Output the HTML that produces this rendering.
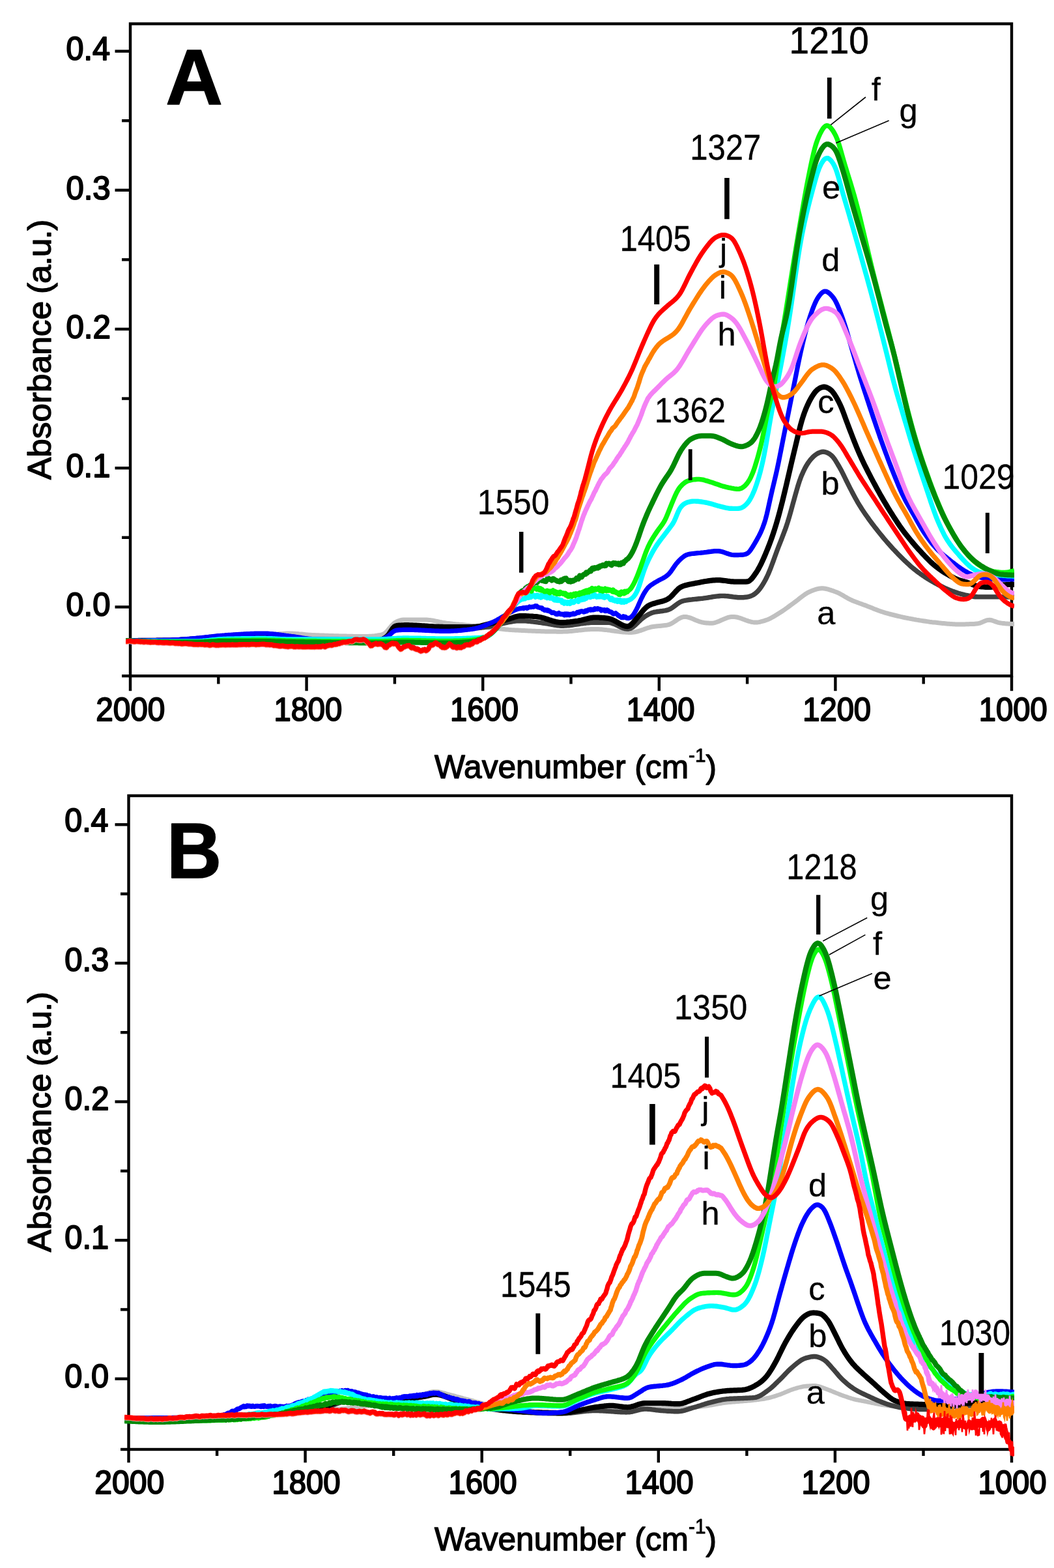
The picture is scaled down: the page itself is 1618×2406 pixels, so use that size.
<!DOCTYPE html>
<html lang="en">
<head>
<meta charset="utf-8">
<title>Absorbance spectra</title>
<style>
html,body{margin:0;padding:0;background:#fff;}
body{width:1618px;height:2406px;overflow:hidden;}
svg{display:block;}
text{font-family:"Liberation Sans",sans-serif;fill:#000;}
</style>
</head>
<body>
<svg width="1618" height="2406" viewBox="0 0 1618 2406">
<rect x="0" y="0" width="1618" height="2406" fill="#fff"/>
<g id="plotA">
<clipPath id="clipA"><rect x="193" y="36.5" width="1364" height="1012.7"/></clipPath>
<rect x="200" y="36.5" width="1353" height="1000.7" fill="none" stroke="#000" stroke-width="4.4"/>
<line x1="176.5" y1="931.4" x2="200" y2="931.4" stroke="#000" stroke-width="4.4"/>
<line x1="176.5" y1="718.2" x2="200" y2="718.2" stroke="#000" stroke-width="4.4"/>
<line x1="176.5" y1="505.0" x2="200" y2="505.0" stroke="#000" stroke-width="4.4"/>
<line x1="176.5" y1="291.8" x2="200" y2="291.8" stroke="#000" stroke-width="4.4"/>
<line x1="176.5" y1="78.6" x2="200" y2="78.6" stroke="#000" stroke-width="4.4"/>
<line x1="187" y1="824.8" x2="200" y2="824.8" stroke="#000" stroke-width="4.4"/>
<line x1="187" y1="611.6" x2="200" y2="611.6" stroke="#000" stroke-width="4.4"/>
<line x1="187" y1="398.4" x2="200" y2="398.4" stroke="#000" stroke-width="4.4"/>
<line x1="187" y1="185.2" x2="200" y2="185.2" stroke="#000" stroke-width="4.4"/>
<line x1="187" y1="1037.2" x2="200" y2="1037.2" stroke="#000" stroke-width="4.4"/>
<line x1="200.0" y1="1037.2" x2="200.0" y2="1060.2" stroke="#000" stroke-width="4.4"/>
<line x1="335.3" y1="1037.2" x2="335.3" y2="1049.5" stroke="#000" stroke-width="4.4"/>
<line x1="470.6" y1="1037.2" x2="470.6" y2="1060.2" stroke="#000" stroke-width="4.4"/>
<line x1="605.9" y1="1037.2" x2="605.9" y2="1049.5" stroke="#000" stroke-width="4.4"/>
<line x1="741.2" y1="1037.2" x2="741.2" y2="1060.2" stroke="#000" stroke-width="4.4"/>
<line x1="876.5" y1="1037.2" x2="876.5" y2="1049.5" stroke="#000" stroke-width="4.4"/>
<line x1="1011.8" y1="1037.2" x2="1011.8" y2="1060.2" stroke="#000" stroke-width="4.4"/>
<line x1="1147.1" y1="1037.2" x2="1147.1" y2="1049.5" stroke="#000" stroke-width="4.4"/>
<line x1="1282.4" y1="1037.2" x2="1282.4" y2="1060.2" stroke="#000" stroke-width="4.4"/>
<line x1="1417.7" y1="1037.2" x2="1417.7" y2="1049.5" stroke="#000" stroke-width="4.4"/>
<line x1="1553.0" y1="1037.2" x2="1553.0" y2="1060.2" stroke="#000" stroke-width="4.4"/>
<g clip-path="url(#clipA)" fill="none" stroke-linejoin="round" stroke-linecap="butt">
<path d="M193.0 983.1L195.0 983.1L197.0 983.2L199.0 983.2L201.0 983.3L203.0 983.3L205.0 983.4L207.0 983.4L209.0 983.4L211.0 983.5L213.0 983.5L215.0 983.5L217.0 983.6L219.0 983.6L221.0 983.6L223.0 983.7L225.0 983.7L227.0 983.7L229.0 983.7L231.0 983.8L233.0 983.8L235.0 983.8L237.0 983.8L239.0 983.8L241.0 983.8L243.0 983.9L245.0 983.9L247.0 983.9L249.0 983.9L251.0 983.9L253.0 983.9L255.0 983.9L257.0 983.9L259.0 983.9L261.0 984.0L263.0 984.0L265.0 984.0L267.0 984.0L269.0 984.0L271.0 984.0L273.0 984.0L275.0 984.0L277.0 984.0L279.0 984.0L281.0 984.0L283.0 984.0L285.0 984.0L287.0 984.0L289.0 984.0L291.0 984.0L293.0 984.0L295.0 984.0L297.0 984.0L299.0 984.0L301.0 984.0L303.0 984.0L305.0 983.9L307.0 983.9L309.0 983.8L311.0 983.8L313.0 983.7L315.0 983.6L317.0 983.5L319.0 983.4L321.0 983.2L323.0 983.1L325.0 982.9L327.0 982.8L329.0 982.6L331.0 982.4L333.0 982.2L335.0 982.1L337.0 981.9L339.0 981.7L341.0 981.4L343.0 981.2L345.0 981.0L347.0 980.8L349.0 980.6L351.0 980.3L353.0 980.1L355.0 979.8L357.0 979.6L359.0 979.4L361.0 979.1L363.0 978.9L365.0 978.6L367.0 978.4L369.0 978.2L371.0 977.9L373.0 977.7L375.0 977.5L377.0 977.2L379.0 977.0L381.0 976.8L383.0 976.6L385.0 976.4L387.0 976.2L389.0 976.0L391.0 975.8L393.0 975.6L395.0 975.4L397.0 975.2L399.0 975.1L401.0 974.9L403.0 974.8L405.0 974.6L407.0 974.4L409.0 974.3L411.0 974.1L413.0 973.9L415.0 973.7L417.0 973.5L419.0 973.4L421.0 973.2L423.0 973.0L425.0 972.9L427.0 972.7L429.0 972.6L431.0 972.5L433.0 972.4L435.0 972.3L437.0 972.2L439.0 972.1L441.0 972.1L443.0 972.0L445.0 972.0L447.0 972.0L449.0 972.1L451.0 972.2L453.0 972.3L455.0 972.4L457.0 972.6L459.0 972.8L461.0 972.9L463.0 973.1L465.0 973.3L467.0 973.5L469.0 973.7L471.0 973.9L473.0 974.1L475.0 974.2L477.0 974.3L479.0 974.4L481.0 974.5L483.0 974.6L485.0 974.7L487.0 974.8L489.0 974.8L491.0 974.9L493.0 975.0L495.0 975.1L497.0 975.1L499.0 975.2L501.0 975.3L503.0 975.3L505.0 975.4L507.0 975.5L509.0 975.5L511.0 975.6L513.0 975.7L515.0 975.7L517.0 975.8L519.0 975.8L521.0 975.9L523.0 976.0L525.0 976.0L527.0 976.1L529.0 976.1L531.0 976.1L533.0 976.2L535.0 976.2L537.0 976.3L539.0 976.3L541.0 976.3L543.0 976.4L545.0 976.4L547.0 976.4L549.0 976.4L551.0 976.5L553.0 976.5L555.0 976.5L557.0 976.5L559.0 976.5L561.0 976.5L563.0 976.5L565.0 976.4L567.0 976.3L569.0 976.2L571.0 976.1L573.0 975.9L575.0 975.7L577.0 975.4L579.0 975.1L581.0 974.8L583.0 974.5L585.0 974.1L587.0 973.5L589.0 972.7L591.0 971.5L593.0 969.7L595.0 967.5L597.0 965.1L599.0 962.6L601.0 960.2L603.0 958.1L605.0 956.3L607.0 955.0L609.0 953.9L611.0 953.0L613.0 952.3L615.0 951.7L617.0 951.3L619.0 951.1L621.0 951.0L623.0 951.0L625.0 951.0L627.0 951.0L629.0 951.0L631.0 951.0L633.0 951.0L635.0 951.0L637.0 951.0L639.0 951.0L641.0 951.0L643.0 951.0L645.0 951.0L647.0 951.0L649.0 951.0L651.0 951.0L653.0 951.0L655.0 951.1L657.0 951.2L659.0 951.4L661.0 951.6L663.0 951.9L665.0 952.3L667.0 952.7L669.0 953.1L671.0 953.5L673.0 953.9L675.0 954.4L677.0 954.8L679.0 955.2L681.0 955.5L683.0 955.8L685.0 956.1L687.0 956.4L689.0 956.6L691.0 956.8L693.0 957.0L695.0 957.3L697.0 957.5L699.0 957.7L701.0 957.9L703.0 958.1L705.0 958.3L707.0 958.4L709.0 958.6L711.0 958.8L713.0 959.0L715.0 959.2L717.0 959.4L719.0 959.6L721.0 959.8L723.0 960.0L725.0 960.2L727.0 960.4L729.0 960.6L731.0 960.8L733.0 961.1L735.0 961.3L737.0 961.5L739.0 961.7L741.0 961.9L743.0 962.2L745.0 962.4L747.0 962.6L749.0 962.8L751.0 963.0L753.0 963.3L755.0 963.5L757.0 963.7L759.0 963.9L761.0 964.1L763.0 964.3L765.0 964.6L767.0 964.8L769.0 965.0L771.0 965.3L773.0 965.5L775.0 965.7L777.0 965.9L779.0 966.1L781.0 966.3L783.0 966.4L785.0 966.6L787.0 966.7L789.0 966.8L791.0 966.9L793.0 967.0L795.0 967.1L797.0 967.2L799.0 967.3L801.0 967.4L803.0 967.5L805.0 967.6L807.0 967.7L809.0 967.8L811.0 967.9L813.0 968.0L815.0 968.1L817.0 968.2L819.0 968.2L821.0 968.3L823.0 968.4L825.0 968.5L827.0 968.5L829.0 968.6L831.0 968.7L833.0 968.7L835.0 968.8L837.0 968.9L839.0 968.9L841.0 968.9L843.0 969.0L845.0 969.0L847.0 969.1L849.0 969.1L851.0 969.1L853.0 969.1L855.0 969.2L857.0 969.2L859.0 969.2L861.0 969.2L863.0 969.2L865.0 969.1L867.0 969.1L869.0 969.0L871.0 968.9L873.0 968.7L875.0 968.6L877.0 968.4L879.0 968.2L881.0 968.0L883.0 967.8L885.0 967.6L887.0 967.4L889.0 967.1L891.0 966.9L893.0 966.7L895.0 966.5L897.0 966.3L899.0 966.1L901.0 965.9L903.0 965.8L905.0 965.7L907.0 965.6L909.0 965.5L911.0 965.4L913.0 965.4L915.0 965.4L917.0 965.5L919.0 965.6L921.0 965.7L923.0 965.8L925.0 966.0L927.0 966.2L929.0 966.4L931.0 966.6L933.0 966.9L935.0 967.1L937.0 967.4L939.0 967.7L941.0 967.9L943.0 968.2L945.0 968.5L947.0 968.7L949.0 969.0L951.0 969.2L953.0 969.5L955.0 969.7L957.0 969.9L959.0 970.0L961.0 970.2L963.0 970.3L965.0 970.4L967.0 970.4L969.0 970.4L971.0 970.3L973.0 970.1L975.0 969.8L977.0 969.4L979.0 968.8L981.0 968.2L983.0 967.6L985.0 966.9L987.0 966.2L989.0 965.4L991.0 964.7L993.0 964.0L995.0 963.3L997.0 962.8L999.0 962.2L1001.0 961.8L1003.0 961.5L1005.0 961.2L1007.0 960.9L1009.0 960.7L1011.0 960.6L1013.0 960.4L1015.0 960.2L1017.0 960.0L1019.0 959.8L1021.0 959.6L1023.0 959.3L1025.0 958.9L1027.0 958.4L1029.0 957.6L1031.0 956.6L1033.0 955.4L1035.0 954.1L1037.0 952.8L1039.0 951.4L1041.0 950.1L1043.0 948.9L1045.0 947.9L1047.0 947.1L1049.0 946.6L1051.0 946.4L1053.0 946.5L1055.0 946.8L1057.0 947.3L1059.0 947.9L1061.0 948.6L1063.0 949.4L1065.0 950.3L1067.0 951.2L1069.0 952.0L1071.0 952.8L1073.0 953.6L1075.0 954.2L1077.0 954.7L1079.0 955.1L1081.0 955.5L1083.0 955.7L1085.0 956.0L1087.0 956.1L1089.0 956.3L1091.0 956.3L1093.0 956.2L1095.0 956.0L1097.0 955.6L1099.0 955.0L1101.0 954.3L1103.0 953.6L1105.0 952.7L1107.0 951.8L1109.0 950.9L1111.0 950.1L1113.0 949.2L1115.0 948.4L1117.0 947.7L1119.0 947.1L1121.0 946.7L1123.0 946.4L1125.0 946.4L1127.0 946.4L1129.0 946.7L1131.0 947.0L1133.0 947.5L1135.0 948.1L1137.0 948.7L1139.0 949.4L1141.0 950.2L1143.0 950.9L1145.0 951.7L1147.0 952.4L1149.0 953.1L1151.0 953.7L1153.0 954.2L1155.0 954.6L1157.0 954.9L1159.0 955.0L1161.0 955.0L1163.0 954.9L1165.0 954.6L1167.0 954.2L1169.0 953.7L1171.0 953.2L1173.0 952.6L1175.0 951.9L1177.0 951.2L1179.0 950.5L1181.0 949.6L1183.0 948.6L1185.0 947.5L1187.0 946.4L1189.0 945.2L1191.0 944.0L1193.0 942.8L1195.0 941.5L1197.0 940.3L1199.0 939.0L1201.0 937.7L1203.0 936.4L1205.0 935.0L1207.0 933.5L1209.0 932.1L1211.0 930.6L1213.0 929.1L1215.0 927.7L1217.0 926.2L1219.0 924.7L1221.0 923.3L1223.0 921.7L1225.0 920.2L1227.0 918.6L1229.0 917.0L1231.0 915.5L1233.0 914.0L1235.0 912.6L1237.0 911.2L1239.0 910.0L1241.0 908.9L1243.0 908.0L1245.0 907.1L1247.0 906.3L1249.0 905.5L1251.0 904.8L1253.0 904.2L1255.0 903.6L1257.0 903.2L1259.0 902.9L1261.0 902.7L1263.0 902.8L1265.0 903.0L1267.0 903.3L1269.0 903.7L1271.0 904.2L1273.0 904.8L1275.0 905.4L1277.0 906.1L1279.0 906.7L1281.0 907.5L1283.0 908.2L1285.0 909.0L1287.0 909.9L1289.0 910.9L1291.0 912.0L1293.0 913.1L1295.0 914.3L1297.0 915.5L1299.0 916.6L1301.0 917.8L1303.0 918.8L1305.0 919.9L1307.0 920.8L1309.0 921.7L1311.0 922.5L1313.0 923.3L1315.0 924.0L1317.0 924.8L1319.0 925.5L1321.0 926.2L1323.0 926.9L1325.0 927.7L1327.0 928.4L1329.0 929.1L1331.0 929.9L1333.0 930.7L1335.0 931.5L1337.0 932.3L1339.0 933.1L1341.0 933.9L1343.0 934.7L1345.0 935.4L1347.0 936.2L1349.0 937.0L1351.0 937.7L1353.0 938.4L1355.0 939.0L1357.0 939.7L1359.0 940.3L1361.0 940.8L1363.0 941.4L1365.0 942.0L1367.0 942.5L1369.0 943.0L1371.0 943.5L1373.0 944.0L1375.0 944.5L1377.0 945.0L1379.0 945.5L1381.0 945.9L1383.0 946.4L1385.0 946.8L1387.0 947.3L1389.0 947.7L1391.0 948.1L1393.0 948.5L1395.0 948.9L1397.0 949.2L1399.0 949.6L1401.0 950.0L1403.0 950.4L1405.0 950.7L1407.0 951.1L1409.0 951.4L1411.0 951.8L1413.0 952.1L1415.0 952.4L1417.0 952.7L1419.0 953.0L1421.0 953.3L1423.0 953.6L1425.0 953.9L1427.0 954.2L1429.0 954.4L1431.0 954.7L1433.0 954.9L1435.0 955.1L1437.0 955.3L1439.0 955.5L1441.0 955.8L1443.0 956.0L1445.0 956.2L1447.0 956.4L1449.0 956.6L1451.0 956.8L1453.0 957.0L1455.0 957.2L1457.0 957.3L1459.0 957.5L1461.0 957.6L1463.0 957.7L1465.0 957.8L1467.0 957.9L1469.0 957.9L1471.0 958.0L1473.0 958.0L1475.0 958.0L1477.0 958.0L1479.0 957.9L1481.0 957.9L1483.0 957.8L1485.0 957.8L1487.0 957.7L1489.0 957.6L1491.0 957.6L1493.0 957.5L1495.0 957.4L1497.0 957.2L1499.0 957.1L1501.0 956.8L1503.0 956.4L1505.0 955.8L1507.0 955.0L1509.0 954.1L1511.0 953.2L1513.0 952.4L1515.0 951.7L1517.0 951.4L1519.0 951.3L1521.0 951.5L1523.0 952.0L1525.0 952.7L1527.0 953.4L1529.0 954.1L1531.0 954.8L1533.0 955.4L1535.0 955.8L1537.0 956.1L1539.0 956.4L1541.0 956.6L1543.0 956.8L1545.0 956.9L1547.0 957.1L1549.0 957.2L1551.0 957.3L1553.0 957.3L1555.0 957.4L1557.0 957.4" stroke="#c0c0c0" stroke-width="7.0"/>
<path d="M193.0 983.0L195.0 983.0L197.0 983.0L199.0 983.0L201.0 983.0L203.0 983.0L205.0 983.0L207.0 983.0L209.0 983.0L211.0 983.0L213.0 983.0L215.0 983.0L217.0 983.0L219.0 983.0L221.0 983.0L223.0 983.0L225.0 983.0L227.0 983.0L229.0 983.0L231.0 983.0L233.0 983.0L235.0 983.0L237.0 983.0L239.0 983.0L241.0 983.0L243.0 983.0L245.0 983.0L247.0 983.0L249.0 983.0L251.0 983.0L253.0 983.0L255.0 983.0L257.0 983.0L259.0 983.0L261.0 983.0L263.0 983.0L265.0 982.9L267.0 982.9L269.0 982.8L271.0 982.8L273.0 982.7L275.0 982.6L277.0 982.4L279.0 982.3L281.0 982.2L283.0 982.0L285.0 981.9L287.0 981.7L289.0 981.6L291.0 981.4L293.0 981.2L295.0 981.1L297.0 980.9L299.0 980.8L301.0 980.6L303.0 980.4L305.0 980.3L307.0 980.1L309.0 979.9L311.0 979.7L313.0 979.5L315.0 979.3L317.0 979.1L319.0 978.9L321.0 978.6L323.0 978.4L325.0 978.2L327.0 978.0L329.0 977.8L331.0 977.6L333.0 977.4L335.0 977.2L337.0 977.0L339.0 976.8L341.0 976.7L343.0 976.5L345.0 976.4L347.0 976.2L349.0 976.1L351.0 976.0L353.0 975.8L355.0 975.7L357.0 975.5L359.0 975.4L361.0 975.3L363.0 975.1L365.0 975.0L367.0 974.9L369.0 974.8L371.0 974.6L373.0 974.5L375.0 974.4L377.0 974.3L379.0 974.2L381.0 974.1L383.0 974.0L385.0 973.9L387.0 973.9L389.0 973.8L391.0 973.7L393.0 973.7L395.0 973.6L397.0 973.6L399.0 973.5L401.0 973.5L403.0 973.5L405.0 973.5L407.0 973.6L409.0 973.6L411.0 973.7L413.0 973.8L415.0 974.0L417.0 974.1L419.0 974.3L421.0 974.5L423.0 974.7L425.0 975.0L427.0 975.2L429.0 975.5L431.0 975.7L433.0 976.0L435.0 976.3L437.0 976.5L439.0 976.8L441.0 977.0L443.0 977.3L445.0 977.5L447.0 977.8L449.0 978.0L451.0 978.3L453.0 978.6L455.0 978.9L457.0 979.3L459.0 979.6L461.0 979.9L463.0 980.2L465.0 980.5L467.0 980.8L469.0 981.1L471.0 981.3L473.0 981.5L475.0 981.7L477.0 981.8L479.0 981.9L481.0 982.0L483.0 982.1L485.0 982.1L487.0 982.1L489.0 982.2L491.0 982.2L493.0 982.3L495.0 982.3L497.0 982.3L499.0 982.4L501.0 982.4L503.0 982.4L505.0 982.5L507.0 982.5L509.0 982.5L511.0 982.5L513.0 982.6L515.0 982.6L517.0 982.6L519.0 982.6L521.0 982.7L523.0 982.7L525.0 982.7L527.0 982.7L529.0 982.8L531.0 982.8L533.0 982.8L535.0 982.8L537.0 982.8L539.0 982.8L541.0 982.9L543.0 982.9L545.0 982.9L547.0 982.9L549.0 982.9L551.0 982.9L553.0 982.9L555.0 982.9L557.0 982.9L559.0 983.0L561.0 983.0L563.0 983.0L565.0 983.0L567.0 983.0L569.0 983.0L571.0 983.0L573.0 983.0L575.0 983.0L577.0 983.0L579.0 983.0L581.0 982.9L583.0 982.8L585.0 982.4L587.0 981.9L589.0 981.1L591.0 980.1L593.0 979.0L595.0 977.4L597.0 975.3L599.0 972.6L601.0 969.6L603.0 966.8L605.0 964.7L607.0 963.5L609.0 962.9L611.0 962.6L613.0 962.4L615.0 962.3L617.0 962.2L619.0 962.1L621.0 962.0L623.0 962.0L625.0 962.0L627.0 962.0L629.0 962.1L631.0 962.1L633.0 962.2L635.0 962.2L637.0 962.3L639.0 962.3L641.0 962.4L643.0 962.5L645.0 962.6L647.0 962.7L649.0 962.8L651.0 962.9L653.0 963.0L655.0 963.1L657.0 963.2L659.0 963.3L661.0 963.4L663.0 963.4L665.0 963.5L667.0 963.6L669.0 963.7L671.0 963.8L673.0 963.8L675.0 963.9L677.0 963.9L679.0 964.0L681.0 964.0L683.0 964.0L685.0 964.0L687.0 964.0L689.0 964.0L691.0 964.0L693.0 964.0L695.0 964.0L697.0 964.0L699.0 964.0L701.0 964.0L703.0 964.0L705.0 964.0L707.0 964.0L709.0 964.0L711.0 964.0L713.0 964.0L715.0 964.0L717.0 964.0L719.0 964.0L721.0 964.0L723.0 964.0L725.0 964.0L727.0 964.0L729.0 963.9L731.0 963.8L733.0 963.7L735.0 963.5L737.0 963.4L739.0 963.2L741.0 962.9L743.0 962.7L745.0 962.4L747.0 962.1L749.0 961.8L751.0 961.5L753.0 961.2L755.0 960.9L757.0 960.5L759.0 960.1L761.0 959.7L763.0 959.2L765.0 958.7L767.0 958.1L769.0 957.5L771.0 956.9L773.0 956.4L775.0 956.0L777.0 955.5L779.0 955.1L781.0 954.7L783.0 954.3L785.0 954.0L787.0 953.6L789.0 953.4L791.0 953.1L793.0 952.9L795.0 952.8L797.0 952.7L799.0 952.6L801.0 952.7L803.0 952.7L805.0 952.8L807.0 952.9L809.0 953.1L811.0 953.3L813.0 953.4L815.0 953.7L817.0 953.9L819.0 954.1L821.0 954.4L823.0 954.6L825.0 954.9L827.0 955.2L829.0 955.4L831.0 955.7L833.0 956.0L835.0 956.2L837.0 956.5L839.0 956.8L841.0 957.1L843.0 957.5L845.0 957.9L847.0 958.3L849.0 958.7L851.0 959.1L853.0 959.4L855.0 959.7L857.0 959.9L859.0 960.1L861.0 960.2L863.0 960.2L865.0 960.2L867.0 960.1L869.0 960.0L871.0 959.9L873.0 959.7L875.0 959.5L877.0 959.2L879.0 959.0L881.0 958.7L883.0 958.4L885.0 958.1L887.0 957.8L889.0 957.5L891.0 957.2L893.0 956.9L895.0 956.7L897.0 956.4L899.0 956.2L901.0 955.9L903.0 955.7L905.0 955.6L907.0 955.4L909.0 955.3L911.0 955.3L913.0 955.2L915.0 955.2L917.0 955.2L919.0 955.2L921.0 955.2L923.0 955.2L925.0 955.2L927.0 955.2L929.0 955.2L931.0 955.2L933.0 955.3L935.0 955.4L937.0 955.7L939.0 956.2L941.0 956.9L943.0 957.6L945.0 958.5L947.0 959.5L949.0 960.4L951.0 961.4L953.0 962.3L955.0 963.2L957.0 963.9L959.0 964.5L961.0 964.9L963.0 965.1L965.0 965.0L967.0 964.5L969.0 963.7L971.0 962.5L973.0 961.0L975.0 959.3L977.0 957.4L979.0 955.5L981.0 953.5L983.0 951.6L985.0 949.8L987.0 948.2L989.0 946.7L991.0 945.4L993.0 944.2L995.0 943.1L997.0 942.0L999.0 941.1L1001.0 940.3L1003.0 939.7L1005.0 939.2L1007.0 938.9L1009.0 938.5L1011.0 938.3L1013.0 938.0L1015.0 937.7L1017.0 937.5L1019.0 937.2L1021.0 936.9L1023.0 936.5L1025.0 935.9L1027.0 935.2L1029.0 934.3L1031.0 933.1L1033.0 931.7L1035.0 930.2L1037.0 928.7L1039.0 927.2L1041.0 925.8L1043.0 924.5L1045.0 923.4L1047.0 922.6L1049.0 922.0L1051.0 921.5L1053.0 921.2L1055.0 920.8L1057.0 920.5L1059.0 920.3L1061.0 920.1L1063.0 919.8L1065.0 919.6L1067.0 919.4L1069.0 919.2L1071.0 919.0L1073.0 918.8L1075.0 918.6L1077.0 918.4L1079.0 918.2L1081.0 917.9L1083.0 917.6L1085.0 917.3L1087.0 917.0L1089.0 916.6L1091.0 916.3L1093.0 916.0L1095.0 915.7L1097.0 915.4L1099.0 915.1L1101.0 914.9L1103.0 914.7L1105.0 914.5L1107.0 914.4L1109.0 914.4L1111.0 914.4L1113.0 914.5L1115.0 914.6L1117.0 914.8L1119.0 915.0L1121.0 915.3L1123.0 915.5L1125.0 915.8L1127.0 916.1L1129.0 916.3L1131.0 916.5L1133.0 916.7L1135.0 916.8L1137.0 916.8L1139.0 916.8L1141.0 916.7L1143.0 916.5L1145.0 916.3L1147.0 916.0L1149.0 915.6L1151.0 915.1L1153.0 914.4L1155.0 913.5L1157.0 912.4L1159.0 911.0L1161.0 909.4L1163.0 907.5L1165.0 905.3L1167.0 902.7L1169.0 899.8L1171.0 896.7L1173.0 893.3L1175.0 889.7L1177.0 885.8L1179.0 881.5L1181.0 876.8L1183.0 871.8L1185.0 866.5L1187.0 861.1L1189.0 855.6L1191.0 850.1L1193.0 844.6L1195.0 839.3L1197.0 834.2L1199.0 829.1L1201.0 823.9L1203.0 818.7L1205.0 813.4L1207.0 807.7L1209.0 801.7L1211.0 795.2L1213.0 788.3L1215.0 781.0L1217.0 773.6L1219.0 766.4L1221.0 759.2L1223.0 752.2L1225.0 745.4L1227.0 739.1L1229.0 733.4L1231.0 728.4L1233.0 723.9L1235.0 719.8L1237.0 716.0L1239.0 712.6L1241.0 709.6L1243.0 706.8L1245.0 704.4L1247.0 702.2L1249.0 700.3L1251.0 698.6L1253.0 697.1L1255.0 695.9L1257.0 694.9L1259.0 694.1L1261.0 693.5L1263.0 693.2L1265.0 693.3L1267.0 693.7L1269.0 694.3L1271.0 695.2L1273.0 696.3L1275.0 697.7L1277.0 699.4L1279.0 701.6L1281.0 704.3L1283.0 707.3L1285.0 710.6L1287.0 714.0L1289.0 717.4L1291.0 721.1L1293.0 724.9L1295.0 728.9L1297.0 733.0L1299.0 737.2L1301.0 741.2L1303.0 745.2L1305.0 749.1L1307.0 752.9L1309.0 756.8L1311.0 760.5L1313.0 764.2L1315.0 767.8L1317.0 771.3L1319.0 774.6L1321.0 777.8L1323.0 781.0L1325.0 784.0L1327.0 787.0L1329.0 789.9L1331.0 792.7L1333.0 795.5L1335.0 798.3L1337.0 801.0L1339.0 803.7L1341.0 806.3L1343.0 808.9L1345.0 811.4L1347.0 814.0L1349.0 816.5L1351.0 819.0L1353.0 821.4L1355.0 823.9L1357.0 826.3L1359.0 828.6L1361.0 831.0L1363.0 833.3L1365.0 835.5L1367.0 837.8L1369.0 840.0L1371.0 842.2L1373.0 844.3L1375.0 846.4L1377.0 848.5L1379.0 850.6L1381.0 852.6L1383.0 854.6L1385.0 856.6L1387.0 858.6L1389.0 860.5L1391.0 862.4L1393.0 864.3L1395.0 866.1L1397.0 867.9L1399.0 869.7L1401.0 871.4L1403.0 873.0L1405.0 874.6L1407.0 876.2L1409.0 877.7L1411.0 879.1L1413.0 880.6L1415.0 882.0L1417.0 883.4L1419.0 884.7L1421.0 886.1L1423.0 887.3L1425.0 888.6L1427.0 889.8L1429.0 891.0L1431.0 892.2L1433.0 893.3L1435.0 894.4L1437.0 895.5L1439.0 896.6L1441.0 897.6L1443.0 898.6L1445.0 899.6L1447.0 900.6L1449.0 901.6L1451.0 902.5L1453.0 903.4L1455.0 904.3L1457.0 905.1L1459.0 905.9L1461.0 906.7L1463.0 907.4L1465.0 908.1L1467.0 908.9L1469.0 909.5L1471.0 910.2L1473.0 910.8L1475.0 911.4L1477.0 911.9L1479.0 912.4L1481.0 912.9L1483.0 913.3L1485.0 913.7L1487.0 914.1L1489.0 914.5L1491.0 914.9L1493.0 915.2L1495.0 915.5L1497.0 915.7L1499.0 915.8L1501.0 915.9L1503.0 915.9L1505.0 915.9L1507.0 915.9L1509.0 915.9L1511.0 915.9L1513.0 915.9L1515.0 915.9L1517.0 915.9L1519.0 915.9L1521.0 915.9L1523.0 915.9L1525.0 915.9L1527.0 915.9L1529.0 915.9L1531.0 915.9L1533.0 915.9L1535.0 915.9L1537.0 915.9L1539.0 915.9L1541.0 915.9L1543.0 915.9L1545.0 915.9L1547.0 916.0L1549.0 916.0L1551.0 916.0L1553.0 916.0L1555.0 916.0L1557.0 916.0" stroke="#404040" stroke-width="7.4"/>
<path d="M193.0 983.0L195.0 983.0L197.0 983.0L199.0 983.0L201.0 983.0L203.0 983.0L205.0 983.0L207.0 983.0L209.0 983.0L211.0 983.0L213.0 982.9L215.0 982.9L217.0 982.9L219.0 982.9L221.0 982.9L223.0 982.9L225.0 982.9L227.0 982.9L229.0 982.8L231.0 982.8L233.0 982.8L235.0 982.8L237.0 982.8L239.0 982.8L241.0 982.7L243.0 982.7L245.0 982.7L247.0 982.7L249.0 982.6L251.0 982.6L253.0 982.6L255.0 982.6L257.0 982.6L259.0 982.5L261.0 982.5L263.0 982.5L265.0 982.4L267.0 982.3L269.0 982.3L271.0 982.2L273.0 982.1L275.0 982.0L277.0 981.9L279.0 981.7L281.0 981.6L283.0 981.5L285.0 981.3L287.0 981.2L289.0 981.0L291.0 980.9L293.0 980.7L295.0 980.6L297.0 980.4L299.0 980.3L301.0 980.1L303.0 979.9L305.0 979.8L307.0 979.6L309.0 979.4L311.0 979.2L313.0 979.0L315.0 978.8L317.0 978.6L319.0 978.4L321.0 978.1L323.0 977.9L325.0 977.7L327.0 977.5L329.0 977.3L331.0 977.1L333.0 976.9L335.0 976.7L337.0 976.5L339.0 976.3L341.0 976.2L343.0 976.0L345.0 975.9L347.0 975.7L349.0 975.6L351.0 975.5L353.0 975.3L355.0 975.2L357.0 975.0L359.0 974.9L361.0 974.8L363.0 974.6L365.0 974.5L367.0 974.4L369.0 974.3L371.0 974.1L373.0 974.0L375.0 973.9L377.0 973.8L379.0 973.7L381.0 973.6L383.0 973.5L385.0 973.4L387.0 973.4L389.0 973.3L391.0 973.2L393.0 973.2L395.0 973.1L397.0 973.1L399.0 973.0L401.0 973.0L403.0 973.0L405.0 973.0L407.0 973.1L409.0 973.1L411.0 973.2L413.0 973.3L415.0 973.5L417.0 973.6L419.0 973.8L421.0 974.0L423.0 974.2L425.0 974.5L427.0 974.7L429.0 975.0L431.0 975.2L433.0 975.5L435.0 975.8L437.0 976.0L439.0 976.3L441.0 976.5L443.0 976.8L445.0 977.0L447.0 977.3L449.0 977.5L451.0 977.8L453.0 978.1L455.0 978.4L457.0 978.8L459.0 979.1L461.0 979.4L463.0 979.7L465.0 980.0L467.0 980.3L469.0 980.6L471.0 980.8L473.0 981.0L475.0 981.2L477.0 981.3L479.0 981.4L481.0 981.5L483.0 981.6L485.0 981.6L487.0 981.6L489.0 981.7L491.0 981.7L493.0 981.8L495.0 981.8L497.0 981.8L499.0 981.9L501.0 981.9L503.0 981.9L505.0 982.0L507.0 982.0L509.0 982.0L511.0 982.0L513.0 982.1L515.0 982.1L517.0 982.1L519.0 982.1L521.0 982.2L523.0 982.2L525.0 982.2L527.0 982.2L529.0 982.3L531.0 982.3L533.0 982.3L535.0 982.3L537.0 982.3L539.0 982.3L541.0 982.4L543.0 982.4L545.0 982.4L547.0 982.4L549.0 982.4L551.0 982.4L553.0 982.4L555.0 982.4L557.0 982.4L559.0 982.5L561.0 982.5L563.0 982.5L565.0 982.5L567.0 982.5L569.0 982.5L571.0 982.5L573.0 982.5L575.0 982.5L577.0 982.5L579.0 982.5L581.0 982.4L583.0 982.2L585.0 981.7L587.0 981.0L589.0 980.0L591.0 978.7L593.0 977.3L595.0 975.4L597.0 973.1L599.0 970.2L601.0 967.0L603.0 964.1L605.0 962.0L607.0 960.7L609.0 960.1L611.0 959.8L613.0 959.6L615.0 959.5L617.0 959.4L619.0 959.3L621.0 959.2L623.0 959.2L625.0 959.2L627.0 959.2L629.0 959.3L631.0 959.3L633.0 959.4L635.0 959.5L637.0 959.6L639.0 959.7L641.0 959.8L643.0 959.9L645.0 960.0L647.0 960.2L649.0 960.3L651.0 960.4L653.0 960.6L655.0 960.7L657.0 960.8L659.0 961.0L661.0 961.1L663.0 961.2L665.0 961.3L667.0 961.5L669.0 961.6L671.0 961.7L673.0 961.7L675.0 961.8L677.0 961.9L679.0 961.9L681.0 962.0L683.0 962.0L685.0 962.0L687.0 962.0L689.0 962.0L691.0 962.0L693.0 962.0L695.0 962.0L697.0 962.0L699.0 962.0L701.0 962.0L703.0 962.0L705.0 962.0L707.0 962.0L709.0 962.0L711.0 962.0L713.0 962.0L715.0 962.0L717.0 962.0L719.0 962.0L721.0 962.0L723.0 962.0L725.0 962.0L727.0 961.9L729.0 961.8L731.0 961.6L733.0 961.3L735.0 961.0L737.0 960.7L739.0 960.3L741.0 959.8L743.0 959.3L745.0 958.8L747.0 958.3L749.0 957.8L751.0 957.3L753.0 956.7L755.0 956.2L757.0 955.7L759.0 955.2L761.0 954.8L763.0 954.3L765.0 953.8L767.0 953.4L769.0 952.9L771.0 952.4L773.0 951.9L775.0 951.4L777.0 950.9L779.0 950.3L781.0 949.8L783.0 949.2L785.0 948.5L787.0 947.8L789.0 947.1L791.0 946.4L793.0 945.9L795.0 945.5L797.0 945.2L799.0 945.1L801.0 945.0L803.0 945.1L805.0 945.1L807.0 945.2L809.0 945.3L811.0 945.4L813.0 945.5L815.0 945.6L817.0 945.7L819.0 945.9L821.0 946.0L823.0 946.2L825.0 946.4L827.0 946.7L829.0 947.0L831.0 947.5L833.0 948.0L835.0 948.5L837.0 949.1L839.0 949.8L841.0 950.4L843.0 951.1L845.0 951.7L847.0 952.4L849.0 953.0L851.0 953.5L853.0 954.0L855.0 954.4L857.0 954.7L859.0 955.0L861.0 955.1L863.0 955.1L865.0 955.1L867.0 955.0L869.0 954.9L871.0 954.7L873.0 954.5L875.0 954.3L877.0 954.0L879.0 953.8L881.0 953.5L883.0 953.2L885.0 953.0L887.0 952.7L889.0 952.3L891.0 951.9L893.0 951.5L895.0 951.0L897.0 950.5L899.0 950.0L901.0 949.5L903.0 949.0L905.0 948.5L907.0 948.1L909.0 947.9L911.0 947.7L913.0 947.6L915.0 947.6L917.0 947.6L919.0 947.7L921.0 947.8L923.0 947.9L925.0 948.0L927.0 948.2L929.0 948.4L931.0 948.6L933.0 948.8L935.0 949.2L937.0 949.7L939.0 950.4L941.0 951.3L943.0 952.3L945.0 953.4L947.0 954.5L949.0 955.7L951.0 956.8L953.0 957.9L955.0 958.9L957.0 959.8L959.0 960.5L961.0 961.0L963.0 961.1L965.0 960.8L967.0 959.9L969.0 958.4L971.0 956.4L973.0 954.1L975.0 951.6L977.0 949.1L979.0 946.7L981.0 944.4L983.0 942.0L985.0 939.5L987.0 937.1L989.0 934.8L991.0 932.8L993.0 931.1L995.0 929.7L997.0 928.6L999.0 927.7L1001.0 926.9L1003.0 926.3L1005.0 925.7L1007.0 925.1L1009.0 924.6L1011.0 924.1L1013.0 923.6L1015.0 923.1L1017.0 922.5L1019.0 921.9L1021.0 921.2L1023.0 920.3L1025.0 919.3L1027.0 918.0L1029.0 916.4L1031.0 914.5L1033.0 912.4L1035.0 910.1L1037.0 907.9L1039.0 905.8L1041.0 903.8L1043.0 902.2L1045.0 900.9L1047.0 900.0L1049.0 899.2L1051.0 898.5L1053.0 898.0L1055.0 897.5L1057.0 897.0L1059.0 896.6L1061.0 896.2L1063.0 895.8L1065.0 895.4L1067.0 895.0L1069.0 894.6L1071.0 894.3L1073.0 893.9L1075.0 893.5L1077.0 893.1L1079.0 892.7L1081.0 892.3L1083.0 892.0L1085.0 891.7L1087.0 891.4L1089.0 891.1L1091.0 890.8L1093.0 890.6L1095.0 890.4L1097.0 890.3L1099.0 890.2L1101.0 890.2L1103.0 890.2L1105.0 890.2L1107.0 890.4L1109.0 890.6L1111.0 890.8L1113.0 891.0L1115.0 891.3L1117.0 891.6L1119.0 891.8L1121.0 892.1L1123.0 892.3L1125.0 892.4L1127.0 892.6L1129.0 892.6L1131.0 892.7L1133.0 892.7L1135.0 892.7L1137.0 892.7L1139.0 892.7L1141.0 892.7L1143.0 892.7L1145.0 892.6L1147.0 892.4L1149.0 891.9L1151.0 890.7L1153.0 889.0L1155.0 886.7L1157.0 884.1L1159.0 881.2L1161.0 878.3L1163.0 875.1L1165.0 871.6L1167.0 867.8L1169.0 863.8L1171.0 859.5L1173.0 855.0L1175.0 850.3L1177.0 845.5L1179.0 840.6L1181.0 835.5L1183.0 830.1L1185.0 824.5L1187.0 818.6L1189.0 812.5L1191.0 806.1L1193.0 799.4L1195.0 792.4L1197.0 785.0L1199.0 777.3L1201.0 769.4L1203.0 761.3L1205.0 753.0L1207.0 744.6L1209.0 736.0L1211.0 727.3L1213.0 718.7L1215.0 710.1L1217.0 701.7L1219.0 693.4L1221.0 685.1L1223.0 676.7L1225.0 668.3L1227.0 660.0L1229.0 652.1L1231.0 645.0L1233.0 638.6L1235.0 632.9L1237.0 627.7L1239.0 623.0L1241.0 618.7L1243.0 614.7L1245.0 611.1L1247.0 607.7L1249.0 604.7L1251.0 602.0L1253.0 599.7L1255.0 597.9L1257.0 596.5L1259.0 595.3L1261.0 594.4L1263.0 593.9L1265.0 593.7L1267.0 593.9L1269.0 594.5L1271.0 595.4L1273.0 596.6L1275.0 598.1L1277.0 599.9L1279.0 602.3L1281.0 605.1L1283.0 608.3L1285.0 611.8L1287.0 615.5L1289.0 619.5L1291.0 623.9L1293.0 628.7L1295.0 633.9L1297.0 639.3L1299.0 644.8L1301.0 650.2L1303.0 655.5L1305.0 660.7L1307.0 665.9L1309.0 671.1L1311.0 676.2L1313.0 681.2L1315.0 686.2L1317.0 691.0L1319.0 695.6L1321.0 700.1L1323.0 704.5L1325.0 708.7L1327.0 712.9L1329.0 716.9L1331.0 720.9L1333.0 724.9L1335.0 728.7L1337.0 732.6L1339.0 736.4L1341.0 740.1L1343.0 743.8L1345.0 747.5L1347.0 751.2L1349.0 754.8L1351.0 758.4L1353.0 761.9L1355.0 765.4L1357.0 768.8L1359.0 772.2L1361.0 775.5L1363.0 778.8L1365.0 782.1L1367.0 785.3L1369.0 788.5L1371.0 791.6L1373.0 794.8L1375.0 797.8L1377.0 800.9L1379.0 803.8L1381.0 806.8L1383.0 809.6L1385.0 812.4L1387.0 815.1L1389.0 817.7L1391.0 820.3L1393.0 822.8L1395.0 825.3L1397.0 827.8L1399.0 830.2L1401.0 832.5L1403.0 834.9L1405.0 837.2L1407.0 839.4L1409.0 841.7L1411.0 843.9L1413.0 846.0L1415.0 848.2L1417.0 850.4L1419.0 852.5L1421.0 854.6L1423.0 856.7L1425.0 858.7L1427.0 860.7L1429.0 862.6L1431.0 864.4L1433.0 866.2L1435.0 867.9L1437.0 869.5L1439.0 871.0L1441.0 872.5L1443.0 874.0L1445.0 875.4L1447.0 876.7L1449.0 878.0L1451.0 879.3L1453.0 880.5L1455.0 881.6L1457.0 882.8L1459.0 883.9L1461.0 885.0L1463.0 886.0L1465.0 887.0L1467.0 887.9L1469.0 888.8L1471.0 889.6L1473.0 890.3L1475.0 891.0L1477.0 891.5L1479.0 892.1L1481.0 892.6L1483.0 893.2L1485.0 893.8L1487.0 894.5L1489.0 895.2L1491.0 896.0L1493.0 896.9L1495.0 897.7L1497.0 898.4L1499.0 899.1L1501.0 899.6L1503.0 899.9L1505.0 900.2L1507.0 900.4L1509.0 900.5L1511.0 900.7L1513.0 900.8L1515.0 900.9L1517.0 900.9L1519.0 900.9L1521.0 900.9L1523.0 900.7L1525.0 900.4L1527.0 900.0L1529.0 899.5L1531.0 899.0L1533.0 898.6L1535.0 898.1L1537.0 897.8L1539.0 897.6L1541.0 897.4L1543.0 897.3L1545.0 897.1L1547.0 897.0L1549.0 897.0L1551.0 896.9L1553.0 896.8L1555.0 896.8L1557.0 896.8" stroke="#000000" stroke-width="8.2"/>
<path d="M193.0 983.0L195.0 983.0L197.0 983.0L199.0 983.0L201.0 983.0L203.0 983.0L205.0 982.9L207.0 982.9L209.0 982.9L211.0 982.9L213.0 982.9L215.0 982.9L217.0 982.8L219.0 982.8L221.0 982.8L223.0 982.8L225.0 982.7L227.0 982.7L229.0 982.7L231.0 982.6L233.0 982.6L235.0 982.6L237.0 982.5L239.0 982.5L241.0 982.4L243.0 982.4L245.0 982.4L247.0 982.3L249.0 982.3L251.0 982.2L253.0 982.2L255.0 982.1L257.0 982.1L259.0 982.0L261.0 982.0L263.0 981.9L265.0 981.9L267.0 981.8L269.0 981.7L271.0 981.6L273.0 981.5L275.0 981.4L277.0 981.2L279.0 981.1L281.0 980.9L283.0 980.8L285.0 980.6L287.0 980.5L289.0 980.3L291.0 980.2L293.0 980.0L295.0 979.8L297.0 979.6L299.0 979.5L301.0 979.3L303.0 979.1L305.0 979.0L307.0 978.8L309.0 978.6L311.0 978.4L313.0 978.2L315.0 977.9L317.0 977.7L319.0 977.5L321.0 977.2L323.0 977.0L325.0 976.8L327.0 976.5L329.0 976.3L331.0 976.1L333.0 975.9L335.0 975.7L337.0 975.5L339.0 975.3L341.0 975.2L343.0 975.0L345.0 974.9L347.0 974.7L349.0 974.6L351.0 974.4L353.0 974.3L355.0 974.2L357.0 974.0L359.0 973.9L361.0 973.8L363.0 973.6L365.0 973.5L367.0 973.4L369.0 973.3L371.0 973.1L373.0 973.0L375.0 972.9L377.0 972.8L379.0 972.7L381.0 972.6L383.0 972.5L385.0 972.4L387.0 972.4L389.0 972.3L391.0 972.2L393.0 972.2L395.0 972.1L397.0 972.1L399.0 972.0L401.0 972.0L403.0 972.0L405.0 972.0L407.0 972.1L409.0 972.1L411.0 972.2L413.0 972.3L415.0 972.5L417.0 972.6L419.0 972.8L421.0 973.0L423.0 973.2L425.0 973.5L427.0 973.7L429.0 974.0L431.0 974.2L433.0 974.5L435.0 974.7L437.0 975.0L439.0 975.3L441.0 975.5L443.0 975.8L445.0 976.0L447.0 976.3L449.0 976.5L451.0 976.8L453.0 977.1L455.0 977.5L457.0 977.8L459.0 978.1L461.0 978.4L463.0 978.8L465.0 979.1L467.0 979.4L469.0 979.7L471.0 979.9L473.0 980.1L475.0 980.3L477.0 980.4L479.0 980.5L481.0 980.6L483.0 980.7L485.0 980.7L487.0 980.7L489.0 980.8L491.0 980.8L493.0 980.9L495.0 980.9L497.0 980.9L499.0 981.0L501.0 981.0L503.0 981.0L505.0 981.1L507.0 981.1L509.0 981.1L511.0 981.1L513.0 981.2L515.0 981.2L517.0 981.2L519.0 981.2L521.0 981.3L523.0 981.3L525.0 981.3L527.0 981.3L529.0 981.4L531.0 981.4L533.0 981.4L535.0 981.4L537.0 981.4L539.0 981.4L541.0 981.5L543.0 981.5L545.0 981.5L547.0 981.5L549.0 981.5L551.0 981.5L553.0 981.5L555.0 981.5L557.0 981.5L559.0 981.6L561.0 981.6L563.0 981.6L565.0 981.6L567.0 981.6L569.0 981.6L571.0 981.6L573.0 981.6L575.0 981.6L577.0 981.6L579.0 981.6L581.0 981.5L583.0 981.4L585.0 981.0L587.0 980.5L589.0 979.8L591.0 978.9L593.0 977.9L595.0 976.7L597.0 975.2L599.0 973.4L601.0 971.5L603.0 969.7L605.0 968.4L607.0 967.6L609.0 967.1L611.0 966.9L613.0 966.7L615.0 966.6L617.0 966.5L619.0 966.4L621.0 966.3L623.0 966.3L625.0 966.3L627.0 966.3L629.0 966.4L631.0 966.4L633.0 966.5L635.0 966.5L637.0 966.6L639.0 966.7L641.0 966.7L643.0 966.8L645.0 966.9L647.0 967.0L649.0 967.1L651.0 967.2L653.0 967.3L655.0 967.4L657.0 967.5L659.0 967.6L661.0 967.7L663.0 967.8L665.0 967.9L667.0 968.0L669.0 968.1L671.0 968.1L673.0 968.2L675.0 968.3L677.0 968.3L679.0 968.4L681.0 968.4L683.0 968.4L685.0 968.4L687.0 968.4L689.0 968.3L691.0 968.3L693.0 968.2L695.0 968.1L697.0 968.0L699.0 967.9L701.0 967.8L703.0 967.6L705.0 967.5L707.0 967.3L709.0 967.1L711.0 966.9L713.0 966.7L715.0 966.5L717.0 966.3L719.0 966.0L721.0 965.8L723.0 965.5L725.0 965.3L727.0 964.9L729.0 964.6L731.0 964.1L733.0 963.6L735.0 963.0L737.0 962.4L739.0 961.7L741.0 961.0L743.0 960.2L745.0 959.5L747.0 958.6L749.0 957.8L751.0 957.0L753.0 956.1L755.0 955.3L757.0 954.4L759.0 953.4L761.0 952.4L763.0 951.4L765.0 950.2L767.0 949.1L769.0 947.9L771.0 946.7L773.0 945.5L775.0 944.3L777.0 943.1L779.0 942.0L781.0 940.9L783.0 939.8L785.0 938.8L787.0 937.9L789.0 936.9L791.0 935.9L793.0 935.1L795.0 934.4L797.0 933.9L799.0 933.6L801.0 933.4L802.0 933.4L803.0 932.7L804.0 933.6L805.0 932.5L806.0 932.5L807.0 932.4L808.0 932.2L809.0 933.4L810.0 933.0L811.0 932.1L812.0 931.9L813.0 931.0L814.0 931.4L815.0 931.7L816.0 931.5L817.0 931.1L818.0 931.0L819.0 931.3L820.0 930.6L821.0 930.0L822.0 929.7L823.0 930.3L824.0 929.9L825.0 931.2L826.0 931.9L827.0 932.0L828.0 932.0L829.0 932.6L830.0 932.6L831.0 933.0L832.0 932.9L833.0 935.0L834.0 935.2L835.0 935.1L836.0 936.4L837.0 935.7L838.0 935.9L839.0 936.8L840.0 936.1L841.0 937.2L842.0 936.5L843.0 937.1L844.0 938.4L845.0 938.4L846.0 939.2L847.0 940.3L848.0 940.4L849.0 940.1L850.0 939.8L851.0 940.6L852.0 941.0L853.0 942.1L854.0 942.6L855.0 941.6L856.0 942.5L857.0 941.8L858.0 940.5L859.0 942.1L860.0 942.3L861.0 942.7L862.0 942.2L863.0 942.3L864.0 942.4L865.0 943.4L866.0 943.9L867.0 942.0L868.0 943.6L869.0 942.0L870.0 943.6L871.0 942.0L872.0 943.4L873.0 942.3L874.0 943.8L875.0 943.2L876.0 943.2L877.0 942.1L878.0 942.7L879.0 942.4L880.0 941.4L881.0 942.4L882.0 942.2L883.0 941.8L884.0 941.5L885.0 940.9L886.0 939.5L887.0 940.1L888.0 939.2L889.0 939.9L890.0 938.5L891.0 938.3L892.0 938.0L893.0 937.8L894.0 938.1L895.0 938.1L896.0 939.1L897.0 938.8L898.0 938.7L899.0 936.9L900.0 937.6L901.0 937.8L902.0 936.1L903.0 935.6L904.0 935.7L905.0 935.2L906.0 936.1L907.0 935.1L908.0 936.1L909.0 935.4L910.0 935.9L911.0 935.8L912.0 934.4L913.0 933.8L914.0 935.1L915.0 934.4L916.0 934.0L917.0 934.8L918.0 933.8L919.0 934.4L920.0 934.4L921.0 935.2L922.0 934.9L923.0 936.9L924.0 936.2L925.0 935.7L926.0 936.1L927.0 936.8L928.0 935.8L929.0 937.6L930.0 936.9L931.0 937.4L932.0 935.8L933.0 936.4L934.0 937.0L935.0 938.3L936.0 938.4L937.0 939.1L938.0 938.9L939.0 939.4L940.0 940.7L941.0 941.7L942.0 942.1L943.0 941.7L944.0 941.4L945.0 940.7L946.0 941.7L947.0 942.2L948.0 943.4L949.0 944.5L950.0 944.4L951.0 945.7L952.0 946.5L953.0 946.6L954.0 947.7L955.0 947.5L956.0 947.6L957.0 945.7L958.0 947.4L959.0 946.7L960.0 946.4L961.0 947.3L962.0 948.5L963.0 948.5L964.0 948.6L965.0 948.4L967.0 948.0L969.0 946.8L971.0 944.8L973.0 942.1L975.0 938.8L977.0 935.1L979.0 931.0L981.0 926.4L983.0 921.9L985.0 917.6L987.0 913.6L989.0 910.0L991.0 906.8L993.0 904.0L995.0 901.7L997.0 899.8L999.0 898.1L1001.0 896.7L1003.0 895.4L1005.0 894.2L1007.0 893.0L1009.0 891.8L1011.0 890.7L1013.0 889.6L1015.0 888.6L1017.0 887.6L1019.0 886.5L1021.0 885.3L1023.0 883.9L1025.0 882.3L1027.0 880.4L1029.0 878.0L1031.0 875.3L1033.0 872.4L1035.0 869.4L1037.0 866.6L1039.0 864.1L1041.0 861.8L1043.0 859.7L1045.0 857.8L1047.0 856.1L1049.0 854.4L1051.0 853.0L1053.0 851.9L1055.0 851.1L1057.0 850.5L1059.0 850.1L1061.0 849.8L1063.0 849.5L1065.0 849.3L1067.0 849.1L1069.0 848.9L1071.0 848.7L1073.0 848.5L1075.0 848.4L1077.0 848.2L1079.0 848.0L1081.0 847.7L1083.0 847.5L1085.0 847.2L1087.0 846.9L1089.0 846.6L1091.0 846.4L1093.0 846.1L1095.0 845.9L1097.0 845.7L1099.0 845.6L1101.0 845.6L1103.0 845.7L1105.0 845.9L1107.0 846.3L1109.0 846.8L1111.0 847.4L1113.0 848.1L1115.0 848.8L1117.0 849.5L1119.0 850.2L1121.0 850.7L1123.0 851.2L1125.0 851.5L1127.0 851.7L1129.0 851.7L1131.0 851.7L1133.0 851.6L1135.0 851.5L1137.0 851.4L1139.0 851.3L1141.0 851.1L1143.0 850.8L1145.0 850.3L1147.0 849.3L1149.0 847.8L1151.0 845.6L1153.0 842.8L1155.0 839.7L1157.0 836.5L1159.0 833.1L1161.0 829.7L1163.0 826.1L1165.0 822.4L1167.0 818.4L1169.0 814.0L1171.0 809.1L1173.0 803.6L1175.0 797.2L1177.0 789.6L1179.0 781.0L1181.0 771.8L1183.0 762.7L1185.0 753.9L1187.0 745.5L1189.0 737.1L1191.0 728.6L1193.0 719.7L1195.0 710.3L1197.0 700.4L1199.0 690.2L1201.0 680.0L1203.0 669.9L1205.0 659.9L1207.0 649.9L1209.0 640.0L1211.0 630.0L1213.0 620.0L1215.0 610.0L1217.0 600.1L1219.0 590.1L1221.0 580.2L1223.0 570.1L1225.0 560.1L1227.0 550.3L1229.0 541.0L1231.0 532.1L1233.0 523.7L1235.0 515.6L1237.0 507.9L1239.0 500.5L1241.0 493.6L1243.0 487.2L1245.0 481.3L1247.0 475.6L1249.0 470.4L1251.0 465.6L1253.0 461.4L1255.0 457.7L1257.0 454.7L1259.0 452.1L1261.0 449.9L1263.0 448.2L1265.0 447.2L1267.0 447.0L1269.0 447.4L1271.0 448.5L1273.0 450.0L1275.0 451.8L1277.0 454.0L1279.0 456.4L1281.0 459.3L1283.0 462.8L1285.0 466.9L1287.0 471.5L1289.0 476.5L1291.0 481.7L1293.0 487.2L1295.0 492.9L1297.0 499.0L1299.0 505.4L1301.0 512.1L1303.0 519.0L1305.0 525.9L1307.0 532.8L1309.0 539.7L1311.0 546.6L1313.0 553.5L1315.0 560.4L1317.0 567.2L1319.0 573.9L1321.0 580.4L1323.0 586.8L1325.0 593.2L1327.0 599.4L1329.0 605.5L1331.0 611.7L1333.0 617.7L1335.0 623.8L1337.0 629.8L1339.0 635.8L1341.0 641.8L1343.0 647.7L1345.0 653.6L1347.0 659.4L1349.0 665.2L1351.0 671.0L1353.0 676.6L1355.0 682.2L1357.0 687.7L1359.0 693.2L1361.0 698.6L1363.0 704.0L1365.0 709.2L1367.0 714.4L1369.0 719.6L1371.0 724.6L1373.0 729.6L1375.0 734.6L1377.0 739.5L1379.0 744.3L1381.0 749.0L1383.0 753.5L1385.0 757.9L1387.0 762.0L1389.0 766.0L1391.0 769.7L1393.0 773.3L1395.0 776.8L1397.0 780.3L1399.0 783.7L1401.0 787.1L1403.0 790.5L1405.0 794.1L1407.0 797.6L1409.0 801.2L1411.0 804.7L1413.0 808.2L1415.0 811.6L1417.0 814.8L1419.0 817.9L1421.0 820.8L1423.0 823.7L1425.0 826.4L1427.0 829.1L1429.0 831.7L1431.0 834.2L1433.0 836.6L1435.0 838.9L1437.0 841.1L1439.0 843.1L1441.0 845.1L1443.0 847.0L1445.0 848.8L1447.0 850.5L1449.0 852.2L1451.0 853.8L1453.0 855.4L1455.0 857.0L1457.0 858.6L1459.0 860.2L1461.0 861.8L1463.0 863.3L1465.0 864.9L1467.0 866.5L1469.0 868.0L1471.0 869.4L1473.0 870.8L1475.0 872.2L1477.0 873.5L1479.0 874.8L1481.0 876.0L1483.0 877.2L1485.0 878.4L1487.0 879.5L1489.0 880.4L1491.0 881.3L1493.0 882.1L1495.0 882.9L1497.0 883.6L1499.0 884.3L1501.0 884.9L1503.0 885.4L1505.0 886.0L1507.0 886.4L1509.0 886.8L1511.0 887.1L1513.0 887.4L1515.0 887.7L1517.0 888.0L1519.0 888.2L1521.0 888.5L1523.0 888.6L1525.0 888.8L1527.0 888.9L1529.0 889.0L1531.0 889.1L1533.0 889.1L1535.0 889.1L1537.0 889.1L1539.0 889.1L1541.0 889.1L1543.0 889.1L1545.0 889.1L1547.0 889.1L1549.0 889.1L1551.0 889.0L1553.0 889.0L1555.0 889.0L1557.0 889.0" stroke="#0000ff" stroke-width="7.2"/>
<path d="M193.0 983.1L195.0 983.1L197.0 983.2L199.0 983.2L201.0 983.3L203.0 983.3L205.0 983.4L207.0 983.4L209.0 983.4L211.0 983.5L213.0 983.5L215.0 983.5L217.0 983.6L219.0 983.6L221.0 983.6L223.0 983.7L225.0 983.7L227.0 983.7L229.0 983.7L231.0 983.8L233.0 983.8L235.0 983.8L237.0 983.8L239.0 983.8L241.0 983.8L243.0 983.9L245.0 983.9L247.0 983.9L249.0 983.9L251.0 983.9L253.0 983.9L255.0 983.9L257.0 983.9L259.0 983.9L261.0 984.0L263.0 984.0L265.0 984.0L267.0 984.0L269.0 984.0L271.0 984.0L273.0 984.0L275.0 984.0L277.0 984.0L279.0 984.0L281.0 984.0L283.0 984.0L285.0 984.0L287.0 984.0L289.0 984.0L291.0 984.0L293.0 984.0L295.0 984.0L297.0 984.0L299.0 984.0L301.0 984.0L303.0 983.9L305.0 983.9L307.0 983.8L309.0 983.6L311.0 983.5L313.0 983.3L315.0 983.1L317.0 982.9L319.0 982.7L321.0 982.5L323.0 982.2L325.0 982.0L327.0 981.8L329.0 981.6L331.0 981.4L333.0 981.2L335.0 981.0L337.0 980.8L339.0 980.7L341.0 980.6L343.0 980.5L345.0 980.4L347.0 980.4L349.0 980.3L351.0 980.3L353.0 980.2L355.0 980.2L357.0 980.1L359.0 980.1L361.0 980.0L363.0 980.0L365.0 980.0L367.0 979.9L369.0 979.9L371.0 979.8L373.0 979.8L375.0 979.8L377.0 979.7L379.0 979.7L381.0 979.7L383.0 979.6L385.0 979.6L387.0 979.6L389.0 979.6L391.0 979.6L393.0 979.5L395.0 979.5L397.0 979.5L399.0 979.5L401.0 979.5L403.0 979.5L405.0 979.5L407.0 979.5L409.0 979.6L411.0 979.6L413.0 979.7L415.0 979.8L417.0 979.8L419.0 979.9L421.0 980.0L423.0 980.2L425.0 980.3L427.0 980.4L429.0 980.5L431.0 980.6L433.0 980.7L435.0 980.8L437.0 980.8L439.0 980.9L441.0 980.9L443.0 981.0L445.0 981.0L447.0 981.0L449.0 981.0L451.0 981.0L453.0 981.0L455.0 981.0L457.0 981.0L459.0 981.0L461.0 981.0L463.0 981.0L465.0 981.0L467.0 981.0L469.0 981.0L471.0 981.0L473.0 981.0L475.0 981.0L477.0 981.0L479.0 981.0L481.0 981.0L483.0 981.0L485.0 981.0L487.0 981.0L489.0 981.0L491.0 981.0L493.0 981.0L495.0 981.0L497.0 981.0L499.0 981.0L501.0 981.0L503.0 981.0L505.0 981.0L507.0 981.0L509.0 981.0L511.0 981.0L513.0 981.0L515.0 981.0L517.0 981.0L519.0 981.0L521.0 981.0L523.0 981.0L525.0 981.0L527.0 981.0L529.0 981.0L531.0 981.0L533.0 981.0L535.0 981.0L537.0 981.0L539.0 981.0L541.0 981.0L543.0 981.0L545.0 981.0L547.0 981.0L549.0 981.0L551.0 981.0L553.0 981.0L555.0 981.0L557.0 981.0L559.0 981.0L561.0 981.0L563.0 981.0L565.0 981.0L567.0 981.0L569.0 981.0L571.0 981.0L573.0 981.0L575.0 981.0L577.0 981.0L579.0 981.0L581.0 981.0L583.0 981.0L585.0 980.9L587.0 980.9L589.0 980.8L591.0 980.7L593.0 980.6L595.0 980.4L597.0 980.3L599.0 980.2L601.0 980.0L603.0 979.8L605.0 979.7L607.0 979.6L609.0 979.4L611.0 979.3L613.0 979.2L615.0 979.1L617.0 979.1L619.0 979.0L621.0 979.0L623.0 979.0L625.0 979.0L627.0 979.0L629.0 979.1L631.0 979.1L633.0 979.1L635.0 979.1L637.0 979.2L639.0 979.2L641.0 979.3L643.0 979.3L645.0 979.3L647.0 979.4L649.0 979.4L651.0 979.5L653.0 979.5L655.0 979.6L657.0 979.6L659.0 979.7L661.0 979.7L663.0 979.7L665.0 979.8L667.0 979.8L669.0 979.9L671.0 979.9L673.0 979.9L675.0 979.9L677.0 980.0L679.0 980.0L681.0 980.0L683.0 980.0L685.0 980.0L687.0 980.0L689.0 980.0L691.0 980.0L693.0 979.9L695.0 979.9L697.0 979.9L699.0 979.8L701.0 979.8L703.0 979.7L705.0 979.7L707.0 979.6L709.0 979.6L711.0 979.5L713.0 979.4L715.0 979.4L717.0 979.3L719.0 979.2L721.0 979.1L723.0 979.1L725.0 979.0L727.0 978.9L729.0 978.8L731.0 978.7L733.0 978.6L735.0 978.5L737.0 978.4L739.0 978.2L741.0 978.0L743.0 977.8L745.0 977.5L747.0 976.9L749.0 976.1L751.0 974.9L753.0 973.4L755.0 971.7L757.0 969.8L759.0 967.6L761.0 965.4L763.0 963.1L765.0 960.6L767.0 958.0L769.0 955.0L771.0 951.8L773.0 948.7L775.0 945.7L777.0 943.0L779.0 940.5L781.0 938.2L783.0 935.9L785.0 933.8L787.0 931.7L789.0 929.6L791.0 927.5L793.0 925.5L795.0 923.5L797.0 921.9L799.0 920.6L801.0 919.3L802.0 919.5L803.0 919.6L804.0 918.3L805.0 918.2L806.0 918.9L807.0 917.7L808.0 916.1L809.0 913.6L810.0 917.3L811.0 917.2L812.0 917.1L813.0 916.3L814.0 913.2L815.0 916.4L816.0 912.8L817.0 913.0L818.0 912.7L819.0 914.8L820.0 914.5L821.0 914.0L822.0 916.1L823.0 913.9L824.0 915.0L825.0 913.1L826.0 913.7L827.0 915.9L828.0 915.7L829.0 915.5L830.0 916.9L831.0 913.3L832.0 916.3L833.0 914.4L834.0 915.0L835.0 914.2L836.0 914.9L837.0 916.3L838.0 914.4L839.0 915.9L840.0 917.6L841.0 914.2L842.0 915.0L843.0 916.9L844.0 917.9L845.0 915.6L846.0 917.8L847.0 917.1L848.0 917.0L849.0 918.5L850.0 920.2L851.0 920.8L852.0 918.6L853.0 920.4L854.0 921.1L855.0 918.9L856.0 921.4L857.0 919.9L858.0 921.4L859.0 920.3L860.0 921.9L861.0 921.5L862.0 921.0L863.0 924.4L864.0 924.0L865.0 924.2L866.0 926.0L867.0 923.4L868.0 925.7L869.0 924.2L870.0 924.9L871.0 926.1L872.0 923.8L873.0 925.1L874.0 924.7L875.0 926.4L876.0 925.6L877.0 922.4L878.0 924.9L879.0 923.7L880.0 923.3L881.0 924.5L882.0 922.7L883.0 922.3L884.0 921.4L885.0 922.2L886.0 921.8L887.0 921.6L888.0 923.1L889.0 919.0L890.0 919.2L891.0 920.1L892.0 918.1L893.0 920.6L894.0 917.6L895.0 920.1L896.0 919.9L897.0 919.8L898.0 916.0L899.0 915.8L900.0 918.3L901.0 916.3L902.0 916.5L903.0 915.2L904.0 914.5L905.0 916.1L906.0 916.6L907.0 915.8L908.0 915.7L909.0 914.4L910.0 913.9L911.0 915.3L912.0 912.1L913.0 912.6L914.0 914.1L915.0 915.1L916.0 916.1L917.0 914.9L918.0 915.5L919.0 915.9L920.0 913.8L921.0 915.6L922.0 915.7L923.0 913.4L924.0 914.7L925.0 913.1L926.0 916.3L927.0 915.1L928.0 917.2L929.0 915.0L930.0 915.8L931.0 914.8L932.0 915.4L933.0 914.8L934.0 916.3L935.0 917.4L936.0 918.4L937.0 920.2L938.0 920.3L939.0 917.8L940.0 920.7L941.0 921.2L942.0 920.9L943.0 920.4L944.0 922.2L945.0 920.8L946.0 920.8L947.0 920.5L948.0 923.2L949.0 920.9L950.0 922.3L951.0 922.3L952.0 920.8L953.0 924.1L954.0 924.2L955.0 924.2L956.0 921.6L957.0 921.7L958.0 924.3L959.0 921.5L960.0 923.0L961.0 923.4L962.0 922.1L963.0 921.2L964.0 921.6L965.0 921.1L967.0 920.2L969.0 919.0L971.0 917.3L973.0 915.2L975.0 912.6L977.0 909.2L979.0 904.9L981.0 899.5L983.0 893.3L985.0 886.7L987.0 880.3L989.0 874.5L991.0 869.3L993.0 864.6L995.0 860.2L997.0 856.1L999.0 852.2L1001.0 848.5L1003.0 844.9L1005.0 841.6L1007.0 838.4L1009.0 835.4L1011.0 832.5L1013.0 829.8L1015.0 827.1L1017.0 824.5L1019.0 821.9L1021.0 819.3L1023.0 816.7L1025.0 814.0L1027.0 811.4L1029.0 808.8L1031.0 806.1L1033.0 803.1L1035.0 799.5L1037.0 795.0L1039.0 790.1L1041.0 785.3L1043.0 781.3L1045.0 778.3L1047.0 776.0L1049.0 774.1L1051.0 772.7L1053.0 771.7L1055.0 770.9L1057.0 770.3L1059.0 769.9L1061.0 769.5L1063.0 769.2L1065.0 769.1L1067.0 769.1L1069.0 769.2L1071.0 769.3L1073.0 769.5L1075.0 769.8L1077.0 770.0L1079.0 770.3L1081.0 770.7L1083.0 771.0L1085.0 771.4L1087.0 771.8L1089.0 772.3L1091.0 772.8L1093.0 773.4L1095.0 774.0L1097.0 774.6L1099.0 775.2L1101.0 775.8L1103.0 776.3L1105.0 776.9L1107.0 777.4L1109.0 777.9L1111.0 778.4L1113.0 778.9L1115.0 779.3L1117.0 779.7L1119.0 780.0L1121.0 780.2L1123.0 780.3L1125.0 780.4L1127.0 780.4L1129.0 780.4L1131.0 780.4L1133.0 780.3L1135.0 780.1L1137.0 779.7L1139.0 778.8L1141.0 777.7L1143.0 776.2L1145.0 774.5L1147.0 772.4L1149.0 769.9L1151.0 766.9L1153.0 763.3L1155.0 759.3L1157.0 754.8L1159.0 749.8L1161.0 744.2L1163.0 738.2L1165.0 731.6L1167.0 724.4L1169.0 716.4L1171.0 707.6L1173.0 698.0L1175.0 687.4L1177.0 676.2L1179.0 664.5L1181.0 652.7L1183.0 641.2L1185.0 630.3L1187.0 619.9L1189.0 609.9L1191.0 600.1L1193.0 590.2L1195.0 580.2L1197.0 570.1L1199.0 559.8L1201.0 549.3L1203.0 538.6L1205.0 527.5L1207.0 516.0L1209.0 504.1L1211.0 491.8L1213.0 478.9L1215.0 465.6L1217.0 451.7L1219.0 437.5L1221.0 423.2L1223.0 409.2L1225.0 395.7L1227.0 383.1L1229.0 371.5L1231.0 360.8L1233.0 350.9L1235.0 341.5L1237.0 332.7L1239.0 324.2L1241.0 316.0L1243.0 308.2L1245.0 300.6L1247.0 293.1L1249.0 285.8L1251.0 278.5L1253.0 271.5L1255.0 265.0L1257.0 259.4L1259.0 254.7L1261.0 250.9L1263.0 247.7L1265.0 245.1L1267.0 243.4L1269.0 242.6L1271.0 242.8L1273.0 243.9L1275.0 245.7L1277.0 248.1L1279.0 251.0L1281.0 254.7L1283.0 259.3L1285.0 265.1L1287.0 271.7L1289.0 278.8L1291.0 286.2L1293.0 293.5L1295.0 300.5L1297.0 307.4L1299.0 314.2L1301.0 321.0L1303.0 327.8L1305.0 334.7L1307.0 341.6L1309.0 348.6L1311.0 355.5L1313.0 362.6L1315.0 369.6L1317.0 376.6L1319.0 383.7L1321.0 390.8L1323.0 397.9L1325.0 405.1L1327.0 412.2L1329.0 419.4L1331.0 426.6L1333.0 433.9L1335.0 441.2L1337.0 448.6L1339.0 456.1L1341.0 463.6L1343.0 471.2L1345.0 478.8L1347.0 486.6L1349.0 494.4L1351.0 502.3L1353.0 510.2L1355.0 518.1L1357.0 526.1L1359.0 534.1L1361.0 542.1L1363.0 550.2L1365.0 558.4L1367.0 566.6L1369.0 574.6L1371.0 582.5L1373.0 590.1L1375.0 597.4L1377.0 604.5L1379.0 611.4L1381.0 618.2L1383.0 625.0L1385.0 631.7L1387.0 638.4L1389.0 645.1L1391.0 651.8L1393.0 658.5L1395.0 665.2L1397.0 671.9L1399.0 678.4L1401.0 685.0L1403.0 691.4L1405.0 697.7L1407.0 704.0L1409.0 710.1L1411.0 716.2L1413.0 722.3L1415.0 728.3L1417.0 734.3L1419.0 740.3L1421.0 746.2L1423.0 752.3L1425.0 758.4L1427.0 764.4L1429.0 770.5L1431.0 776.4L1433.0 782.1L1435.0 787.6L1437.0 792.8L1439.0 797.8L1441.0 802.5L1443.0 807.1L1445.0 811.5L1447.0 815.7L1449.0 819.7L1451.0 823.4L1453.0 826.8L1455.0 830.0L1457.0 832.9L1459.0 835.8L1461.0 838.4L1463.0 841.0L1465.0 843.4L1467.0 845.8L1469.0 848.1L1471.0 850.4L1473.0 852.7L1475.0 855.0L1477.0 857.2L1479.0 859.4L1481.0 861.5L1483.0 863.6L1485.0 865.5L1487.0 867.4L1489.0 869.1L1491.0 870.7L1493.0 872.2L1495.0 873.5L1497.0 874.8L1499.0 875.9L1501.0 876.9L1503.0 877.6L1505.0 878.2L1507.0 878.8L1509.0 879.2L1511.0 879.6L1513.0 880.0L1515.0 880.3L1517.0 880.6L1519.0 880.9L1521.0 881.1L1523.0 881.4L1525.0 881.6L1527.0 881.8L1529.0 882.1L1531.0 882.3L1533.0 882.5L1535.0 882.7L1537.0 882.9L1539.0 883.1L1541.0 883.3L1543.0 883.4L1545.0 883.5L1547.0 883.7L1549.0 883.8L1551.0 883.9L1553.0 883.9L1555.0 884.0L1557.0 884.0" stroke="#00ffff" stroke-width="7.4"/>
<path d="M193.0 983.2L195.0 983.3L197.0 983.4L199.0 983.4L201.0 983.5L203.0 983.6L205.0 983.7L207.0 983.8L209.0 983.9L211.0 983.9L213.0 984.0L215.0 984.1L217.0 984.1L219.0 984.2L221.0 984.3L223.0 984.3L225.0 984.4L227.0 984.4L229.0 984.5L231.0 984.5L233.0 984.5L235.0 984.6L237.0 984.6L239.0 984.7L241.0 984.7L243.0 984.7L245.0 984.7L247.0 984.8L249.0 984.8L251.0 984.8L253.0 984.8L255.0 984.9L257.0 984.9L259.0 984.9L261.0 984.9L263.0 984.9L265.0 984.9L267.0 984.9L269.0 985.0L271.0 985.0L273.0 985.0L275.0 985.0L277.0 985.0L279.0 985.0L281.0 985.0L283.0 985.0L285.0 985.0L287.0 985.0L289.0 985.0L291.0 985.0L293.0 985.0L295.0 985.0L297.0 985.0L299.0 985.0L301.0 985.0L303.0 984.9L305.0 984.9L307.0 984.8L309.0 984.7L311.0 984.6L313.0 984.5L315.0 984.3L317.0 984.2L319.0 984.0L321.0 983.9L323.0 983.7L325.0 983.5L327.0 983.4L329.0 983.2L331.0 983.1L333.0 982.9L335.0 982.8L337.0 982.7L339.0 982.6L341.0 982.6L343.0 982.5L345.0 982.5L347.0 982.4L349.0 982.4L351.0 982.4L353.0 982.4L355.0 982.3L357.0 982.3L359.0 982.3L361.0 982.3L363.0 982.2L365.0 982.2L367.0 982.2L369.0 982.2L371.0 982.2L373.0 982.1L375.0 982.1L377.0 982.1L379.0 982.1L381.0 982.1L383.0 982.1L385.0 982.1L387.0 982.0L389.0 982.0L391.0 982.0L393.0 982.0L395.0 982.0L397.0 982.0L399.0 982.0L401.0 982.0L403.0 982.0L405.0 982.0L407.0 982.0L409.0 982.0L411.0 982.1L413.0 982.1L415.0 982.1L417.0 982.2L419.0 982.2L421.0 982.3L423.0 982.4L425.0 982.4L427.0 982.5L429.0 982.5L431.0 982.6L433.0 982.7L435.0 982.7L437.0 982.8L439.0 982.9L441.0 982.9L443.0 983.0L445.0 983.0L447.0 983.0L449.0 983.1L451.0 983.1L453.0 983.1L455.0 983.2L457.0 983.2L459.0 983.2L461.0 983.3L463.0 983.3L465.0 983.3L467.0 983.4L469.0 983.4L471.0 983.4L473.0 983.4L475.0 983.5L477.0 983.5L479.0 983.5L481.0 983.5L483.0 983.5L485.0 983.5L487.0 983.6L489.0 983.6L491.0 983.6L493.0 983.6L495.0 983.6L497.0 983.6L499.0 983.6L501.0 983.7L503.0 983.7L505.0 983.7L507.0 983.7L509.0 983.7L511.0 983.7L513.0 983.7L515.0 983.8L517.0 983.8L519.0 983.8L521.0 983.8L523.0 983.8L525.0 983.8L527.0 983.8L529.0 983.8L531.0 983.9L533.0 983.9L535.0 983.9L537.0 983.9L539.0 983.9L541.0 983.9L543.0 983.9L545.0 983.9L547.0 983.9L549.0 983.9L551.0 983.9L553.0 983.9L555.0 984.0L557.0 984.0L559.0 984.0L561.0 984.0L563.0 984.0L565.0 984.0L567.0 984.0L569.0 984.0L571.0 984.0L573.0 984.0L575.0 984.0L577.0 984.0L579.0 984.0L581.0 984.0L583.0 984.0L585.0 984.0L587.0 983.9L589.0 983.9L591.0 983.8L593.0 983.7L595.0 983.6L597.0 983.5L599.0 983.4L601.0 983.2L603.0 983.1L605.0 983.0L607.0 982.9L609.0 982.8L611.0 982.7L613.0 982.6L615.0 982.6L617.0 982.5L619.0 982.5L621.0 982.5L623.0 982.5L625.0 982.5L627.0 982.5L629.0 982.6L631.0 982.6L633.0 982.6L635.0 982.6L637.0 982.7L639.0 982.7L641.0 982.8L643.0 982.8L645.0 982.8L647.0 982.9L649.0 982.9L651.0 983.0L653.0 983.0L655.0 983.1L657.0 983.1L659.0 983.2L661.0 983.2L663.0 983.2L665.0 983.3L667.0 983.3L669.0 983.4L671.0 983.4L673.0 983.4L675.0 983.4L677.0 983.5L679.0 983.5L681.0 983.5L683.0 983.5L685.0 983.5L687.0 983.5L689.0 983.5L691.0 983.4L693.0 983.4L695.0 983.4L697.0 983.3L699.0 983.3L701.0 983.2L703.0 983.1L705.0 983.1L707.0 983.0L709.0 982.9L711.0 982.8L713.0 982.7L715.0 982.6L717.0 982.5L719.0 982.4L721.0 982.3L723.0 982.1L725.0 982.0L727.0 981.8L729.0 981.5L731.0 981.3L733.0 980.9L735.0 980.5L737.0 980.0L739.0 979.5L741.0 978.9L743.0 978.3L745.0 977.6L747.0 976.7L749.0 975.6L751.0 974.4L753.0 972.9L755.0 971.2L757.0 969.3L759.0 967.3L761.0 965.2L763.0 963.0L765.0 960.6L767.0 958.0L769.0 955.0L771.0 951.9L773.0 948.7L775.0 945.8L777.0 943.1L779.0 940.7L781.0 938.5L783.0 936.3L785.0 934.1L787.0 931.7L789.0 928.9L791.0 925.4L793.0 921.4L795.0 917.4L797.0 914.2L799.0 911.9L801.0 910.4L802.0 910.5L803.0 909.8L804.0 908.9L805.0 906.4L806.0 909.1L807.0 906.7L808.0 904.8L809.0 905.5L810.0 904.7L811.0 904.9L812.0 906.0L813.0 905.3L814.0 905.4L815.0 905.6L816.0 907.3L817.0 903.4L818.0 902.5L819.0 903.2L820.0 902.4L821.0 902.6L822.0 903.0L823.0 902.8L824.0 904.4L825.0 902.2L826.0 901.8L827.0 902.5L828.0 905.3L829.0 905.5L830.0 902.9L831.0 905.9L832.0 904.4L833.0 906.3L834.0 906.1L835.0 907.2L836.0 907.9L837.0 907.8L838.0 907.9L839.0 906.6L840.0 906.2L841.0 907.1L842.0 908.3L843.0 907.1L844.0 909.8L845.0 907.2L846.0 907.1L847.0 906.7L848.0 907.0L849.0 905.9L850.0 909.1L851.0 910.2L852.0 907.3L853.0 910.8L854.0 909.3L855.0 911.3L856.0 908.9L857.0 911.3L858.0 910.9L859.0 911.4L860.0 908.3L861.0 908.9L862.0 910.3L863.0 910.6L864.0 911.3L865.0 910.2L866.0 911.9L867.0 911.8L868.0 910.4L869.0 913.6L870.0 913.4L871.0 912.5L872.0 915.4L873.0 915.3L874.0 915.1L875.0 914.4L876.0 912.2L877.0 912.4L878.0 915.3L879.0 912.5L880.0 912.2L881.0 911.3L882.0 911.6L883.0 914.2L884.0 910.7L885.0 911.4L886.0 911.0L887.0 912.1L888.0 911.1L889.0 912.3L890.0 909.6L891.0 910.5L892.0 911.2L893.0 909.1L894.0 910.5L895.0 908.3L896.0 907.7L897.0 910.1L898.0 907.1L899.0 907.4L900.0 906.2L901.0 909.0L902.0 906.1L903.0 907.9L904.0 908.5L905.0 904.7L906.0 905.1L907.0 903.9L908.0 906.9L909.0 902.6L910.0 903.5L911.0 905.8L912.0 904.1L913.0 904.7L914.0 903.1L915.0 905.0L916.0 903.6L917.0 904.1L918.0 904.7L919.0 902.0L920.0 903.5L921.0 906.2L922.0 903.2L923.0 905.2L924.0 903.7L925.0 907.3L926.0 905.8L927.0 905.3L928.0 906.0L929.0 903.0L930.0 904.7L931.0 906.7L932.0 905.6L933.0 904.2L934.0 906.2L935.0 906.2L936.0 904.8L937.0 906.0L938.0 906.4L939.0 906.4L940.0 907.8L941.0 905.0L942.0 905.8L943.0 908.5L944.0 907.7L945.0 907.7L946.0 909.6L947.0 909.1L948.0 910.3L949.0 910.9L950.0 912.1L951.0 909.5L952.0 912.4L953.0 911.6L954.0 908.0L955.0 908.5L956.0 909.7L957.0 908.4L958.0 910.9L959.0 907.4L960.0 909.8L961.0 908.0L962.0 907.1L963.0 908.2L964.0 907.1L965.0 906.2L967.0 904.5L969.0 902.2L971.0 899.1L973.0 895.4L975.0 891.3L977.0 886.8L979.0 881.9L981.0 876.7L983.0 871.2L985.0 865.6L987.0 859.9L989.0 854.2L991.0 848.7L993.0 843.6L995.0 838.9L997.0 834.8L999.0 831.0L1001.0 827.5L1003.0 824.3L1005.0 821.1L1007.0 818.1L1009.0 815.2L1011.0 812.3L1013.0 809.7L1015.0 807.0L1017.0 804.3L1019.0 801.1L1021.0 797.5L1023.0 793.2L1025.0 788.4L1027.0 783.4L1029.0 778.4L1031.0 773.4L1033.0 768.6L1035.0 763.9L1037.0 759.3L1039.0 755.2L1041.0 751.6L1043.0 748.6L1045.0 746.2L1047.0 744.1L1049.0 742.3L1051.0 740.7L1053.0 739.4L1055.0 738.4L1057.0 737.6L1059.0 737.1L1061.0 736.6L1063.0 736.2L1065.0 735.9L1067.0 735.7L1069.0 735.5L1071.0 735.4L1073.0 735.4L1075.0 735.6L1077.0 735.9L1079.0 736.2L1081.0 736.7L1083.0 737.3L1085.0 737.8L1087.0 738.4L1089.0 739.1L1091.0 739.7L1093.0 740.3L1095.0 741.0L1097.0 741.7L1099.0 742.4L1101.0 743.1L1103.0 743.8L1105.0 744.5L1107.0 745.2L1109.0 745.8L1111.0 746.3L1113.0 746.9L1115.0 747.4L1117.0 747.8L1119.0 748.3L1121.0 748.7L1123.0 749.1L1125.0 749.4L1127.0 749.8L1129.0 750.1L1131.0 750.3L1133.0 750.4L1135.0 750.2L1137.0 749.7L1139.0 748.8L1141.0 747.4L1143.0 745.8L1145.0 743.8L1147.0 741.5L1149.0 738.6L1151.0 735.3L1153.0 731.3L1155.0 726.8L1157.0 721.6L1159.0 715.7L1161.0 709.2L1163.0 702.5L1165.0 695.3L1167.0 687.5L1169.0 678.9L1171.0 669.5L1173.0 659.5L1175.0 649.2L1177.0 639.1L1179.0 629.5L1181.0 620.8L1183.0 613.2L1185.0 605.8L1187.0 597.5L1189.0 587.5L1191.0 575.4L1193.0 562.0L1195.0 548.2L1197.0 534.9L1199.0 522.2L1201.0 509.9L1203.0 497.8L1205.0 485.6L1207.0 473.3L1209.0 460.9L1211.0 448.3L1213.0 435.7L1215.0 423.2L1217.0 410.7L1219.0 398.3L1221.0 386.0L1223.0 374.0L1225.0 362.0L1227.0 350.2L1229.0 338.4L1231.0 326.7L1233.0 315.1L1235.0 303.8L1237.0 292.9L1239.0 282.3L1241.0 272.1L1243.0 262.2L1245.0 252.6L1247.0 243.3L1249.0 234.6L1251.0 226.7L1253.0 219.9L1255.0 214.3L1257.0 209.4L1259.0 205.0L1261.0 201.2L1263.0 197.8L1265.0 195.2L1267.0 193.5L1269.0 192.7L1271.0 192.9L1273.0 194.0L1275.0 195.9L1277.0 198.3L1279.0 201.2L1281.0 204.6L1283.0 208.4L1285.0 213.1L1287.0 218.7L1289.0 225.1L1291.0 232.1L1293.0 239.3L1295.0 246.3L1297.0 253.1L1299.0 259.6L1301.0 266.0L1303.0 272.5L1305.0 278.9L1307.0 285.5L1309.0 292.2L1311.0 299.1L1313.0 306.2L1315.0 313.6L1317.0 321.3L1319.0 329.2L1321.0 337.2L1323.0 345.5L1325.0 353.9L1327.0 362.4L1329.0 370.9L1331.0 379.4L1333.0 388.0L1335.0 396.4L1337.0 404.8L1339.0 413.1L1341.0 421.2L1343.0 429.1L1345.0 437.0L1347.0 444.7L1349.0 452.3L1351.0 459.9L1353.0 467.5L1355.0 475.1L1357.0 482.7L1359.0 490.3L1361.0 498.0L1363.0 505.7L1365.0 513.5L1367.0 521.3L1369.0 529.2L1371.0 537.1L1373.0 545.1L1375.0 553.1L1377.0 561.3L1379.0 569.5L1381.0 577.8L1383.0 586.1L1385.0 594.5L1387.0 603.0L1389.0 611.4L1391.0 619.7L1393.0 627.8L1395.0 635.7L1397.0 643.3L1399.0 650.7L1401.0 657.9L1403.0 665.0L1405.0 671.9L1407.0 678.6L1409.0 685.1L1411.0 691.4L1413.0 697.6L1415.0 703.7L1417.0 709.6L1419.0 715.4L1421.0 721.1L1423.0 726.8L1425.0 732.3L1427.0 737.9L1429.0 743.3L1431.0 748.7L1433.0 753.9L1435.0 759.0L1437.0 764.0L1439.0 768.9L1441.0 773.7L1443.0 778.4L1445.0 782.9L1447.0 787.4L1449.0 791.8L1451.0 796.0L1453.0 800.1L1455.0 804.0L1457.0 807.8L1459.0 811.5L1461.0 815.1L1463.0 818.6L1465.0 822.1L1467.0 825.5L1469.0 828.7L1471.0 831.9L1473.0 835.0L1475.0 837.9L1477.0 840.7L1479.0 843.4L1481.0 845.9L1483.0 848.3L1485.0 850.7L1487.0 852.9L1489.0 855.1L1491.0 857.1L1493.0 859.1L1495.0 860.9L1497.0 862.6L1499.0 864.2L1501.0 865.7L1503.0 867.1L1505.0 868.5L1507.0 869.8L1509.0 871.0L1511.0 872.2L1513.0 873.2L1515.0 874.1L1517.0 874.8L1519.0 875.4L1521.0 875.9L1523.0 876.4L1525.0 876.8L1527.0 877.1L1529.0 877.5L1531.0 877.8L1533.0 878.0L1535.0 878.3L1537.0 878.4L1539.0 878.5L1541.0 878.5L1543.0 878.4L1545.0 878.3L1547.0 878.0L1549.0 877.6L1551.0 877.1L1553.0 876.6L1555.0 876.2L1557.0 875.9" stroke="#0cfa0c" stroke-width="7.4"/>
<path d="M193.0 983.2L195.0 983.3L197.0 983.4L199.0 983.5L201.0 983.6L203.0 983.7L205.0 983.8L207.0 983.9L209.0 984.0L211.0 984.1L213.0 984.2L215.0 984.3L217.0 984.4L219.0 984.4L221.0 984.5L223.0 984.6L225.0 984.6L227.0 984.7L229.0 984.8L231.0 984.8L233.0 984.9L235.0 984.9L237.0 985.0L239.0 985.0L241.0 985.1L243.0 985.1L245.0 985.1L247.0 985.2L249.0 985.2L251.0 985.2L253.0 985.3L255.0 985.3L257.0 985.3L259.0 985.3L261.0 985.4L263.0 985.4L265.0 985.4L267.0 985.4L269.0 985.4L271.0 985.4L273.0 985.4L275.0 985.5L277.0 985.5L279.0 985.5L281.0 985.5L283.0 985.5L285.0 985.5L287.0 985.5L289.0 985.5L291.0 985.5L293.0 985.5L295.0 985.5L297.0 985.5L299.0 985.5L301.0 985.5L303.0 985.5L305.0 985.4L307.0 985.4L309.0 985.3L311.0 985.2L313.0 985.2L315.0 985.1L317.0 985.0L319.0 984.9L321.0 984.8L323.0 984.7L325.0 984.6L327.0 984.5L329.0 984.4L331.0 984.3L333.0 984.2L335.0 984.1L337.0 984.1L339.0 984.0L341.0 984.0L343.0 984.0L345.0 984.0L347.0 984.0L349.0 984.0L351.0 984.0L353.0 984.0L355.0 984.0L357.0 984.0L359.0 984.0L361.0 984.0L363.0 984.0L365.0 984.0L367.0 984.0L369.0 984.0L371.0 984.0L373.0 984.0L375.0 984.0L377.0 984.0L379.0 984.0L381.0 984.0L383.0 984.0L385.0 984.0L387.0 984.0L389.0 984.0L391.0 984.0L393.0 984.0L395.0 984.0L397.0 984.0L399.0 984.0L401.0 984.0L403.0 984.0L405.0 984.0L407.0 984.0L409.0 984.0L411.0 984.1L413.0 984.1L415.0 984.1L417.0 984.2L419.0 984.2L421.0 984.3L423.0 984.4L425.0 984.4L427.0 984.5L429.0 984.5L431.0 984.6L433.0 984.7L435.0 984.7L437.0 984.8L439.0 984.9L441.0 984.9L443.0 985.0L445.0 985.0L447.0 985.0L449.0 985.1L451.0 985.1L453.0 985.1L455.0 985.2L457.0 985.2L459.0 985.2L461.0 985.3L463.0 985.3L465.0 985.3L467.0 985.3L469.0 985.4L471.0 985.4L473.0 985.4L475.0 985.4L477.0 985.5L479.0 985.5L481.0 985.5L483.0 985.5L485.0 985.6L487.0 985.6L489.0 985.6L491.0 985.6L493.0 985.7L495.0 985.7L497.0 985.7L499.0 985.7L501.0 985.8L503.0 985.8L505.0 985.8L507.0 985.8L509.0 985.9L511.0 985.9L513.0 985.9L515.0 986.0L517.0 986.0L519.0 986.0L521.0 986.0L523.0 986.1L525.0 986.1L527.0 986.1L529.0 986.1L531.0 986.2L533.0 986.2L535.0 986.2L537.0 986.2L539.0 986.2L541.0 986.3L543.0 986.3L545.0 986.3L547.0 986.3L549.0 986.3L551.0 986.4L553.0 986.4L555.0 986.4L557.0 986.4L559.0 986.4L561.0 986.4L563.0 986.4L565.0 986.5L567.0 986.5L569.0 986.5L571.0 986.5L573.0 986.5L575.0 986.5L577.0 986.5L579.0 986.5L581.0 986.5L583.0 986.5L585.0 986.5L587.0 986.4L589.0 986.4L591.0 986.4L593.0 986.3L595.0 986.2L597.0 986.2L599.0 986.1L601.0 986.0L603.0 985.9L605.0 985.8L607.0 985.8L609.0 985.7L611.0 985.6L613.0 985.6L615.0 985.6L617.0 985.5L619.0 985.5L621.0 985.5L623.0 985.5L625.0 985.5L627.0 985.5L629.0 985.6L631.0 985.6L633.0 985.6L635.0 985.6L637.0 985.7L639.0 985.7L641.0 985.8L643.0 985.8L645.0 985.8L647.0 985.9L649.0 985.9L651.0 986.0L653.0 986.0L655.0 986.1L657.0 986.1L659.0 986.2L661.0 986.2L663.0 986.2L665.0 986.3L667.0 986.3L669.0 986.4L671.0 986.4L673.0 986.4L675.0 986.4L677.0 986.5L679.0 986.5L681.0 986.5L683.0 986.5L685.0 986.5L687.0 986.5L689.0 986.5L691.0 986.4L693.0 986.4L695.0 986.3L697.0 986.3L699.0 986.2L701.0 986.1L703.0 986.0L705.0 985.9L707.0 985.8L709.0 985.7L711.0 985.6L713.0 985.5L715.0 985.3L717.0 985.2L719.0 985.0L721.0 984.8L723.0 984.7L725.0 984.4L727.0 984.2L729.0 983.8L731.0 983.3L733.0 982.7L735.0 982.0L737.0 981.3L739.0 980.5L741.0 979.6L743.0 978.7L745.0 977.7L747.0 976.6L749.0 975.4L751.0 974.0L753.0 972.5L755.0 970.8L757.0 969.0L759.0 967.1L761.0 965.1L763.0 962.9L765.0 960.6L767.0 958.0L769.0 955.0L771.0 951.9L773.0 948.7L775.0 945.8L777.0 943.1L779.0 940.8L781.0 938.7L783.0 936.6L785.0 934.4L787.0 931.9L789.0 928.8L791.0 925.0L793.0 920.3L795.0 915.5L797.0 911.6L799.0 908.9L801.0 907.1L802.0 906.6L803.0 906.5L804.0 906.0L805.0 905.0L806.0 904.2L807.0 902.2L808.0 902.0L809.0 901.2L810.0 900.2L811.0 900.1L812.0 899.7L813.0 898.8L814.0 897.8L815.0 898.6L816.0 896.5L817.0 896.7L818.0 895.4L819.0 895.1L820.0 893.4L821.0 894.7L822.0 894.5L823.0 893.7L824.0 894.0L825.0 893.4L826.0 891.3L827.0 889.5L828.0 890.4L829.0 890.1L830.0 889.5L831.0 889.6L832.0 891.0L833.0 890.8L834.0 890.8L835.0 891.7L836.0 891.9L837.0 891.8L838.0 892.2L839.0 890.3L840.0 888.8L841.0 886.8L842.0 888.6L843.0 888.1L844.0 888.7L845.0 889.3L846.0 889.2L847.0 890.5L848.0 888.4L849.0 888.1L850.0 888.2L851.0 889.1L852.0 890.0L853.0 890.3L854.0 890.6L855.0 891.8L856.0 891.9L857.0 891.8L858.0 891.8L859.0 892.7L860.0 892.2L861.0 890.3L862.0 892.0L863.0 890.7L864.0 889.2L865.0 888.4L866.0 889.2L867.0 887.5L868.0 887.5L869.0 887.3L870.0 889.2L871.0 890.1L872.0 891.7L873.0 892.3L874.0 892.1L875.0 890.7L876.0 892.6L877.0 891.7L878.0 890.9L879.0 891.9L880.0 891.7L881.0 890.2L882.0 890.0L883.0 890.0L884.0 889.1L885.0 887.3L886.0 888.0L887.0 887.9L888.0 888.4L889.0 885.4L890.0 883.3L891.0 883.7L892.0 883.9L893.0 885.4L894.0 882.9L895.0 883.0L896.0 881.4L897.0 881.6L898.0 880.5L899.0 880.9L900.0 878.3L901.0 879.6L902.0 878.4L903.0 877.8L904.0 877.4L905.0 876.3L906.0 874.9L907.0 876.4L908.0 874.8L909.0 872.0L910.0 871.6L911.0 872.0L912.0 872.7L913.0 871.2L914.0 872.1L915.0 871.6L916.0 871.0L917.0 870.4L918.0 871.5L919.0 869.7L920.0 870.4L921.0 868.5L922.0 868.3L923.0 868.2L924.0 868.4L925.0 867.0L926.0 867.0L927.0 867.7L928.0 868.2L929.0 866.6L930.0 867.7L931.0 864.6L932.0 864.8L933.0 865.1L934.0 864.7L935.0 864.6L936.0 865.1L937.0 866.4L938.0 866.7L939.0 867.3L940.0 865.0L941.0 863.9L942.0 863.8L943.0 865.1L944.0 865.0L945.0 864.2L946.0 865.4L947.0 865.5L948.0 865.3L949.0 864.5L950.0 866.4L951.0 865.9L952.0 864.9L953.0 866.2L954.0 863.7L955.0 864.3L956.0 863.7L957.0 864.4L958.0 861.8L959.0 861.4L960.0 860.8L961.0 859.5L962.0 858.3L963.0 858.1L964.0 857.3L965.0 856.0L967.0 853.5L969.0 850.4L971.0 846.8L973.0 842.6L975.0 838.0L977.0 833.0L979.0 827.5L981.0 821.6L983.0 815.7L985.0 809.9L987.0 804.5L989.0 799.3L991.0 794.4L993.0 789.6L995.0 785.0L997.0 780.6L999.0 776.4L1001.0 772.2L1003.0 768.0L1005.0 763.9L1007.0 759.7L1009.0 755.7L1011.0 751.8L1013.0 748.0L1015.0 744.4L1017.0 741.1L1019.0 738.0L1021.0 735.0L1023.0 732.1L1025.0 729.2L1027.0 726.3L1029.0 723.1L1031.0 719.7L1033.0 715.9L1035.0 711.8L1037.0 707.5L1039.0 703.2L1041.0 699.1L1043.0 695.2L1045.0 691.7L1047.0 688.6L1049.0 685.8L1051.0 683.1L1053.0 680.7L1055.0 678.5L1057.0 676.5L1059.0 674.9L1061.0 673.6L1063.0 672.6L1065.0 671.6L1067.0 670.8L1069.0 670.2L1071.0 669.6L1073.0 669.2L1075.0 668.9L1077.0 668.8L1079.0 668.7L1081.0 668.7L1083.0 668.7L1085.0 668.7L1087.0 668.7L1089.0 668.7L1091.0 668.8L1093.0 668.9L1095.0 669.2L1097.0 669.6L1099.0 670.2L1101.0 670.9L1103.0 671.7L1105.0 672.5L1107.0 673.3L1109.0 674.2L1111.0 675.2L1113.0 676.2L1115.0 677.3L1117.0 678.4L1119.0 679.4L1121.0 680.3L1123.0 681.2L1125.0 682.0L1127.0 682.7L1129.0 683.5L1131.0 684.1L1133.0 684.7L1135.0 685.1L1137.0 685.3L1139.0 685.2L1141.0 685.0L1143.0 684.4L1145.0 683.7L1147.0 682.8L1149.0 681.8L1151.0 680.5L1153.0 679.0L1155.0 677.1L1157.0 674.6L1159.0 671.6L1161.0 668.0L1163.0 664.1L1165.0 659.7L1167.0 654.7L1169.0 649.1L1171.0 642.9L1173.0 636.2L1175.0 629.0L1177.0 621.2L1179.0 612.7L1181.0 603.5L1183.0 594.1L1185.0 585.0L1187.0 576.6L1189.0 568.5L1191.0 559.9L1193.0 550.2L1195.0 539.5L1197.0 528.9L1199.0 519.1L1201.0 510.4L1203.0 502.5L1205.0 494.6L1207.0 486.0L1209.0 476.3L1211.0 465.1L1213.0 452.6L1215.0 439.2L1217.0 425.2L1219.0 411.1L1221.0 397.2L1223.0 384.0L1225.0 371.6L1227.0 359.9L1229.0 348.9L1231.0 338.3L1233.0 328.1L1235.0 318.3L1237.0 308.9L1239.0 300.0L1241.0 291.5L1243.0 283.3L1245.0 275.2L1247.0 267.4L1249.0 259.9L1251.0 252.9L1253.0 246.6L1255.0 241.1L1257.0 236.5L1259.0 232.5L1261.0 229.1L1263.0 226.2L1265.0 223.8L1267.0 222.1L1269.0 221.3L1271.0 221.2L1273.0 221.8L1275.0 222.8L1277.0 224.2L1279.0 226.0L1281.0 228.3L1283.0 231.3L1285.0 235.3L1287.0 240.3L1289.0 246.1L1291.0 252.4L1293.0 258.8L1295.0 265.4L1297.0 272.1L1299.0 279.1L1301.0 286.4L1303.0 293.8L1305.0 301.2L1307.0 308.5L1309.0 315.6L1311.0 322.6L1313.0 329.5L1315.0 336.4L1317.0 343.2L1319.0 349.9L1321.0 356.6L1323.0 363.3L1325.0 370.0L1327.0 376.8L1329.0 383.5L1331.0 390.3L1333.0 397.2L1335.0 404.1L1337.0 411.1L1339.0 418.2L1341.0 425.4L1343.0 432.8L1345.0 440.3L1347.0 447.9L1349.0 455.6L1351.0 463.3L1353.0 471.1L1355.0 478.9L1357.0 486.6L1359.0 494.2L1361.0 501.6L1363.0 509.0L1365.0 516.2L1367.0 523.4L1369.0 530.8L1371.0 538.4L1373.0 546.4L1375.0 554.8L1377.0 563.4L1379.0 572.1L1381.0 580.8L1383.0 589.4L1385.0 598.0L1387.0 606.6L1389.0 615.0L1391.0 623.2L1393.0 631.2L1395.0 638.9L1397.0 646.4L1399.0 653.8L1401.0 661.0L1403.0 668.0L1405.0 674.8L1407.0 681.4L1409.0 687.9L1411.0 694.1L1413.0 700.2L1415.0 706.2L1417.0 712.0L1419.0 717.8L1421.0 723.5L1423.0 729.1L1425.0 734.7L1427.0 740.2L1429.0 745.6L1431.0 750.8L1433.0 756.0L1435.0 761.1L1437.0 766.0L1439.0 770.8L1441.0 775.5L1443.0 780.1L1445.0 784.6L1447.0 789.0L1449.0 793.2L1451.0 797.3L1453.0 801.2L1455.0 805.0L1457.0 808.7L1459.0 812.3L1461.0 815.8L1463.0 819.3L1465.0 822.6L1467.0 825.9L1469.0 829.1L1471.0 832.1L1473.0 835.0L1475.0 837.9L1477.0 840.6L1479.0 843.1L1481.0 845.6L1483.0 847.9L1485.0 850.1L1487.0 852.3L1489.0 854.4L1491.0 856.3L1493.0 858.2L1495.0 860.0L1497.0 861.7L1499.0 863.2L1501.0 864.7L1503.0 866.1L1505.0 867.5L1507.0 868.8L1509.0 870.0L1511.0 871.2L1513.0 872.3L1515.0 873.3L1517.0 874.3L1519.0 875.2L1521.0 876.1L1523.0 877.0L1525.0 877.9L1527.0 878.7L1529.0 879.4L1531.0 880.1L1533.0 880.7L1535.0 881.1L1537.0 881.4L1539.0 881.6L1541.0 881.8L1543.0 881.9L1545.0 882.0L1547.0 882.2L1549.0 882.2L1551.0 882.3L1553.0 882.4L1555.0 882.4L1557.0 882.4" stroke="#008a06" stroke-width="8.0"/>
<path d="M193.0 984.9L194.0 985.1L195.0 985.1L196.0 984.9L197.0 984.7L198.0 984.5L199.0 984.5L200.0 984.4L201.0 984.9L202.0 985.0L203.0 985.1L204.0 985.2L205.0 985.3L206.0 985.6L207.0 985.5L208.0 985.4L209.0 985.0L210.0 985.0L211.0 985.0L212.0 985.3L213.0 985.4L214.0 985.5L215.0 985.6L216.0 985.8L217.0 985.5L218.0 985.6L219.0 985.8L220.0 986.0L221.0 986.2L222.0 985.9L223.0 985.7L224.0 985.9L225.0 985.8L226.0 986.0L227.0 986.2L228.0 986.1L229.0 986.1L230.0 986.4L231.0 986.6L232.0 986.4L233.0 986.2L234.0 986.3L235.0 986.2L236.0 986.4L237.0 986.1L238.0 986.2L239.0 986.3L240.0 986.5L241.0 986.9L242.0 986.9L243.0 987.0L244.0 987.0L245.0 986.8L246.0 986.8L247.0 986.8L248.0 986.9L249.0 987.1L250.0 987.2L251.0 987.1L252.0 987.3L253.0 987.1L254.0 987.1L255.0 987.1L256.0 987.0L257.0 987.1L258.0 987.4L259.0 987.4L260.0 987.6L261.0 987.7L262.0 987.6L263.0 987.4L264.0 987.3L265.0 987.3L266.0 987.5L267.0 987.5L268.0 987.9L269.0 988.1L270.0 987.9L271.0 988.0L272.0 988.1L273.0 988.2L274.0 988.3L275.0 988.1L276.0 988.2L277.0 988.3L278.0 988.8L279.0 988.8L280.0 988.8L281.0 988.7L282.0 988.6L283.0 988.4L284.0 988.2L285.0 988.5L286.0 988.5L287.0 988.5L288.0 988.8L289.0 988.9L290.0 989.1L291.0 989.1L292.0 989.0L293.0 989.1L294.0 989.1L295.0 989.4L296.0 989.5L297.0 989.8L298.0 989.6L299.0 989.7L300.0 989.9L301.0 989.8L302.0 989.7L303.0 989.8L304.0 990.0L305.0 989.8L306.0 989.7L307.0 989.7L308.0 989.7L309.0 989.9L310.0 989.9L311.0 989.8L312.0 989.9L313.0 990.0L314.0 990.4L315.0 990.4L316.0 990.3L317.0 990.1L318.0 990.2L319.0 990.1L320.0 990.6L321.0 990.8L322.0 991.1L323.0 990.8L324.0 990.8L325.0 990.3L326.0 990.0L327.0 990.0L328.0 990.3L329.0 990.3L330.0 990.6L331.0 990.9L332.0 991.0L333.0 990.9L334.0 990.9L335.0 991.0L336.0 990.8L337.0 990.6L338.0 990.6L339.0 990.6L340.0 990.4L341.0 990.3L342.0 990.4L343.0 990.3L344.0 990.3L345.0 990.4L346.0 990.7L347.0 990.5L348.0 990.5L349.0 990.4L350.0 990.4L351.0 990.3L352.0 990.4L353.0 990.5L354.0 990.4L355.0 990.4L356.0 990.1L357.0 990.1L358.0 990.3L359.0 990.4L360.0 990.2L361.0 990.4L362.0 990.5L363.0 990.4L364.0 990.4L365.0 990.2L366.0 990.1L367.0 990.0L368.0 989.9L369.0 990.1L370.0 989.9L371.0 989.9L372.0 990.0L373.0 989.9L374.0 989.8L375.0 989.9L376.0 989.9L377.0 990.0L378.0 990.1L379.0 989.9L380.0 989.9L381.0 989.9L382.0 990.1L383.0 990.0L384.0 989.9L385.0 989.6L386.0 989.4L387.0 989.5L388.0 989.6L389.0 989.5L390.0 989.5L391.0 989.7L392.0 989.9L393.0 990.1L394.0 989.9L395.0 989.9L396.0 989.8L397.0 989.9L398.0 989.8L399.0 989.6L400.0 989.5L401.0 989.5L402.0 989.4L403.0 989.4L404.0 989.5L405.0 989.4L406.0 989.4L407.0 989.7L408.0 990.1L409.0 989.9L410.0 990.2L411.0 990.0L412.0 990.0L413.0 990.1L414.0 990.5L415.0 990.4L416.0 990.1L417.0 990.3L418.0 990.4L419.0 990.7L420.0 991.3L421.0 991.3L422.0 991.4L423.0 991.4L424.0 991.5L425.0 991.7L426.0 991.8L427.0 991.9L428.0 992.2L429.0 992.5L430.0 992.4L431.0 992.5L432.0 992.2L433.0 992.0L434.0 992.0L435.0 992.2L436.0 992.5L437.0 992.6L438.0 992.8L439.0 992.8L440.0 993.0L441.0 993.0L442.0 993.3L443.0 993.1L444.0 992.8L445.0 992.7L446.0 992.7L447.0 992.7L448.0 992.5L449.0 992.7L450.0 992.9L451.0 993.3L452.0 993.4L453.0 993.5L454.0 993.4L455.0 993.0L456.0 993.0L457.0 993.1L458.0 993.3L459.0 993.4L460.0 993.3L461.0 993.2L462.0 993.2L463.0 993.2L464.0 993.5L465.0 993.6L466.0 993.5L467.0 993.6L468.0 993.4L469.0 993.6L470.0 993.5L471.0 993.5L472.0 993.4L473.0 993.2L474.0 993.4L475.0 993.5L476.0 993.5L477.0 993.6L478.0 993.6L479.0 993.6L481.0 993.5L482.0 993.6L483.0 993.7L484.0 993.4L485.0 993.0L486.0 993.3L487.0 993.2L488.0 993.2L489.0 993.5L490.0 993.1L491.0 993.4L492.0 993.5L493.0 993.4L494.0 992.6L495.0 992.4L496.0 992.1L497.0 992.8L498.0 993.2L499.0 993.5L500.0 992.9L501.0 992.0L502.0 991.8L503.0 991.8L504.0 991.3L505.0 991.0L506.0 991.1L507.0 990.6L508.0 990.7L509.0 991.1L510.0 990.9L511.0 990.5L512.0 990.0L513.0 989.7L514.0 989.4L515.0 989.9L516.0 989.5L517.0 989.5L518.0 988.6L519.0 988.5L520.0 988.5L521.0 988.6L522.0 987.6L523.0 987.5L524.0 987.3L525.0 987.2L526.0 986.3L527.0 986.3L528.0 986.3L529.0 986.4L530.0 986.5L531.0 986.4L532.0 986.1L533.0 986.2L534.0 985.9L535.0 985.1L536.0 985.1L537.0 984.7L538.0 984.7L539.0 985.0L540.0 985.3L541.0 985.0L542.0 983.9L543.0 983.5L544.0 982.7L545.0 982.4L546.0 982.2L547.0 982.3L548.0 982.3L549.0 982.2L550.0 982.9L551.0 982.7L552.0 983.0L553.0 983.2L554.0 982.6L555.0 983.0L556.0 982.6L557.0 982.1L558.0 982.1L559.0 982.4L561.0 983.4L562.0 984.0L563.0 985.1L564.0 986.4L565.0 987.2L566.0 988.0L567.0 988.9L568.0 990.4L569.0 991.8L570.0 991.4L571.0 991.6L572.0 990.5L573.0 990.0L574.0 989.3L575.0 989.3L576.0 988.8L577.0 988.1L578.0 989.2L579.0 989.4L580.0 989.6L581.0 989.2L582.0 988.8L583.0 989.2L584.0 988.5L585.0 988.8L586.0 989.5L587.0 990.0L588.0 990.6L589.0 991.6L590.0 992.7L591.0 994.2L592.0 994.2L593.0 994.6L594.0 993.8L595.0 991.9L596.0 991.2L597.0 990.6L598.0 990.5L599.0 989.8L600.0 989.0L601.0 988.2L602.0 988.0L603.0 987.8L604.0 988.9L605.0 988.9L606.0 988.5L607.0 988.3L608.0 988.5L609.0 989.4L610.0 990.9L611.0 992.0L612.0 993.9L613.0 995.0L614.0 995.9L615.0 997.0L616.0 996.7L617.0 995.9L618.0 995.0L619.0 994.0L620.0 993.3L621.0 993.5L622.0 992.9L623.0 992.5L624.0 992.4L625.0 991.6L626.0 991.9L627.0 991.5L628.0 991.4L629.0 992.5L630.0 993.2L631.0 994.4L632.0 995.2L633.0 995.0L634.0 994.1L635.0 994.6L636.0 995.2L637.0 996.4L638.0 996.3L639.0 997.2L640.0 996.5L641.0 997.6L642.0 997.2L643.0 997.9L644.0 999.0L645.0 999.4L646.0 1000.0L647.0 999.4L648.0 999.5L649.0 998.2L650.0 998.6L651.0 998.4L652.0 997.6L653.0 998.8L654.0 999.4L655.0 998.9L656.0 998.0L657.0 997.3L658.0 996.0L659.0 993.7L660.0 992.1L661.0 991.2L662.0 990.3L663.0 991.0L664.0 990.8L665.0 990.2L666.0 989.2L667.0 988.4L668.0 987.7L669.0 987.2L670.0 987.8L671.0 988.6L672.0 989.7L673.0 990.0L674.0 990.0L675.0 990.5L676.0 991.6L677.0 992.9L678.0 993.2L679.0 994.3L680.0 993.4L681.0 994.3L682.0 994.8L683.0 994.5L684.0 994.5L685.0 993.8L686.0 993.2L687.0 992.4L688.0 991.0L689.0 990.5L690.0 988.8L691.0 989.3L692.0 990.7L693.0 991.1L694.0 992.5L695.0 993.6L696.0 994.0L697.0 993.7L698.0 993.3L699.0 994.0L700.0 994.6L701.0 995.1L702.0 994.3L703.0 993.3L704.0 993.4L705.0 994.6L706.0 994.5L707.0 994.3L708.0 994.7L709.0 993.7L710.0 993.4L711.0 992.9L712.0 993.0L713.0 991.7L714.0 990.8L715.0 990.7L716.0 990.4L717.0 990.1L718.0 990.5L719.0 990.5L720.0 990.2L721.0 990.6L722.0 989.8L723.0 988.7L724.0 989.2L725.0 988.8L726.0 987.7L727.0 986.0L728.0 985.4L729.0 985.3L730.0 985.9L731.0 985.8L732.0 985.9L733.0 985.4L734.0 983.5L735.0 983.0L736.0 983.2L737.0 983.1L738.0 982.1L739.0 981.6L740.0 980.9L741.0 980.4L742.0 979.6L743.0 979.1L744.0 978.5L745.0 977.7L747.0 976.4L749.0 975.1L751.0 973.5L753.0 971.8L755.0 970.1L757.0 968.2L759.0 966.2L761.0 964.1L762.0 963.1L763.0 962.2L764.0 961.4L765.0 960.4L766.0 958.9L767.0 957.6L768.0 956.0L769.0 955.0L770.0 953.8L771.0 953.1L772.0 951.7L773.0 950.2L774.0 949.1L775.0 947.8L776.0 946.2L777.0 945.4L778.0 943.9L779.0 942.1L780.0 940.9L781.0 939.9L782.0 938.8L783.0 936.3L784.0 935.0L785.0 933.7L786.0 932.5L787.0 931.3L788.0 930.0L789.0 928.4L790.0 927.0L791.0 925.2L792.0 924.1L793.0 922.4L794.0 920.7L795.0 919.3L796.0 917.4L797.0 916.3L798.0 914.4L799.0 913.5L800.0 912.2L801.0 911.2L802.0 910.0L803.0 908.8L804.0 907.7L805.0 906.7L806.0 905.6L807.0 905.1L808.0 903.8L809.0 902.9L810.0 901.9L811.0 901.8L812.0 900.8L813.0 900.3L814.0 899.2L815.0 898.2L816.0 896.9L817.0 895.9L818.0 895.0L819.0 893.6L820.0 892.9L821.0 892.1L822.0 891.5L823.0 890.3L824.0 889.4L825.0 888.5L826.0 887.9L827.0 887.1L828.0 886.6L829.0 885.6L830.0 885.3L831.0 884.5L832.0 883.3L833.0 882.7L834.0 882.0L835.0 881.8L836.0 881.5L837.0 881.2L838.0 881.2L839.0 881.1L840.0 880.9L841.0 880.2L842.0 879.4L843.0 879.0L844.0 878.4L845.0 878.2L846.0 877.5L847.0 877.0L848.0 876.3L849.0 875.3L850.0 874.6L851.0 872.9L852.0 872.3L853.0 871.4L854.0 870.9L855.0 869.9L856.0 869.1L857.0 867.6L858.0 866.6L859.0 865.8L860.0 864.6L861.0 863.6L862.0 862.4L863.0 861.0L864.0 860.0L865.0 858.5L866.0 857.2L867.0 855.9L868.0 855.0L869.0 853.9L870.0 852.7L871.0 851.4L872.0 849.9L873.0 848.1L874.0 846.4L875.0 845.2L876.0 843.7L877.0 842.1L878.0 840.4L879.0 838.3L880.0 835.8L881.0 833.5L882.0 831.4L883.0 828.9L884.0 826.6L885.0 823.7L886.0 820.5L887.0 817.7L888.0 814.5L889.0 811.9L890.0 808.5L891.0 805.4L892.0 801.9L893.0 798.9L894.0 796.3L895.0 793.2L896.0 790.5L897.0 788.3L898.0 785.7L899.0 783.3L900.0 781.2L901.0 779.1L902.0 776.6L903.0 775.0L904.0 772.5L905.0 770.7L906.0 768.5L907.0 767.1L908.0 765.4L909.0 762.9L910.0 760.9L911.0 758.7L912.0 756.3L913.0 754.5L914.0 753.0L915.0 750.7L916.0 748.6L917.0 746.7L918.0 744.3L919.0 742.6L920.0 740.5L921.0 739.0L922.0 736.9L923.0 735.3L924.0 734.2L925.0 732.9L926.0 731.7L927.0 730.1L928.0 729.2L929.0 727.8L930.0 727.5L931.0 726.3L932.0 725.2L933.0 723.9L934.0 722.2L935.0 720.3L936.0 718.8L937.0 717.6L938.0 716.7L939.0 715.6L940.0 714.4L941.0 713.1L942.0 711.4L943.0 709.8L944.0 708.6L945.0 707.1L946.0 705.8L947.0 703.6L948.0 702.5L949.0 700.7L950.0 699.7L951.0 698.5L952.0 696.6L953.0 695.0L954.0 693.6L955.0 692.2L956.0 690.2L957.0 688.8L958.0 687.4L959.0 685.5L960.0 684.2L961.0 682.8L962.0 681.0L963.0 679.7L964.0 677.8L965.0 675.9L966.0 673.7L967.0 672.1L968.0 669.9L969.0 668.3L970.0 666.5L971.0 664.6L972.0 663.3L973.0 661.5L974.0 659.7L975.0 657.7L976.0 655.7L977.0 653.8L978.0 652.0L979.0 649.6L980.0 647.3L981.0 644.9L982.0 642.5L983.0 640.0L984.0 637.5L985.0 634.7L986.0 631.8L987.0 628.8L988.0 626.3L989.0 623.6L990.0 621.4L991.0 619.0L992.0 616.8L993.0 614.8L994.0 612.6L995.0 610.5L996.0 609.5L997.0 608.1L998.0 606.7L999.0 605.5L1001.0 603.3L1003.0 601.2L1005.0 599.3L1007.0 597.3L1009.0 595.4L1011.0 593.3L1013.0 591.3L1015.0 589.2L1017.0 587.2L1019.0 585.3L1021.0 583.3L1023.0 581.5L1025.0 579.7L1027.0 578.1L1029.0 576.5L1031.0 574.9L1033.0 573.2L1035.0 571.4L1037.0 569.4L1039.0 567.2L1041.0 564.7L1043.0 561.9L1045.0 558.8L1047.0 555.6L1049.0 552.3L1051.0 548.8L1053.0 545.4L1055.0 541.9L1057.0 538.5L1059.0 535.2L1061.0 532.0L1063.0 528.8L1065.0 525.5L1067.0 522.3L1069.0 519.1L1071.0 515.9L1073.0 512.7L1075.0 509.6L1077.0 506.7L1079.0 503.9L1081.0 501.3L1083.0 498.9L1085.0 496.6L1087.0 494.5L1089.0 492.4L1091.0 490.4L1093.0 488.6L1095.0 487.1L1097.0 485.8L1099.0 484.8L1101.0 484.0L1103.0 483.3L1105.0 482.8L1107.0 482.4L1109.0 482.2L1111.0 482.2L1113.0 482.5L1115.0 483.2L1117.0 484.1L1119.0 485.3L1121.0 486.6L1123.0 488.1L1125.0 489.8L1127.0 491.7L1129.0 493.9L1131.0 496.5L1133.0 499.5L1135.0 502.7L1137.0 506.2L1139.0 509.8L1141.0 513.5L1143.0 517.2L1145.0 520.9L1147.0 524.7L1149.0 528.5L1151.0 532.5L1153.0 536.5L1155.0 540.6L1157.0 544.8L1159.0 548.9L1161.0 553.1L1163.0 557.2L1165.0 561.4L1167.0 565.7L1169.0 570.1L1171.0 574.4L1173.0 578.4L1175.0 581.9L1177.0 584.8L1179.0 587.2L1181.0 589.3L1183.0 590.9L1185.0 592.2L1187.0 593.0L1189.0 593.3L1191.0 593.2L1193.0 592.8L1195.0 592.1L1197.0 591.0L1199.0 589.5L1201.0 587.6L1203.0 585.3L1205.0 582.8L1207.0 580.1L1209.0 577.1L1211.0 573.7L1213.0 569.9L1215.0 565.6L1217.0 560.6L1219.0 555.0L1221.0 549.0L1223.0 542.7L1225.0 536.6L1227.0 530.8L1229.0 525.4L1231.0 520.3L1233.0 515.5L1235.0 510.8L1237.0 506.2L1239.0 501.9L1241.0 497.9L1243.0 494.2L1245.0 491.0L1247.0 488.2L1249.0 485.8L1251.0 483.7L1253.0 481.7L1255.0 479.8L1257.0 478.1L1259.0 476.6L1261.0 475.3L1263.0 474.4L1265.0 473.7L1267.0 473.4L1269.0 473.4L1271.0 473.7L1273.0 474.2L1275.0 474.9L1277.0 475.8L1279.0 476.8L1281.0 478.0L1283.0 479.5L1285.0 481.5L1287.0 484.2L1289.0 487.6L1291.0 491.6L1293.0 496.0L1295.0 500.7L1297.0 505.5L1299.0 510.4L1301.0 515.2L1303.0 520.0L1305.0 524.8L1307.0 529.8L1309.0 534.9L1311.0 540.1L1313.0 545.5L1315.0 550.8L1317.0 556.2L1319.0 561.5L1321.0 566.7L1323.0 571.9L1325.0 577.1L1327.0 582.2L1329.0 587.4L1331.0 592.5L1333.0 597.7L1335.0 602.9L1337.0 608.1L1339.0 613.4L1341.0 618.8L1343.0 624.2L1345.0 629.8L1347.0 635.4L1349.0 641.0L1351.0 646.8L1353.0 652.5L1355.0 658.1L1357.0 663.8L1359.0 669.3L1361.0 674.8L1363.0 680.2L1365.0 685.6L1367.0 690.9L1369.0 696.2L1371.0 701.5L1373.0 706.8L1375.0 712.2L1377.0 717.6L1379.0 723.1L1381.0 728.6L1383.0 734.2L1385.0 739.7L1387.0 745.0L1389.0 750.1L1391.0 755.0L1393.0 759.5L1395.0 763.9L1397.0 767.9L1399.0 771.9L1401.0 775.6L1403.0 779.3L1405.0 782.9L1407.0 786.4L1409.0 789.9L1411.0 793.4L1413.0 796.9L1415.0 800.4L1417.0 803.9L1419.0 807.4L1421.0 811.0L1423.0 814.4L1425.0 817.9L1427.0 821.3L1429.0 824.6L1431.0 827.9L1433.0 831.1L1435.0 834.2L1437.0 837.3L1439.0 840.3L1441.0 843.3L1443.0 846.2L1445.0 849.1L1447.0 851.8L1449.0 854.5L1451.0 857.0L1453.0 859.4L1455.0 861.8L1457.0 864.0L1459.0 866.3L1461.0 868.4L1463.0 870.5L1465.0 872.4L1467.0 874.3L1469.0 876.0L1471.0 877.6L1473.0 879.2L1475.0 880.7L1477.0 882.1L1479.0 883.4L1481.0 884.3L1483.0 884.8L1485.0 884.9L1487.0 884.7L1489.0 884.2L1491.0 883.6L1493.0 883.0L1495.0 882.5L1497.0 882.0L1499.0 881.6L1501.0 881.2L1503.0 880.8L1505.0 880.5L1507.0 880.3L1509.0 880.2L1511.0 880.3L1513.0 880.6L1515.0 881.1L1517.0 881.9L1519.0 882.8L1521.0 883.8L1523.0 884.9L1525.0 886.2L1527.0 887.6L1529.0 889.2L1531.0 891.0L1533.0 893.0L1535.0 895.0L1537.0 897.0L1539.0 899.0L1541.0 900.9L1543.0 902.7L1545.0 904.4L1547.0 905.9L1549.0 907.3L1551.0 908.6L1553.0 909.6L1555.0 910.4L1557.0 910.8" stroke="#f482f4" stroke-width="7.4"/>
<path d="M193.0 984.3L194.0 984.5L195.0 984.5L196.0 984.3L197.0 984.1L198.0 983.9L199.0 983.9L200.0 983.8L201.0 984.3L202.0 984.4L203.0 984.5L204.0 984.6L205.0 984.7L206.0 985.0L207.0 984.9L208.0 984.8L209.0 984.4L210.0 984.4L211.0 984.4L212.0 984.7L213.0 984.8L214.0 984.9L215.0 985.0L216.0 985.2L217.0 984.9L218.0 985.0L219.0 985.2L220.0 985.4L221.0 985.6L222.0 985.3L223.0 985.1L224.0 985.3L225.0 985.2L226.0 985.4L227.0 985.6L228.0 985.5L229.0 985.5L230.0 985.8L231.0 986.0L232.0 985.8L233.0 985.6L234.0 985.7L235.0 985.6L236.0 985.8L237.0 985.5L238.0 985.6L239.0 985.7L240.0 985.9L241.0 986.3L242.0 986.3L243.0 986.4L244.0 986.4L245.0 986.2L246.0 986.2L247.0 986.2L248.0 986.3L249.0 986.5L250.0 986.6L251.0 986.5L252.0 986.7L253.0 986.5L254.0 986.5L255.0 986.5L256.0 986.4L257.0 986.5L258.0 986.8L259.0 986.8L260.0 987.0L261.0 987.1L262.0 987.0L263.0 986.8L264.0 986.7L265.0 986.7L266.0 986.9L267.0 986.9L268.0 987.3L269.0 987.5L270.0 987.3L271.0 987.4L272.0 987.5L273.0 987.6L274.0 987.7L275.0 987.5L276.0 987.6L277.0 987.7L278.0 988.2L279.0 988.2L280.0 988.2L281.0 988.1L282.0 988.0L283.0 987.8L284.0 987.6L285.0 987.9L286.0 987.9L287.0 987.9L288.0 988.2L289.0 988.3L290.0 988.5L291.0 988.5L292.0 988.4L293.0 988.5L294.0 988.5L295.0 988.8L296.0 988.9L297.0 989.2L298.0 989.0L299.0 989.1L300.0 989.3L301.0 989.2L302.0 989.1L303.0 989.2L304.0 989.4L305.0 989.2L306.0 989.1L307.0 989.1L308.0 989.1L309.0 989.3L310.0 989.3L311.0 989.2L312.0 989.3L313.0 989.4L314.0 989.8L315.0 989.8L316.0 989.7L317.0 989.5L318.0 989.6L319.0 989.5L320.0 990.0L321.0 990.2L322.0 990.5L323.0 990.2L324.0 990.2L325.0 989.7L326.0 989.4L327.0 989.4L328.0 989.7L329.0 989.7L330.0 990.0L331.0 990.3L332.0 990.4L333.0 990.3L334.0 990.3L335.0 990.4L336.0 990.2L337.0 990.0L338.0 990.0L339.0 990.0L340.0 989.8L341.0 989.7L342.0 989.8L343.0 989.7L344.0 989.7L345.0 989.8L346.0 990.1L347.0 989.9L348.0 989.9L349.0 989.8L350.0 989.8L351.0 989.7L352.0 989.8L353.0 989.9L354.0 989.8L355.0 989.8L356.0 989.5L357.0 989.5L358.0 989.7L359.0 989.8L360.0 989.6L361.0 989.8L362.0 989.9L363.0 989.8L364.0 989.8L365.0 989.6L366.0 989.5L367.0 989.4L368.0 989.3L369.0 989.5L370.0 989.3L371.0 989.3L372.0 989.4L373.0 989.3L374.0 989.2L375.0 989.3L376.0 989.3L377.0 989.4L378.0 989.5L379.0 989.3L380.0 989.3L381.0 989.3L382.0 989.5L383.0 989.4L384.0 989.3L385.0 989.0L386.0 988.8L387.0 988.9L388.0 989.0L389.0 988.9L390.0 988.9L391.0 989.1L392.0 989.3L393.0 989.5L394.0 989.3L395.0 989.3L396.0 989.2L397.0 989.3L398.0 989.2L399.0 989.0L400.0 988.9L401.0 988.9L402.0 988.8L403.0 988.8L404.0 988.9L405.0 988.8L406.0 988.8L407.0 989.1L408.0 989.5L409.0 989.3L410.0 989.6L411.0 989.4L412.0 989.4L413.0 989.5L414.0 989.9L415.0 989.8L416.0 989.5L417.0 989.7L418.0 989.8L419.0 990.1L420.0 990.7L421.0 990.7L422.0 990.8L423.0 990.8L424.0 990.9L425.0 991.1L426.0 991.2L427.0 991.3L428.0 991.6L429.0 991.9L430.0 991.8L431.0 991.9L432.0 991.6L433.0 991.4L434.0 991.4L435.0 991.6L436.0 991.9L437.0 992.0L438.0 992.2L439.0 992.2L440.0 992.4L441.0 992.4L442.0 992.7L443.0 992.5L444.0 992.2L445.0 992.1L446.0 992.1L447.0 992.1L448.0 991.9L449.0 992.1L450.0 992.3L451.0 992.7L452.0 992.8L453.0 992.9L454.0 992.8L455.0 992.4L456.0 992.4L457.0 992.5L458.0 992.7L459.0 992.8L460.0 992.7L461.0 992.6L462.0 992.6L463.0 992.6L464.0 992.9L465.0 993.0L466.0 992.9L467.0 993.0L468.0 992.8L469.0 993.0L470.0 992.9L471.0 992.9L472.0 992.8L473.0 992.6L474.0 992.8L475.0 992.9L476.0 992.9L477.0 993.0L478.0 993.0L479.0 993.0L481.0 992.9L482.0 993.0L483.0 993.1L484.0 992.8L485.0 992.4L486.0 992.7L487.0 992.6L488.0 992.6L489.0 992.9L490.0 992.5L491.0 992.8L492.0 992.9L493.0 992.8L494.0 992.0L495.0 991.8L496.0 991.5L497.0 992.2L498.0 992.6L499.0 992.9L500.0 992.3L501.0 991.4L502.0 991.2L503.0 991.2L504.0 990.7L505.0 990.4L506.0 990.5L507.0 990.0L508.0 990.1L509.0 990.5L510.0 990.3L511.0 989.9L512.0 989.4L513.0 989.1L514.0 988.8L515.0 989.3L516.0 988.9L517.0 988.9L518.0 988.0L519.0 987.9L520.0 987.9L521.0 988.0L522.0 987.0L523.0 986.9L524.0 986.7L525.0 986.6L526.0 985.7L527.0 985.7L528.0 985.7L529.0 985.8L530.0 985.9L531.0 985.8L532.0 985.5L533.0 985.6L534.0 985.3L535.0 984.5L536.0 984.5L537.0 984.1L538.0 984.1L539.0 984.4L540.0 984.7L541.0 984.4L542.0 983.3L543.0 982.9L544.0 982.1L545.0 981.8L546.0 981.6L547.0 981.7L548.0 981.7L549.0 981.6L550.0 982.3L551.0 982.1L552.0 982.4L553.0 982.6L554.0 982.0L555.0 982.4L556.0 982.0L557.0 981.5L558.0 981.5L559.0 981.8L561.0 982.8L562.0 983.4L563.0 984.5L564.0 985.8L565.0 986.6L566.0 987.4L567.0 988.3L568.0 989.8L569.0 991.2L570.0 990.8L571.0 991.0L572.0 989.9L573.0 989.4L574.0 988.7L575.0 988.7L576.0 988.2L577.0 987.5L578.0 988.6L579.0 988.8L580.0 989.0L581.0 988.6L582.0 988.2L583.0 988.6L584.0 987.9L585.0 988.2L586.0 988.9L587.0 989.4L588.0 990.0L589.0 991.0L590.0 992.1L591.0 993.6L592.0 993.6L593.0 994.0L594.0 993.2L595.0 991.3L596.0 990.6L597.0 990.0L598.0 989.9L599.0 989.2L600.0 988.4L601.0 987.6L602.0 987.4L603.0 987.2L604.0 988.3L605.0 988.3L606.0 987.9L607.0 987.7L608.0 987.9L609.0 988.8L610.0 990.3L611.0 991.4L612.0 993.3L613.0 994.4L614.0 995.3L615.0 996.4L616.0 996.1L617.0 995.3L618.0 994.4L619.0 993.4L620.0 992.7L621.0 992.9L622.0 992.3L623.0 991.9L624.0 991.8L625.0 991.0L626.0 991.3L627.0 990.9L628.0 990.8L629.0 991.9L630.0 992.6L631.0 993.8L632.0 994.6L633.0 994.4L634.0 993.5L635.0 994.0L636.0 994.6L637.0 995.8L638.0 995.7L639.0 996.6L640.0 995.9L641.0 997.0L642.0 996.6L643.0 997.3L644.0 998.4L645.0 998.8L646.0 999.4L647.0 998.8L648.0 998.9L649.0 997.6L650.0 998.0L651.0 997.8L652.0 997.0L653.0 998.2L654.0 998.8L655.0 998.3L656.0 997.4L657.0 996.7L658.0 995.4L659.0 993.1L660.0 991.5L661.0 990.6L662.0 989.7L663.0 990.4L664.0 990.2L665.0 989.6L666.0 988.6L667.0 987.8L668.0 987.1L669.0 986.6L670.0 987.2L671.0 988.0L672.0 989.1L673.0 989.4L674.0 989.4L675.0 989.9L676.0 991.0L677.0 992.3L678.0 992.6L679.0 993.7L680.0 992.8L681.0 993.7L682.0 994.2L683.0 993.9L684.0 993.9L685.0 993.2L686.0 992.6L687.0 991.8L688.0 990.4L689.0 989.9L690.0 988.2L691.0 988.7L692.0 990.1L693.0 990.5L694.0 991.9L695.0 993.0L696.0 993.4L697.0 993.1L698.0 992.7L699.0 993.4L700.0 994.0L701.0 994.5L702.0 993.7L703.0 992.7L704.0 992.8L705.0 994.0L706.0 993.9L707.0 993.7L708.0 994.1L709.0 993.1L710.0 992.8L711.0 992.3L712.0 992.4L713.0 991.1L714.0 990.2L715.0 990.1L716.0 989.8L717.0 989.5L718.0 989.9L719.0 989.9L720.0 989.6L721.0 990.0L722.0 989.2L723.0 988.1L724.0 988.6L725.0 988.2L726.0 987.1L727.0 985.4L728.0 984.8L729.0 984.7L730.0 985.3L731.0 985.2L732.0 985.3L733.0 984.8L734.0 983.0L735.0 982.6L736.0 982.9L737.0 982.8L738.0 981.9L739.0 981.4L740.0 980.9L741.0 980.3L742.0 979.6L743.0 979.1L744.0 978.5L745.0 977.7L747.0 976.4L749.0 975.0L751.0 973.4L753.0 971.8L755.0 970.0L757.0 968.1L759.0 966.1L761.0 964.0L762.0 963.0L763.0 961.6L764.0 960.7L765.0 959.4L766.0 958.7L767.0 958.0L768.0 956.8L769.0 955.4L770.0 954.6L771.0 953.5L772.0 952.6L773.0 950.9L774.0 949.6L775.0 948.4L776.0 946.8L777.0 945.7L778.0 943.9L779.0 942.7L780.0 941.5L781.0 940.7L782.0 939.1L783.0 937.6L784.0 935.8L785.0 934.1L786.0 931.7L787.0 929.7L788.0 927.0L789.0 925.2L790.0 923.2L791.0 921.0L792.0 918.6L793.0 916.6L794.0 914.8L795.0 913.1L796.0 912.0L797.0 911.0L798.0 910.3L799.0 910.7L800.0 910.6L801.0 911.2L802.0 910.6L803.0 910.3L804.0 910.1L805.0 909.8L806.0 909.5L807.0 909.7L808.0 909.2L809.0 907.9L810.0 906.2L811.0 904.3L812.0 902.9L813.0 901.5L814.0 899.5L815.0 898.3L816.0 896.8L817.0 895.0L818.0 893.3L819.0 891.7L820.0 890.0L821.0 888.7L822.0 886.8L823.0 885.7L824.0 884.9L825.0 883.9L826.0 883.4L827.0 882.7L828.0 882.4L829.0 881.8L830.0 881.5L831.0 880.8L832.0 880.6L833.0 879.9L834.0 879.2L835.0 878.9L836.0 878.9L837.0 878.4L838.0 877.9L839.0 877.2L840.0 876.0L841.0 875.3L842.0 873.7L843.0 872.8L844.0 872.3L845.0 871.2L846.0 869.9L847.0 868.8L848.0 866.9L849.0 865.9L850.0 865.1L851.0 863.5L852.0 862.3L853.0 860.4L854.0 858.6L855.0 857.2L856.0 856.0L857.0 854.0L858.0 852.5L859.0 850.4L860.0 849.2L861.0 847.1L862.0 845.6L863.0 843.5L864.0 841.8L865.0 839.8L866.0 838.1L867.0 836.1L868.0 834.1L869.0 832.5L870.0 830.6L871.0 828.7L872.0 826.7L873.0 824.6L874.0 822.1L875.0 819.5L876.0 817.5L877.0 814.7L878.0 812.5L879.0 809.7L880.0 807.0L881.0 804.2L882.0 800.8L883.0 798.5L884.0 795.5L885.0 792.0L886.0 787.9L887.0 784.2L888.0 780.7L889.0 777.7L890.0 774.5L891.0 771.6L892.0 768.4L893.0 765.1L894.0 762.0L895.0 759.7L896.0 756.5L897.0 753.9L898.0 750.8L899.0 748.3L900.0 745.0L901.0 741.7L902.0 738.5L903.0 735.1L904.0 731.9L905.0 729.1L906.0 726.0L907.0 723.5L908.0 720.5L909.0 717.7L910.0 715.3L911.0 712.4L912.0 709.6L913.0 707.3L914.0 705.5L915.0 703.0L916.0 700.7L917.0 698.5L918.0 696.4L919.0 694.0L920.0 691.8L921.0 690.0L922.0 687.9L923.0 685.7L924.0 683.9L925.0 681.8L926.0 680.7L927.0 678.6L928.0 677.1L929.0 675.2L930.0 673.5L931.0 671.9L932.0 670.2L933.0 668.7L934.0 666.8L935.0 665.1L936.0 663.4L937.0 662.1L938.0 661.0L939.0 659.4L940.0 657.6L941.0 656.5L942.0 655.8L943.0 655.0L944.0 654.0L945.0 652.8L946.0 651.0L947.0 649.8L948.0 648.0L949.0 646.8L950.0 645.4L951.0 644.2L952.0 642.6L953.0 641.3L954.0 640.1L955.0 638.6L956.0 637.4L957.0 636.0L958.0 634.4L959.0 633.0L960.0 631.5L961.0 630.1L962.0 628.8L963.0 627.2L964.0 626.2L965.0 624.4L966.0 622.5L967.0 620.6L968.0 619.2L969.0 616.8L970.0 615.5L971.0 613.1L972.0 611.1L973.0 609.0L974.0 606.2L975.0 603.2L976.0 600.4L977.0 597.9L978.0 595.5L979.0 592.2L980.0 589.1L981.0 586.2L982.0 582.7L983.0 579.4L984.0 576.5L985.0 573.8L986.0 571.3L987.0 569.2L988.0 566.9L989.0 564.4L990.0 562.1L991.0 560.6L992.0 558.6L993.0 557.0L994.0 555.4L995.0 553.2L996.0 551.4L997.0 549.9L998.0 548.1L999.0 546.2L1001.0 542.6L1003.0 539.4L1005.0 536.4L1007.0 533.6L1009.0 531.1L1011.0 528.8L1013.0 526.9L1015.0 525.2L1017.0 523.7L1019.0 522.3L1021.0 521.0L1023.0 519.8L1025.0 518.7L1027.0 517.5L1029.0 516.2L1031.0 514.9L1033.0 513.4L1035.0 511.8L1037.0 509.9L1039.0 507.8L1041.0 505.3L1043.0 502.4L1045.0 499.3L1047.0 495.9L1049.0 492.3L1051.0 488.6L1053.0 484.9L1055.0 481.2L1057.0 477.6L1059.0 474.1L1061.0 470.8L1063.0 467.5L1065.0 464.3L1067.0 461.1L1069.0 457.9L1071.0 454.7L1073.0 451.6L1075.0 448.6L1077.0 445.7L1079.0 442.9L1081.0 440.2L1083.0 437.6L1085.0 435.2L1087.0 432.8L1089.0 430.6L1091.0 428.4L1093.0 426.4L1095.0 424.5L1097.0 422.9L1099.0 421.5L1101.0 420.3L1103.0 419.2L1105.0 418.3L1107.0 417.6L1109.0 417.3L1111.0 417.2L1113.0 417.5L1115.0 418.1L1117.0 418.9L1119.0 419.9L1121.0 421.1L1123.0 422.8L1125.0 425.0L1127.0 427.8L1129.0 431.2L1131.0 435.0L1133.0 439.1L1135.0 443.5L1137.0 447.9L1139.0 452.5L1141.0 457.4L1143.0 462.6L1145.0 468.1L1147.0 473.8L1149.0 479.6L1151.0 485.6L1153.0 491.6L1155.0 497.8L1157.0 504.1L1159.0 510.6L1161.0 517.2L1163.0 523.8L1165.0 530.5L1167.0 537.1L1169.0 543.7L1171.0 550.3L1173.0 556.9L1175.0 563.4L1177.0 569.6L1179.0 575.4L1181.0 580.9L1183.0 586.1L1185.0 591.0L1187.0 595.3L1189.0 598.9L1191.0 601.9L1193.0 604.3L1195.0 606.3L1197.0 607.9L1199.0 609.0L1201.0 609.7L1203.0 609.8L1205.0 609.5L1207.0 609.0L1209.0 608.2L1211.0 607.2L1213.0 606.1L1215.0 604.8L1217.0 603.3L1219.0 601.5L1221.0 599.3L1223.0 596.8L1225.0 594.1L1227.0 591.4L1229.0 588.8L1231.0 586.1L1233.0 583.3L1235.0 580.5L1237.0 577.7L1239.0 575.0L1241.0 572.4L1243.0 570.2L1245.0 568.2L1247.0 566.6L1249.0 565.3L1251.0 564.1L1253.0 563.0L1255.0 562.0L1257.0 561.1L1259.0 560.5L1261.0 560.0L1263.0 559.9L1265.0 559.9L1267.0 560.3L1269.0 560.9L1271.0 561.8L1273.0 562.8L1275.0 563.9L1277.0 565.2L1279.0 566.7L1281.0 568.5L1283.0 570.6L1285.0 573.1L1287.0 575.7L1289.0 578.5L1291.0 581.5L1293.0 584.5L1295.0 587.7L1297.0 591.1L1299.0 594.7L1301.0 598.4L1303.0 602.3L1305.0 606.2L1307.0 610.2L1309.0 614.3L1311.0 618.5L1313.0 622.8L1315.0 627.2L1317.0 631.7L1319.0 636.2L1321.0 640.9L1323.0 645.5L1325.0 650.1L1327.0 654.8L1329.0 659.4L1331.0 663.9L1333.0 668.5L1335.0 673.0L1337.0 677.5L1339.0 682.0L1341.0 686.6L1343.0 691.1L1345.0 695.6L1347.0 700.0L1349.0 704.5L1351.0 708.9L1353.0 713.3L1355.0 717.7L1357.0 722.1L1359.0 726.5L1361.0 730.9L1363.0 735.3L1365.0 739.6L1367.0 743.9L1369.0 748.1L1371.0 752.3L1373.0 756.3L1375.0 760.2L1377.0 764.0L1379.0 767.7L1381.0 771.3L1383.0 774.8L1385.0 778.3L1387.0 781.7L1389.0 785.2L1391.0 788.7L1393.0 792.2L1395.0 795.8L1397.0 799.5L1399.0 803.2L1401.0 806.8L1403.0 810.4L1405.0 813.8L1407.0 817.1L1409.0 820.3L1411.0 823.4L1413.0 826.4L1415.0 829.3L1417.0 832.2L1419.0 835.0L1421.0 837.7L1423.0 840.4L1425.0 843.0L1427.0 845.6L1429.0 848.1L1431.0 850.6L1433.0 853.0L1435.0 855.3L1437.0 857.7L1439.0 860.0L1441.0 862.3L1443.0 864.6L1445.0 867.0L1447.0 869.3L1449.0 871.7L1451.0 874.0L1453.0 876.3L1455.0 878.6L1457.0 880.8L1459.0 882.8L1461.0 884.8L1463.0 886.6L1465.0 888.4L1467.0 890.2L1469.0 891.8L1471.0 893.3L1473.0 894.4L1475.0 895.3L1477.0 895.8L1479.0 896.2L1481.0 896.4L1483.0 896.6L1485.0 896.6L1487.0 896.5L1489.0 896.0L1491.0 895.0L1493.0 893.6L1495.0 891.8L1497.0 889.9L1499.0 887.8L1501.0 885.8L1503.0 884.0L1505.0 882.9L1507.0 882.2L1509.0 881.9L1511.0 881.7L1513.0 881.7L1515.0 881.8L1517.0 882.3L1519.0 883.0L1521.0 884.2L1523.0 885.7L1525.0 887.8L1527.0 890.3L1529.0 893.1L1531.0 895.9L1533.0 898.8L1535.0 901.7L1537.0 904.4L1539.0 906.8L1541.0 908.9L1543.0 910.7L1545.0 912.3L1547.0 913.7L1549.0 914.9L1551.0 916.0L1553.0 916.8L1555.0 917.4L1557.0 917.7" stroke="#ff8000" stroke-width="7.4"/>
<path d="M193.0 983.7L194.0 983.9L195.0 983.9L196.0 983.7L197.0 983.5L198.0 983.3L199.0 983.3L200.0 983.2L201.0 983.7L202.0 983.8L203.0 983.9L204.0 984.0L205.0 984.1L206.0 984.4L207.0 984.3L208.0 984.2L209.0 983.8L210.0 983.8L211.0 983.8L212.0 984.1L213.0 984.2L214.0 984.3L215.0 984.4L216.0 984.6L217.0 984.3L218.0 984.4L219.0 984.6L220.0 984.8L221.0 985.0L222.0 984.7L223.0 984.5L224.0 984.7L225.0 984.6L226.0 984.8L227.0 985.0L228.0 984.9L229.0 984.9L230.0 985.2L231.0 985.4L232.0 985.2L233.0 985.0L234.0 985.1L235.0 985.0L236.0 985.2L237.0 984.9L238.0 985.0L239.0 985.1L240.0 985.3L241.0 985.7L242.0 985.7L243.0 985.8L244.0 985.8L245.0 985.6L246.0 985.6L247.0 985.6L248.0 985.7L249.0 985.9L250.0 986.0L251.0 985.9L252.0 986.1L253.0 985.9L254.0 985.9L255.0 985.9L256.0 985.8L257.0 985.9L258.0 986.2L259.0 986.2L260.0 986.4L261.0 986.5L262.0 986.4L263.0 986.2L264.0 986.1L265.0 986.1L266.0 986.3L267.0 986.3L268.0 986.7L269.0 986.9L270.0 986.7L271.0 986.8L272.0 986.9L273.0 987.0L274.0 987.1L275.0 986.9L276.0 987.0L277.0 987.1L278.0 987.6L279.0 987.6L280.0 987.6L281.0 987.5L282.0 987.4L283.0 987.2L284.0 987.0L285.0 987.3L286.0 987.3L287.0 987.3L288.0 987.6L289.0 987.7L290.0 987.9L291.0 987.9L292.0 987.8L293.0 987.9L294.0 987.9L295.0 988.2L296.0 988.3L297.0 988.6L298.0 988.4L299.0 988.5L300.0 988.7L301.0 988.6L302.0 988.5L303.0 988.6L304.0 988.8L305.0 988.6L306.0 988.5L307.0 988.5L308.0 988.5L309.0 988.7L310.0 988.7L311.0 988.6L312.0 988.7L313.0 988.8L314.0 989.2L315.0 989.2L316.0 989.1L317.0 988.9L318.0 989.0L319.0 988.9L320.0 989.4L321.0 989.6L322.0 989.9L323.0 989.6L324.0 989.6L325.0 989.1L326.0 988.8L327.0 988.8L328.0 989.1L329.0 989.1L330.0 989.4L331.0 989.7L332.0 989.8L333.0 989.7L334.0 989.7L335.0 989.8L336.0 989.6L337.0 989.4L338.0 989.4L339.0 989.4L340.0 989.2L341.0 989.1L342.0 989.2L343.0 989.1L344.0 989.1L345.0 989.2L346.0 989.5L347.0 989.3L348.0 989.3L349.0 989.2L350.0 989.2L351.0 989.1L352.0 989.2L353.0 989.3L354.0 989.2L355.0 989.2L356.0 988.9L357.0 988.9L358.0 989.1L359.0 989.2L360.0 989.0L361.0 989.2L362.0 989.3L363.0 989.2L364.0 989.2L365.0 989.0L366.0 988.9L367.0 988.8L368.0 988.7L369.0 988.9L370.0 988.7L371.0 988.7L372.0 988.8L373.0 988.7L374.0 988.6L375.0 988.7L376.0 988.7L377.0 988.8L378.0 988.9L379.0 988.7L380.0 988.7L381.0 988.7L382.0 988.9L383.0 988.8L384.0 988.7L385.0 988.4L386.0 988.2L387.0 988.3L388.0 988.4L389.0 988.3L390.0 988.3L391.0 988.5L392.0 988.7L393.0 988.9L394.0 988.7L395.0 988.7L396.0 988.6L397.0 988.7L398.0 988.6L399.0 988.4L400.0 988.3L401.0 988.3L402.0 988.2L403.0 988.2L404.0 988.3L405.0 988.2L406.0 988.2L407.0 988.5L408.0 988.9L409.0 988.7L410.0 989.0L411.0 988.8L412.0 988.8L413.0 988.9L414.0 989.3L415.0 989.2L416.0 988.9L417.0 989.1L418.0 989.2L419.0 989.5L420.0 990.1L421.0 990.1L422.0 990.2L423.0 990.2L424.0 990.3L425.0 990.5L426.0 990.6L427.0 990.7L428.0 991.0L429.0 991.3L430.0 991.2L431.0 991.3L432.0 991.0L433.0 990.8L434.0 990.8L435.0 991.0L436.0 991.3L437.0 991.4L438.0 991.6L439.0 991.6L440.0 991.8L441.0 991.8L442.0 992.1L443.0 991.9L444.0 991.6L445.0 991.5L446.0 991.5L447.0 991.5L448.0 991.3L449.0 991.5L450.0 991.7L451.0 992.1L452.0 992.2L453.0 992.3L454.0 992.2L455.0 991.8L456.0 991.8L457.0 991.9L458.0 992.1L459.0 992.2L460.0 992.1L461.0 992.0L462.0 992.0L463.0 992.0L464.0 992.3L465.0 992.4L466.0 992.3L467.0 992.4L468.0 992.2L469.0 992.4L470.0 992.3L471.0 992.3L472.0 992.2L473.0 992.0L474.0 992.2L475.0 992.3L476.0 992.3L477.0 992.4L478.0 992.4L479.0 992.4L481.0 992.3L482.0 992.4L483.0 992.5L484.0 992.2L485.0 991.8L486.0 992.1L487.0 992.0L488.0 992.0L489.0 992.3L490.0 991.9L491.0 992.2L492.0 992.3L493.0 992.2L494.0 991.4L495.0 991.2L496.0 990.9L497.0 991.6L498.0 992.0L499.0 992.3L500.0 991.7L501.0 990.8L502.0 990.6L503.0 990.6L504.0 990.1L505.0 989.8L506.0 989.9L507.0 989.4L508.0 989.5L509.0 989.9L510.0 989.7L511.0 989.3L512.0 988.8L513.0 988.5L514.0 988.2L515.0 988.7L516.0 988.3L517.0 988.3L518.0 987.4L519.0 987.3L520.0 987.3L521.0 987.4L522.0 986.4L523.0 986.3L524.0 986.1L525.0 986.0L526.0 985.1L527.0 985.1L528.0 985.1L529.0 985.2L530.0 985.3L531.0 985.2L532.0 984.9L533.0 985.0L534.0 984.7L535.0 983.9L536.0 983.9L537.0 983.5L538.0 983.5L539.0 983.8L540.0 984.1L541.0 983.8L542.0 982.7L543.0 982.3L544.0 981.5L545.0 981.2L546.0 981.0L547.0 981.1L548.0 981.1L549.0 981.0L550.0 981.7L551.0 981.5L552.0 981.8L553.0 982.0L554.0 981.4L555.0 981.8L556.0 981.4L557.0 980.9L558.0 980.9L559.0 981.2L561.0 982.2L562.0 982.8L563.0 983.9L564.0 985.2L565.0 986.0L566.0 986.8L567.0 987.7L568.0 989.2L569.0 990.6L570.0 990.2L571.0 990.4L572.0 989.3L573.0 988.8L574.0 988.1L575.0 988.1L576.0 987.6L577.0 986.9L578.0 988.0L579.0 988.2L580.0 988.4L581.0 988.0L582.0 987.6L583.0 988.0L584.0 987.3L585.0 987.6L586.0 988.3L587.0 988.8L588.0 989.4L589.0 990.4L590.0 991.5L591.0 993.0L592.0 993.0L593.0 993.4L594.0 992.6L595.0 990.7L596.0 990.0L597.0 989.4L598.0 989.3L599.0 988.6L600.0 987.8L601.0 987.0L602.0 986.8L603.0 986.6L604.0 987.7L605.0 987.7L606.0 987.3L607.0 987.1L608.0 987.3L609.0 988.2L610.0 989.7L611.0 990.8L612.0 992.7L613.0 993.8L614.0 994.7L615.0 995.8L616.0 995.5L617.0 994.7L618.0 993.8L619.0 992.8L620.0 992.1L621.0 992.3L622.0 991.7L623.0 991.3L624.0 991.2L625.0 990.4L626.0 990.7L627.0 990.3L628.0 990.2L629.0 991.3L630.0 992.0L631.0 993.2L632.0 994.0L633.0 993.8L634.0 992.9L635.0 993.4L636.0 994.0L637.0 995.2L638.0 995.1L639.0 996.0L640.0 995.3L641.0 996.4L642.0 996.0L643.0 996.7L644.0 997.8L645.0 998.2L646.0 998.8L647.0 998.2L648.0 998.3L649.0 997.0L650.0 997.4L651.0 997.2L652.0 996.4L653.0 997.6L654.0 998.2L655.0 997.7L656.0 996.8L657.0 996.1L658.0 994.8L659.0 992.5L660.0 990.9L661.0 990.0L662.0 989.1L663.0 989.8L664.0 989.6L665.0 989.0L666.0 988.0L667.0 987.2L668.0 986.5L669.0 986.0L670.0 986.6L671.0 987.4L672.0 988.5L673.0 988.8L674.0 988.8L675.0 989.3L676.0 990.4L677.0 991.7L678.0 992.0L679.0 993.1L680.0 992.2L681.0 993.1L682.0 993.6L683.0 993.3L684.0 993.3L685.0 992.6L686.0 992.0L687.0 991.2L688.0 989.8L689.0 989.3L690.0 987.6L691.0 988.1L692.0 989.5L693.0 989.9L694.0 991.3L695.0 992.4L696.0 992.8L697.0 992.5L698.0 992.1L699.0 992.8L700.0 993.4L701.0 993.9L702.0 993.1L703.0 992.1L704.0 992.2L705.0 993.4L706.0 993.3L707.0 993.1L708.0 993.5L709.0 992.5L710.0 992.2L711.0 991.7L712.0 991.8L713.0 990.5L714.0 989.6L715.0 989.5L716.0 989.2L717.0 988.9L718.0 989.3L719.0 989.3L720.0 989.0L721.0 989.4L722.0 988.6L723.0 987.5L724.0 988.0L725.0 987.6L726.0 986.5L727.0 984.8L728.0 984.2L729.0 984.1L730.0 984.7L731.0 984.6L732.0 984.7L733.0 984.2L734.0 982.3L735.0 981.8L736.0 982.3L737.0 982.4L738.0 981.3L739.0 980.8L740.0 980.3L741.0 979.9L742.0 978.8L743.0 979.2L744.0 979.2L745.0 978.3L746.0 977.7L747.0 977.0L748.0 975.2L749.0 975.2L750.0 973.7L751.0 973.0L752.0 972.3L753.0 972.2L754.0 971.5L755.0 970.6L756.0 969.7L757.0 968.4L758.0 967.8L759.0 966.5L761.0 964.4L762.0 963.4L763.0 962.4L764.0 961.0L765.0 959.7L766.0 957.9L767.0 956.0L768.0 955.0L769.0 954.4L770.0 952.5L771.0 950.6L772.0 948.2L773.0 947.1L774.0 946.5L775.0 945.5L776.0 944.0L777.0 942.8L778.0 941.3L779.0 940.0L780.0 938.5L781.0 937.4L782.0 936.3L783.0 935.4L784.0 934.3L785.0 933.2L786.0 932.6L787.0 931.4L788.0 928.8L789.0 927.0L790.0 924.6L791.0 923.0L792.0 920.5L793.0 917.2L794.0 914.6L795.0 912.7L796.0 910.6L797.0 910.0L798.0 909.7L799.0 909.7L800.0 909.4L801.0 909.1L802.0 908.8L803.0 908.6L804.0 908.9L805.0 909.1L806.0 909.5L807.0 909.8L808.0 908.9L809.0 907.7L810.0 905.4L811.0 904.1L812.0 902.9L813.0 900.9L814.0 899.6L815.0 897.4L816.0 895.4L817.0 892.4L818.0 890.0L819.0 888.5L820.0 886.4L821.0 885.8L822.0 884.1L823.0 883.1L824.0 882.5L825.0 882.3L826.0 881.5L827.0 882.0L828.0 881.6L829.0 882.4L830.0 881.6L831.0 881.9L832.0 881.9L833.0 880.8L834.0 879.9L835.0 879.4L836.0 878.1L837.0 876.5L838.0 874.5L839.0 872.6L840.0 870.3L841.0 867.9L842.0 865.4L843.0 864.2L844.0 862.4L845.0 860.7L846.0 859.1L847.0 857.8L848.0 856.0L849.0 854.8L850.0 853.5L851.0 853.3L852.0 852.7L853.0 851.7L854.0 850.0L855.0 848.5L856.0 846.8L857.0 846.0L858.0 844.5L859.0 843.1L860.0 841.7L861.0 840.1L862.0 839.1L863.0 837.3L864.0 835.7L865.0 832.7L866.0 830.0L867.0 827.3L868.0 824.8L869.0 823.0L870.0 820.4L871.0 817.8L872.0 815.0L873.0 812.9L874.0 810.9L875.0 809.5L876.0 807.2L877.0 804.9L878.0 802.0L879.0 799.4L880.0 795.8L881.0 793.8L882.0 790.6L883.0 786.7L884.0 783.3L885.0 779.9L886.0 776.1L887.0 772.4L888.0 769.7L889.0 766.8L890.0 763.0L891.0 759.6L892.0 754.9L893.0 751.7L894.0 747.8L895.0 744.3L896.0 741.4L897.0 738.2L898.0 735.0L899.0 731.2L901.0 723.6L903.0 715.8L905.0 707.9L907.0 700.2L909.0 693.0L911.0 686.5L913.0 680.6L915.0 675.0L917.0 669.8L919.0 664.8L921.0 660.1L923.0 655.5L925.0 651.1L927.0 646.8L929.0 642.7L931.0 638.7L933.0 634.8L935.0 631.0L937.0 627.4L939.0 624.0L941.0 620.6L943.0 617.4L945.0 614.2L947.0 611.0L949.0 607.7L951.0 604.4L953.0 601.0L955.0 597.4L957.0 593.8L959.0 590.1L961.0 586.4L963.0 582.5L965.0 578.6L967.0 574.5L969.0 570.3L971.0 565.9L973.0 561.2L975.0 556.4L977.0 551.5L979.0 546.5L981.0 541.5L983.0 536.6L985.0 531.8L987.0 527.2L989.0 522.6L991.0 518.1L993.0 513.6L995.0 509.2L997.0 504.9L999.0 500.7L1001.0 496.8L1003.0 493.2L1005.0 489.9L1007.0 486.9L1009.0 484.4L1011.0 482.0L1013.0 479.9L1015.0 478.0L1017.0 476.1L1019.0 474.3L1021.0 472.5L1023.0 470.7L1025.0 468.9L1027.0 467.3L1029.0 465.6L1031.0 464.0L1033.0 462.4L1035.0 460.6L1037.0 458.8L1039.0 456.7L1041.0 454.4L1043.0 451.8L1045.0 448.7L1047.0 445.2L1049.0 441.4L1051.0 437.4L1053.0 433.2L1055.0 429.0L1057.0 424.9L1059.0 421.0L1061.0 417.2L1063.0 413.5L1065.0 409.8L1067.0 406.2L1069.0 402.6L1071.0 399.1L1073.0 395.7L1075.0 392.5L1077.0 389.4L1079.0 386.5L1081.0 383.7L1083.0 380.9L1085.0 378.3L1087.0 375.7L1089.0 373.2L1091.0 370.9L1093.0 368.8L1095.0 367.0L1097.0 365.4L1099.0 364.2L1101.0 363.1L1103.0 362.2L1105.0 361.5L1107.0 360.9L1109.0 360.5L1111.0 360.5L1113.0 360.7L1115.0 361.1L1117.0 361.8L1119.0 362.7L1121.0 363.8L1123.0 365.3L1125.0 367.4L1127.0 370.2L1129.0 373.6L1131.0 377.4L1133.0 381.6L1135.0 386.0L1137.0 390.5L1139.0 395.3L1141.0 400.4L1143.0 405.8L1145.0 411.7L1147.0 417.9L1149.0 424.4L1151.0 431.3L1153.0 438.5L1155.0 446.2L1157.0 454.3L1159.0 463.0L1161.0 472.0L1163.0 481.5L1165.0 491.3L1167.0 501.4L1169.0 512.2L1171.0 523.4L1173.0 534.8L1175.0 545.9L1177.0 556.5L1179.0 566.4L1181.0 575.6L1183.0 584.2L1185.0 592.0L1187.0 599.2L1189.0 606.1L1191.0 612.6L1193.0 619.0L1195.0 625.1L1197.0 630.8L1199.0 635.9L1201.0 640.4L1203.0 644.2L1205.0 647.6L1207.0 650.6L1209.0 653.1L1211.0 655.4L1213.0 657.5L1215.0 659.2L1217.0 660.5L1219.0 661.7L1221.0 662.6L1223.0 663.4L1225.0 664.0L1227.0 664.5L1229.0 664.7L1231.0 664.7L1233.0 664.5L1235.0 664.2L1237.0 663.7L1239.0 663.3L1241.0 662.9L1243.0 662.5L1245.0 662.3L1247.0 662.2L1249.0 662.1L1251.0 662.1L1253.0 662.1L1255.0 662.1L1257.0 662.1L1259.0 662.1L1261.0 662.2L1263.0 662.4L1265.0 662.8L1267.0 663.3L1269.0 663.9L1271.0 664.7L1273.0 665.6L1275.0 666.7L1277.0 668.0L1279.0 669.5L1281.0 671.4L1283.0 673.5L1285.0 675.8L1287.0 678.3L1289.0 680.8L1291.0 683.6L1293.0 686.6L1295.0 689.7L1297.0 693.0L1299.0 696.4L1301.0 699.8L1303.0 703.1L1305.0 706.4L1307.0 709.8L1309.0 713.2L1311.0 716.5L1313.0 719.9L1315.0 723.2L1317.0 726.5L1319.0 729.8L1321.0 733.0L1323.0 736.1L1325.0 739.2L1327.0 742.3L1329.0 745.3L1331.0 748.4L1333.0 751.4L1335.0 754.4L1337.0 757.4L1339.0 760.4L1341.0 763.5L1343.0 766.5L1345.0 769.6L1347.0 772.7L1349.0 775.8L1351.0 778.9L1353.0 782.0L1355.0 785.0L1357.0 788.1L1359.0 791.1L1361.0 794.1L1363.0 797.2L1365.0 800.2L1367.0 803.2L1369.0 806.2L1371.0 809.2L1373.0 812.2L1375.0 815.2L1377.0 818.2L1379.0 821.2L1381.0 824.2L1383.0 827.3L1385.0 830.3L1387.0 833.3L1389.0 836.3L1391.0 839.3L1393.0 842.2L1395.0 845.1L1397.0 847.9L1399.0 850.7L1401.0 853.4L1403.0 856.1L1405.0 858.8L1407.0 861.4L1409.0 864.0L1411.0 866.5L1413.0 868.8L1415.0 871.1L1417.0 873.4L1419.0 875.5L1421.0 877.6L1423.0 879.6L1425.0 881.5L1427.0 883.5L1429.0 885.4L1431.0 887.3L1433.0 889.2L1435.0 891.1L1437.0 893.0L1439.0 894.9L1441.0 896.8L1443.0 898.6L1445.0 900.5L1447.0 902.2L1449.0 904.0L1451.0 905.7L1453.0 907.3L1455.0 908.9L1457.0 910.5L1459.0 912.1L1461.0 913.6L1463.0 915.0L1465.0 916.2L1467.0 917.1L1469.0 917.8L1471.0 918.4L1473.0 918.9L1475.0 919.3L1477.0 919.5L1479.0 919.6L1481.0 919.5L1483.0 919.2L1485.0 918.6L1487.0 917.8L1489.0 916.5L1491.0 914.5L1493.0 911.8L1495.0 908.5L1497.0 905.1L1499.0 902.0L1501.0 899.3L1503.0 897.0L1505.0 895.3L1507.0 894.3L1509.0 893.7L1511.0 893.4L1513.0 893.2L1515.0 893.2L1517.0 893.6L1519.0 894.3L1521.0 895.6L1523.0 897.4L1525.0 899.6L1527.0 902.5L1529.0 905.7L1531.0 909.1L1533.0 912.1L1535.0 914.8L1537.0 917.2L1539.0 919.3L1541.0 921.2L1543.0 922.9L1545.0 924.4L1547.0 925.8L1549.0 927.0L1551.0 928.1L1553.0 929.0L1555.0 929.7L1557.0 930.1" stroke="#ff0000" stroke-width="7.2"/>
</g>
<line x1="1273.2" y1="119" x2="1273.2" y2="182" stroke="#000" stroke-width="6.7"/>
<line x1="1115.9" y1="273" x2="1115.9" y2="336.2" stroke="#000" stroke-width="7.6"/>
<line x1="1008.2" y1="405.8" x2="1008.2" y2="467" stroke="#000" stroke-width="8.0"/>
<line x1="1059.7" y1="689.3" x2="1059.7" y2="736.8" stroke="#000" stroke-width="5.8"/>
<line x1="800.2" y1="816" x2="800.2" y2="878.7" stroke="#000" stroke-width="6.5"/>
<line x1="1515.8" y1="786.8" x2="1515.8" y2="849" stroke="#000" stroke-width="6.0"/>
<line x1="1275.3" y1="191.7" x2="1328.9" y2="149" stroke="#000" stroke-width="1.6"/>
<line x1="1283.3" y1="219.4" x2="1364.6" y2="185" stroke="#000" stroke-width="1.6"/>
<text transform="translate(101.45 945.2) scale(0.9744 1)" font-size="50.14" font-weight="normal" text-anchor="start" stroke="#000" stroke-width="2.0" stroke-linejoin="round">0.0</text>
<text transform="translate(101.44 732.0) scale(0.975 1)" font-size="50.14" font-weight="normal" text-anchor="start" stroke="#000" stroke-width="2.0" stroke-linejoin="round">0.1</text>
<text transform="translate(101.43 518.8) scale(0.9818 1)" font-size="50.14" font-weight="normal" text-anchor="start" stroke="#000" stroke-width="2.0" stroke-linejoin="round">0.2</text>
<text transform="translate(101.44 305.6) scale(0.9781 1)" font-size="50.14" font-weight="normal" text-anchor="start" stroke="#000" stroke-width="2.0" stroke-linejoin="round">0.3</text>
<text transform="translate(101.46 92.4) scale(0.967 1)" font-size="50.14" font-weight="normal" text-anchor="start" stroke="#000" stroke-width="2.0" stroke-linejoin="round">0.4</text>
<text transform="translate(147.32 1106.1) scale(0.9563 1)" font-size="49.86" font-weight="normal" text-anchor="start" stroke="#000" stroke-width="2.0" stroke-linejoin="round">2000</text>
<text transform="translate(420.47 1106.1) scale(0.9448 1)" font-size="49.86" font-weight="normal" text-anchor="start" stroke="#000" stroke-width="2.0" stroke-linejoin="round">1800</text>
<text transform="translate(691.07 1106.1) scale(0.9448 1)" font-size="49.86" font-weight="normal" text-anchor="start" stroke="#000" stroke-width="2.0" stroke-linejoin="round">1600</text>
<text transform="translate(961.67 1106.1) scale(0.9448 1)" font-size="49.86" font-weight="normal" text-anchor="start" stroke="#000" stroke-width="2.0" stroke-linejoin="round">1400</text>
<text transform="translate(1232.27 1106.1) scale(0.9448 1)" font-size="49.86" font-weight="normal" text-anchor="start" stroke="#000" stroke-width="2.0" stroke-linejoin="round">1200</text>
<text transform="translate(1502.87 1106.1) scale(0.9448 1)" font-size="49.86" font-weight="normal" text-anchor="start" stroke="#000" stroke-width="2.0" stroke-linejoin="round">1000</text>
<text transform="translate(254.17 160.4) scale(1.0075 1)" font-size="120.43" font-weight="bold" text-anchor="start" stroke="#000" stroke-width="1.6" stroke-linejoin="round">A</text>
<text transform="translate(1211.58 82.32) scale(0.9497 1)" font-size="57.89" font-weight="normal" text-anchor="start" stroke="#000" stroke-width="0.6" stroke-linejoin="round">1210</text>
<text transform="translate(1059.27 245.1) scale(0.8929 1)" font-size="54.93" font-weight="normal" text-anchor="start" stroke="#000" stroke-width="0.3" stroke-linejoin="round">1327</text>
<text transform="translate(951.46 384.5) scale(0.897 1)" font-size="54.79" font-weight="normal" text-anchor="start" stroke="#000" stroke-width="0.3" stroke-linejoin="round">1405</text>
<text transform="translate(1004.87 647.81) scale(0.9045 1)" font-size="54.23" font-weight="normal" text-anchor="start" stroke="#000" stroke-width="0.3" stroke-linejoin="round">1362</text>
<text transform="translate(732.82 788.81) scale(0.9145 1)" font-size="54.37" font-weight="normal" text-anchor="start" stroke="#000" stroke-width="0.3" stroke-linejoin="round">1550</text>
<text transform="translate(1446.41 749.82) scale(0.9419 1)" font-size="52.96" font-weight="normal" text-anchor="start" stroke="#000" stroke-width="0.3" stroke-linejoin="round">1029</text>
<text transform="translate(1337.7 154.01)" font-size="50.5" font-weight="normal" text-anchor="start" stroke="#000" stroke-width="0.3" stroke-linejoin="round">f</text>
<text transform="translate(1380.42 186.91)" font-size="50.5" font-weight="normal" text-anchor="start" stroke="#000" stroke-width="0.3" stroke-linejoin="round">g</text>
<text transform="translate(1261.89 304.58)" font-size="50.5" font-weight="normal" text-anchor="start" stroke="#000" stroke-width="0.3" stroke-linejoin="round">e</text>
<text transform="translate(1261.37 415.75)" font-size="50.5" font-weight="normal" text-anchor="start" stroke="#000" stroke-width="0.3" stroke-linejoin="round">d</text>
<text transform="translate(1255.27 634.13)" font-size="50.5" font-weight="normal" text-anchor="start" stroke="#000" stroke-width="0.3" stroke-linejoin="round">c</text>
<text transform="translate(1260.61 759.05)" font-size="50.5" font-weight="normal" text-anchor="start" stroke="#000" stroke-width="0.3" stroke-linejoin="round">b</text>
<text transform="translate(1254.15 958.13)" font-size="50.5" font-weight="normal" text-anchor="start" stroke="#000" stroke-width="0.3" stroke-linejoin="round">a</text>
<text transform="translate(1101.51 530.06)" font-size="50.5" font-weight="normal" text-anchor="start" stroke="#000" stroke-width="0.3" stroke-linejoin="round">h</text>
<text transform="translate(1103.85 457.86)" font-size="50.5" font-weight="normal" text-anchor="start" stroke="#000" stroke-width="0.3" stroke-linejoin="round">i</text>
<text transform="translate(1105.12 400.85)" font-size="50.5" font-weight="normal" text-anchor="start" stroke="#000" stroke-width="0.3" stroke-linejoin="round">j</text>
<text transform="translate(667.05 1194.30) scale(0.9868 1)" font-size="50.33" stroke="#000" stroke-width="1.4" stroke-linejoin="round">Wavenumber (cm<tspan font-size="30.20" dy="-25.16" stroke-width="0.9">-1</tspan><tspan dy="25.16">)</tspan></text>
<text transform="translate(78.40 736.06) rotate(-90) scale(1.0106 1)" font-size="50.83" word-spacing="-3.24" stroke="#000" stroke-width="1.4" stroke-linejoin="round">Absorbance <tspan letter-spacing="-1.1">(a.u.)</tspan></text>
</g>
<g id="plotB">
<clipPath id="clipB"><rect x="191" y="1221" width="1366" height="1015"/></clipPath>
<rect x="197.5" y="1221" width="1355.5" height="1003" fill="none" stroke="#000" stroke-width="4.4"/>
<line x1="176.5" y1="2115.7" x2="197.5" y2="2115.7" stroke="#000" stroke-width="4.4"/>
<line x1="176.5" y1="1903.1" x2="197.5" y2="1903.1" stroke="#000" stroke-width="4.4"/>
<line x1="176.5" y1="1690.5" x2="197.5" y2="1690.5" stroke="#000" stroke-width="4.4"/>
<line x1="176.5" y1="1477.9" x2="197.5" y2="1477.9" stroke="#000" stroke-width="4.4"/>
<line x1="176.5" y1="1265.3" x2="197.5" y2="1265.3" stroke="#000" stroke-width="4.4"/>
<line x1="185.0" y1="2009.4" x2="197.5" y2="2009.4" stroke="#000" stroke-width="4.4"/>
<line x1="185.0" y1="1796.8" x2="197.5" y2="1796.8" stroke="#000" stroke-width="4.4"/>
<line x1="185.0" y1="1584.2" x2="197.5" y2="1584.2" stroke="#000" stroke-width="4.4"/>
<line x1="185.0" y1="1371.6" x2="197.5" y2="1371.6" stroke="#000" stroke-width="4.4"/>
<line x1="185.0" y1="2224" x2="197.5" y2="2224" stroke="#000" stroke-width="4.4"/>
<line x1="197.5" y1="2224" x2="197.5" y2="2244.3" stroke="#000" stroke-width="4.4"/>
<line x1="333.1" y1="2224" x2="333.1" y2="2234" stroke="#000" stroke-width="4.4"/>
<line x1="468.6" y1="2224" x2="468.6" y2="2244.3" stroke="#000" stroke-width="4.4"/>
<line x1="604.2" y1="2224" x2="604.2" y2="2234" stroke="#000" stroke-width="4.4"/>
<line x1="739.7" y1="2224" x2="739.7" y2="2244.3" stroke="#000" stroke-width="4.4"/>
<line x1="875.2" y1="2224" x2="875.2" y2="2234" stroke="#000" stroke-width="4.4"/>
<line x1="1010.8" y1="2224" x2="1010.8" y2="2244.3" stroke="#000" stroke-width="4.4"/>
<line x1="1146.4" y1="2224" x2="1146.4" y2="2234" stroke="#000" stroke-width="4.4"/>
<line x1="1281.9" y1="2224" x2="1281.9" y2="2244.3" stroke="#000" stroke-width="4.4"/>
<line x1="1417.5" y1="2224" x2="1417.5" y2="2234" stroke="#000" stroke-width="4.4"/>
<line x1="1553.0" y1="2224" x2="1553.0" y2="2244.3" stroke="#000" stroke-width="4.4"/>
<g clip-path="url(#clipB)" fill="none" stroke-linejoin="round" stroke-linecap="butt">
<path d="M191.0 2177.0L193.0 2177.0L195.0 2177.0L197.0 2177.0L199.0 2177.0L201.0 2177.0L203.0 2177.0L205.0 2177.0L207.0 2177.0L209.0 2177.0L211.0 2177.0L213.0 2177.0L215.0 2177.0L217.0 2177.0L219.0 2177.0L221.0 2177.0L223.0 2177.0L225.0 2177.0L227.0 2177.0L229.0 2177.0L231.0 2177.0L233.0 2177.0L235.0 2177.0L237.0 2177.0L239.0 2177.0L241.0 2177.0L243.0 2177.0L245.0 2177.0L247.0 2177.0L249.0 2177.0L251.0 2177.0L253.0 2177.0L255.0 2177.0L257.0 2177.0L259.0 2177.0L261.0 2177.0L263.0 2177.0L265.0 2177.0L267.0 2177.0L269.0 2177.0L271.0 2177.0L273.0 2177.0L275.0 2177.0L277.0 2177.0L279.0 2177.0L281.0 2177.0L283.0 2177.0L285.0 2177.0L287.0 2177.0L289.0 2177.0L291.0 2177.0L293.0 2177.0L295.0 2177.0L297.0 2177.0L299.0 2177.0L301.0 2177.0L303.0 2177.0L305.0 2177.0L307.0 2176.9L309.0 2176.9L311.0 2176.8L313.0 2176.8L315.0 2176.7L317.0 2176.6L319.0 2176.5L321.0 2176.4L323.0 2176.3L325.0 2176.2L327.0 2176.1L329.0 2176.0L331.0 2175.8L333.0 2175.7L335.0 2175.5L337.0 2175.4L339.0 2175.2L341.0 2175.1L343.0 2174.9L345.0 2174.8L347.0 2174.6L349.0 2174.4L351.0 2174.2L353.0 2174.1L355.0 2173.9L357.0 2173.7L359.0 2173.5L361.0 2173.3L363.0 2173.1L365.0 2172.9L367.0 2172.8L369.0 2172.6L371.0 2172.4L373.0 2172.2L375.0 2172.0L377.0 2171.8L379.0 2171.7L381.0 2171.5L383.0 2171.3L385.0 2171.1L387.0 2171.0L389.0 2170.8L391.0 2170.7L393.0 2170.5L395.0 2170.4L397.0 2170.2L399.0 2170.1L401.0 2169.9L403.0 2169.8L405.0 2169.7L407.0 2169.5L409.0 2169.4L411.0 2169.3L413.0 2169.2L415.0 2169.1L417.0 2168.9L419.0 2168.8L421.0 2168.7L423.0 2168.6L425.0 2168.5L427.0 2168.3L429.0 2168.2L431.0 2168.1L433.0 2168.0L435.0 2167.9L437.0 2167.7L439.0 2167.6L441.0 2167.5L443.0 2167.4L445.0 2167.3L447.0 2167.2L449.0 2167.0L451.0 2166.9L453.0 2166.8L455.0 2166.7L457.0 2166.5L459.0 2166.4L461.0 2166.3L463.0 2166.2L465.0 2166.0L467.0 2165.9L469.0 2165.8L471.0 2165.6L473.0 2165.5L475.0 2165.4L477.0 2165.2L479.0 2165.1L481.0 2164.9L483.0 2164.8L485.0 2164.6L487.0 2164.5L489.0 2164.3L491.0 2164.2L493.0 2164.0L495.0 2163.9L497.0 2163.7L499.0 2163.6L501.0 2163.4L503.0 2163.3L505.0 2163.1L507.0 2163.0L509.0 2162.8L511.0 2162.7L513.0 2162.5L515.0 2162.3L517.0 2162.2L519.0 2162.0L521.0 2161.8L523.0 2161.7L525.0 2161.5L527.0 2161.3L529.0 2161.2L531.0 2161.0L533.0 2160.8L535.0 2160.6L537.0 2160.4L539.0 2160.2L541.0 2160.0L543.0 2159.8L545.0 2159.6L547.0 2159.4L549.0 2159.2L551.0 2159.0L553.0 2158.8L555.0 2158.6L557.0 2158.3L559.0 2158.1L561.0 2157.9L563.0 2157.6L565.0 2157.4L567.0 2157.1L569.0 2156.9L571.0 2156.6L573.0 2156.3L575.0 2156.1L577.0 2155.8L579.0 2155.5L581.0 2155.2L583.0 2154.9L585.0 2154.6L587.0 2154.3L589.0 2153.9L591.0 2153.6L593.0 2153.3L595.0 2152.9L597.0 2152.6L599.0 2152.2L601.0 2151.8L603.0 2151.5L605.0 2151.1L607.0 2150.7L609.0 2150.3L611.0 2149.9L613.0 2149.5L615.0 2149.1L617.0 2148.6L619.0 2148.2L621.0 2147.7L623.0 2147.3L625.0 2146.7L627.0 2146.2L629.0 2145.6L631.0 2145.0L633.0 2144.3L635.0 2143.7L637.0 2143.0L639.0 2142.3L641.0 2141.7L643.0 2141.0L645.0 2140.4L647.0 2139.8L649.0 2139.2L651.0 2138.7L653.0 2138.1L655.0 2137.6L657.0 2137.1L659.0 2136.5L661.0 2136.0L663.0 2135.6L665.0 2135.3L667.0 2135.2L669.0 2135.2L671.0 2135.3L673.0 2135.6L675.0 2135.9L677.0 2136.4L679.0 2136.9L681.0 2137.4L683.0 2138.0L685.0 2138.6L687.0 2139.2L689.0 2139.7L691.0 2140.2L693.0 2140.8L695.0 2141.3L697.0 2141.8L699.0 2142.3L701.0 2142.9L703.0 2143.4L705.0 2143.9L707.0 2144.5L709.0 2145.0L711.0 2145.6L713.0 2146.1L715.0 2146.7L717.0 2147.2L719.0 2147.7L721.0 2148.3L723.0 2148.8L725.0 2149.3L727.0 2149.8L729.0 2150.4L731.0 2150.9L733.0 2151.4L735.0 2152.0L737.0 2152.5L739.0 2153.0L741.0 2153.5L743.0 2154.0L745.0 2154.5L747.0 2155.0L749.0 2155.5L751.0 2156.0L753.0 2156.5L755.0 2156.9L757.0 2157.4L759.0 2157.8L761.0 2158.2L763.0 2158.6L765.0 2159.0L767.0 2159.5L769.0 2159.9L771.0 2160.3L773.0 2160.7L775.0 2161.1L777.0 2161.5L779.0 2161.9L781.0 2162.3L783.0 2162.7L785.0 2163.0L787.0 2163.4L789.0 2163.7L791.0 2164.0L793.0 2164.2L795.0 2164.5L797.0 2164.7L799.0 2164.9L801.0 2165.1L803.0 2165.2L805.0 2165.4L807.0 2165.5L809.0 2165.7L811.0 2165.8L813.0 2166.0L815.0 2166.1L817.0 2166.3L819.0 2166.4L821.0 2166.5L823.0 2166.6L825.0 2166.8L827.0 2166.9L829.0 2167.0L831.0 2167.1L833.0 2167.2L835.0 2167.3L837.0 2167.4L839.0 2167.5L841.0 2167.6L843.0 2167.6L845.0 2167.7L847.0 2167.8L849.0 2167.8L851.0 2167.9L853.0 2167.9L855.0 2167.9L857.0 2168.0L859.0 2168.0L861.0 2168.0L863.0 2168.0L865.0 2167.9L867.0 2167.8L869.0 2167.7L871.0 2167.6L873.0 2167.4L875.0 2167.2L877.0 2166.9L879.0 2166.7L881.0 2166.4L883.0 2166.1L885.0 2165.9L887.0 2165.6L889.0 2165.3L891.0 2165.0L893.0 2164.7L895.0 2164.4L897.0 2164.2L899.0 2163.9L901.0 2163.7L903.0 2163.5L905.0 2163.4L907.0 2163.2L909.0 2163.1L911.0 2163.1L913.0 2163.0L915.0 2163.0L917.0 2163.0L919.0 2163.1L921.0 2163.1L923.0 2163.2L925.0 2163.3L927.0 2163.4L929.0 2163.5L931.0 2163.6L933.0 2163.7L935.0 2163.8L937.0 2163.9L939.0 2164.0L941.0 2164.1L943.0 2164.3L945.0 2164.4L947.0 2164.5L949.0 2164.6L951.0 2164.7L953.0 2164.8L955.0 2164.8L957.0 2164.9L959.0 2164.9L961.0 2165.0L963.0 2164.9L965.0 2164.9L967.0 2164.6L969.0 2164.3L971.0 2163.8L973.0 2163.2L975.0 2162.6L977.0 2161.9L979.0 2161.3L981.0 2160.6L983.0 2160.1L985.0 2159.6L987.0 2159.3L989.0 2159.1L991.0 2159.0L993.0 2159.0L995.0 2159.1L997.0 2159.1L999.0 2159.2L1001.0 2159.3L1003.0 2159.4L1005.0 2159.5L1007.0 2159.6L1009.0 2159.7L1011.0 2159.8L1013.0 2159.9L1015.0 2160.0L1017.0 2160.1L1019.0 2160.2L1021.0 2160.4L1023.0 2160.5L1025.0 2160.6L1027.0 2160.7L1029.0 2160.7L1031.0 2160.8L1033.0 2160.9L1035.0 2160.9L1037.0 2161.0L1039.0 2161.0L1041.0 2161.0L1043.0 2161.0L1045.0 2160.9L1047.0 2160.8L1049.0 2160.7L1051.0 2160.6L1053.0 2160.5L1055.0 2160.4L1057.0 2160.2L1059.0 2160.0L1061.0 2159.9L1063.0 2159.7L1065.0 2159.5L1067.0 2159.3L1069.0 2159.1L1071.0 2158.8L1073.0 2158.6L1075.0 2158.4L1077.0 2158.2L1079.0 2158.0L1081.0 2157.8L1083.0 2157.5L1085.0 2157.2L1087.0 2156.9L1089.0 2156.6L1091.0 2156.3L1093.0 2155.9L1095.0 2155.6L1097.0 2155.2L1099.0 2154.8L1101.0 2154.5L1103.0 2154.1L1105.0 2153.8L1107.0 2153.4L1109.0 2153.1L1111.0 2152.8L1113.0 2152.5L1115.0 2152.3L1117.0 2152.0L1119.0 2151.8L1121.0 2151.6L1123.0 2151.4L1125.0 2151.2L1127.0 2151.1L1129.0 2150.9L1131.0 2150.7L1133.0 2150.6L1135.0 2150.4L1137.0 2150.3L1139.0 2150.1L1141.0 2149.9L1143.0 2149.7L1145.0 2149.6L1147.0 2149.4L1149.0 2149.2L1151.0 2149.1L1153.0 2148.9L1155.0 2148.7L1157.0 2148.5L1159.0 2148.3L1161.0 2148.1L1163.0 2147.8L1165.0 2147.6L1167.0 2147.3L1169.0 2147.0L1171.0 2146.7L1173.0 2146.4L1175.0 2146.0L1177.0 2145.6L1179.0 2145.2L1181.0 2144.8L1183.0 2144.3L1185.0 2143.7L1187.0 2143.1L1189.0 2142.5L1191.0 2141.9L1193.0 2141.2L1195.0 2140.5L1197.0 2139.8L1199.0 2139.1L1201.0 2138.3L1203.0 2137.5L1205.0 2136.6L1207.0 2135.8L1209.0 2134.9L1211.0 2134.1L1213.0 2133.3L1215.0 2132.5L1217.0 2131.9L1219.0 2131.2L1221.0 2130.6L1223.0 2130.0L1225.0 2129.4L1227.0 2128.9L1229.0 2128.4L1231.0 2128.0L1233.0 2127.6L1235.0 2127.3L1237.0 2127.1L1239.0 2126.9L1241.0 2126.8L1243.0 2126.6L1245.0 2126.5L1247.0 2126.4L1249.0 2126.4L1251.0 2126.4L1253.0 2126.6L1255.0 2126.9L1257.0 2127.3L1259.0 2127.9L1261.0 2128.6L1263.0 2129.3L1265.0 2130.1L1267.0 2130.9L1269.0 2131.6L1271.0 2132.4L1273.0 2133.1L1275.0 2133.9L1277.0 2134.7L1279.0 2135.6L1281.0 2136.4L1283.0 2137.2L1285.0 2138.0L1287.0 2138.8L1289.0 2139.6L1291.0 2140.4L1293.0 2141.1L1295.0 2141.8L1297.0 2142.5L1299.0 2143.2L1301.0 2143.9L1303.0 2144.6L1305.0 2145.2L1307.0 2145.9L1309.0 2146.4L1311.0 2147.0L1313.0 2147.5L1315.0 2147.9L1317.0 2148.3L1319.0 2148.7L1321.0 2149.1L1323.0 2149.5L1325.0 2149.8L1327.0 2150.2L1329.0 2150.6L1331.0 2151.0L1333.0 2151.4L1335.0 2151.8L1337.0 2152.2L1339.0 2152.7L1341.0 2153.1L1343.0 2153.5L1345.0 2153.9L1347.0 2154.3L1349.0 2154.7L1351.0 2155.1L1353.0 2155.4L1355.0 2155.7L1357.0 2156.0L1359.0 2156.3L1361.0 2156.6L1363.0 2156.9L1365.0 2157.2L1367.0 2157.5L1369.0 2157.7L1371.0 2158.0L1373.0 2158.2L1375.0 2158.5L1377.0 2158.7L1379.0 2158.9L1381.0 2159.1L1383.0 2159.3L1385.0 2159.5L1387.0 2159.7L1389.0 2159.9L1391.0 2160.1L1393.0 2160.3L1395.0 2160.5L1397.0 2160.7L1399.0 2160.9L1401.0 2161.1L1403.0 2161.2L1405.0 2161.4L1407.0 2161.5L1409.0 2161.6L1411.0 2161.8L1413.0 2161.8L1415.0 2161.9L1417.0 2162.0L1419.0 2162.0L1421.0 2162.0L1423.0 2162.0L1425.0 2162.0L1427.0 2161.9L1429.0 2161.9L1431.0 2161.9L1433.0 2161.8L1435.0 2161.8L1437.0 2161.7L1439.0 2161.6L1441.0 2161.6L1443.0 2161.5L1445.0 2161.4L1447.0 2161.3L1449.0 2161.3L1451.0 2161.2L1453.0 2161.1L1455.0 2161.0L1457.0 2160.9L1459.0 2160.8L1461.0 2160.7L1463.0 2160.6L1465.0 2160.6L1467.0 2160.5L1469.0 2160.4L1471.0 2160.3L1473.0 2160.2L1475.0 2160.2L1477.0 2160.1L1479.0 2160.0L1481.0 2160.0L1483.0 2159.9L1485.0 2159.9L1487.0 2159.8L1489.0 2159.7L1491.0 2159.7L1493.0 2159.6L1495.0 2159.6L1497.0 2159.5L1499.0 2159.5L1501.0 2159.4L1503.0 2159.3L1505.0 2159.3L1507.0 2159.2L1509.0 2159.2L1511.0 2159.1L1513.0 2159.1L1515.0 2159.0L1517.0 2159.0L1519.0 2158.9L1521.0 2158.9L1523.0 2158.8L1525.0 2158.7L1527.0 2158.7L1529.0 2158.6L1531.0 2158.6L1533.0 2158.5L1535.0 2158.5L1537.0 2158.4L1539.0 2158.4L1541.0 2158.3L1543.0 2158.3L1545.0 2158.3L1547.0 2158.2L1549.0 2158.2L1551.0 2158.1L1553.0 2158.1L1555.0 2158.0L1557.0 2158.0" stroke="#c0c0c0" stroke-width="6.6"/>
<path d="M191.0 2177.0L193.0 2177.0L195.0 2177.0L197.0 2177.0L199.0 2177.0L201.0 2177.0L203.0 2177.0L205.0 2177.0L207.0 2177.0L209.0 2177.0L211.0 2177.0L213.0 2177.0L215.0 2177.0L217.0 2177.0L219.0 2177.0L221.0 2177.0L223.0 2177.0L225.0 2177.0L227.0 2177.0L229.0 2177.0L231.0 2177.0L233.0 2177.0L235.0 2177.0L237.0 2177.0L239.0 2177.0L241.0 2177.0L243.0 2177.0L245.0 2177.0L247.0 2177.0L249.0 2177.0L251.0 2177.0L253.0 2177.0L255.0 2177.0L257.0 2177.0L259.0 2177.0L261.0 2177.0L263.0 2177.0L265.0 2177.0L267.0 2177.0L269.0 2177.0L271.0 2177.0L273.0 2177.0L275.0 2177.0L277.0 2177.0L279.0 2177.0L281.0 2177.0L283.0 2177.0L285.0 2177.0L287.0 2177.0L289.0 2177.0L291.0 2177.0L293.0 2177.0L295.0 2177.0L297.0 2177.0L299.0 2177.0L301.0 2177.0L303.0 2177.0L305.0 2177.0L307.0 2176.9L309.0 2176.9L311.0 2176.9L313.0 2176.8L315.0 2176.7L317.0 2176.7L319.0 2176.6L321.0 2176.5L323.0 2176.4L325.0 2176.3L327.0 2176.2L329.0 2176.1L331.0 2176.0L333.0 2175.9L335.0 2175.8L337.0 2175.7L339.0 2175.5L341.0 2175.4L343.0 2175.3L345.0 2175.1L347.0 2175.0L349.0 2174.8L351.0 2174.7L353.0 2174.5L355.0 2174.4L357.0 2174.2L359.0 2174.1L361.0 2173.9L363.0 2173.8L365.0 2173.6L367.0 2173.4L369.0 2173.3L371.0 2173.1L373.0 2173.0L375.0 2172.8L377.0 2172.6L379.0 2172.5L381.0 2172.3L383.0 2172.2L385.0 2172.0L387.0 2171.9L389.0 2171.7L391.0 2171.6L393.0 2171.5L395.0 2171.3L397.0 2171.2L399.0 2171.1L401.0 2170.9L403.0 2170.8L405.0 2170.7L407.0 2170.6L409.0 2170.5L411.0 2170.4L413.0 2170.3L415.0 2170.2L417.0 2170.1L419.0 2170.0L421.0 2169.9L423.0 2169.8L425.0 2169.7L427.0 2169.6L429.0 2169.5L431.0 2169.4L433.0 2169.3L435.0 2169.2L437.0 2169.1L439.0 2169.0L441.0 2168.9L443.0 2168.8L445.0 2168.7L447.0 2168.6L449.0 2168.5L451.0 2168.4L453.0 2168.2L455.0 2168.1L457.0 2168.0L459.0 2167.9L461.0 2167.7L463.0 2167.6L465.0 2167.4L467.0 2167.2L469.0 2167.1L471.0 2166.9L473.0 2166.7L475.0 2166.5L477.0 2166.3L479.0 2166.1L481.0 2165.8L483.0 2165.5L485.0 2165.1L487.0 2164.7L489.0 2164.2L491.0 2163.6L493.0 2163.0L495.0 2162.4L497.0 2161.7L499.0 2160.9L501.0 2160.2L503.0 2159.4L505.0 2158.6L507.0 2157.8L509.0 2157.0L511.0 2156.3L513.0 2155.5L515.0 2154.7L517.0 2154.0L519.0 2153.3L521.0 2152.6L523.0 2152.0L525.0 2151.4L527.0 2150.9L529.0 2150.4L531.0 2150.0L533.0 2149.6L535.0 2149.3L537.0 2148.9L539.0 2148.6L541.0 2148.2L543.0 2147.9L545.0 2147.5L547.0 2147.2L549.0 2147.0L551.0 2146.7L553.0 2146.5L555.0 2146.3L557.0 2146.2L559.0 2146.1L561.0 2146.0L563.0 2146.0L565.0 2146.1L567.0 2146.2L569.0 2146.3L571.0 2146.4L573.0 2146.6L575.0 2146.8L577.0 2147.0L579.0 2147.2L581.0 2147.4L583.0 2147.6L585.0 2147.8L587.0 2148.0L589.0 2148.2L591.0 2148.4L593.0 2148.6L595.0 2148.7L597.0 2148.8L599.0 2148.9L601.0 2149.0L603.0 2149.0L605.0 2149.0L607.0 2148.9L609.0 2148.8L611.0 2148.7L613.0 2148.6L615.0 2148.4L617.0 2148.3L619.0 2148.1L621.0 2147.9L623.0 2147.6L625.0 2147.4L627.0 2147.1L629.0 2146.9L631.0 2146.6L633.0 2146.3L635.0 2146.0L637.0 2145.7L639.0 2145.4L641.0 2145.0L643.0 2144.7L645.0 2144.4L647.0 2144.1L649.0 2143.7L651.0 2143.4L653.0 2143.0L655.0 2142.6L657.0 2142.2L659.0 2141.7L661.0 2141.2L663.0 2140.7L665.0 2140.4L667.0 2140.2L669.0 2140.2L671.0 2140.3L673.0 2140.6L675.0 2140.9L677.0 2141.4L679.0 2142.0L681.0 2142.6L683.0 2143.3L685.0 2144.0L687.0 2144.8L689.0 2145.6L691.0 2146.4L693.0 2147.2L695.0 2147.9L697.0 2148.7L699.0 2149.4L701.0 2150.0L703.0 2150.6L705.0 2151.1L707.0 2151.5L709.0 2151.9L711.0 2152.3L713.0 2152.7L715.0 2153.1L717.0 2153.4L719.0 2153.8L721.0 2154.1L723.0 2154.5L725.0 2154.8L727.0 2155.2L729.0 2155.6L731.0 2156.0L733.0 2156.5L735.0 2156.9L737.0 2157.4L739.0 2158.0L741.0 2158.5L743.0 2159.1L745.0 2159.6L747.0 2160.1L749.0 2160.7L751.0 2161.2L753.0 2161.6L755.0 2162.1L757.0 2162.5L759.0 2162.8L761.0 2163.1L763.0 2163.4L765.0 2163.7L767.0 2164.0L769.0 2164.2L771.0 2164.5L773.0 2164.7L775.0 2164.9L777.0 2165.1L779.0 2165.4L781.0 2165.6L783.0 2165.8L785.0 2165.9L787.0 2166.1L789.0 2166.3L791.0 2166.4L793.0 2166.6L795.0 2166.7L797.0 2166.8L799.0 2166.9L801.0 2167.0L803.0 2167.2L805.0 2167.3L807.0 2167.3L809.0 2167.4L811.0 2167.5L813.0 2167.6L815.0 2167.7L817.0 2167.8L819.0 2167.9L821.0 2168.0L823.0 2168.1L825.0 2168.2L827.0 2168.2L829.0 2168.3L831.0 2168.4L833.0 2168.5L835.0 2168.5L837.0 2168.6L839.0 2168.6L841.0 2168.7L843.0 2168.8L845.0 2168.8L847.0 2168.8L849.0 2168.9L851.0 2168.9L853.0 2168.9L855.0 2169.0L857.0 2169.0L859.0 2169.0L861.0 2169.0L863.0 2169.0L865.0 2168.9L867.0 2168.9L869.0 2168.7L871.0 2168.6L873.0 2168.4L875.0 2168.3L877.0 2168.0L879.0 2167.8L881.0 2167.6L883.0 2167.3L885.0 2167.1L887.0 2166.8L889.0 2166.6L891.0 2166.3L893.0 2166.0L895.0 2165.8L897.0 2165.6L899.0 2165.3L901.0 2165.1L903.0 2165.0L905.0 2164.8L907.0 2164.7L909.0 2164.6L911.0 2164.6L913.0 2164.5L915.0 2164.5L917.0 2164.6L919.0 2164.6L921.0 2164.7L923.0 2164.8L925.0 2164.9L927.0 2165.0L929.0 2165.1L931.0 2165.2L933.0 2165.4L935.0 2165.5L937.0 2165.6L939.0 2165.8L941.0 2165.9L943.0 2166.1L945.0 2166.2L947.0 2166.3L949.0 2166.5L951.0 2166.6L953.0 2166.7L955.0 2166.8L957.0 2166.9L959.0 2166.9L961.0 2167.0L963.0 2166.9L965.0 2166.9L967.0 2166.7L969.0 2166.4L971.0 2166.0L973.0 2165.5L975.0 2165.0L977.0 2164.4L979.0 2163.9L981.0 2163.4L983.0 2162.9L985.0 2162.5L987.0 2162.3L989.0 2162.1L991.0 2162.1L993.0 2162.1L995.0 2162.3L997.0 2162.4L999.0 2162.6L1001.0 2162.9L1003.0 2163.1L1005.0 2163.4L1007.0 2163.7L1009.0 2163.9L1011.0 2164.1L1013.0 2164.3L1015.0 2164.5L1017.0 2164.6L1019.0 2164.8L1021.0 2164.9L1023.0 2165.1L1025.0 2165.2L1027.0 2165.3L1029.0 2165.4L1031.0 2165.5L1033.0 2165.6L1035.0 2165.7L1037.0 2165.7L1039.0 2165.8L1041.0 2165.7L1043.0 2165.6L1045.0 2165.4L1047.0 2165.0L1049.0 2164.6L1051.0 2164.1L1053.0 2163.5L1055.0 2162.9L1057.0 2162.3L1059.0 2161.6L1061.0 2161.0L1063.0 2160.3L1065.0 2159.7L1067.0 2159.1L1069.0 2158.6L1071.0 2157.9L1073.0 2157.3L1075.0 2156.7L1077.0 2156.0L1079.0 2155.4L1081.0 2154.8L1083.0 2154.1L1085.0 2153.5L1087.0 2152.9L1089.0 2152.4L1091.0 2151.9L1093.0 2151.4L1095.0 2150.9L1097.0 2150.4L1099.0 2149.9L1101.0 2149.4L1103.0 2148.9L1105.0 2148.5L1107.0 2148.1L1109.0 2147.7L1111.0 2147.4L1113.0 2147.1L1115.0 2146.8L1117.0 2146.6L1119.0 2146.5L1121.0 2146.3L1123.0 2146.2L1125.0 2146.1L1127.0 2146.0L1129.0 2146.0L1131.0 2145.9L1133.0 2145.8L1135.0 2145.7L1137.0 2145.6L1139.0 2145.6L1141.0 2145.5L1143.0 2145.4L1145.0 2145.3L1147.0 2145.2L1149.0 2145.1L1151.0 2145.0L1153.0 2144.9L1155.0 2144.8L1157.0 2144.6L1159.0 2144.4L1161.0 2144.0L1163.0 2143.3L1165.0 2142.5L1167.0 2141.5L1169.0 2140.3L1171.0 2139.1L1173.0 2137.7L1175.0 2136.3L1177.0 2134.9L1179.0 2133.4L1181.0 2131.9L1183.0 2130.3L1185.0 2128.6L1187.0 2126.7L1189.0 2124.9L1191.0 2122.9L1193.0 2121.0L1195.0 2119.0L1197.0 2117.1L1199.0 2115.1L1201.0 2113.1L1203.0 2111.0L1205.0 2108.9L1207.0 2106.8L1209.0 2104.7L1211.0 2102.7L1213.0 2100.8L1215.0 2099.0L1217.0 2097.2L1219.0 2095.5L1221.0 2093.8L1223.0 2092.2L1225.0 2090.6L1227.0 2089.1L1229.0 2087.7L1231.0 2086.5L1233.0 2085.4L1235.0 2084.6L1237.0 2083.9L1239.0 2083.3L1241.0 2082.8L1243.0 2082.3L1245.0 2081.9L1247.0 2081.7L1249.0 2081.5L1251.0 2081.5L1253.0 2081.7L1255.0 2082.1L1257.0 2082.7L1259.0 2083.4L1261.0 2084.3L1263.0 2085.4L1265.0 2086.6L1267.0 2088.1L1269.0 2089.8L1271.0 2091.9L1273.0 2094.1L1275.0 2096.3L1277.0 2098.6L1279.0 2100.9L1281.0 2103.1L1283.0 2105.5L1285.0 2107.8L1287.0 2110.2L1289.0 2112.4L1291.0 2114.6L1293.0 2116.6L1295.0 2118.5L1297.0 2120.3L1299.0 2122.1L1301.0 2123.8L1303.0 2125.4L1305.0 2127.0L1307.0 2128.4L1309.0 2129.8L1311.0 2131.2L1313.0 2132.4L1315.0 2133.6L1317.0 2134.7L1319.0 2135.7L1321.0 2136.7L1323.0 2137.7L1325.0 2138.7L1327.0 2139.6L1329.0 2140.5L1331.0 2141.5L1333.0 2142.4L1335.0 2143.3L1337.0 2144.3L1339.0 2145.2L1341.0 2146.1L1343.0 2147.0L1345.0 2147.9L1347.0 2148.8L1349.0 2149.6L1351.0 2150.4L1353.0 2151.2L1355.0 2152.0L1357.0 2152.7L1359.0 2153.5L1361.0 2154.2L1363.0 2154.9L1365.0 2155.5L1367.0 2156.1L1369.0 2156.7L1371.0 2157.2L1373.0 2157.7L1375.0 2158.2L1377.0 2158.7L1379.0 2159.1L1381.0 2159.5L1383.0 2159.9L1385.0 2160.2L1387.0 2160.5L1389.0 2160.7L1391.0 2160.9L1393.0 2161.1L1395.0 2161.3L1397.0 2161.5L1399.0 2161.7L1401.0 2161.9L1403.0 2162.0L1405.0 2162.1L1407.0 2162.3L1409.0 2162.4L1411.0 2162.5L1413.0 2162.5L1415.0 2162.6L1417.0 2162.6L1419.0 2162.6L1421.0 2162.5L1423.0 2162.5L1425.0 2162.4L1427.0 2162.3L1429.0 2162.2L1431.0 2162.0L1433.0 2161.8L1435.0 2161.7L1437.0 2161.5L1439.0 2161.3L1441.0 2161.0L1443.0 2160.8L1445.0 2160.6L1447.0 2160.3L1449.0 2160.1L1451.0 2159.8L1453.0 2159.6L1455.0 2159.3L1457.0 2159.1L1459.0 2158.9L1461.0 2158.6L1463.0 2158.4L1465.0 2158.2L1467.0 2158.0L1469.0 2157.8L1471.0 2157.6L1473.0 2157.4L1475.0 2157.3L1477.0 2157.2L1479.0 2157.1L1481.0 2157.0L1483.0 2156.9L1485.0 2156.8L1487.0 2156.7L1489.0 2156.6L1491.0 2156.6L1493.0 2156.5L1495.0 2156.4L1497.0 2156.3L1499.0 2156.2L1501.0 2156.2L1503.0 2156.1L1505.0 2156.0L1507.0 2156.0L1509.0 2155.9L1511.0 2155.8L1513.0 2155.8L1515.0 2155.7L1517.0 2155.6L1519.0 2155.6L1521.0 2155.5L1523.0 2155.5L1525.0 2155.4L1527.0 2155.4L1529.0 2155.3L1531.0 2155.3L1533.0 2155.2L1535.0 2155.2L1537.0 2155.2L1539.0 2155.1L1541.0 2155.1L1543.0 2155.1L1545.0 2155.1L1547.0 2155.0L1549.0 2155.0L1551.0 2155.0L1553.0 2155.0L1555.0 2155.0L1557.0 2155.0" stroke="#404040" stroke-width="7.4"/>
<path d="M191.0 2177.0L193.0 2177.0L195.0 2177.0L197.0 2177.0L199.0 2177.0L201.0 2177.0L203.0 2177.0L205.0 2177.0L207.0 2177.0L209.0 2177.0L211.0 2176.9L213.0 2176.9L215.0 2176.9L217.0 2176.9L219.0 2176.9L221.0 2176.9L223.0 2176.9L225.0 2176.9L227.0 2176.9L229.0 2176.8L231.0 2176.8L233.0 2176.8L235.0 2176.8L237.0 2176.8L239.0 2176.8L241.0 2176.7L243.0 2176.7L245.0 2176.7L247.0 2176.7L249.0 2176.7L251.0 2176.7L253.0 2176.6L255.0 2176.6L257.0 2176.6L259.0 2176.6L261.0 2176.5L263.0 2176.5L265.0 2176.5L267.0 2176.5L269.0 2176.4L271.0 2176.4L273.0 2176.4L275.0 2176.4L277.0 2176.3L279.0 2176.3L281.0 2176.3L283.0 2176.3L285.0 2176.2L287.0 2176.2L289.0 2176.2L291.0 2176.1L293.0 2176.1L295.0 2176.1L297.0 2176.0L299.0 2176.0L301.0 2176.0L303.0 2175.9L305.0 2175.9L307.0 2175.8L309.0 2175.8L311.0 2175.7L313.0 2175.7L315.0 2175.6L317.0 2175.5L319.0 2175.4L321.0 2175.3L323.0 2175.2L325.0 2175.2L327.0 2175.0L329.0 2174.9L331.0 2174.8L333.0 2174.7L335.0 2174.6L337.0 2174.5L339.0 2174.4L341.0 2174.2L343.0 2174.1L345.0 2174.0L347.0 2173.8L349.0 2173.7L351.0 2173.6L353.0 2173.4L355.0 2173.3L357.0 2173.1L359.0 2173.0L361.0 2172.9L363.0 2172.7L365.0 2172.6L367.0 2172.4L369.0 2172.3L371.0 2172.1L373.0 2172.0L375.0 2171.8L377.0 2171.7L379.0 2171.5L381.0 2171.4L383.0 2171.2L385.0 2171.1L387.0 2170.9L389.0 2170.8L391.0 2170.6L393.0 2170.5L395.0 2170.3L397.0 2170.2L399.0 2170.1L401.0 2169.9L403.0 2169.8L405.0 2169.7L407.0 2169.6L409.0 2169.4L411.0 2169.3L413.0 2169.2L415.0 2169.1L417.0 2169.0L419.0 2168.8L421.0 2168.7L423.0 2168.6L425.0 2168.5L427.0 2168.4L429.0 2168.3L431.0 2168.1L433.0 2168.0L435.0 2167.9L437.0 2167.8L439.0 2167.7L441.0 2167.5L443.0 2167.4L445.0 2167.3L447.0 2167.1L449.0 2167.0L451.0 2166.8L453.0 2166.7L455.0 2166.5L457.0 2166.4L459.0 2166.2L461.0 2166.0L463.0 2165.8L465.0 2165.7L467.0 2165.5L469.0 2165.3L471.0 2165.0L473.0 2164.8L475.0 2164.6L477.0 2164.4L479.0 2164.1L481.0 2163.8L483.0 2163.5L485.0 2163.1L487.0 2162.6L489.0 2162.1L491.0 2161.5L493.0 2160.9L495.0 2160.2L497.0 2159.5L499.0 2158.7L501.0 2158.0L503.0 2157.2L505.0 2156.4L507.0 2155.6L509.0 2154.8L511.0 2154.1L513.0 2153.3L515.0 2152.5L517.0 2151.8L519.0 2151.1L521.0 2150.5L523.0 2149.9L525.0 2149.3L527.0 2148.8L529.0 2148.4L531.0 2148.0L533.0 2147.7L535.0 2147.4L537.0 2147.0L539.0 2146.7L541.0 2146.4L543.0 2146.1L545.0 2145.8L547.0 2145.6L549.0 2145.3L551.0 2145.1L553.0 2144.9L555.0 2144.8L557.0 2144.7L559.0 2144.6L561.0 2144.5L563.0 2144.6L565.0 2144.6L567.0 2144.7L569.0 2144.9L571.0 2145.1L573.0 2145.3L575.0 2145.5L577.0 2145.8L579.0 2146.1L581.0 2146.4L583.0 2146.6L585.0 2146.9L587.0 2147.2L589.0 2147.5L591.0 2147.7L593.0 2147.9L595.0 2148.1L597.0 2148.3L599.0 2148.4L601.0 2148.4L603.0 2148.5L605.0 2148.4L607.0 2148.4L609.0 2148.3L611.0 2148.2L613.0 2148.0L615.0 2147.9L617.0 2147.7L619.0 2147.5L621.0 2147.2L623.0 2147.0L625.0 2146.7L627.0 2146.4L629.0 2146.1L631.0 2145.8L633.0 2145.5L635.0 2145.2L637.0 2144.8L639.0 2144.5L641.0 2144.2L643.0 2143.8L645.0 2143.5L647.0 2143.1L649.0 2142.8L651.0 2142.4L653.0 2142.0L655.0 2141.6L657.0 2141.2L659.0 2140.7L661.0 2140.2L663.0 2139.7L665.0 2139.4L667.0 2139.2L669.0 2139.2L671.0 2139.3L673.0 2139.6L675.0 2139.9L677.0 2140.4L679.0 2141.0L681.0 2141.6L683.0 2142.3L685.0 2143.0L687.0 2143.8L689.0 2144.6L691.0 2145.4L693.0 2146.2L695.0 2146.9L697.0 2147.7L699.0 2148.4L701.0 2149.0L703.0 2149.6L705.0 2150.1L707.0 2150.5L709.0 2150.9L711.0 2151.3L713.0 2151.7L715.0 2152.1L717.0 2152.4L719.0 2152.8L721.0 2153.1L723.0 2153.5L725.0 2153.8L727.0 2154.2L729.0 2154.6L731.0 2155.0L733.0 2155.5L735.0 2155.9L737.0 2156.4L739.0 2157.0L741.0 2157.5L743.0 2158.1L745.0 2158.6L747.0 2159.1L749.0 2159.7L751.0 2160.2L753.0 2160.6L755.0 2161.1L757.0 2161.5L759.0 2161.8L761.0 2162.1L763.0 2162.4L765.0 2162.7L767.0 2163.0L769.0 2163.2L771.0 2163.5L773.0 2163.7L775.0 2163.9L777.0 2164.1L779.0 2164.4L781.0 2164.6L783.0 2164.8L785.0 2164.9L787.0 2165.1L789.0 2165.3L791.0 2165.4L793.0 2165.6L795.0 2165.7L797.0 2165.8L799.0 2165.9L801.0 2166.0L803.0 2166.2L805.0 2166.3L807.0 2166.3L809.0 2166.4L811.0 2166.5L813.0 2166.6L815.0 2166.7L817.0 2166.8L819.0 2166.9L821.0 2167.0L823.0 2167.1L825.0 2167.2L827.0 2167.2L829.0 2167.3L831.0 2167.4L833.0 2167.5L835.0 2167.5L837.0 2167.6L839.0 2167.6L841.0 2167.7L843.0 2167.8L845.0 2167.8L847.0 2167.8L849.0 2167.9L851.0 2167.9L853.0 2167.9L855.0 2168.0L857.0 2168.0L859.0 2168.0L861.0 2168.0L863.0 2167.9L865.0 2167.9L867.0 2167.7L869.0 2167.5L871.0 2167.3L873.0 2167.0L875.0 2166.7L877.0 2166.4L879.0 2166.0L881.0 2165.7L883.0 2165.3L885.0 2165.0L887.0 2164.6L889.0 2164.2L891.0 2163.9L893.0 2163.5L895.0 2163.0L897.0 2162.6L899.0 2162.2L901.0 2161.7L903.0 2161.3L905.0 2160.8L907.0 2160.4L909.0 2160.1L911.0 2159.7L913.0 2159.4L915.0 2159.1L917.0 2158.8L919.0 2158.6L921.0 2158.3L923.0 2158.0L925.0 2157.8L927.0 2157.6L929.0 2157.3L931.0 2157.2L933.0 2157.0L935.0 2156.9L937.0 2156.9L939.0 2156.9L941.0 2156.9L943.0 2157.1L945.0 2157.3L947.0 2157.5L949.0 2157.8L951.0 2158.1L953.0 2158.3L955.0 2158.6L957.0 2158.9L959.0 2159.1L961.0 2159.2L963.0 2159.3L965.0 2159.2L967.0 2159.0L969.0 2158.6L971.0 2158.1L973.0 2157.5L975.0 2156.8L977.0 2156.1L979.0 2155.4L981.0 2154.7L983.0 2154.2L985.0 2153.7L987.0 2153.3L989.0 2153.1L991.0 2153.0L993.0 2153.0L995.0 2153.0L997.0 2153.0L999.0 2153.0L1001.0 2153.0L1003.0 2153.0L1005.0 2153.0L1007.0 2153.0L1009.0 2153.0L1011.0 2153.0L1013.0 2153.0L1015.0 2153.0L1017.0 2153.1L1019.0 2153.1L1021.0 2153.2L1023.0 2153.3L1025.0 2153.4L1027.0 2153.6L1029.0 2153.7L1031.0 2153.9L1033.0 2154.0L1035.0 2154.1L1037.0 2154.2L1039.0 2154.2L1041.0 2154.2L1043.0 2154.1L1045.0 2153.8L1047.0 2153.4L1049.0 2152.9L1051.0 2152.3L1053.0 2151.6L1055.0 2150.8L1057.0 2150.0L1059.0 2149.3L1061.0 2148.5L1063.0 2147.7L1065.0 2147.0L1067.0 2146.3L1069.0 2145.6L1071.0 2144.8L1073.0 2144.1L1075.0 2143.3L1077.0 2142.5L1079.0 2141.7L1081.0 2141.0L1083.0 2140.3L1085.0 2139.6L1087.0 2138.9L1089.0 2138.4L1091.0 2137.9L1093.0 2137.4L1095.0 2137.0L1097.0 2136.6L1099.0 2136.3L1101.0 2135.9L1103.0 2135.6L1105.0 2135.3L1107.0 2135.0L1109.0 2134.7L1111.0 2134.5L1113.0 2134.3L1115.0 2134.1L1117.0 2133.9L1119.0 2133.8L1121.0 2133.7L1123.0 2133.6L1125.0 2133.5L1127.0 2133.4L1129.0 2133.3L1131.0 2133.3L1133.0 2133.2L1135.0 2133.1L1137.0 2133.0L1139.0 2132.9L1141.0 2132.7L1143.0 2132.5L1145.0 2132.1L1147.0 2131.6L1149.0 2130.9L1151.0 2130.1L1153.0 2129.3L1155.0 2128.3L1157.0 2127.3L1159.0 2126.3L1161.0 2125.1L1163.0 2123.9L1165.0 2122.6L1167.0 2121.2L1169.0 2119.6L1171.0 2117.9L1173.0 2116.0L1175.0 2113.9L1177.0 2111.6L1179.0 2109.0L1181.0 2106.1L1183.0 2103.0L1185.0 2099.8L1187.0 2096.4L1189.0 2092.9L1191.0 2089.3L1193.0 2085.5L1195.0 2081.5L1197.0 2077.3L1199.0 2073.2L1201.0 2069.1L1203.0 2065.1L1205.0 2061.3L1207.0 2057.7L1209.0 2054.2L1211.0 2050.8L1213.0 2047.5L1215.0 2044.4L1217.0 2041.3L1219.0 2038.4L1221.0 2035.6L1223.0 2032.9L1225.0 2030.3L1227.0 2027.7L1229.0 2025.3L1231.0 2023.2L1233.0 2021.3L1235.0 2019.7L1237.0 2018.3L1239.0 2017.2L1241.0 2016.1L1243.0 2015.3L1245.0 2014.8L1247.0 2014.5L1249.0 2014.4L1251.0 2014.5L1253.0 2014.6L1255.0 2014.9L1257.0 2015.2L1259.0 2015.7L1261.0 2016.6L1263.0 2017.9L1265.0 2019.6L1267.0 2021.6L1269.0 2024.0L1271.0 2026.6L1273.0 2029.6L1275.0 2033.1L1277.0 2036.9L1279.0 2040.8L1281.0 2044.8L1283.0 2048.8L1285.0 2052.9L1287.0 2057.0L1289.0 2061.1L1291.0 2065.0L1293.0 2068.7L1295.0 2072.2L1297.0 2075.5L1299.0 2078.7L1301.0 2081.7L1303.0 2084.6L1305.0 2087.4L1307.0 2089.9L1309.0 2092.4L1311.0 2094.6L1313.0 2096.8L1315.0 2098.8L1317.0 2100.7L1319.0 2102.6L1321.0 2104.5L1323.0 2106.3L1325.0 2108.2L1327.0 2110.0L1329.0 2111.8L1331.0 2113.6L1333.0 2115.4L1335.0 2117.2L1337.0 2118.9L1339.0 2120.7L1341.0 2122.5L1343.0 2124.3L1345.0 2126.2L1347.0 2128.0L1349.0 2129.9L1351.0 2131.7L1353.0 2133.5L1355.0 2135.2L1357.0 2137.0L1359.0 2138.6L1361.0 2140.3L1363.0 2142.0L1365.0 2143.7L1367.0 2145.2L1369.0 2146.6L1371.0 2147.9L1373.0 2148.9L1375.0 2149.7L1377.0 2150.5L1379.0 2151.1L1381.0 2151.7L1383.0 2152.3L1385.0 2152.8L1387.0 2153.2L1389.0 2153.5L1391.0 2153.8L1393.0 2154.0L1395.0 2154.1L1397.0 2154.3L1399.0 2154.3L1401.0 2154.4L1403.0 2154.5L1405.0 2154.6L1407.0 2154.6L1409.0 2154.7L1411.0 2154.8L1413.0 2154.8L1415.0 2154.9L1417.0 2155.0L1419.0 2155.1L1421.0 2155.2L1423.0 2155.4L1425.0 2155.5L1427.0 2155.7L1429.0 2155.8L1431.0 2156.0L1433.0 2156.1L1435.0 2156.3L1437.0 2156.4L1439.0 2156.6L1441.0 2156.7L1443.0 2156.8L1445.0 2156.9L1447.0 2156.9L1449.0 2157.0L1451.0 2157.0L1453.0 2156.9L1455.0 2156.9L1457.0 2156.8L1459.0 2156.6L1461.0 2156.5L1463.0 2156.3L1465.0 2156.1L1467.0 2155.8L1469.0 2155.6L1471.0 2155.4L1473.0 2155.1L1475.0 2154.8L1477.0 2154.6L1479.0 2154.3L1481.0 2154.0L1483.0 2153.7L1485.0 2153.5L1487.0 2153.2L1489.0 2153.0L1491.0 2152.8L1493.0 2152.6L1495.0 2152.4L1497.0 2152.2L1499.0 2152.1L1501.0 2152.0L1503.0 2151.8L1505.0 2151.7L1507.0 2151.6L1509.0 2151.5L1511.0 2151.4L1513.0 2151.3L1515.0 2151.2L1517.0 2151.1L1519.0 2151.0L1521.0 2150.9L1523.0 2150.9L1525.0 2150.8L1527.0 2150.7L1529.0 2150.6L1531.0 2150.5L1533.0 2150.5L1535.0 2150.4L1537.0 2150.3L1539.0 2150.3L1541.0 2150.2L1543.0 2150.2L1545.0 2150.1L1547.0 2150.1L1549.0 2150.1L1551.0 2150.0L1553.0 2150.0L1555.0 2150.0L1557.0 2150.0" stroke="#000000" stroke-width="8.2"/>
<path d="M191.0 2176.0L193.0 2176.0L195.0 2176.0L197.0 2176.0L199.0 2176.0L201.0 2176.0L203.0 2176.0L205.0 2176.0L207.0 2176.0L209.0 2176.0L211.0 2176.0L213.0 2176.0L215.0 2175.9L217.0 2175.9L219.0 2175.9L221.0 2175.9L223.0 2175.9L225.0 2175.9L227.0 2175.9L229.0 2175.9L231.0 2175.9L233.0 2175.8L235.0 2175.8L237.0 2175.8L239.0 2175.8L241.0 2175.8L243.0 2175.8L245.0 2175.7L247.0 2175.7L249.0 2175.7L251.0 2175.7L253.0 2175.7L255.0 2175.6L257.0 2175.6L259.0 2175.6L261.0 2175.6L263.0 2175.6L265.0 2175.5L267.0 2175.5L269.0 2175.5L271.0 2175.5L273.0 2175.4L275.0 2175.4L277.0 2175.4L279.0 2175.3L281.0 2175.3L283.0 2175.3L285.0 2175.3L287.0 2175.2L289.0 2175.2L291.0 2175.2L293.0 2175.1L295.0 2175.1L297.0 2175.1L299.0 2175.0L301.0 2175.0L303.0 2174.9L305.0 2174.9L307.0 2174.8L309.0 2174.7L311.0 2174.6L313.0 2174.5L315.0 2174.4L317.0 2174.3L319.0 2174.1L321.0 2174.0L323.0 2173.8L325.0 2173.7L327.0 2173.5L329.0 2173.3L331.0 2173.1L333.0 2172.9L335.0 2172.6L337.0 2172.4L339.0 2172.1L341.0 2171.6L342.0 2171.7L343.0 2171.1L344.0 2170.7L345.0 2170.8L346.0 2171.1L347.0 2169.9L348.0 2170.0L349.0 2168.8L350.0 2168.2L351.0 2168.4L352.0 2168.0L353.0 2168.2L354.0 2167.0L355.0 2167.4L356.0 2165.4L357.0 2165.2L358.0 2166.1L359.0 2165.4L360.0 2165.1L361.0 2164.3L362.0 2163.7L363.0 2163.8L364.0 2162.2L365.0 2161.9L366.0 2162.1L367.0 2161.5L368.0 2161.2L369.0 2160.4L370.0 2159.9L371.0 2159.3L372.0 2158.6L373.0 2158.7L374.0 2157.7L375.0 2158.9L376.0 2158.7L377.0 2158.0L378.0 2158.4L379.0 2157.0L380.0 2157.0L381.0 2157.8L382.0 2157.2L383.0 2157.3L384.0 2158.0L385.0 2157.5L386.0 2158.3L387.0 2157.5L388.0 2157.2L389.0 2158.1L390.0 2158.1L391.0 2158.4L392.0 2158.2L393.0 2157.5L394.0 2157.8L395.0 2157.4L396.0 2157.6L397.0 2157.9L398.0 2157.6L399.0 2158.2L400.0 2157.5L401.0 2158.4L402.0 2157.1L403.0 2157.1L404.0 2156.9L405.0 2158.4L406.0 2156.9L407.0 2158.1L408.0 2158.0L409.0 2158.3L410.0 2158.3L411.0 2157.9L412.0 2157.5L413.0 2158.2L414.0 2157.7L415.0 2157.3L416.0 2158.1L417.0 2158.3L418.0 2158.2L419.0 2158.6L420.0 2158.0L421.0 2157.6L422.0 2157.5L423.0 2157.7L424.0 2157.6L425.0 2158.5L426.0 2158.5L427.0 2158.9L428.0 2158.2L429.0 2158.1L430.0 2157.9L431.0 2158.2L432.0 2158.6L433.0 2158.1L434.0 2158.6L435.0 2159.1L436.0 2159.3L437.0 2158.3L438.0 2158.9L439.0 2158.8L440.0 2157.5L441.0 2158.5L442.0 2157.9L443.0 2157.5L444.0 2157.9L445.0 2157.2L446.0 2157.2L447.0 2157.0L448.0 2156.3L449.0 2155.8L450.0 2155.6L451.0 2155.5L452.0 2154.3L453.0 2154.2L454.0 2153.2L455.0 2153.4L456.0 2152.5L457.0 2152.6L458.0 2151.9L459.0 2151.7L460.0 2152.5L461.0 2152.4L462.0 2150.9L463.0 2151.0L464.0 2150.2L465.0 2150.9L466.0 2149.9L467.0 2150.4L468.0 2149.7L469.0 2150.0L470.0 2148.8L471.0 2149.4L472.0 2148.5L473.0 2147.4L474.0 2148.0L475.0 2147.8L476.0 2147.2L477.0 2146.8L478.0 2146.3L479.0 2146.3L480.0 2145.5L481.0 2145.6L482.0 2144.7L483.0 2144.3L484.0 2144.3L485.0 2143.6L486.0 2144.1L487.0 2144.1L488.0 2144.0L489.0 2142.9L490.0 2142.2L491.0 2142.0L492.0 2141.7L493.0 2141.7L494.0 2141.9L495.0 2141.4L496.0 2141.3L497.0 2140.5L498.0 2140.7L499.0 2139.6L500.0 2140.8L501.0 2139.9L502.0 2139.4L503.0 2139.5L504.0 2139.6L505.0 2139.3L506.0 2138.4L507.0 2137.6L508.0 2137.2L509.0 2138.3L510.0 2137.2L511.0 2137.6L512.0 2136.4L513.0 2136.9L514.0 2136.3L515.0 2135.8L516.0 2136.6L517.0 2135.7L518.0 2136.0L519.0 2135.7L520.0 2135.4L521.0 2135.6L522.0 2134.4L523.0 2134.9L524.0 2134.9L525.0 2133.8L526.0 2134.9L527.0 2134.7L528.0 2134.3L529.0 2134.1L530.0 2133.5L531.0 2133.6L532.0 2134.4L533.0 2133.7L534.0 2133.5L535.0 2134.8L536.0 2135.1L537.0 2134.7L538.0 2135.0L539.0 2134.7L540.0 2134.6L541.0 2135.6L542.0 2136.4L543.0 2136.5L544.0 2135.8L545.0 2136.0L546.0 2136.2L547.0 2137.6L548.0 2136.9L549.0 2137.3L550.0 2137.3L551.0 2137.6L552.0 2139.1L553.0 2138.2L554.0 2138.7L555.0 2139.5L556.0 2139.2L557.0 2139.5L558.0 2140.9L559.0 2141.1L560.0 2139.9L561.0 2140.3L562.0 2140.9L563.0 2140.5L564.0 2142.2L565.0 2142.2L566.0 2142.1L567.0 2141.7L568.0 2142.3L569.0 2143.3L570.0 2143.1L571.0 2143.5L572.0 2143.0L573.0 2142.8L574.0 2144.2L575.0 2143.6L576.0 2144.2L577.0 2144.4L578.0 2143.9L579.0 2145.1L580.0 2145.1L581.0 2144.8L582.0 2145.7L583.0 2144.5L584.0 2144.5L585.0 2144.8L586.0 2145.0L587.0 2145.1L588.0 2145.6L589.0 2145.3L590.0 2146.2L591.0 2145.4L592.0 2146.6L593.0 2145.3L594.0 2146.3L595.0 2146.3L596.0 2146.3L597.0 2146.3L598.0 2145.4L599.0 2146.6L600.0 2146.2L601.0 2146.1L602.0 2146.0L603.0 2146.7L604.0 2145.7L605.0 2146.2L606.0 2146.7L607.0 2145.3L608.0 2145.8L609.0 2144.9L610.0 2145.9L611.0 2145.9L612.0 2145.7L613.0 2144.8L614.0 2144.9L615.0 2144.5L616.0 2145.0L617.0 2144.8L618.0 2143.3L619.0 2143.3L620.0 2143.8L621.0 2142.7L622.0 2143.0L623.0 2142.6L624.0 2143.0L625.0 2142.7L626.0 2143.2L627.0 2143.1L628.0 2142.6L629.0 2142.0L630.0 2142.9L631.0 2142.1L632.0 2142.5L633.0 2141.6L634.0 2141.6L635.0 2142.4L636.0 2141.2L637.0 2141.5L638.0 2142.3L639.0 2141.7L640.0 2140.7L641.0 2142.0L642.0 2140.9L643.0 2140.7L644.0 2141.2L645.0 2140.3L646.0 2141.0L647.0 2141.5L648.0 2140.9L649.0 2139.8L650.0 2140.4L651.0 2139.8L652.0 2140.6L653.0 2140.3L654.0 2139.2L655.0 2140.3L656.0 2139.0L657.0 2138.5L658.0 2138.8L659.0 2139.1L660.0 2137.8L661.0 2138.3L662.0 2138.0L663.0 2138.2L664.0 2137.6L665.0 2137.5L666.0 2137.2L667.0 2138.0L668.0 2137.6L669.0 2137.5L670.0 2137.8L671.0 2137.6L672.0 2138.1L673.0 2137.6L674.0 2139.2L675.0 2139.7L676.0 2139.0L677.0 2139.5L678.0 2140.2L679.0 2140.6L680.0 2140.7L681.0 2142.0L682.0 2142.7L683.0 2142.7L684.0 2143.5L685.0 2143.4L686.0 2143.5L687.0 2144.0L688.0 2144.2L689.0 2143.7L690.0 2144.6L691.0 2144.4L692.0 2145.0L693.0 2145.2L694.0 2145.5L695.0 2146.4L696.0 2145.7L697.0 2147.0L698.0 2147.1L699.0 2146.8L700.0 2147.7L701.0 2147.8L702.0 2147.1L703.0 2147.6L704.0 2148.8L705.0 2148.3L706.0 2149.3L707.0 2149.5L708.0 2149.0L709.0 2149.1L710.0 2149.4L711.0 2149.5L712.0 2149.7L713.0 2150.0L714.0 2149.9L715.0 2151.2L716.0 2151.1L717.0 2151.3L718.0 2150.7L719.0 2151.8L720.0 2150.6L721.0 2150.9L722.0 2151.6L723.0 2152.4L724.0 2152.5L725.0 2152.9L726.0 2153.0L727.0 2152.6L728.0 2152.6L729.0 2153.7L730.0 2152.8L731.0 2153.9L732.0 2153.9L733.0 2153.7L734.0 2154.9L735.0 2153.7L736.0 2154.8L737.0 2155.0L738.0 2154.6L739.0 2154.7L740.0 2155.7L741.0 2156.3L742.0 2156.7L743.0 2156.4L744.0 2156.0L745.0 2157.3L746.0 2157.7L747.0 2157.2L748.0 2156.9L749.0 2157.3L750.0 2158.4L751.0 2158.9L752.0 2159.0L753.0 2158.7L754.0 2158.4L755.0 2159.5L756.0 2159.7L757.0 2159.1L758.0 2159.8L759.0 2159.9L761.0 2160.1L763.0 2160.4L765.0 2160.7L767.0 2161.0L769.0 2161.3L771.0 2161.5L773.0 2161.8L775.0 2162.0L777.0 2162.2L779.0 2162.5L781.0 2162.7L783.0 2162.9L785.0 2163.1L787.0 2163.3L789.0 2163.5L791.0 2163.7L793.0 2163.9L795.0 2164.2L797.0 2164.4L799.0 2164.6L801.0 2164.8L803.0 2165.1L805.0 2165.3L807.0 2165.6L809.0 2165.8L811.0 2166.1L813.0 2166.4L815.0 2166.6L817.0 2166.9L819.0 2167.1L821.0 2167.3L823.0 2167.5L825.0 2167.7L827.0 2167.9L829.0 2168.0L831.0 2168.1L833.0 2168.2L835.0 2168.3L837.0 2168.3L839.0 2168.3L841.0 2168.2L843.0 2168.2L845.0 2168.1L847.0 2168.0L849.0 2167.9L851.0 2167.8L853.0 2167.7L855.0 2167.6L857.0 2167.4L859.0 2167.2L861.0 2167.0L863.0 2166.8L865.0 2166.4L867.0 2165.9L869.0 2165.2L871.0 2164.5L873.0 2163.6L875.0 2162.7L877.0 2161.7L879.0 2160.7L881.0 2159.8L883.0 2158.8L885.0 2157.9L887.0 2157.1L889.0 2156.3L891.0 2155.5L893.0 2154.8L895.0 2154.0L897.0 2153.3L899.0 2152.6L901.0 2151.8L903.0 2151.1L905.0 2150.5L907.0 2149.8L909.0 2149.1L911.0 2148.5L913.0 2147.9L915.0 2147.3L917.0 2146.6L919.0 2146.0L921.0 2145.3L923.0 2144.7L925.0 2144.2L927.0 2143.7L929.0 2143.3L931.0 2143.0L933.0 2142.9L935.0 2142.9L937.0 2142.9L939.0 2143.1L941.0 2143.2L943.0 2143.4L945.0 2143.6L947.0 2143.9L949.0 2144.1L951.0 2144.4L953.0 2144.6L955.0 2144.8L957.0 2145.0L959.0 2145.2L961.0 2145.3L963.0 2145.3L965.0 2145.1L967.0 2144.6L969.0 2143.9L971.0 2142.9L973.0 2141.7L975.0 2140.4L977.0 2139.2L979.0 2137.9L981.0 2136.7L983.0 2135.4L985.0 2134.1L987.0 2132.7L989.0 2131.5L991.0 2130.4L993.0 2129.5L995.0 2128.9L997.0 2128.4L999.0 2128.0L1001.0 2127.7L1003.0 2127.5L1005.0 2127.3L1007.0 2127.1L1009.0 2126.9L1011.0 2126.7L1013.0 2126.5L1015.0 2126.4L1017.0 2126.2L1019.0 2125.9L1021.0 2125.7L1023.0 2125.4L1025.0 2125.0L1027.0 2124.6L1029.0 2124.0L1031.0 2123.4L1033.0 2122.7L1035.0 2122.0L1037.0 2121.2L1039.0 2120.3L1041.0 2119.4L1043.0 2118.5L1045.0 2117.6L1047.0 2116.6L1049.0 2115.6L1051.0 2114.5L1053.0 2113.4L1055.0 2112.2L1057.0 2111.0L1059.0 2109.8L1061.0 2108.6L1063.0 2107.5L1065.0 2106.4L1067.0 2105.4L1069.0 2104.4L1071.0 2103.4L1073.0 2102.5L1075.0 2101.5L1077.0 2100.6L1079.0 2099.8L1081.0 2098.9L1083.0 2098.2L1085.0 2097.4L1087.0 2096.7L1089.0 2096.1L1091.0 2095.4L1093.0 2094.8L1095.0 2094.2L1097.0 2093.7L1099.0 2093.4L1101.0 2093.2L1103.0 2093.1L1105.0 2093.2L1107.0 2093.3L1109.0 2093.5L1111.0 2093.8L1113.0 2094.1L1115.0 2094.4L1117.0 2094.7L1119.0 2094.9L1121.0 2095.2L1123.0 2095.4L1125.0 2095.5L1127.0 2095.5L1129.0 2095.5L1131.0 2095.5L1133.0 2095.4L1135.0 2095.2L1137.0 2095.0L1139.0 2094.8L1141.0 2094.5L1143.0 2094.0L1145.0 2093.4L1147.0 2092.4L1149.0 2091.2L1151.0 2089.8L1153.0 2088.2L1155.0 2086.3L1157.0 2084.2L1159.0 2081.9L1161.0 2079.3L1163.0 2076.4L1165.0 2073.4L1167.0 2070.2L1169.0 2066.7L1171.0 2062.9L1173.0 2058.8L1175.0 2054.6L1177.0 2050.0L1179.0 2045.3L1181.0 2040.2L1183.0 2034.9L1185.0 2029.0L1187.0 2022.6L1189.0 2015.6L1191.0 2008.2L1193.0 2000.6L1195.0 1993.1L1197.0 1985.8L1199.0 1978.7L1201.0 1971.6L1203.0 1964.6L1205.0 1957.6L1207.0 1950.6L1209.0 1943.7L1211.0 1936.8L1213.0 1930.1L1215.0 1923.4L1217.0 1917.0L1219.0 1910.9L1221.0 1904.9L1223.0 1899.1L1225.0 1893.5L1227.0 1888.2L1229.0 1883.2L1231.0 1878.5L1233.0 1874.3L1235.0 1870.3L1237.0 1866.6L1239.0 1863.2L1241.0 1860.2L1243.0 1857.4L1245.0 1855.0L1247.0 1853.0L1249.0 1851.2L1251.0 1849.7L1253.0 1848.9L1255.0 1848.6L1257.0 1849.1L1259.0 1850.0L1261.0 1851.5L1263.0 1853.4L1265.0 1856.1L1267.0 1859.6L1269.0 1863.9L1271.0 1868.6L1273.0 1873.6L1275.0 1878.7L1277.0 1884.0L1279.0 1889.5L1281.0 1895.2L1283.0 1900.9L1285.0 1906.8L1287.0 1912.7L1289.0 1918.8L1291.0 1924.9L1293.0 1930.9L1295.0 1936.9L1297.0 1942.7L1299.0 1948.4L1301.0 1954.0L1303.0 1959.5L1305.0 1965.1L1307.0 1970.7L1309.0 1976.4L1311.0 1982.2L1313.0 1988.1L1315.0 1994.1L1317.0 2000.0L1319.0 2005.8L1321.0 2011.5L1323.0 2017.0L1325.0 2022.3L1327.0 2027.2L1329.0 2031.7L1331.0 2035.9L1333.0 2039.9L1335.0 2043.6L1337.0 2047.2L1339.0 2050.8L1341.0 2054.3L1343.0 2057.7L1345.0 2061.2L1347.0 2064.6L1349.0 2068.0L1351.0 2071.3L1353.0 2074.5L1355.0 2077.7L1357.0 2080.7L1359.0 2083.7L1361.0 2086.6L1363.0 2089.5L1365.0 2092.3L1367.0 2095.0L1369.0 2097.6L1371.0 2100.2L1373.0 2102.8L1375.0 2105.2L1377.0 2107.6L1379.0 2110.0L1381.0 2112.3L1383.0 2114.5L1385.0 2116.6L1387.0 2118.7L1389.0 2120.7L1391.0 2122.7L1393.0 2124.6L1395.0 2126.5L1397.0 2128.3L1399.0 2130.0L1401.0 2131.6L1403.0 2133.2L1405.0 2134.7L1407.0 2136.2L1409.0 2137.6L1411.0 2138.9L1413.0 2140.2L1415.0 2141.3L1417.0 2142.4L1419.0 2143.3L1421.0 2144.1L1423.0 2144.9L1425.0 2145.7L1427.0 2146.4L1429.0 2147.1L1431.0 2147.7L1433.0 2148.2L1435.0 2148.6L1437.0 2148.9L1439.0 2149.1L1441.0 2149.1L1443.0 2149.1L1445.0 2149.1L1447.0 2149.0L1449.0 2148.8L1451.0 2148.7L1453.0 2148.5L1455.0 2148.3L1457.0 2148.1L1459.0 2147.9L1461.0 2147.6L1463.0 2147.4L1465.0 2147.1L1467.0 2146.8L1469.0 2146.6L1471.0 2146.3L1473.0 2146.0L1475.0 2145.7L1477.0 2145.4L1479.0 2145.1L1481.0 2144.8L1483.0 2144.5L1485.0 2144.1L1487.0 2143.8L1489.0 2143.3L1491.0 2142.9L1493.0 2142.4L1495.0 2141.9L1497.0 2141.4L1499.0 2140.9L1501.0 2140.3L1503.0 2139.8L1505.0 2139.3L1507.0 2138.8L1509.0 2138.3L1511.0 2137.8L1513.0 2137.3L1515.0 2136.9L1517.0 2136.5L1519.0 2136.1L1521.0 2135.8L1523.0 2135.5L1525.0 2135.3L1527.0 2135.1L1529.0 2135.0L1531.0 2134.9L1533.0 2134.9L1535.0 2134.9L1537.0 2135.0L1539.0 2135.0L1541.0 2135.1L1543.0 2135.2L1545.0 2135.3L1547.0 2135.4L1549.0 2135.6L1551.0 2135.8L1553.0 2136.0L1555.0 2136.2L1557.0 2136.3" stroke="#0000ff" stroke-width="7.4"/>
<path d="M191.0 2177.0L193.0 2177.0L195.0 2177.0L197.0 2177.0L199.0 2177.0L201.0 2177.0L203.0 2177.0L205.0 2177.0L207.0 2177.0L209.0 2177.0L211.0 2177.0L213.0 2177.0L215.0 2177.0L217.0 2177.0L219.0 2177.0L221.0 2177.0L223.0 2177.0L225.0 2177.0L227.0 2177.0L229.0 2177.0L231.0 2177.0L233.0 2177.0L235.0 2177.0L237.0 2177.0L239.0 2177.0L241.0 2177.0L243.0 2177.0L245.0 2177.0L247.0 2177.0L249.0 2177.0L251.0 2177.0L253.0 2177.0L255.0 2177.0L257.0 2177.0L259.0 2177.0L261.0 2177.0L263.0 2177.0L265.0 2177.0L267.0 2177.0L269.0 2177.0L271.0 2177.0L273.0 2177.0L275.0 2177.0L277.0 2177.0L279.0 2177.0L281.0 2177.0L283.0 2177.0L285.0 2177.0L287.0 2177.0L289.0 2177.0L291.0 2177.0L293.0 2177.0L295.0 2177.0L297.0 2177.0L299.0 2177.0L301.0 2177.0L303.0 2177.0L305.0 2177.0L307.0 2176.9L309.0 2176.9L311.0 2176.8L313.0 2176.8L315.0 2176.7L317.0 2176.6L319.0 2176.5L321.0 2176.4L323.0 2176.3L325.0 2176.2L327.0 2176.1L329.0 2175.9L331.0 2175.8L333.0 2175.7L335.0 2175.5L337.0 2175.3L339.0 2175.2L341.0 2175.0L342.0 2174.9L343.0 2174.7L344.0 2175.2L345.0 2174.5L346.0 2174.6L347.0 2174.0L348.0 2174.9L349.0 2174.2L350.0 2174.3L351.0 2174.2L352.0 2174.3L353.0 2173.4L354.0 2174.1L355.0 2174.2L356.0 2172.8L357.0 2173.8L358.0 2174.1L359.0 2173.2L360.0 2173.5L361.0 2172.3L362.0 2172.9L363.0 2172.0L364.0 2172.0L365.0 2171.7L366.0 2172.9L367.0 2172.0L368.0 2172.8L369.0 2172.7L370.0 2171.4L371.0 2171.2L372.0 2171.5L373.0 2172.2L374.0 2171.7L375.0 2171.1L376.0 2170.7L377.0 2170.9L378.0 2170.5L379.0 2171.1L380.0 2171.4L381.0 2171.1L382.0 2169.8L383.0 2169.6L384.0 2170.6L385.0 2170.5L386.0 2169.9L387.0 2169.6L388.0 2169.7L389.0 2169.8L390.0 2169.1L391.0 2169.9L392.0 2169.6L393.0 2168.2L394.0 2168.7L395.0 2168.0L396.0 2169.3L397.0 2168.3L398.0 2167.6L399.0 2168.0L400.0 2168.5L401.0 2168.6L402.0 2168.0L403.0 2167.8L404.0 2167.7L405.0 2167.4L406.0 2167.4L407.0 2166.7L408.0 2166.6L409.0 2166.6L410.0 2166.8L411.0 2166.5L412.0 2165.7L413.0 2166.0L414.0 2165.4L415.0 2165.2L416.0 2165.1L417.0 2164.9L418.0 2165.5L419.0 2164.1L420.0 2164.5L421.0 2164.4L422.0 2164.7L423.0 2164.3L424.0 2164.0L425.0 2163.2L426.0 2163.6L427.0 2163.4L428.0 2163.1L429.0 2163.2L430.0 2162.1L431.0 2162.0L432.0 2162.2L433.0 2161.1L434.0 2161.8L435.0 2161.4L436.0 2161.1L437.0 2161.2L438.0 2160.5L439.0 2159.7L440.0 2159.2L441.0 2158.9L442.0 2158.7L443.0 2158.7L444.0 2159.2L445.0 2158.4L446.0 2158.2L447.0 2158.6L448.0 2157.8L449.0 2156.8L450.0 2157.3L451.0 2156.5L452.0 2156.6L453.0 2156.3L454.0 2156.2L455.0 2155.2L456.0 2154.8L457.0 2153.9L458.0 2153.6L459.0 2153.1L460.0 2153.1L461.0 2152.9L462.0 2152.4L463.0 2152.1L464.0 2152.5L465.0 2151.4L466.0 2151.5L467.0 2151.5L468.0 2149.7L469.0 2150.5L470.0 2149.5L471.0 2149.2L472.0 2149.1L473.0 2147.5L474.0 2147.9L475.0 2148.1L476.0 2147.0L477.0 2147.3L478.0 2145.8L479.0 2145.9L480.0 2145.3L481.0 2145.0L482.0 2143.6L483.0 2143.4L484.0 2142.7L485.0 2142.2L486.0 2141.5L487.0 2141.0L488.0 2140.8L489.0 2140.6L490.0 2139.1L491.0 2138.9L492.0 2138.8L493.0 2137.4L494.0 2137.2L495.0 2136.5L496.0 2136.4L497.0 2135.3L498.0 2136.1L499.0 2134.9L500.0 2134.9L501.0 2135.7L502.0 2134.8L503.0 2134.5L504.0 2134.7L505.0 2134.9L506.0 2134.0L507.0 2134.5L508.0 2133.6L509.0 2134.6L510.0 2134.4L511.0 2133.7L512.0 2134.0L513.0 2134.7L514.0 2134.4L515.0 2134.1L516.0 2135.0L517.0 2134.3L518.0 2135.5L519.0 2135.3L520.0 2135.9L521.0 2135.2L522.0 2134.7L523.0 2135.9L524.0 2135.4L525.0 2136.3L526.0 2135.7L527.0 2136.0L528.0 2137.0L529.0 2136.0L530.0 2137.3L531.0 2136.8L532.0 2136.6L533.0 2138.1L534.0 2137.9L535.0 2137.6L536.0 2137.8L537.0 2138.8L538.0 2138.9L539.0 2140.0L540.0 2138.9L541.0 2139.3L542.0 2140.3L543.0 2140.2L544.0 2141.7L545.0 2142.1L546.0 2142.2L547.0 2143.0L548.0 2143.0L549.0 2143.0L550.0 2143.5L551.0 2143.5L552.0 2145.2L553.0 2145.5L554.0 2145.1L555.0 2146.0L556.0 2146.4L557.0 2146.0L558.0 2146.1L559.0 2147.1L560.0 2146.6L561.0 2147.7L562.0 2147.2L563.0 2147.7L564.0 2148.3L565.0 2148.1L566.0 2147.4L567.0 2147.7L568.0 2148.2L569.0 2147.8L570.0 2149.3L571.0 2149.3L572.0 2148.4L573.0 2148.6L574.0 2148.9L575.0 2149.6L576.0 2149.2L577.0 2150.5L578.0 2149.5L579.0 2150.4L580.0 2151.0L581.0 2150.1L582.0 2150.9L583.0 2151.4L584.0 2150.2L585.0 2150.6L586.0 2151.5L587.0 2151.4L588.0 2150.9L589.0 2152.0L590.0 2152.0L591.0 2152.4L592.0 2151.5L593.0 2152.3L594.0 2152.3L595.0 2152.4L596.0 2152.0L597.0 2152.4L598.0 2152.2L599.0 2152.2L600.0 2151.8L601.0 2152.7L602.0 2152.4L603.0 2152.9L604.0 2153.1L605.0 2152.7L606.0 2152.4L607.0 2152.9L608.0 2153.0L609.0 2151.9L610.0 2153.1L611.0 2153.1L612.0 2152.3L613.0 2153.5L614.0 2152.2L615.0 2152.7L616.0 2152.5L617.0 2152.4L618.0 2153.0L619.0 2152.5L620.0 2152.8L621.0 2152.6L622.0 2153.1L623.0 2152.3L624.0 2153.3L625.0 2152.8L626.0 2152.3L627.0 2152.7L628.0 2152.1L629.0 2153.0L630.0 2153.6L631.0 2152.4L632.0 2152.4L633.0 2152.3L634.0 2153.0L635.0 2152.4L636.0 2153.0L637.0 2152.8L638.0 2153.4L639.0 2152.2L640.0 2152.3L641.0 2153.4L642.0 2153.0L643.0 2153.0L644.0 2153.7L645.0 2152.5L646.0 2153.2L647.0 2153.8L648.0 2153.7L649.0 2152.6L650.0 2153.8L651.0 2153.3L652.0 2153.7L653.0 2153.5L654.0 2152.9L655.0 2153.0L656.0 2152.8L657.0 2153.7L658.0 2153.4L659.0 2154.1L660.0 2152.9L661.0 2153.7L662.0 2152.9L663.0 2153.2L664.0 2153.8L665.0 2152.8L666.0 2154.2L667.0 2154.2L668.0 2154.3L669.0 2154.5L670.0 2153.4L671.0 2153.9L672.0 2154.0L673.0 2153.6L674.0 2153.8L675.0 2153.3L676.0 2154.8L677.0 2154.4L678.0 2154.3L679.0 2154.6L680.0 2154.5L681.0 2154.6L682.0 2155.2L683.0 2154.6L684.0 2154.2L685.0 2154.7L686.0 2155.4L687.0 2155.5L688.0 2155.4L689.0 2154.9L690.0 2154.7L691.0 2154.5L692.0 2155.3L693.0 2154.7L694.0 2156.2L695.0 2156.2L696.0 2155.4L697.0 2156.0L698.0 2156.5L699.0 2155.8L700.0 2156.8L701.0 2155.8L702.0 2156.2L703.0 2156.2L704.0 2157.3L705.0 2156.5L706.0 2156.0L707.0 2156.6L708.0 2156.9L709.0 2156.7L710.0 2157.9L711.0 2157.4L712.0 2157.3L713.0 2157.6L714.0 2156.9L715.0 2157.3L716.0 2158.2L717.0 2157.9L718.0 2158.3L719.0 2157.5L720.0 2158.3L721.0 2158.9L722.0 2158.4L723.0 2158.6L724.0 2158.7L725.0 2158.7L726.0 2158.6L727.0 2158.9L728.0 2159.6L729.0 2159.2L730.0 2159.3L731.0 2159.0L732.0 2159.9L733.0 2158.8L734.0 2159.6L735.0 2159.3L736.0 2159.6L737.0 2160.5L738.0 2160.1L739.0 2160.1L740.0 2160.5L741.0 2161.1L742.0 2160.3L743.0 2160.3L744.0 2161.3L745.0 2160.6L746.0 2160.9L747.0 2160.7L748.0 2161.5L749.0 2161.4L750.0 2162.2L751.0 2161.8L752.0 2162.1L753.0 2162.0L754.0 2161.4L755.0 2161.2L756.0 2161.8L757.0 2161.6L758.0 2162.1L759.0 2162.0L761.0 2162.0L763.0 2162.0L765.0 2162.0L767.0 2162.0L769.0 2161.9L771.0 2161.9L773.0 2161.9L775.0 2161.8L777.0 2161.8L779.0 2161.8L781.0 2161.7L783.0 2161.7L785.0 2161.6L787.0 2161.5L789.0 2161.5L791.0 2161.4L793.0 2161.3L795.0 2161.2L797.0 2161.1L799.0 2161.0L801.0 2160.8L803.0 2160.6L805.0 2160.2L807.0 2159.8L809.0 2159.3L811.0 2158.8L813.0 2158.3L815.0 2157.8L817.0 2157.5L819.0 2157.2L821.0 2157.1L823.0 2157.0L825.0 2157.0L827.0 2157.1L829.0 2157.1L831.0 2157.2L833.0 2157.2L835.0 2157.3L837.0 2157.3L839.0 2157.4L841.0 2157.5L843.0 2157.6L845.0 2157.6L847.0 2157.7L849.0 2157.8L851.0 2157.8L853.0 2157.9L855.0 2157.9L857.0 2157.9L859.0 2158.0L861.0 2157.9L863.0 2157.8L865.0 2157.6L867.0 2157.2L869.0 2156.6L871.0 2155.9L873.0 2155.0L875.0 2154.1L877.0 2153.1L879.0 2152.1L881.0 2151.1L883.0 2150.1L885.0 2149.2L887.0 2148.3L889.0 2147.4L891.0 2146.6L893.0 2145.8L895.0 2144.9L897.0 2144.1L899.0 2143.2L901.0 2142.4L903.0 2141.6L905.0 2140.8L907.0 2140.0L909.0 2139.3L911.0 2138.7L913.0 2138.0L915.0 2137.5L917.0 2136.9L919.0 2136.4L921.0 2136.0L923.0 2135.5L925.0 2135.1L927.0 2134.7L929.0 2134.2L931.0 2133.8L933.0 2133.3L935.0 2132.9L937.0 2132.4L939.0 2131.9L941.0 2131.4L943.0 2130.9L945.0 2130.4L947.0 2129.9L949.0 2129.4L951.0 2128.9L953.0 2128.3L955.0 2127.6L957.0 2126.9L959.0 2126.0L961.0 2125.0L963.0 2123.6L965.0 2121.8L967.0 2119.6L969.0 2117.1L971.0 2114.6L973.0 2112.2L975.0 2110.0L977.0 2108.2L979.0 2106.8L981.0 2105.5L983.0 2104.0L985.0 2101.8L987.0 2098.8L989.0 2095.0L991.0 2090.8L993.0 2086.6L995.0 2082.9L997.0 2079.5L999.0 2076.5L1001.0 2073.7L1003.0 2071.0L1005.0 2068.4L1007.0 2066.0L1009.0 2063.6L1011.0 2061.3L1013.0 2059.1L1015.0 2057.0L1017.0 2055.0L1019.0 2053.0L1021.0 2051.1L1023.0 2049.1L1025.0 2047.2L1027.0 2045.3L1029.0 2043.3L1031.0 2041.4L1033.0 2039.3L1035.0 2037.2L1037.0 2035.1L1039.0 2033.0L1041.0 2030.9L1043.0 2028.9L1045.0 2026.9L1047.0 2025.0L1049.0 2023.2L1051.0 2021.5L1053.0 2019.8L1055.0 2018.1L1057.0 2016.5L1059.0 2014.9L1061.0 2013.4L1063.0 2011.9L1065.0 2010.6L1067.0 2009.5L1069.0 2008.6L1071.0 2007.8L1073.0 2007.1L1075.0 2006.5L1077.0 2006.0L1079.0 2005.5L1081.0 2005.1L1083.0 2004.7L1085.0 2004.4L1087.0 2004.1L1089.0 2004.0L1091.0 2003.9L1093.0 2003.9L1095.0 2004.0L1097.0 2004.1L1099.0 2004.3L1101.0 2004.5L1103.0 2004.8L1105.0 2005.1L1107.0 2005.5L1109.0 2005.8L1111.0 2006.2L1113.0 2006.6L1115.0 2007.1L1117.0 2007.7L1119.0 2008.3L1121.0 2008.9L1123.0 2009.5L1125.0 2009.8L1127.0 2009.9L1129.0 2009.8L1131.0 2009.3L1133.0 2008.5L1135.0 2007.5L1137.0 2006.3L1139.0 2004.8L1141.0 2003.2L1143.0 2001.4L1145.0 1999.1L1147.0 1996.4L1149.0 1993.1L1151.0 1989.3L1153.0 1985.1L1155.0 1980.5L1157.0 1975.7L1159.0 1970.4L1161.0 1964.7L1163.0 1958.2L1165.0 1951.2L1167.0 1943.6L1169.0 1935.5L1171.0 1927.1L1173.0 1918.1L1175.0 1908.5L1177.0 1898.5L1179.0 1888.3L1181.0 1878.1L1183.0 1868.0L1185.0 1858.1L1187.0 1848.0L1189.0 1837.7L1191.0 1827.1L1193.0 1816.0L1195.0 1804.4L1197.0 1792.3L1199.0 1779.6L1201.0 1766.2L1203.0 1752.4L1205.0 1738.6L1207.0 1725.0L1209.0 1711.8L1211.0 1698.8L1213.0 1686.1L1215.0 1673.7L1217.0 1661.7L1219.0 1650.0L1221.0 1638.6L1223.0 1627.6L1225.0 1617.1L1227.0 1607.3L1229.0 1598.2L1231.0 1589.8L1233.0 1581.8L1235.0 1574.2L1237.0 1567.3L1239.0 1560.9L1241.0 1555.3L1243.0 1550.3L1245.0 1545.8L1247.0 1541.6L1249.0 1537.8L1251.0 1534.4L1253.0 1531.8L1255.0 1530.2L1257.0 1529.6L1259.0 1530.4L1261.0 1532.3L1263.0 1535.3L1265.0 1539.1L1267.0 1543.4L1269.0 1548.1L1271.0 1553.5L1273.0 1559.6L1275.0 1566.5L1277.0 1574.1L1279.0 1582.3L1281.0 1590.6L1283.0 1599.1L1285.0 1607.7L1287.0 1616.6L1289.0 1625.6L1291.0 1634.8L1293.0 1644.0L1295.0 1653.2L1297.0 1662.3L1299.0 1671.3L1301.0 1680.4L1303.0 1689.4L1305.0 1698.3L1307.0 1707.1L1309.0 1715.8L1311.0 1724.3L1313.0 1732.7L1315.0 1741.1L1317.0 1749.6L1319.0 1758.5L1321.0 1767.7L1323.0 1777.5L1325.0 1787.7L1327.0 1797.8L1329.0 1807.5L1331.0 1816.7L1333.0 1825.2L1335.0 1833.4L1337.0 1841.3L1339.0 1849.1L1341.0 1857.0L1343.0 1864.9L1345.0 1873.0L1347.0 1881.1L1349.0 1889.2L1351.0 1897.2L1353.0 1905.1L1355.0 1912.9L1357.0 1920.6L1359.0 1928.1L1361.0 1935.6L1363.0 1943.0L1365.0 1950.2L1367.0 1957.3L1369.0 1964.1L1371.0 1970.8L1373.0 1977.3L1375.0 1983.6L1377.0 1989.8L1379.0 1995.8L1381.0 2001.6L1383.0 2007.4L1385.0 2013.0L1387.0 2018.4L1389.0 2023.7L1391.0 2028.9L1393.0 2034.0L1395.0 2038.9L1397.0 2043.8L1399.0 2048.6L1401.0 2053.5L1402.0 2055.8L1403.0 2057.9L1404.0 2060.1L1405.0 2063.0L1406.0 2065.3L1407.0 2067.7L1408.0 2069.4L1409.0 2072.0L1410.0 2073.4L1411.0 2075.2L1412.0 2076.8L1413.0 2078.7L1414.0 2080.6L1415.0 2082.0L1416.0 2083.6L1417.0 2085.3L1418.0 2087.0L1419.0 2087.8L1420.0 2089.2L1421.0 2090.3L1422.0 2091.3L1423.0 2092.5L1424.0 2093.3L1425.0 2094.4L1426.0 2095.5L1427.0 2096.5L1428.0 2097.5L1429.0 2098.2L1430.0 2099.3L1431.0 2100.4L1432.0 2101.8L1433.0 2103.3L1434.0 2103.8L1435.0 2105.2L1436.0 2106.1L1437.0 2108.2L1438.0 2108.6L1439.0 2109.9L1440.0 2110.6L1441.0 2111.5L1442.0 2113.0L1443.0 2114.7L1444.0 2115.5L1445.0 2115.8L1446.0 2116.3L1447.0 2117.2L1448.0 2118.3L1449.0 2119.2L1450.0 2120.4L1451.0 2121.7L1452.0 2123.2L1453.0 2123.9L1454.0 2124.6L1455.0 2124.9L1456.0 2125.1L1457.0 2125.2L1458.0 2125.5L1459.0 2126.5L1460.0 2127.4L1461.0 2128.0L1462.0 2129.1L1463.0 2130.3L1464.0 2131.0L1465.0 2130.8L1466.0 2131.4L1467.0 2131.4L1468.0 2132.7L1469.0 2133.1L1470.0 2134.0L1471.0 2135.2L1472.0 2135.7L1473.0 2135.2L1474.0 2135.2L1475.0 2135.9L1476.0 2136.7L1477.0 2136.6L1478.0 2136.7L1479.0 2136.3L1480.0 2137.0L1481.0 2137.8L1482.0 2138.7L1483.0 2139.6L1484.0 2139.5L1485.0 2139.4L1486.0 2138.8L1487.0 2139.5L1488.0 2140.1L1489.0 2140.9L1490.0 2140.5L1491.0 2140.4L1492.0 2139.5L1493.0 2139.7L1494.0 2139.7L1495.0 2140.4L1496.0 2140.5L1497.0 2140.4L1498.0 2139.9L1499.0 2139.8L1500.0 2139.7L1501.0 2140.2L1502.0 2140.3L1503.0 2140.2L1504.0 2139.6L1505.0 2138.8L1506.0 2139.1L1507.0 2139.3L1508.0 2139.8L1509.0 2139.7L1510.0 2139.8L1511.0 2139.5L1512.0 2139.4L1513.0 2139.4L1514.0 2140.0L1515.0 2140.4L1516.0 2140.6L1517.0 2140.3L1518.0 2139.4L1519.0 2138.7L1520.0 2138.2L1521.0 2138.3L1522.0 2139.3L1523.0 2139.8L1524.0 2140.3L1525.0 2140.4L1526.0 2139.8L1527.0 2138.9L1528.0 2139.0L1529.0 2139.2L1530.0 2140.0L1531.0 2139.6L1532.0 2140.0L1533.0 2140.5L1534.0 2140.2L1535.0 2139.9L1536.0 2139.3L1537.0 2139.9L1538.0 2139.7L1539.0 2139.1L1540.0 2138.8L1541.0 2138.7L1542.0 2139.0L1543.0 2139.5L1544.0 2139.3L1545.0 2139.6L1546.0 2138.9L1547.0 2139.1L1548.0 2139.5L1549.0 2140.0L1550.0 2140.6L1551.0 2140.4L1552.0 2140.3L1553.0 2140.2L1554.0 2140.0L1555.0 2139.5L1556.0 2139.3L1557.0 2139.3" stroke="#00ffff" stroke-width="7.4"/>
<path d="M191.0 2178.2L193.0 2178.3L195.0 2178.4L197.0 2178.4L199.0 2178.5L201.0 2178.6L203.0 2178.7L205.0 2178.8L207.0 2178.9L209.0 2178.9L211.0 2179.0L213.0 2179.1L215.0 2179.1L217.0 2179.2L219.0 2179.2L221.0 2179.3L223.0 2179.3L225.0 2179.4L227.0 2179.4L229.0 2179.5L231.0 2179.5L233.0 2179.6L235.0 2179.6L237.0 2179.6L239.0 2179.7L241.0 2179.7L243.0 2179.7L245.0 2179.8L247.0 2179.8L249.0 2179.8L251.0 2179.8L253.0 2179.9L255.0 2179.9L257.0 2179.9L259.0 2179.9L261.0 2179.9L263.0 2179.9L265.0 2179.9L267.0 2179.9L269.0 2180.0L271.0 2180.0L273.0 2180.0L275.0 2180.0L277.0 2180.0L279.0 2180.0L281.0 2180.0L283.0 2180.0L285.0 2180.0L287.0 2180.0L289.0 2180.0L291.0 2180.0L293.0 2180.0L295.0 2180.0L297.0 2180.0L299.0 2180.0L301.0 2180.0L303.0 2180.0L305.0 2180.0L307.0 2180.0L309.0 2179.9L311.0 2179.9L313.0 2179.9L315.0 2179.9L317.0 2179.8L319.0 2179.8L321.0 2179.7L323.0 2179.7L325.0 2179.6L327.0 2179.6L329.0 2179.5L331.0 2179.4L333.0 2179.4L335.0 2179.3L337.0 2179.2L339.0 2179.1L341.0 2179.2L342.0 2178.8L343.0 2179.3L344.0 2179.0L345.0 2178.7L346.0 2179.2L347.0 2178.0L348.0 2178.6L349.0 2178.4L350.0 2178.3L351.0 2178.4L352.0 2179.0L353.0 2178.5L354.0 2178.9L355.0 2177.7L356.0 2177.5L357.0 2177.4L358.0 2178.5L359.0 2178.2L360.0 2178.8L361.0 2178.7L362.0 2177.5L363.0 2178.2L364.0 2178.6L365.0 2178.0L366.0 2177.1L367.0 2178.0L368.0 2177.4L369.0 2177.2L370.0 2178.1L371.0 2176.9L372.0 2176.9L373.0 2176.9L374.0 2176.5L375.0 2176.4L376.0 2177.1L377.0 2176.4L378.0 2177.4L379.0 2176.1L380.0 2176.5L381.0 2177.2L382.0 2176.1L383.0 2177.0L384.0 2176.6L385.0 2177.1L386.0 2176.2L387.0 2175.5L388.0 2176.1L389.0 2175.2L390.0 2176.6L391.0 2176.3L392.0 2175.7L393.0 2175.6L394.0 2175.8L395.0 2175.4L396.0 2174.7L397.0 2176.0L398.0 2175.1L399.0 2175.5L400.0 2174.7L401.0 2175.1L402.0 2175.0L403.0 2175.0L404.0 2174.5L405.0 2174.7L406.0 2174.4L407.0 2174.7L408.0 2173.6L409.0 2174.3L410.0 2173.9L411.0 2172.8L412.0 2173.4L413.0 2172.9L414.0 2172.2L415.0 2172.0L416.0 2172.2L417.0 2172.4L418.0 2172.2L419.0 2171.5L420.0 2171.6L421.0 2170.9L422.0 2171.1L423.0 2170.2L424.0 2170.3L425.0 2169.7L426.0 2170.4L427.0 2170.5L428.0 2170.4L429.0 2170.1L430.0 2169.7L431.0 2169.2L432.0 2168.9L433.0 2168.6L434.0 2167.9L435.0 2168.0L436.0 2167.4L437.0 2166.9L438.0 2167.3L439.0 2165.7L440.0 2166.9L441.0 2166.1L442.0 2166.2L443.0 2164.8L444.0 2165.1L445.0 2165.3L446.0 2165.1L447.0 2163.4L448.0 2162.9L449.0 2163.2L450.0 2163.0L451.0 2163.1L452.0 2163.0L453.0 2162.1L454.0 2161.1L455.0 2161.8L456.0 2162.0L457.0 2160.1L458.0 2161.2L459.0 2160.8L460.0 2160.1L461.0 2159.9L462.0 2158.9L463.0 2159.4L464.0 2157.9L465.0 2158.3L466.0 2157.1L467.0 2157.0L468.0 2157.7L469.0 2156.7L470.0 2155.7L471.0 2156.4L472.0 2155.9L473.0 2155.2L474.0 2154.9L475.0 2154.1L476.0 2153.8L477.0 2152.8L478.0 2153.5L479.0 2152.5L480.0 2152.6L481.0 2151.5L482.0 2151.8L483.0 2150.7L484.0 2150.5L485.0 2150.3L486.0 2149.8L487.0 2149.5L488.0 2148.5L489.0 2149.1L490.0 2148.4L491.0 2147.4L492.0 2147.5L493.0 2147.3L494.0 2146.2L495.0 2145.7L496.0 2146.5L497.0 2145.2L498.0 2146.0L499.0 2145.1L500.0 2145.1L501.0 2144.0L502.0 2144.4L503.0 2145.0L504.0 2144.0L505.0 2144.1L506.0 2144.1L507.0 2143.8L508.0 2143.8L509.0 2143.5L510.0 2143.5L511.0 2144.1L512.0 2142.9L513.0 2143.7L514.0 2143.0L515.0 2143.2L516.0 2143.5L517.0 2143.9L518.0 2143.7L519.0 2144.5L520.0 2143.6L521.0 2143.6L522.0 2145.0L523.0 2144.5L524.0 2144.7L525.0 2144.5L526.0 2145.5L527.0 2145.3L528.0 2146.0L529.0 2146.6L530.0 2145.7L531.0 2146.5L532.0 2147.2L533.0 2146.9L534.0 2147.2L535.0 2146.5L536.0 2147.1L537.0 2146.7L538.0 2146.9L539.0 2147.5L540.0 2148.4L541.0 2148.1L542.0 2149.1L543.0 2148.7L544.0 2148.2L545.0 2148.8L546.0 2148.4L547.0 2148.9L548.0 2149.3L549.0 2149.8L550.0 2149.1L551.0 2150.1L552.0 2150.6L553.0 2149.7L554.0 2150.6L555.0 2151.1L556.0 2150.7L557.0 2150.3L558.0 2151.4L559.0 2152.0L560.0 2151.6L561.0 2151.0L562.0 2152.4L563.0 2152.6L564.0 2152.5L565.0 2153.0L566.0 2152.1L567.0 2153.3L568.0 2153.4L569.0 2152.3L570.0 2152.3L571.0 2152.4L572.0 2153.8L573.0 2153.0L574.0 2153.0L575.0 2152.7L576.0 2153.4L577.0 2154.4L578.0 2153.8L579.0 2153.7L580.0 2153.7L581.0 2154.2L582.0 2154.1L583.0 2153.8L584.0 2154.5L585.0 2154.2L586.0 2154.5L587.0 2154.1L588.0 2154.0L589.0 2154.6L590.0 2154.4L591.0 2155.3L592.0 2154.2L593.0 2154.3L594.0 2154.3L595.0 2154.7L596.0 2155.0L597.0 2155.1L598.0 2155.9L599.0 2154.5L600.0 2154.7L601.0 2155.6L602.0 2154.8L603.0 2155.7L604.0 2156.3L605.0 2155.5L606.0 2155.4L607.0 2155.6L608.0 2156.5L609.0 2155.7L610.0 2155.5L611.0 2156.1L612.0 2155.3L613.0 2156.5L614.0 2156.4L615.0 2156.0L616.0 2156.2L617.0 2157.1L618.0 2156.5L619.0 2156.0L620.0 2156.2L621.0 2157.2L622.0 2156.2L623.0 2156.3L624.0 2156.1L625.0 2156.2L626.0 2157.0L627.0 2157.1L628.0 2156.7L629.0 2156.5L630.0 2156.6L631.0 2156.4L632.0 2156.7L633.0 2157.6L634.0 2157.3L635.0 2156.7L636.0 2157.0L637.0 2157.5L638.0 2158.1L639.0 2157.2L640.0 2157.5L641.0 2158.3L642.0 2158.0L643.0 2158.3L644.0 2158.1L645.0 2158.4L646.0 2158.4L647.0 2158.4L648.0 2158.6L649.0 2158.4L650.0 2157.4L651.0 2157.6L652.0 2157.6L653.0 2158.1L654.0 2158.9L655.0 2158.2L656.0 2159.1L657.0 2158.1L658.0 2157.8L659.0 2159.4L660.0 2159.3L661.0 2158.7L662.0 2158.8L663.0 2158.3L664.0 2159.7L665.0 2159.0L666.0 2159.0L667.0 2158.5L668.0 2159.7L669.0 2159.7L670.0 2159.3L671.0 2158.8L672.0 2160.2L673.0 2159.7L674.0 2160.3L675.0 2159.9L676.0 2160.5L677.0 2159.0L678.0 2160.3L679.0 2159.3L680.0 2160.3L681.0 2159.6L682.0 2160.7L683.0 2160.5L684.0 2160.9L685.0 2160.4L686.0 2160.7L687.0 2161.0L688.0 2160.7L689.0 2160.0L690.0 2160.6L691.0 2160.3L692.0 2160.6L693.0 2160.9L694.0 2161.1L695.0 2160.8L696.0 2161.7L697.0 2160.8L698.0 2161.3L699.0 2162.0L700.0 2160.7L701.0 2162.1L702.0 2161.4L703.0 2161.5L704.0 2162.2L705.0 2162.3L706.0 2161.0L707.0 2161.8L708.0 2161.5L709.0 2161.1L710.0 2161.2L711.0 2161.6L712.0 2161.4L713.0 2161.5L714.0 2162.4L715.0 2161.4L716.0 2162.5L717.0 2162.0L718.0 2162.4L719.0 2162.0L720.0 2161.7L721.0 2162.2L722.0 2162.3L723.0 2162.1L724.0 2162.4L725.0 2162.3L726.0 2161.8L727.0 2161.5L728.0 2162.0L729.0 2161.9L730.0 2161.5L731.0 2162.5L732.0 2162.7L733.0 2162.0L734.0 2161.6L735.0 2162.6L736.0 2161.6L737.0 2161.7L738.0 2162.5L739.0 2161.3L740.0 2162.0L741.0 2161.6L742.0 2161.3L743.0 2161.4L744.0 2161.8L745.0 2160.9L746.0 2161.3L747.0 2161.5L748.0 2161.5L749.0 2161.4L750.0 2161.0L751.0 2160.8L752.0 2161.1L753.0 2161.9L754.0 2161.2L755.0 2160.9L756.0 2161.5L757.0 2160.8L758.0 2161.2L759.0 2161.1L761.0 2160.9L763.0 2160.8L765.0 2160.7L767.0 2160.6L769.0 2160.4L771.0 2160.2L773.0 2160.0L775.0 2159.8L777.0 2159.6L779.0 2159.4L781.0 2159.2L783.0 2158.9L785.0 2158.7L787.0 2158.4L789.0 2158.2L791.0 2157.9L793.0 2157.7L795.0 2157.5L797.0 2157.2L799.0 2157.0L801.0 2156.8L803.0 2156.6L805.0 2156.4L807.0 2156.2L809.0 2156.1L811.0 2156.0L813.0 2155.8L815.0 2155.8L817.0 2155.7L819.0 2155.6L821.0 2155.6L823.0 2155.6L825.0 2155.6L827.0 2155.7L829.0 2155.7L831.0 2155.8L833.0 2155.8L835.0 2155.9L837.0 2156.0L839.0 2156.1L841.0 2156.2L843.0 2156.3L845.0 2156.3L847.0 2156.4L849.0 2156.5L851.0 2156.6L853.0 2156.6L855.0 2156.7L857.0 2156.7L859.0 2156.8L861.0 2156.7L863.0 2156.6L865.0 2156.4L867.0 2156.0L869.0 2155.4L871.0 2154.6L873.0 2153.8L875.0 2152.8L877.0 2151.8L879.0 2150.8L881.0 2149.8L883.0 2148.8L885.0 2147.8L887.0 2146.9L889.0 2146.0L891.0 2145.2L893.0 2144.3L895.0 2143.5L897.0 2142.6L899.0 2141.8L901.0 2140.9L903.0 2140.1L905.0 2139.3L907.0 2138.5L909.0 2137.8L911.0 2137.1L913.0 2136.4L915.0 2135.8L917.0 2135.3L919.0 2134.7L921.0 2134.2L923.0 2133.7L925.0 2133.2L927.0 2132.8L929.0 2132.3L931.0 2131.8L933.0 2131.4L935.0 2130.9L937.0 2130.4L939.0 2129.9L941.0 2129.4L943.0 2129.0L945.0 2128.5L947.0 2128.1L949.0 2127.6L951.0 2127.2L953.0 2126.7L955.0 2126.1L957.0 2125.4L959.0 2124.7L961.0 2123.7L963.0 2122.5L965.0 2121.0L967.0 2119.0L969.0 2116.7L971.0 2114.2L973.0 2111.4L975.0 2108.4L977.0 2105.1L979.0 2101.3L981.0 2097.1L983.0 2092.6L985.0 2088.0L987.0 2083.5L989.0 2079.3L991.0 2075.6L993.0 2072.2L995.0 2069.0L997.0 2066.0L999.0 2063.0L1001.0 2060.2L1003.0 2057.4L1005.0 2054.7L1007.0 2052.0L1009.0 2049.4L1011.0 2046.8L1013.0 2044.3L1015.0 2041.8L1017.0 2039.3L1019.0 2036.9L1021.0 2034.5L1023.0 2032.1L1025.0 2029.7L1027.0 2027.2L1029.0 2024.8L1031.0 2022.4L1033.0 2020.1L1035.0 2017.7L1037.0 2015.4L1039.0 2013.2L1041.0 2011.0L1043.0 2008.8L1045.0 2006.6L1047.0 2004.4L1049.0 2002.2L1051.0 2000.2L1053.0 1998.2L1055.0 1996.5L1057.0 1994.8L1059.0 1993.3L1061.0 1991.9L1063.0 1990.6L1065.0 1989.3L1067.0 1988.1L1069.0 1987.1L1071.0 1986.2L1073.0 1985.5L1075.0 1985.0L1077.0 1984.6L1079.0 1984.4L1081.0 1984.2L1083.0 1984.1L1085.0 1983.9L1087.0 1983.8L1089.0 1983.7L1091.0 1983.6L1093.0 1983.6L1095.0 1983.5L1097.0 1983.5L1099.0 1983.4L1101.0 1983.4L1103.0 1983.5L1105.0 1983.6L1107.0 1983.8L1109.0 1984.1L1111.0 1984.5L1113.0 1984.8L1115.0 1985.2L1117.0 1985.6L1119.0 1986.0L1121.0 1986.3L1123.0 1986.6L1125.0 1986.8L1127.0 1986.8L1129.0 1986.6L1131.0 1986.2L1133.0 1985.3L1135.0 1984.2L1137.0 1982.7L1139.0 1981.0L1141.0 1979.1L1143.0 1976.8L1145.0 1974.1L1147.0 1970.8L1149.0 1966.8L1151.0 1962.1L1153.0 1956.9L1155.0 1951.2L1157.0 1945.0L1159.0 1938.0L1161.0 1930.3L1163.0 1922.1L1165.0 1913.6L1167.0 1904.9L1169.0 1896.2L1171.0 1887.3L1173.0 1878.2L1175.0 1869.0L1177.0 1859.6L1179.0 1850.1L1181.0 1840.4L1183.0 1830.3L1185.0 1819.7L1187.0 1808.4L1189.0 1796.3L1191.0 1783.4L1193.0 1770.1L1195.0 1756.5L1197.0 1742.9L1199.0 1729.2L1201.0 1715.6L1203.0 1701.9L1205.0 1688.4L1207.0 1675.0L1209.0 1661.8L1211.0 1648.9L1213.0 1636.4L1215.0 1624.3L1217.0 1612.4L1219.0 1600.9L1221.0 1589.5L1223.0 1578.4L1225.0 1567.5L1227.0 1556.7L1229.0 1546.1L1231.0 1535.6L1233.0 1525.5L1235.0 1515.9L1237.0 1506.7L1239.0 1498.0L1241.0 1489.8L1243.0 1482.1L1245.0 1475.4L1247.0 1469.8L1249.0 1465.3L1251.0 1461.7L1253.0 1458.9L1255.0 1457.2L1257.0 1456.9L1259.0 1458.1L1261.0 1460.5L1263.0 1463.8L1265.0 1467.9L1267.0 1472.8L1269.0 1478.6L1271.0 1485.2L1273.0 1492.5L1275.0 1500.3L1277.0 1508.5L1279.0 1517.2L1281.0 1526.3L1283.0 1536.0L1285.0 1545.8L1287.0 1555.8L1289.0 1565.7L1291.0 1575.6L1293.0 1585.6L1295.0 1595.5L1297.0 1605.5L1299.0 1615.6L1301.0 1625.6L1303.0 1635.7L1305.0 1645.9L1307.0 1656.0L1309.0 1666.1L1311.0 1676.2L1313.0 1686.0L1315.0 1695.5L1317.0 1704.9L1319.0 1714.0L1321.0 1722.9L1323.0 1731.8L1325.0 1740.6L1327.0 1749.4L1329.0 1758.1L1331.0 1766.7L1333.0 1775.4L1335.0 1784.2L1337.0 1793.4L1339.0 1803.1L1341.0 1813.5L1343.0 1824.4L1345.0 1835.4L1347.0 1846.2L1349.0 1856.4L1351.0 1865.9L1353.0 1874.6L1355.0 1882.8L1357.0 1890.7L1359.0 1898.4L1361.0 1906.1L1363.0 1913.9L1365.0 1921.9L1367.0 1929.9L1369.0 1937.8L1371.0 1945.7L1373.0 1953.4L1375.0 1960.8L1377.0 1967.9L1379.0 1974.9L1381.0 1981.7L1383.0 1988.3L1385.0 1994.7L1387.0 2000.9L1389.0 2007.0L1391.0 2012.9L1393.0 2018.6L1395.0 2024.2L1397.0 2029.6L1399.0 2034.8L1401.0 2039.9L1402.0 2042.2L1403.0 2044.9L1404.0 2047.0L1405.0 2049.7L1406.0 2052.1L1407.0 2054.5L1408.0 2056.6L1409.0 2058.9L1410.0 2061.2L1411.0 2062.9L1412.0 2065.4L1413.0 2067.1L1414.0 2069.3L1415.0 2070.7L1416.0 2072.2L1417.0 2074.4L1418.0 2076.6L1419.0 2079.4L1420.0 2081.5L1421.0 2083.8L1422.0 2085.7L1423.0 2087.5L1424.0 2089.5L1425.0 2091.5L1426.0 2092.8L1427.0 2094.0L1428.0 2096.1L1429.0 2097.8L1430.0 2099.5L1431.0 2100.4L1432.0 2101.5L1433.0 2103.0L1434.0 2104.8L1435.0 2106.6L1436.0 2107.9L1437.0 2108.8L1438.0 2110.3L1439.0 2111.8L1440.0 2112.7L1441.0 2114.0L1442.0 2115.1L1443.0 2116.7L1444.0 2117.6L1445.0 2118.7L1446.0 2119.2L1447.0 2120.4L1448.0 2121.2L1449.0 2122.1L1450.0 2123.3L1451.0 2123.5L1452.0 2124.7L1453.0 2125.8L1454.0 2127.4L1455.0 2128.0L1456.0 2129.0L1457.0 2129.2L1458.0 2130.2L1459.0 2130.6L1460.0 2131.1L1461.0 2132.3L1462.0 2132.8L1463.0 2133.0L1464.0 2134.0L1465.0 2134.7L1466.0 2135.0L1467.0 2136.0L1468.0 2136.9L1469.0 2138.1L1470.0 2138.9L1471.0 2138.8L1472.0 2138.4L1473.0 2138.8L1474.0 2139.6L1475.0 2140.3L1476.0 2140.5L1477.0 2140.2L1478.0 2140.1L1479.0 2140.4L1480.0 2141.0L1481.0 2141.6L1482.0 2142.7L1483.0 2142.7L1484.0 2142.8L1485.0 2142.9L1486.0 2143.1L1487.0 2143.2L1488.0 2143.7L1489.0 2143.9L1490.0 2144.0L1491.0 2143.5L1492.0 2143.6L1493.0 2143.9L1494.0 2143.8L1495.0 2144.7L1496.0 2145.1L1497.0 2144.8L1498.0 2144.9L1499.0 2144.7L1500.0 2144.6L1501.0 2145.1L1502.0 2146.1L1503.0 2146.2L1504.0 2145.8L1505.0 2144.9L1506.0 2144.2L1507.0 2143.9L1508.0 2144.4L1509.0 2144.7L1510.0 2144.4L1511.0 2144.3L1512.0 2143.9L1513.0 2144.5L1514.0 2144.9L1515.0 2144.9L1516.0 2144.9L1517.0 2144.5L1518.0 2145.2L1519.0 2145.2L1520.0 2145.2L1521.0 2145.2L1522.0 2145.1L1523.0 2145.5L1524.0 2145.4L1525.0 2144.8L1526.0 2144.8L1527.0 2145.1L1528.0 2144.9L1529.0 2144.8L1530.0 2143.9L1531.0 2143.5L1532.0 2143.9L1533.0 2144.3L1534.0 2145.3L1535.0 2145.0L1536.0 2145.4L1537.0 2144.4L1538.0 2144.2L1539.0 2143.7L1540.0 2143.4L1541.0 2143.8L1542.0 2144.0L1543.0 2144.2L1544.0 2144.2L1545.0 2143.9L1546.0 2143.7L1547.0 2144.0L1548.0 2144.3L1549.0 2144.6L1550.0 2144.1L1551.0 2143.9L1552.0 2143.7L1553.0 2142.9L1554.0 2142.8L1555.0 2142.5L1556.0 2143.3L1557.0 2143.3" stroke="#0cfa0c" stroke-width="7.4"/>
<path d="M191.0 2180.3L193.0 2180.4L195.0 2180.5L197.0 2180.6L199.0 2180.7L201.0 2180.8L203.0 2180.9L205.0 2181.0L207.0 2181.1L209.0 2181.2L211.0 2181.3L213.0 2181.4L215.0 2181.5L217.0 2181.6L219.0 2181.6L221.0 2181.7L223.0 2181.7L225.0 2181.8L227.0 2181.8L229.0 2181.9L231.0 2181.9L233.0 2181.9L235.0 2182.0L237.0 2182.0L239.0 2182.0L241.0 2182.0L243.0 2182.0L245.0 2182.0L247.0 2182.0L249.0 2181.9L251.0 2181.9L253.0 2181.9L255.0 2181.8L257.0 2181.8L259.0 2181.7L261.0 2181.7L263.0 2181.6L265.0 2181.5L267.0 2181.5L269.0 2181.4L271.0 2181.3L273.0 2181.2L275.0 2181.2L277.0 2181.1L279.0 2181.0L281.0 2180.9L283.0 2180.8L285.0 2180.7L287.0 2180.6L289.0 2180.5L291.0 2180.5L293.0 2180.4L295.0 2180.3L297.0 2180.2L299.0 2180.1L301.0 2180.0L303.0 2180.0L305.0 2179.9L307.0 2179.8L309.0 2179.7L311.0 2179.6L313.0 2179.6L315.0 2179.5L317.0 2179.4L319.0 2179.3L321.0 2179.2L323.0 2179.2L325.0 2179.1L327.0 2179.0L329.0 2178.9L331.0 2178.8L333.0 2178.7L335.0 2178.6L337.0 2178.5L339.0 2178.4L341.0 2178.4L342.0 2178.1L343.0 2178.1L344.0 2178.4L345.0 2178.2L346.0 2177.6L347.0 2178.7L348.0 2177.5L349.0 2177.5L350.0 2177.4L351.0 2178.3L352.0 2177.5L353.0 2177.6L354.0 2177.9L355.0 2177.6L356.0 2177.0L357.0 2177.3L358.0 2178.0L359.0 2176.6L360.0 2177.1L361.0 2177.7L362.0 2177.1L363.0 2176.4L364.0 2176.3L365.0 2177.4L366.0 2176.0L367.0 2176.9L368.0 2177.1L369.0 2176.3L370.0 2177.3L371.0 2177.0L372.0 2175.6L373.0 2176.3L374.0 2176.8L375.0 2176.1L376.0 2176.7L377.0 2175.9L378.0 2175.2L379.0 2175.6L380.0 2176.3L381.0 2176.3L382.0 2174.9L383.0 2175.3L384.0 2175.7L385.0 2175.8L386.0 2175.1L387.0 2174.6L388.0 2175.0L389.0 2174.9L390.0 2174.1L391.0 2173.9L392.0 2174.5L393.0 2174.0L394.0 2173.9L395.0 2173.5L396.0 2174.0L397.0 2173.6L398.0 2173.4L399.0 2173.8L400.0 2172.8L401.0 2173.6L402.0 2173.4L403.0 2172.9L404.0 2173.7L405.0 2172.1L406.0 2173.0L407.0 2172.1L408.0 2172.5L409.0 2171.6L410.0 2171.6L411.0 2172.6L412.0 2172.4L413.0 2172.4L414.0 2171.4L415.0 2171.2L416.0 2170.6L417.0 2170.9L418.0 2171.5L419.0 2171.0L420.0 2171.4L421.0 2170.1L422.0 2169.9L423.0 2171.1L424.0 2170.5L425.0 2170.5L426.0 2170.5L427.0 2170.3L428.0 2170.2L429.0 2169.5L430.0 2168.9L431.0 2169.0L432.0 2168.8L433.0 2168.3L434.0 2169.2L435.0 2168.9L436.0 2168.4L437.0 2168.6L438.0 2167.2L439.0 2167.2L440.0 2166.6L441.0 2166.7L442.0 2166.4L443.0 2167.3L444.0 2166.1L445.0 2165.8L446.0 2166.3L447.0 2165.3L448.0 2165.7L449.0 2165.3L450.0 2164.8L451.0 2164.1L452.0 2163.9L453.0 2164.8L454.0 2163.8L455.0 2163.7L456.0 2163.8L457.0 2164.3L458.0 2162.8L459.0 2163.8L460.0 2162.3L461.0 2162.6L462.0 2163.3L463.0 2162.1L464.0 2162.8L465.0 2162.2L466.0 2162.1L467.0 2161.5L468.0 2161.1L469.0 2160.3L470.0 2160.9L471.0 2161.3L472.0 2160.7L473.0 2160.0L474.0 2160.5L475.0 2159.8L476.0 2159.0L477.0 2159.8L478.0 2159.7L479.0 2159.3L480.0 2158.4L481.0 2158.2L482.0 2157.9L483.0 2157.9L484.0 2158.5L485.0 2157.5L486.0 2156.8L487.0 2156.4L488.0 2157.1L489.0 2156.3L490.0 2156.9L491.0 2156.2L492.0 2155.5L493.0 2155.5L494.0 2156.3L495.0 2156.0L496.0 2156.1L497.0 2155.4L498.0 2154.9L499.0 2155.5L500.0 2153.8L501.0 2154.6L502.0 2154.9L503.0 2154.4L504.0 2153.6L505.0 2153.4L506.0 2152.5L507.0 2153.7L508.0 2153.5L509.0 2152.8L510.0 2151.6L511.0 2152.2L512.0 2151.7L513.0 2151.9L514.0 2151.5L515.0 2151.1L516.0 2151.2L517.0 2151.9L518.0 2151.3L519.0 2151.9L520.0 2151.2L521.0 2151.1L522.0 2151.3L523.0 2150.9L524.0 2151.1L525.0 2150.4L526.0 2150.6L527.0 2151.7L528.0 2151.8L529.0 2150.8L530.0 2150.9L531.0 2151.0L532.0 2150.9L533.0 2152.1L534.0 2152.2L535.0 2152.1L536.0 2151.2L537.0 2151.3L538.0 2151.6L539.0 2152.6L540.0 2152.5L541.0 2152.7L542.0 2152.9L543.0 2151.8L544.0 2151.8L545.0 2152.4L546.0 2152.4L547.0 2152.0L548.0 2152.3L549.0 2153.2L550.0 2152.9L551.0 2152.4L552.0 2153.1L553.0 2153.8L554.0 2154.1L555.0 2154.3L556.0 2153.7L557.0 2154.4L558.0 2154.1L559.0 2154.5L560.0 2153.6L561.0 2153.8L562.0 2154.9L563.0 2154.2L564.0 2154.4L565.0 2155.2L566.0 2155.6L567.0 2154.8L568.0 2154.9L569.0 2155.5L570.0 2156.4L571.0 2156.0L572.0 2156.3L573.0 2155.9L574.0 2156.8L575.0 2157.4L576.0 2156.2L577.0 2157.0L578.0 2156.7L579.0 2157.4L580.0 2157.6L581.0 2157.7L582.0 2158.0L583.0 2158.1L584.0 2158.6L585.0 2158.8L586.0 2158.0L587.0 2159.4L588.0 2158.4L589.0 2158.3L590.0 2159.3L591.0 2159.8L592.0 2158.6L593.0 2159.7L594.0 2158.8L595.0 2159.8L596.0 2160.1L597.0 2159.0L598.0 2159.3L599.0 2160.5L600.0 2159.8L601.0 2159.4L602.0 2159.5L603.0 2160.8L604.0 2160.9L605.0 2160.9L606.0 2159.7L607.0 2159.7L608.0 2160.1L609.0 2161.1L610.0 2160.6L611.0 2160.8L612.0 2161.0L613.0 2159.9L614.0 2160.7L615.0 2160.0L616.0 2160.8L617.0 2161.4L618.0 2161.1L619.0 2161.7L620.0 2161.0L621.0 2160.9L622.0 2160.6L623.0 2160.7L624.0 2160.6L625.0 2161.7L626.0 2160.9L627.0 2161.8L628.0 2161.2L629.0 2161.5L630.0 2161.7L631.0 2161.3L632.0 2162.2L633.0 2161.7L634.0 2161.1L635.0 2162.1L636.0 2161.9L637.0 2161.9L638.0 2161.9L639.0 2162.5L640.0 2161.3L641.0 2162.0L642.0 2162.5L643.0 2161.4L644.0 2162.4L645.0 2161.8L646.0 2162.2L647.0 2162.5L648.0 2161.7L649.0 2161.4L650.0 2162.8L651.0 2162.0L652.0 2162.9L653.0 2161.5L654.0 2161.7L655.0 2162.4L656.0 2161.7L657.0 2162.3L658.0 2161.7L659.0 2162.5L660.0 2163.1L661.0 2161.8L662.0 2162.9L663.0 2162.3L664.0 2163.2L665.0 2162.1L666.0 2162.5L667.0 2162.6L668.0 2163.2L669.0 2162.4L670.0 2163.4L671.0 2163.5L672.0 2162.0L673.0 2163.1L674.0 2162.4L675.0 2163.6L676.0 2162.4L677.0 2163.5L678.0 2163.2L679.0 2162.9L680.0 2162.1L681.0 2162.2L682.0 2162.2L683.0 2162.7L684.0 2163.5L685.0 2163.6L686.0 2162.5L687.0 2163.5L688.0 2163.5L689.0 2162.4L690.0 2162.9L691.0 2163.7L692.0 2163.5L693.0 2163.6L694.0 2162.4L695.0 2163.2L696.0 2162.7L697.0 2162.4L698.0 2162.3L699.0 2163.2L700.0 2162.3L701.0 2162.2L702.0 2163.5L703.0 2163.6L704.0 2162.2L705.0 2162.3L706.0 2162.8L707.0 2163.0L708.0 2162.9L709.0 2162.4L710.0 2162.9L711.0 2162.9L712.0 2162.3L713.0 2162.7L714.0 2162.6L715.0 2163.2L716.0 2163.5L717.0 2162.3L718.0 2163.1L719.0 2163.0L720.0 2162.8L721.0 2162.6L722.0 2162.2L723.0 2162.5L724.0 2162.1L725.0 2161.7L726.0 2162.2L727.0 2162.6L728.0 2161.6L729.0 2162.4L730.0 2161.8L731.0 2162.0L732.0 2161.8L733.0 2161.0L734.0 2162.0L735.0 2161.9L736.0 2160.8L737.0 2161.9L738.0 2162.1L739.0 2160.9L740.0 2161.5L741.0 2161.7L742.0 2161.1L743.0 2160.7L744.0 2160.3L745.0 2160.1L746.0 2160.3L747.0 2160.9L748.0 2161.4L749.0 2160.8L750.0 2160.1L751.0 2160.3L752.0 2160.8L753.0 2160.9L754.0 2160.2L755.0 2160.0L756.0 2159.8L757.0 2159.4L758.0 2159.6L759.0 2159.5L761.0 2159.2L763.0 2158.8L765.0 2158.4L767.0 2157.8L769.0 2157.2L771.0 2156.5L773.0 2155.8L775.0 2155.1L777.0 2154.4L779.0 2153.7L781.0 2153.0L783.0 2152.4L785.0 2151.9L787.0 2151.4L789.0 2150.9L791.0 2150.4L793.0 2149.9L795.0 2149.4L797.0 2149.0L799.0 2148.5L801.0 2148.1L803.0 2147.6L805.0 2147.2L807.0 2146.9L809.0 2146.5L811.0 2146.2L813.0 2146.0L815.0 2145.7L817.0 2145.6L819.0 2145.5L821.0 2145.4L823.0 2145.4L825.0 2145.5L827.0 2145.6L829.0 2145.7L831.0 2145.8L833.0 2145.9L835.0 2146.1L837.0 2146.2L839.0 2146.4L841.0 2146.6L843.0 2146.8L845.0 2147.0L847.0 2147.1L849.0 2147.3L851.0 2147.4L853.0 2147.6L855.0 2147.7L857.0 2147.8L859.0 2147.8L861.0 2147.8L863.0 2147.7L865.0 2147.5L867.0 2147.2L869.0 2146.7L871.0 2146.1L873.0 2145.3L875.0 2144.5L877.0 2143.6L879.0 2142.7L881.0 2141.8L883.0 2140.9L885.0 2140.1L887.0 2139.3L889.0 2138.5L891.0 2137.7L893.0 2136.9L895.0 2136.0L897.0 2135.2L899.0 2134.4L901.0 2133.5L903.0 2132.7L905.0 2131.9L907.0 2131.1L909.0 2130.3L911.0 2129.5L913.0 2128.8L915.0 2128.2L917.0 2127.5L919.0 2126.9L921.0 2126.3L923.0 2125.7L925.0 2125.1L927.0 2124.5L929.0 2123.9L931.0 2123.4L933.0 2122.8L935.0 2122.2L937.0 2121.6L939.0 2121.0L941.0 2120.4L943.0 2119.8L945.0 2119.3L947.0 2118.8L949.0 2118.2L951.0 2117.6L953.0 2117.0L955.0 2116.3L957.0 2115.5L959.0 2114.6L961.0 2113.6L963.0 2112.3L965.0 2110.7L967.0 2108.8L969.0 2106.5L971.0 2104.0L973.0 2101.2L975.0 2098.2L977.0 2094.8L979.0 2090.8L981.0 2086.3L983.0 2081.3L985.0 2076.2L987.0 2071.3L989.0 2066.7L991.0 2062.6L993.0 2058.8L995.0 2055.3L997.0 2052.0L999.0 2048.8L1001.0 2045.6L1003.0 2042.5L1005.0 2039.4L1007.0 2036.2L1009.0 2033.2L1011.0 2030.1L1013.0 2027.1L1015.0 2024.2L1017.0 2021.2L1019.0 2018.2L1021.0 2015.3L1023.0 2012.3L1025.0 2009.3L1027.0 2006.2L1029.0 2003.0L1031.0 1999.8L1033.0 1996.6L1035.0 1993.5L1037.0 1990.7L1039.0 1988.1L1041.0 1985.8L1043.0 1983.8L1045.0 1982.0L1047.0 1980.0L1049.0 1977.9L1051.0 1975.6L1053.0 1973.0L1055.0 1970.4L1057.0 1967.8L1059.0 1965.5L1061.0 1963.4L1063.0 1961.6L1065.0 1960.1L1067.0 1958.8L1069.0 1957.6L1071.0 1956.5L1073.0 1955.6L1075.0 1954.8L1077.0 1954.3L1079.0 1953.9L1081.0 1953.8L1083.0 1953.7L1085.0 1953.7L1087.0 1953.7L1089.0 1953.7L1091.0 1953.7L1093.0 1953.7L1095.0 1953.7L1097.0 1953.7L1099.0 1953.8L1101.0 1953.9L1103.0 1954.2L1105.0 1954.8L1107.0 1955.5L1109.0 1956.4L1111.0 1957.3L1113.0 1958.1L1115.0 1958.9L1117.0 1959.6L1119.0 1960.3L1121.0 1960.9L1123.0 1961.4L1125.0 1961.5L1127.0 1961.3L1129.0 1960.8L1131.0 1960.0L1133.0 1958.9L1135.0 1957.7L1137.0 1956.2L1139.0 1954.5L1141.0 1952.5L1143.0 1949.9L1145.0 1946.7L1147.0 1943.2L1149.0 1939.2L1151.0 1934.8L1153.0 1929.9L1155.0 1924.5L1157.0 1918.6L1159.0 1912.2L1161.0 1905.6L1163.0 1898.7L1165.0 1891.5L1167.0 1883.9L1169.0 1875.8L1171.0 1867.2L1173.0 1857.8L1175.0 1847.8L1177.0 1837.1L1179.0 1825.6L1181.0 1813.4L1183.0 1800.7L1185.0 1787.8L1187.0 1774.9L1189.0 1762.3L1191.0 1750.0L1193.0 1738.2L1195.0 1727.0L1197.0 1716.0L1199.0 1704.6L1201.0 1692.5L1203.0 1679.9L1205.0 1667.1L1207.0 1654.1L1209.0 1641.2L1211.0 1628.3L1213.0 1615.4L1215.0 1602.5L1217.0 1589.8L1219.0 1577.4L1221.0 1565.6L1223.0 1554.2L1225.0 1543.3L1227.0 1532.8L1229.0 1522.7L1231.0 1513.1L1233.0 1503.9L1235.0 1495.0L1237.0 1486.5L1239.0 1478.5L1241.0 1471.3L1243.0 1465.1L1245.0 1460.1L1247.0 1456.1L1249.0 1452.7L1251.0 1450.0L1253.0 1448.1L1255.0 1447.3L1257.0 1447.6L1259.0 1448.9L1261.0 1451.2L1263.0 1454.2L1265.0 1457.8L1267.0 1461.9L1269.0 1466.9L1271.0 1472.8L1273.0 1479.6L1275.0 1487.2L1277.0 1495.1L1279.0 1503.4L1281.0 1511.9L1283.0 1520.9L1285.0 1530.3L1287.0 1540.0L1289.0 1549.9L1291.0 1559.8L1293.0 1569.7L1295.0 1579.6L1297.0 1589.5L1299.0 1599.5L1301.0 1609.5L1303.0 1619.6L1305.0 1629.6L1307.0 1639.8L1309.0 1649.9L1311.0 1660.1L1313.0 1670.2L1315.0 1680.1L1317.0 1689.8L1319.0 1699.3L1321.0 1708.5L1323.0 1717.6L1325.0 1726.5L1327.0 1735.3L1329.0 1744.2L1331.0 1753.0L1333.0 1761.9L1335.0 1770.7L1337.0 1779.5L1339.0 1788.4L1341.0 1797.4L1343.0 1806.6L1345.0 1815.9L1347.0 1825.3L1349.0 1834.7L1351.0 1843.9L1353.0 1853.0L1355.0 1861.7L1357.0 1870.1L1359.0 1878.3L1361.0 1886.2L1363.0 1894.1L1365.0 1901.8L1367.0 1909.5L1369.0 1917.3L1371.0 1925.1L1373.0 1932.8L1375.0 1940.5L1377.0 1948.1L1379.0 1955.5L1381.0 1962.8L1383.0 1970.0L1385.0 1977.1L1387.0 1984.0L1389.0 1990.7L1391.0 1997.3L1393.0 2003.6L1395.0 2009.7L1397.0 2015.7L1399.0 2021.5L1401.0 2027.0L1402.0 2029.5L1403.0 2032.1L1404.0 2034.8L1405.0 2037.5L1406.0 2039.7L1407.0 2042.1L1408.0 2044.5L1409.0 2046.3L1410.0 2048.6L1411.0 2050.4L1412.0 2053.1L1413.0 2054.6L1414.0 2057.2L1415.0 2059.3L1416.0 2061.7L1417.0 2063.8L1418.0 2065.3L1419.0 2066.5L1420.0 2068.6L1421.0 2070.0L1422.0 2071.7L1423.0 2073.5L1424.0 2074.9L1425.0 2076.9L1426.0 2078.7L1427.0 2080.2L1428.0 2081.5L1429.0 2083.1L1430.0 2084.9L1431.0 2086.7L1432.0 2087.0L1433.0 2088.5L1434.0 2089.5L1435.0 2090.9L1436.0 2092.7L1437.0 2094.7L1438.0 2095.7L1439.0 2096.5L1440.0 2097.6L1441.0 2098.6L1442.0 2099.8L1443.0 2101.0L1444.0 2103.0L1445.0 2104.8L1446.0 2106.1L1447.0 2107.5L1448.0 2108.6L1449.0 2109.4L1450.0 2109.7L1451.0 2110.3L1452.0 2112.0L1453.0 2112.9L1454.0 2113.8L1455.0 2114.8L1456.0 2116.1L1457.0 2116.7L1458.0 2117.9L1459.0 2118.2L1460.0 2119.0L1461.0 2120.0L1462.0 2120.8L1463.0 2122.2L1464.0 2123.1L1465.0 2124.7L1466.0 2125.7L1467.0 2126.5L1468.0 2126.9L1469.0 2127.5L1470.0 2128.8L1471.0 2129.8L1472.0 2131.3L1473.0 2132.3L1474.0 2133.2L1475.0 2133.5L1476.0 2134.5L1477.0 2135.3L1478.0 2136.4L1479.0 2137.5L1480.0 2138.6L1481.0 2138.7L1482.0 2139.3L1483.0 2139.3L1484.0 2139.7L1485.0 2140.1L1486.0 2141.0L1487.0 2141.2L1488.0 2141.7L1489.0 2141.5L1490.0 2141.0L1491.0 2141.3L1492.0 2141.9L1493.0 2142.3L1494.0 2142.6L1495.0 2142.2L1496.0 2142.1L1497.0 2142.2L1498.0 2142.2L1499.0 2142.3L1500.0 2143.0L1501.0 2142.8L1502.0 2143.1L1503.0 2142.7L1504.0 2143.3L1505.0 2143.8L1506.0 2144.2L1507.0 2144.0L1508.0 2144.0L1509.0 2143.8L1510.0 2143.8L1511.0 2143.6L1512.0 2143.7L1513.0 2143.7L1514.0 2143.2L1515.0 2143.6L1516.0 2143.4L1517.0 2143.5L1518.0 2143.2L1519.0 2143.4L1520.0 2143.7L1521.0 2143.8L1522.0 2143.1L1523.0 2143.6L1524.0 2143.8L1525.0 2143.9L1526.0 2143.9L1527.0 2144.0L1528.0 2144.1L1529.0 2143.8L1530.0 2143.6L1531.0 2144.3L1532.0 2144.3L1533.0 2144.4L1534.0 2144.7L1535.0 2144.3L1536.0 2144.8L1537.0 2145.0L1538.0 2145.2L1539.0 2144.5L1540.0 2144.4L1541.0 2143.9L1542.0 2144.4L1543.0 2144.9L1544.0 2144.9L1545.0 2144.9L1546.0 2145.0L1547.0 2144.9L1548.0 2145.4L1549.0 2145.5L1550.0 2145.6L1551.0 2145.6L1552.0 2145.6L1553.0 2145.1L1554.0 2145.4L1555.0 2145.4L1556.0 2145.2L1557.0 2145.4" stroke="#008a06" stroke-width="8.0"/>
<path d="M191.0 2175.6L192.0 2175.7L193.0 2175.8L194.0 2175.9L195.0 2176.0L196.0 2175.9L197.0 2175.8L198.0 2175.9L199.0 2176.2L200.0 2176.3L201.0 2176.3L202.0 2176.5L203.0 2176.6L204.0 2176.9L205.0 2176.9L206.0 2177.0L207.0 2177.1L208.0 2177.2L209.0 2177.4L210.0 2177.3L211.0 2177.4L212.0 2177.2L213.0 2177.4L214.0 2177.1L215.0 2177.3L216.0 2177.5L217.0 2177.5L218.0 2177.6L219.0 2177.4L220.0 2177.5L221.0 2177.4L222.0 2177.8L223.0 2177.9L224.0 2178.2L225.0 2178.3L226.0 2178.2L227.0 2178.4L228.0 2178.4L229.0 2178.2L230.0 2177.8L231.0 2177.8L232.0 2177.6L233.0 2177.6L234.0 2178.0L235.0 2178.3L236.0 2178.4L237.0 2178.4L238.0 2178.1L239.0 2177.9L240.0 2178.3L241.0 2178.2L242.0 2178.4L243.0 2178.2L244.0 2178.1L245.0 2178.1L246.0 2177.8L247.0 2178.0L248.0 2178.3L249.0 2178.5L250.0 2178.4L251.0 2178.0L252.0 2177.9L253.0 2177.7L254.0 2177.9L255.0 2177.9L256.0 2177.8L257.0 2177.6L258.0 2177.5L259.0 2177.1L260.0 2176.9L261.0 2177.0L262.0 2177.0L263.0 2177.2L264.0 2177.3L265.0 2177.4L266.0 2177.4L267.0 2177.1L268.0 2177.0L269.0 2176.9L270.0 2176.8L271.0 2177.1L272.0 2176.7L273.0 2176.5L274.0 2176.0L275.0 2175.8L276.0 2175.7L277.0 2175.6L278.0 2175.7L279.0 2175.8L280.0 2175.7L281.0 2175.8L282.0 2176.0L283.0 2176.2L284.0 2175.6L285.0 2175.4L286.0 2174.9L287.0 2175.0L288.0 2175.1L289.0 2174.8L290.0 2174.8L291.0 2174.6L292.0 2175.0L293.0 2175.1L294.0 2175.0L295.0 2174.9L296.0 2174.6L297.0 2174.5L298.0 2174.4L299.0 2174.1L300.0 2173.8L301.0 2173.7L302.0 2173.8L303.0 2174.1L304.0 2174.2L305.0 2174.4L306.0 2174.7L307.0 2174.7L308.0 2174.4L309.0 2174.0L310.0 2173.5L311.0 2173.7L312.0 2173.7L313.0 2173.9L314.0 2173.8L315.0 2173.6L316.0 2173.6L317.0 2173.5L318.0 2173.6L319.0 2173.6L320.0 2173.3L321.0 2173.2L322.0 2173.0L323.0 2172.7L324.0 2173.1L325.0 2173.4L326.0 2173.6L327.0 2173.6L328.0 2173.4L329.0 2173.3L330.0 2173.3L331.0 2173.4L332.0 2173.3L333.0 2173.2L334.0 2172.9L335.0 2172.7L336.0 2172.7L337.0 2173.0L338.0 2172.9L339.0 2172.8L340.0 2172.7L341.0 2172.6L342.0 2172.7L343.0 2172.4L344.0 2172.7L345.0 2172.7L346.0 2172.9L347.0 2172.9L348.0 2172.8L349.0 2172.6L350.0 2172.4L351.0 2172.6L352.0 2172.8L353.0 2172.5L354.0 2172.4L355.0 2172.2L356.0 2172.0L357.0 2172.3L358.0 2172.5L359.0 2172.5L360.0 2172.7L361.0 2172.6L362.0 2172.4L363.0 2172.0L364.0 2172.0L365.0 2171.9L366.0 2171.8L367.0 2171.8L368.0 2171.9L369.0 2172.3L370.0 2172.0L371.0 2172.0L372.0 2172.0L373.0 2172.2L374.0 2172.2L375.0 2172.1L376.0 2172.1L377.0 2172.3L378.0 2172.4L379.0 2172.4L380.0 2171.9L381.0 2171.8L382.0 2171.8L383.0 2171.7L384.0 2171.9L385.0 2171.8L386.0 2171.7L387.0 2171.5L388.0 2171.5L389.0 2171.4L390.0 2171.4L391.0 2171.5L392.0 2171.5L393.0 2172.1L394.0 2172.2L395.0 2172.1L396.0 2172.0L397.0 2172.0L398.0 2172.1L399.0 2171.9L400.0 2171.7L401.0 2171.3L402.0 2171.2L403.0 2171.3L404.0 2171.4L405.0 2171.7L406.0 2171.7L407.0 2171.7L408.0 2171.7L409.0 2171.8L410.0 2171.7L411.0 2171.5L412.0 2171.4L413.0 2171.4L414.0 2171.2L415.0 2171.2L416.0 2171.2L417.0 2171.2L418.0 2171.4L419.0 2171.5L420.0 2171.5L421.0 2171.4L422.0 2171.5L423.0 2171.3L424.0 2171.3L425.0 2171.3L426.0 2171.2L427.0 2171.1L428.0 2171.0L429.0 2171.1L430.0 2170.9L431.0 2170.8L432.0 2171.0L433.0 2170.7L434.0 2170.9L435.0 2170.8L436.0 2170.7L437.0 2170.6L438.0 2170.4L439.0 2170.5L440.0 2170.6L441.0 2170.3L442.0 2170.1L443.0 2169.9L444.0 2169.7L445.0 2169.5L446.0 2169.5L447.0 2169.7L448.0 2170.1L449.0 2170.1L450.0 2170.1L451.0 2169.6L452.0 2169.7L453.0 2169.5L454.0 2169.4L455.0 2169.1L456.0 2168.9L457.0 2168.5L458.0 2168.7L459.0 2168.6L460.0 2168.6L461.0 2168.5L462.0 2168.3L463.0 2168.0L464.0 2167.9L465.0 2168.0L466.0 2167.9L467.0 2167.8L468.0 2167.6L469.0 2167.6L470.0 2167.5L471.0 2167.8L472.0 2167.9L473.0 2167.7L474.0 2167.5L475.0 2167.2L476.0 2167.2L477.0 2167.2L478.0 2167.2L479.0 2167.0L481.0 2166.8L482.0 2166.7L483.0 2166.4L484.0 2166.2L485.0 2166.5L486.0 2166.2L487.0 2166.3L488.0 2166.5L489.0 2166.0L490.0 2166.5L491.0 2166.4L492.0 2166.5L493.0 2166.0L494.0 2166.2L495.0 2165.9L496.0 2165.9L497.0 2165.5L498.0 2165.3L499.0 2164.7L500.0 2165.5L501.0 2165.4L502.0 2165.5L503.0 2165.1L504.0 2165.3L505.0 2165.8L506.0 2166.1L507.0 2165.9L508.0 2165.6L509.0 2164.6L510.0 2164.6L511.0 2164.2L512.0 2164.7L513.0 2165.5L514.0 2165.6L515.0 2165.9L516.0 2165.2L517.0 2165.5L518.0 2165.2L519.0 2166.1L520.0 2166.3L521.0 2166.3L522.0 2166.1L523.0 2165.3L524.0 2164.7L525.0 2164.7L526.0 2165.0L527.0 2165.2L528.0 2164.9L529.0 2165.0L530.0 2165.0L531.0 2165.1L532.0 2165.7L533.0 2166.1L534.0 2166.5L535.0 2166.9L536.0 2166.7L537.0 2166.3L538.0 2165.8L539.0 2165.4L540.0 2166.0L541.0 2165.4L542.0 2165.7L543.0 2165.7L544.0 2166.3L545.0 2166.8L546.0 2167.0L547.0 2167.2L548.0 2167.4L549.0 2167.0L550.0 2167.0L551.0 2166.6L552.0 2166.4L553.0 2166.9L554.0 2167.1L555.0 2167.3L556.0 2166.9L557.0 2166.9L558.0 2166.3L559.0 2166.2L560.0 2166.6L561.0 2167.0L562.0 2167.1L563.0 2167.6L564.0 2168.0L565.0 2168.0L566.0 2168.2L567.0 2168.7L568.0 2169.2L569.0 2168.5L570.0 2167.9L571.0 2167.7L572.0 2167.4L573.0 2167.6L574.0 2168.0L575.0 2167.8L576.0 2168.6L577.0 2169.8L578.0 2170.2L579.0 2170.3L580.0 2170.2L581.0 2169.8L582.0 2169.8L583.0 2169.6L584.0 2170.1L585.0 2169.9L586.0 2169.8L587.0 2170.3L588.0 2170.0L589.0 2170.6L590.0 2171.1L591.0 2171.0L592.0 2171.2L593.0 2171.2L594.0 2171.2L595.0 2171.1L596.0 2171.0L597.0 2171.1L598.0 2171.0L599.0 2171.2L601.0 2171.0L602.0 2171.0L603.0 2171.4L604.0 2171.9L605.0 2172.0L606.0 2172.0L607.0 2170.5L608.0 2170.5L609.0 2170.7L610.0 2170.9L611.0 2171.3L612.0 2172.7L613.0 2171.8L614.0 2171.1L615.0 2170.5L616.0 2171.1L617.0 2171.8L618.0 2170.8L619.0 2171.4L620.0 2170.3L621.0 2170.2L622.0 2170.8L623.0 2170.6L624.0 2171.1L625.0 2171.7L626.0 2171.1L627.0 2170.6L628.0 2170.5L629.0 2171.6L630.0 2172.4L631.0 2171.3L632.0 2170.8L633.0 2171.9L634.0 2172.3L635.0 2171.7L636.0 2171.6L637.0 2171.1L638.0 2170.8L639.0 2172.2L640.0 2171.4L641.0 2170.8L642.0 2170.1L643.0 2170.2L644.0 2171.6L645.0 2171.9L646.0 2171.5L647.0 2171.4L648.0 2170.8L649.0 2170.8L650.0 2171.0L651.0 2170.5L652.0 2170.4L653.0 2171.9L654.0 2172.0L655.0 2173.2L656.0 2173.3L657.0 2171.5L658.0 2172.3L659.0 2172.5L660.0 2173.2L661.0 2171.8L662.0 2171.4L663.0 2171.0L664.0 2172.3L665.0 2172.5L666.0 2172.9L667.0 2172.2L668.0 2172.3L669.0 2172.0L670.0 2171.4L671.0 2171.4L672.0 2172.3L673.0 2172.9L674.0 2172.4L675.0 2171.4L676.0 2171.3L677.0 2171.1L678.0 2171.3L679.0 2172.0L680.0 2171.9L681.0 2172.2L682.0 2170.9L683.0 2170.5L684.0 2170.5L685.0 2171.2L686.0 2171.8L687.0 2171.8L688.0 2171.2L689.0 2169.8L690.0 2170.3L691.0 2170.1L692.0 2171.0L693.0 2170.6L694.0 2171.0L695.0 2170.1L696.0 2169.6L697.0 2169.7L698.0 2169.7L699.0 2168.4L700.0 2168.8L701.0 2168.8L702.0 2168.4L703.0 2168.7L704.0 2168.8L705.0 2168.6L706.0 2169.7L707.0 2169.3L708.0 2168.3L709.0 2168.4L710.0 2169.5L711.0 2168.5L712.0 2168.7L713.0 2168.3L714.0 2167.5L715.0 2165.9L716.0 2166.7L717.0 2166.2L718.0 2166.4L719.0 2167.0L720.0 2166.1L721.0 2164.8L722.0 2164.9L723.0 2165.0L724.0 2165.6L725.0 2164.4L726.0 2163.9L727.0 2163.4L728.0 2163.9L729.0 2163.9L730.0 2163.6L731.0 2163.4L732.0 2162.7L733.0 2162.4L734.0 2162.2L735.0 2162.0L737.0 2161.4L739.0 2160.7L741.0 2160.0L743.0 2159.2L745.0 2158.4L747.0 2157.6L749.0 2156.7L751.0 2155.8L753.0 2154.9L755.0 2154.1L757.0 2153.2L759.0 2152.4L761.0 2151.8L762.0 2151.6L763.0 2150.9L764.0 2150.4L765.0 2150.3L766.0 2149.9L767.0 2149.1L768.0 2149.3L769.0 2147.8L770.0 2146.8L771.0 2146.5L772.0 2146.5L773.0 2147.0L774.0 2146.3L775.0 2146.0L776.0 2146.1L777.0 2145.4L778.0 2145.4L779.0 2145.0L780.0 2146.0L781.0 2145.5L782.0 2144.6L783.0 2143.7L784.0 2143.3L785.0 2143.6L786.0 2142.9L787.0 2142.1L788.0 2142.3L789.0 2141.1L790.0 2141.5L791.0 2141.1L792.0 2140.5L793.0 2140.1L794.0 2139.6L795.0 2140.0L796.0 2140.9L797.0 2141.2L798.0 2140.6L799.0 2139.8L800.0 2139.2L801.0 2139.9L802.0 2139.4L803.0 2139.0L804.0 2137.6L805.0 2137.0L806.0 2136.9L807.0 2137.2L808.0 2136.8L809.0 2136.7L810.0 2136.9L811.0 2136.8L812.0 2136.6L813.0 2136.2L814.0 2135.6L815.0 2135.6L816.0 2134.6L817.0 2134.6L818.0 2134.1L819.0 2133.2L820.0 2132.6L821.0 2132.5L822.0 2132.0L823.0 2131.9L824.0 2131.7L825.0 2131.3L826.0 2130.1L827.0 2130.0L828.0 2130.1L829.0 2130.1L830.0 2129.5L831.0 2129.4L832.0 2128.9L833.0 2128.1L834.0 2128.0L835.0 2128.5L836.0 2128.9L837.0 2128.2L838.0 2127.1L839.0 2125.8L840.0 2125.3L841.0 2125.3L842.0 2126.1L843.0 2125.2L844.0 2125.0L845.0 2124.8L846.0 2125.7L847.0 2126.4L848.0 2126.6L849.0 2126.6L850.0 2126.2L851.0 2125.2L852.0 2125.2L853.0 2124.4L854.0 2123.3L855.0 2123.5L856.0 2123.4L857.0 2123.1L858.0 2123.2L859.0 2122.3L860.0 2122.3L861.0 2123.1L862.0 2123.5L863.0 2123.2L864.0 2123.0L865.0 2122.3L866.0 2122.2L867.0 2121.1L868.0 2121.3L869.0 2120.7L870.0 2119.9L871.0 2118.6L872.0 2117.7L873.0 2117.0L874.0 2116.5L875.0 2116.1L876.0 2113.9L877.0 2112.6L878.0 2112.0L879.0 2111.4L880.0 2110.8L881.0 2110.6L882.0 2110.2L883.0 2109.4L884.0 2106.7L885.0 2106.1L886.0 2104.8L887.0 2102.6L888.0 2101.6L889.0 2101.3L890.0 2101.5L891.0 2099.9L892.0 2098.8L893.0 2097.6L894.0 2097.0L895.0 2096.5L896.0 2095.6L897.0 2093.9L898.0 2092.6L899.0 2090.9L900.0 2088.8L901.0 2087.3L902.0 2085.7L903.0 2085.0L904.0 2084.2L905.0 2083.1L906.0 2082.5L907.0 2081.9L908.0 2081.2L909.0 2079.3L910.0 2078.8L911.0 2078.4L912.0 2077.6L913.0 2075.9L914.0 2074.9L915.0 2073.3L916.0 2072.0L917.0 2072.6L918.0 2070.7L919.0 2069.4L920.0 2067.9L921.0 2067.3L922.0 2065.8L923.0 2064.4L924.0 2063.1L925.0 2063.4L926.0 2062.3L927.0 2062.2L928.0 2061.1L929.0 2060.8L930.0 2059.6L931.0 2058.2L932.0 2057.2L933.0 2055.3L934.0 2053.8L935.0 2051.6L936.0 2050.1L937.0 2048.9L938.0 2048.3L939.0 2048.2L940.0 2047.2L941.0 2044.5L942.0 2042.5L943.0 2041.0L944.0 2039.9L945.0 2038.7L946.0 2036.8L947.0 2035.2L948.0 2034.4L949.0 2033.1L950.0 2031.6L951.0 2030.0L952.0 2028.1L953.0 2025.5L954.0 2023.5L955.0 2021.9L956.0 2019.5L957.0 2018.5L958.0 2017.3L959.0 2016.0L960.0 2014.3L961.0 2011.5L962.0 2010.0L963.0 2009.2L964.0 2007.0L965.0 2005.3L966.0 2002.9L967.0 2001.0L968.0 1997.9L969.0 1996.6L970.0 1994.3L971.0 1992.4L972.0 1989.6L973.0 1987.2L974.0 1985.5L975.0 1982.8L976.0 1980.8L977.0 1977.2L978.0 1974.3L979.0 1970.7L980.0 1968.7L981.0 1965.9L982.0 1964.6L983.0 1961.2L984.0 1958.9L985.0 1956.0L986.0 1953.5L987.0 1951.1L988.0 1949.4L989.0 1947.1L990.0 1945.0L991.0 1943.5L992.0 1940.9L993.0 1938.2L994.0 1937.0L995.0 1934.8L996.0 1934.3L997.0 1931.6L998.0 1930.1L999.0 1927.8L1000.0 1924.6L1001.0 1923.4L1002.0 1922.5L1003.0 1920.1L1004.0 1918.9L1005.0 1917.4L1006.0 1914.9L1007.0 1913.6L1008.0 1910.5L1009.0 1909.3L1010.0 1907.3L1011.0 1905.7L1012.0 1903.9L1013.0 1902.5L1014.0 1900.4L1015.0 1898.6L1016.0 1898.2L1017.0 1897.3L1018.0 1895.3L1019.0 1893.7L1020.0 1892.3L1021.0 1890.5L1022.0 1889.2L1023.0 1888.4L1024.0 1886.1L1025.0 1884.1L1026.0 1882.2L1027.0 1881.5L1028.0 1880.8L1029.0 1879.7L1030.0 1878.3L1031.0 1878.3L1032.0 1876.9L1033.0 1875.5L1034.0 1874.0L1035.0 1872.7L1036.0 1871.1L1037.0 1870.2L1038.0 1868.5L1039.0 1866.8L1040.0 1865.0L1041.0 1863.1L1042.0 1861.8L1043.0 1860.2L1044.0 1859.0L1045.0 1855.9L1046.0 1854.9L1047.0 1853.1L1048.0 1851.9L1049.0 1849.7L1050.0 1848.6L1051.0 1848.0L1052.0 1846.8L1053.0 1844.8L1054.0 1842.7L1055.0 1840.9L1056.0 1840.6L1057.0 1840.4L1058.0 1839.7L1059.0 1837.6L1060.0 1835.6L1061.0 1834.1L1062.0 1832.5L1063.0 1830.8L1064.0 1829.8L1065.0 1828.9L1066.0 1829.1L1067.0 1828.8L1068.0 1829.3L1069.0 1828.5L1070.0 1828.3L1071.0 1826.6L1072.0 1826.6L1073.0 1825.7L1074.0 1825.7L1075.0 1825.7L1076.0 1825.7L1077.0 1825.9L1078.0 1826.5L1079.0 1826.8L1080.0 1826.7L1081.0 1826.4L1082.0 1826.4L1083.0 1826.5L1084.0 1826.1L1085.0 1826.0L1086.0 1826.0L1087.0 1827.4L1088.0 1827.5L1089.0 1828.8L1090.0 1829.3L1091.0 1831.0L1092.0 1831.4L1093.0 1831.1L1094.0 1831.9L1095.0 1831.3L1096.0 1831.3L1097.0 1831.7L1098.0 1832.5L1099.0 1833.2L1100.0 1833.1L1101.0 1833.6L1102.0 1832.8L1103.0 1833.1L1104.0 1833.5L1105.0 1834.1L1106.0 1834.0L1107.0 1834.4L1108.0 1834.7L1109.0 1835.5L1111.0 1837.8L1113.0 1840.3L1115.0 1843.0L1117.0 1846.0L1119.0 1849.1L1121.0 1852.4L1123.0 1855.7L1125.0 1858.7L1127.0 1861.6L1129.0 1864.2L1131.0 1866.7L1133.0 1869.0L1135.0 1871.0L1137.0 1872.9L1139.0 1874.5L1141.0 1876.1L1143.0 1877.5L1145.0 1878.8L1147.0 1879.8L1149.0 1880.5L1151.0 1880.8L1153.0 1880.7L1155.0 1880.2L1157.0 1879.4L1159.0 1878.2L1161.0 1876.9L1163.0 1875.3L1165.0 1873.3L1167.0 1870.8L1169.0 1867.7L1171.0 1864.2L1173.0 1860.3L1175.0 1856.1L1177.0 1851.5L1179.0 1846.4L1181.0 1840.9L1183.0 1835.0L1185.0 1828.9L1187.0 1822.3L1189.0 1815.4L1191.0 1808.1L1193.0 1800.5L1195.0 1792.8L1197.0 1785.2L1199.0 1777.7L1201.0 1770.2L1203.0 1762.6L1205.0 1754.9L1207.0 1746.9L1209.0 1738.6L1211.0 1730.2L1213.0 1721.6L1215.0 1713.0L1217.0 1704.6L1219.0 1696.3L1221.0 1688.3L1223.0 1680.3L1225.0 1672.5L1227.0 1665.0L1229.0 1657.8L1231.0 1650.9L1233.0 1644.3L1235.0 1638.0L1237.0 1631.9L1239.0 1626.2L1241.0 1621.1L1243.0 1616.7L1245.0 1613.0L1247.0 1609.9L1249.0 1607.2L1251.0 1605.1L1253.0 1603.8L1255.0 1603.3L1257.0 1603.7L1259.0 1604.9L1261.0 1606.7L1263.0 1608.9L1265.0 1611.6L1267.0 1614.7L1269.0 1618.5L1271.0 1623.2L1273.0 1628.6L1275.0 1634.5L1277.0 1640.8L1279.0 1647.2L1281.0 1653.7L1283.0 1660.5L1285.0 1667.5L1287.0 1674.6L1289.0 1681.8L1291.0 1689.0L1293.0 1696.0L1295.0 1703.0L1297.0 1709.8L1299.0 1716.6L1301.0 1723.6L1303.0 1730.8L1305.0 1738.4L1307.0 1746.3L1309.0 1754.6L1311.0 1763.2L1313.0 1772.0L1315.0 1780.9L1317.0 1789.7L1319.0 1798.3L1321.0 1806.7L1323.0 1814.7L1325.0 1822.4L1327.0 1830.0L1329.0 1837.3L1331.0 1844.6L1333.0 1851.9L1335.0 1859.1L1337.0 1866.4L1339.0 1873.7L1341.0 1881.0L1343.0 1888.3L1345.0 1895.6L1347.0 1902.9L1349.0 1910.2L1351.0 1917.5L1353.0 1924.8L1355.0 1932.2L1357.0 1939.7L1359.0 1947.1L1361.0 1954.6L1363.0 1961.9L1365.0 1969.1L1367.0 1976.2L1369.0 1983.1L1371.0 1989.8L1372.0 1992.8L1373.0 1995.3L1374.0 1998.5L1375.0 2003.2L1376.0 2008.0L1377.0 2011.1L1378.0 2013.5L1379.0 2013.8L1380.0 2015.8L1381.0 2019.1L1382.0 2024.1L1383.0 2028.1L1384.0 2029.7L1385.0 2034.0L1386.0 2034.6L1387.0 2037.9L1388.0 2039.1L1389.0 2043.1L1390.0 2046.4L1391.0 2049.5L1392.0 2050.2L1393.0 2052.5L1394.0 2053.5L1395.0 2056.9L1396.0 2058.3L1397.0 2060.4L1398.0 2062.0L1399.0 2063.8L1401.0 2067.0L1402.0 2068.5L1403.0 2069.7L1404.0 2070.8L1405.0 2072.7L1406.0 2073.9L1407.0 2076.1L1408.0 2077.1L1409.0 2078.9L1410.0 2077.2L1411.0 2080.1L1412.0 2082.8L1413.0 2084.8L1414.0 2088.8L1415.0 2089.9L1416.0 2091.1L1417.0 2093.0L1418.0 2093.0L1419.0 2095.0L1420.0 2099.2L1421.0 2098.9L1422.0 2105.6L1423.0 2105.6L1424.0 2109.8L1425.0 2111.0L1426.0 2118.9L1427.0 2122.8L1428.0 2120.0L1429.0 2123.5L1430.0 2122.2L1431.0 2122.4L1432.0 2123.6L1433.0 2128.2L1434.0 2128.9L1435.0 2130.0L1436.0 2128.0L1437.0 2133.0L1438.0 2129.9L1439.0 2132.3L1440.0 2137.2L1441.0 2135.3L1442.0 2137.3L1443.0 2135.1L1444.0 2135.4L1445.0 2141.0L1446.0 2138.9L1447.0 2143.8L1448.0 2144.0L1449.0 2141.0L1450.0 2140.9L1451.0 2143.5L1452.0 2143.7L1453.0 2141.9L1454.0 2145.3L1455.0 2147.3L1456.0 2151.2L1457.0 2145.1L1458.0 2149.6L1459.0 2147.3L1460.0 2149.5L1461.0 2143.2L1462.0 2149.2L1463.0 2146.8L1464.0 2150.1L1465.0 2148.7L1466.0 2148.8L1467.0 2150.9L1468.0 2152.3L1469.0 2152.8L1470.0 2150.5L1471.0 2151.4L1472.0 2147.5L1473.0 2148.1L1474.0 2150.9L1475.0 2148.6L1476.0 2149.7L1477.0 2142.9L1478.0 2147.5L1479.0 2148.7L1480.0 2148.0L1481.0 2144.1L1482.0 2146.2L1483.0 2141.1L1484.0 2140.3L1485.0 2141.9L1486.0 2141.8L1487.0 2140.6L1488.0 2142.1L1489.0 2144.8L1490.0 2143.9L1491.0 2141.0L1492.0 2141.6L1493.0 2146.4L1494.0 2143.4L1495.0 2140.3L1496.0 2142.1L1497.0 2141.7L1498.0 2136.0L1499.0 2137.9L1500.0 2143.2L1501.0 2141.9L1502.0 2139.9L1503.0 2140.2L1504.0 2141.7L1505.0 2144.8L1506.0 2143.3L1507.0 2143.6L1508.0 2140.3L1509.0 2142.2L1510.0 2143.4L1511.0 2145.9L1512.0 2143.2L1513.0 2143.7L1514.0 2145.9L1515.0 2147.3L1516.0 2143.3L1517.0 2145.4L1518.0 2147.6L1519.0 2150.9L1520.0 2147.7L1521.0 2149.1L1522.0 2148.4L1523.0 2153.6L1524.0 2152.2L1525.0 2152.9L1526.0 2155.7L1527.0 2153.3L1528.0 2153.5L1529.0 2152.1L1530.0 2153.8L1531.0 2150.9L1532.0 2151.0L1533.0 2150.5L1534.0 2158.0L1535.0 2158.7L1536.0 2158.4L1537.0 2156.6L1538.0 2154.3L1539.0 2153.0L1540.0 2156.5L1541.0 2155.8L1542.0 2157.1L1543.0 2153.9L1544.0 2153.1L1545.0 2154.0L1546.0 2149.8L1547.0 2150.9L1548.0 2150.3L1549.0 2151.4L1550.0 2150.7L1551.0 2155.0L1552.0 2155.0L1553.0 2160.0L1554.0 2156.3L1555.0 2156.1L1556.0 2152.3L1557.0 2153.2" stroke="#f482f4" stroke-width="7.6"/>
<path d="M1401.0 2067.8L1402.0 2070.6L1403.0 2070.7L1404.0 2071.5L1405.0 2066.9L1406.0 2074.1L1407.0 2073.8L1408.0 2073.6L1409.0 2073.9L1410.0 2081.2L1411.0 2074.3L1412.0 2086.6L1413.0 2083.1L1414.0 2085.9L1415.0 2088.6L1416.0 2089.7L1417.0 2091.3L1418.0 2089.8L1419.0 2095.9L1420.0 2101.0L1421.0 2110.1L1422.0 2105.7L1423.0 2106.4L1424.0 2112.8L1425.0 2109.5L1426.0 2117.7L1427.0 2117.6L1428.0 2126.9L1429.0 2116.4L1430.0 2119.1L1431.0 2121.8L1432.0 2131.1L1433.0 2128.1L1434.0 2132.7L1435.0 2129.2L1436.0 2134.3L1437.0 2126.9L1438.0 2131.6L1439.0 2129.6L1440.0 2130.5L1441.0 2145.0L1442.0 2137.4L1443.0 2143.1L1444.0 2134.3L1445.0 2125.3L1446.0 2138.8L1447.0 2140.5L1448.0 2135.2L1449.0 2145.5L1450.0 2155.5L1451.0 2141.1L1452.0 2143.7L1453.0 2132.5L1454.0 2141.4L1455.0 2146.5L1456.0 2152.3L1457.0 2145.3L1458.0 2144.6L1459.0 2156.2L1460.0 2156.8L1461.0 2148.1L1462.0 2137.9L1463.0 2149.5L1464.0 2160.7L1465.0 2145.2L1466.0 2145.1L1467.0 2146.9L1468.0 2145.1L1469.0 2161.6L1470.0 2147.6L1471.0 2149.2L1472.0 2137.3L1473.0 2156.2L1474.0 2151.6L1475.0 2147.4L1476.0 2146.8L1477.0 2153.4L1478.0 2155.8L1479.0 2148.6L1480.0 2152.2L1481.0 2140.0L1482.0 2144.3L1483.0 2147.1L1484.0 2153.0L1485.0 2137.3L1486.0 2132.2L1487.0 2144.2L1488.0 2143.4L1489.0 2148.0L1490.0 2137.5L1491.0 2142.1L1492.0 2152.3L1493.0 2132.1L1494.0 2141.9L1495.0 2139.3L1496.0 2146.1L1497.0 2132.7L1498.0 2140.8L1499.0 2141.5L1500.0 2141.0L1501.0 2141.2L1502.0 2137.2L1503.0 2137.8L1504.0 2154.7L1505.0 2129.3L1506.0 2140.9L1507.0 2150.6L1508.0 2142.6L1509.0 2136.7L1510.0 2147.5L1511.0 2141.8L1512.0 2145.4L1513.0 2132.2L1514.0 2155.4L1515.0 2151.0L1516.0 2148.5L1517.0 2154.4L1518.0 2157.2L1519.0 2152.1L1520.0 2149.2L1521.0 2149.2L1522.0 2153.8L1523.0 2145.4L1524.0 2162.2L1525.0 2142.9L1526.0 2162.7L1527.0 2165.9L1528.0 2139.5L1529.0 2150.7L1530.0 2152.1L1531.0 2145.2L1532.0 2153.6L1533.0 2154.8L1534.0 2147.2L1535.0 2166.8L1536.0 2154.4L1537.0 2149.1L1538.0 2145.6L1539.0 2166.7L1540.0 2155.8L1541.0 2144.4L1542.0 2153.1L1543.0 2156.8L1544.0 2163.2L1545.0 2164.4L1546.0 2157.3L1547.0 2160.2L1548.0 2155.3L1549.0 2164.8L1550.0 2141.6L1551.0 2154.8L1552.0 2157.6L1553.0 2153.5L1554.0 2157.8L1555.0 2152.4L1556.0 2152.2L1557.0 2154.9" stroke="#f482f4" stroke-width="2.6" stroke-linejoin="miter" stroke-miterlimit="6"/>
<path d="M191.0 2175.0L192.0 2175.1L193.0 2175.2L194.0 2175.3L195.0 2175.4L196.0 2175.3L197.0 2175.2L198.0 2175.3L199.0 2175.6L200.0 2175.7L201.0 2175.7L202.0 2175.9L203.0 2176.0L204.0 2176.3L205.0 2176.3L206.0 2176.4L207.0 2176.5L208.0 2176.6L209.0 2176.8L210.0 2176.7L211.0 2176.8L212.0 2176.6L213.0 2176.8L214.0 2176.5L215.0 2176.7L216.0 2176.9L217.0 2176.9L218.0 2177.0L219.0 2176.8L220.0 2176.9L221.0 2176.8L222.0 2177.2L223.0 2177.3L224.0 2177.6L225.0 2177.7L226.0 2177.6L227.0 2177.8L228.0 2177.8L229.0 2177.6L230.0 2177.2L231.0 2177.2L232.0 2177.0L233.0 2177.0L234.0 2177.4L235.0 2177.7L236.0 2177.8L237.0 2177.8L238.0 2177.5L239.0 2177.3L240.0 2177.7L241.0 2177.6L242.0 2177.8L243.0 2177.6L244.0 2177.5L245.0 2177.5L246.0 2177.2L247.0 2177.4L248.0 2177.7L249.0 2177.9L250.0 2177.8L251.0 2177.4L252.0 2177.3L253.0 2177.1L254.0 2177.3L255.0 2177.3L256.0 2177.2L257.0 2177.0L258.0 2176.9L259.0 2176.5L260.0 2176.3L261.0 2176.4L262.0 2176.4L263.0 2176.6L264.0 2176.7L265.0 2176.8L266.0 2176.8L267.0 2176.5L268.0 2176.4L269.0 2176.3L270.0 2176.2L271.0 2176.5L272.0 2176.1L273.0 2175.9L274.0 2175.4L275.0 2175.2L276.0 2175.1L277.0 2175.0L278.0 2175.1L279.0 2175.2L280.0 2175.1L281.0 2175.2L282.0 2175.4L283.0 2175.6L284.0 2175.0L285.0 2174.8L286.0 2174.3L287.0 2174.4L288.0 2174.5L289.0 2174.2L290.0 2174.2L291.0 2174.0L292.0 2174.4L293.0 2174.5L294.0 2174.4L295.0 2174.3L296.0 2174.0L297.0 2173.9L298.0 2173.8L299.0 2173.5L300.0 2173.2L301.0 2173.1L302.0 2173.2L303.0 2173.5L304.0 2173.6L305.0 2173.8L306.0 2174.1L307.0 2174.1L308.0 2173.8L309.0 2173.4L310.0 2172.9L311.0 2173.1L312.0 2173.1L313.0 2173.3L314.0 2173.2L315.0 2173.0L316.0 2173.0L317.0 2172.9L318.0 2173.0L319.0 2173.0L320.0 2172.7L321.0 2172.6L322.0 2172.4L323.0 2172.1L324.0 2172.5L325.0 2172.8L326.0 2173.0L327.0 2173.0L328.0 2172.8L329.0 2172.7L330.0 2172.7L331.0 2172.8L332.0 2172.7L333.0 2172.6L334.0 2172.3L335.0 2172.1L336.0 2172.1L337.0 2172.4L338.0 2172.3L339.0 2172.2L340.0 2172.1L341.0 2172.0L342.0 2172.1L343.0 2171.8L344.0 2172.1L345.0 2172.1L346.0 2172.3L347.0 2172.3L348.0 2172.2L349.0 2172.0L350.0 2171.8L351.0 2172.0L352.0 2172.2L353.0 2171.9L354.0 2171.8L355.0 2171.6L356.0 2171.4L357.0 2171.7L358.0 2171.9L359.0 2171.9L360.0 2172.1L361.0 2172.0L362.0 2171.8L363.0 2171.4L364.0 2171.4L365.0 2171.3L366.0 2171.2L367.0 2171.2L368.0 2171.3L369.0 2171.7L370.0 2171.4L371.0 2171.4L372.0 2171.4L373.0 2171.6L374.0 2171.6L375.0 2171.5L376.0 2171.5L377.0 2171.7L378.0 2171.8L379.0 2171.8L380.0 2171.3L381.0 2171.2L382.0 2171.2L383.0 2171.1L384.0 2171.3L385.0 2171.2L386.0 2171.1L387.0 2170.9L388.0 2170.9L389.0 2170.8L390.0 2170.8L391.0 2170.9L392.0 2170.9L393.0 2171.5L394.0 2171.6L395.0 2171.5L396.0 2171.4L397.0 2171.4L398.0 2171.5L399.0 2171.3L400.0 2171.1L401.0 2170.7L402.0 2170.6L403.0 2170.7L404.0 2170.8L405.0 2171.1L406.0 2171.1L407.0 2171.1L408.0 2171.1L409.0 2171.2L410.0 2171.1L411.0 2170.9L412.0 2170.8L413.0 2170.8L414.0 2170.6L415.0 2170.6L416.0 2170.6L417.0 2170.6L418.0 2170.8L419.0 2170.9L420.0 2170.9L421.0 2170.8L422.0 2170.9L423.0 2170.7L424.0 2170.7L425.0 2170.7L426.0 2170.6L427.0 2170.5L428.0 2170.4L429.0 2170.5L430.0 2170.3L431.0 2170.2L432.0 2170.4L433.0 2170.1L434.0 2170.3L435.0 2170.2L436.0 2170.1L437.0 2170.0L438.0 2169.8L439.0 2169.9L440.0 2170.0L441.0 2169.7L442.0 2169.5L443.0 2169.3L444.0 2169.1L445.0 2168.9L446.0 2168.9L447.0 2169.1L448.0 2169.5L449.0 2169.5L450.0 2169.5L451.0 2169.0L452.0 2169.1L453.0 2168.9L454.0 2168.8L455.0 2168.5L456.0 2168.3L457.0 2167.9L458.0 2168.1L459.0 2168.0L460.0 2168.0L461.0 2167.9L462.0 2167.7L463.0 2167.4L464.0 2167.3L465.0 2167.4L466.0 2167.3L467.0 2167.2L468.0 2167.0L469.0 2167.0L470.0 2166.9L471.0 2167.2L472.0 2167.3L473.0 2167.1L474.0 2166.9L475.0 2166.6L476.0 2166.6L477.0 2166.6L478.0 2166.6L479.0 2166.4L481.0 2166.2L482.0 2166.1L483.0 2165.8L484.0 2165.6L485.0 2165.9L486.0 2165.6L487.0 2165.7L488.0 2165.9L489.0 2165.4L490.0 2165.9L491.0 2165.8L492.0 2165.9L493.0 2165.4L494.0 2165.6L495.0 2165.3L496.0 2165.3L497.0 2164.9L498.0 2164.7L499.0 2164.1L500.0 2164.9L501.0 2164.8L502.0 2164.9L503.0 2164.5L504.0 2164.7L505.0 2165.2L506.0 2165.5L507.0 2165.3L508.0 2165.0L509.0 2164.0L510.0 2164.0L511.0 2163.6L512.0 2164.1L513.0 2164.9L514.0 2165.0L515.0 2165.3L516.0 2164.6L517.0 2164.9L518.0 2164.6L519.0 2165.5L520.0 2165.7L521.0 2165.7L522.0 2165.5L523.0 2164.7L524.0 2164.1L525.0 2164.1L526.0 2164.4L527.0 2164.6L528.0 2164.3L529.0 2164.4L530.0 2164.4L531.0 2164.5L532.0 2165.1L533.0 2165.5L534.0 2165.9L535.0 2166.3L536.0 2166.1L537.0 2165.7L538.0 2165.2L539.0 2164.8L540.0 2165.4L541.0 2164.8L542.0 2165.1L543.0 2165.1L544.0 2165.7L545.0 2166.2L546.0 2166.4L547.0 2166.6L548.0 2166.8L549.0 2166.4L550.0 2166.4L551.0 2166.0L552.0 2165.8L553.0 2166.3L554.0 2166.5L555.0 2166.7L556.0 2166.3L557.0 2166.3L558.0 2165.7L559.0 2165.6L560.0 2166.0L561.0 2166.4L562.0 2166.5L563.0 2167.0L564.0 2167.4L565.0 2167.4L566.0 2167.6L567.0 2168.1L568.0 2168.6L569.0 2167.9L570.0 2167.3L571.0 2167.1L572.0 2166.8L573.0 2167.0L574.0 2167.4L575.0 2167.2L576.0 2168.0L577.0 2169.2L578.0 2169.6L579.0 2169.7L580.0 2169.6L581.0 2169.2L582.0 2169.2L583.0 2169.0L584.0 2169.5L585.0 2169.3L586.0 2169.2L587.0 2169.7L588.0 2169.4L589.0 2170.0L590.0 2170.5L591.0 2170.4L592.0 2170.6L593.0 2170.6L594.0 2170.6L595.0 2170.5L596.0 2170.4L597.0 2170.5L598.0 2170.4L599.0 2170.6L601.0 2170.4L602.0 2170.4L603.0 2170.8L604.0 2171.3L605.0 2171.4L606.0 2171.4L607.0 2169.9L608.0 2169.9L609.0 2170.1L610.0 2170.3L611.0 2170.7L612.0 2172.1L613.0 2171.2L614.0 2170.5L615.0 2169.9L616.0 2170.5L617.0 2171.2L618.0 2170.2L619.0 2170.8L620.0 2169.7L621.0 2169.6L622.0 2170.2L623.0 2170.0L624.0 2170.5L625.0 2171.1L626.0 2170.5L627.0 2170.0L628.0 2169.9L629.0 2171.0L630.0 2171.8L631.0 2170.7L632.0 2170.2L633.0 2171.3L634.0 2171.7L635.0 2171.1L636.0 2171.0L637.0 2170.5L638.0 2170.2L639.0 2171.6L640.0 2170.8L641.0 2170.2L642.0 2169.5L643.0 2169.6L644.0 2171.0L645.0 2171.3L646.0 2170.9L647.0 2170.8L648.0 2170.2L649.0 2170.2L650.0 2170.4L651.0 2169.9L652.0 2169.8L653.0 2171.3L654.0 2171.4L655.0 2172.6L656.0 2172.7L657.0 2170.9L658.0 2171.7L659.0 2171.9L660.0 2172.6L661.0 2171.2L662.0 2170.8L663.0 2170.4L664.0 2171.7L665.0 2171.9L666.0 2172.3L667.0 2171.6L668.0 2171.7L669.0 2171.4L670.0 2170.8L671.0 2170.8L672.0 2171.7L673.0 2172.3L674.0 2171.8L675.0 2170.8L676.0 2170.7L677.0 2170.5L678.0 2170.7L679.0 2171.4L680.0 2171.3L681.0 2171.6L682.0 2170.3L683.0 2169.9L684.0 2169.9L685.0 2170.6L686.0 2171.2L687.0 2171.2L688.0 2170.6L689.0 2169.2L690.0 2169.7L691.0 2169.5L692.0 2170.4L693.0 2170.0L694.0 2170.4L695.0 2169.5L696.0 2169.0L697.0 2169.1L698.0 2169.1L699.0 2167.8L700.0 2168.2L701.0 2168.2L702.0 2167.8L703.0 2168.1L704.0 2168.2L705.0 2168.0L706.0 2169.1L707.0 2168.7L708.0 2167.7L709.0 2167.8L710.0 2168.9L711.0 2167.9L712.0 2168.1L713.0 2167.7L714.0 2166.9L715.0 2165.3L716.0 2166.1L717.0 2165.6L718.0 2165.8L719.0 2166.4L720.0 2165.5L721.0 2164.2L722.0 2164.3L723.0 2164.4L724.0 2165.0L725.0 2163.9L726.0 2163.4L727.0 2162.9L728.0 2163.5L729.0 2163.5L730.0 2163.3L731.0 2163.1L732.0 2162.5L733.0 2162.3L734.0 2162.2L735.0 2162.0L737.0 2161.5L739.0 2161.0L741.0 2160.5L743.0 2159.9L745.0 2159.3L747.0 2158.8L749.0 2158.2L751.0 2157.6L753.0 2157.0L755.0 2156.4L757.0 2155.8L759.0 2155.3L761.0 2154.8L762.0 2154.4L763.0 2154.2L764.0 2153.6L765.0 2153.7L766.0 2153.1L767.0 2152.4L768.0 2152.7L769.0 2153.4L770.0 2153.0L771.0 2153.5L772.0 2153.2L773.0 2151.9L774.0 2151.0L775.0 2150.6L776.0 2149.6L777.0 2149.8L778.0 2149.0L779.0 2149.4L780.0 2150.2L781.0 2149.0L782.0 2148.4L783.0 2146.9L784.0 2148.2L785.0 2147.2L786.0 2148.1L787.0 2147.7L788.0 2146.3L789.0 2144.3L790.0 2144.5L791.0 2143.6L792.0 2143.3L793.0 2143.1L794.0 2141.9L795.0 2141.1L796.0 2140.7L797.0 2139.2L798.0 2138.4L799.0 2138.5L800.0 2137.7L801.0 2136.2L802.0 2134.7L803.0 2132.7L804.0 2131.7L805.0 2130.6L806.0 2128.2L807.0 2127.2L808.0 2126.1L809.0 2124.6L810.0 2124.5L811.0 2123.7L812.0 2122.7L813.0 2123.0L814.0 2123.9L815.0 2123.3L816.0 2123.0L817.0 2122.3L818.0 2121.5L819.0 2121.0L820.0 2120.2L821.0 2120.0L822.0 2118.1L823.0 2117.6L824.0 2117.1L825.0 2117.1L826.0 2117.9L827.0 2118.9L828.0 2119.3L829.0 2119.9L830.0 2119.0L831.0 2118.1L832.0 2118.9L833.0 2118.1L834.0 2117.1L835.0 2114.9L836.0 2114.3L837.0 2114.8L838.0 2115.3L839.0 2115.3L840.0 2115.6L841.0 2114.5L842.0 2114.2L843.0 2114.2L844.0 2114.1L845.0 2113.4L846.0 2113.9L847.0 2113.8L848.0 2114.4L849.0 2114.3L850.0 2113.6L851.0 2112.8L852.0 2111.2L853.0 2111.3L854.0 2110.9L855.0 2110.9L856.0 2110.1L857.0 2109.0L858.0 2109.4L859.0 2108.8L860.0 2109.9L861.0 2108.6L862.0 2109.0L863.0 2108.4L864.0 2106.4L865.0 2105.5L866.0 2104.0L867.0 2105.0L868.0 2104.0L869.0 2103.3L870.0 2101.4L871.0 2101.0L872.0 2098.9L873.0 2097.2L874.0 2095.5L875.0 2095.1L876.0 2093.7L877.0 2091.8L878.0 2091.3L879.0 2090.4L880.0 2089.9L881.0 2088.7L882.0 2087.9L883.0 2087.0L884.0 2083.9L885.0 2081.6L886.0 2079.9L887.0 2078.4L888.0 2078.4L889.0 2077.1L890.0 2076.1L891.0 2074.3L892.0 2073.8L893.0 2073.1L894.0 2072.2L895.0 2070.2L896.0 2068.0L897.0 2068.0L898.0 2067.2L899.0 2065.3L900.0 2062.0L901.0 2060.9L902.0 2058.1L903.0 2058.0L904.0 2056.5L905.0 2056.4L906.0 2053.5L907.0 2052.1L908.0 2050.8L909.0 2050.0L910.0 2048.3L911.0 2047.6L912.0 2045.6L913.0 2043.7L914.0 2043.7L915.0 2042.4L916.0 2041.6L917.0 2040.4L918.0 2039.2L919.0 2037.7L920.0 2035.7L921.0 2034.2L922.0 2032.1L923.0 2031.1L924.0 2030.8L925.0 2028.6L926.0 2027.5L927.0 2026.2L928.0 2024.9L929.0 2022.1L930.0 2021.0L931.0 2020.2L932.0 2018.5L933.0 2016.7L934.0 2015.1L935.0 2013.3L936.0 2011.6L937.0 2010.4L938.0 2006.3L939.0 2003.9L940.0 1999.7L941.0 1997.2L942.0 1994.5L943.0 1993.4L944.0 1990.8L945.0 1988.3L946.0 1985.3L947.0 1982.3L948.0 1980.0L949.0 1977.8L950.0 1976.2L951.0 1975.3L952.0 1972.5L953.0 1971.3L954.0 1970.1L955.0 1968.0L956.0 1967.1L957.0 1966.0L958.0 1964.1L959.0 1963.4L960.0 1961.9L961.0 1959.9L962.0 1958.0L963.0 1955.1L964.0 1953.7L965.0 1951.6L966.0 1949.4L967.0 1946.3L968.0 1942.9L969.0 1941.4L970.0 1939.3L971.0 1937.2L972.0 1933.9L973.0 1931.3L974.0 1928.7L975.0 1928.1L976.0 1925.3L977.0 1922.8L978.0 1918.8L979.0 1916.9L980.0 1913.7L981.0 1910.5L982.0 1908.5L983.0 1906.0L984.0 1903.1L985.0 1900.1L986.0 1896.0L987.0 1890.9L988.0 1887.4L989.0 1883.7L990.0 1880.1L991.0 1877.2L992.0 1874.8L993.0 1872.7L994.0 1870.9L995.0 1868.0L996.0 1865.9L997.0 1863.0L998.0 1861.0L999.0 1858.9L1000.0 1857.1L1001.0 1856.0L1002.0 1853.4L1003.0 1851.7L1004.0 1849.2L1005.0 1847.1L1006.0 1846.5L1007.0 1844.9L1008.0 1843.4L1009.0 1841.9L1010.0 1840.7L1011.0 1839.7L1012.0 1840.1L1013.0 1838.2L1014.0 1835.6L1015.0 1833.3L1016.0 1829.9L1017.0 1829.4L1018.0 1828.6L1019.0 1827.5L1020.0 1824.9L1021.0 1823.2L1022.0 1823.0L1023.0 1823.1L1024.0 1821.5L1025.0 1821.9L1026.0 1819.8L1027.0 1817.9L1028.0 1816.1L1029.0 1813.3L1030.0 1810.4L1031.0 1808.3L1032.0 1806.9L1033.0 1807.1L1034.0 1806.9L1035.0 1806.0L1036.0 1804.0L1037.0 1802.2L1038.0 1801.5L1039.0 1800.6L1040.0 1797.1L1041.0 1795.7L1042.0 1793.1L1043.0 1792.2L1044.0 1789.1L1045.0 1788.1L1046.0 1786.4L1047.0 1785.6L1048.0 1784.3L1049.0 1782.3L1050.0 1780.5L1051.0 1779.1L1052.0 1778.7L1053.0 1776.1L1054.0 1774.8L1055.0 1772.9L1056.0 1770.7L1057.0 1768.2L1058.0 1766.6L1059.0 1764.6L1060.0 1763.9L1061.0 1762.1L1062.0 1760.5L1063.0 1759.5L1064.0 1759.5L1065.0 1759.5L1066.0 1757.8L1067.0 1758.0L1068.0 1756.0L1069.0 1755.3L1070.0 1753.5L1071.0 1752.3L1072.0 1750.9L1073.0 1751.1L1074.0 1750.7L1075.0 1750.5L1076.0 1749.0L1077.0 1749.4L1078.0 1750.2L1079.0 1751.1L1080.0 1752.1L1081.0 1752.6L1082.0 1751.7L1083.0 1751.2L1084.0 1751.1L1085.0 1751.0L1086.0 1752.2L1087.0 1754.2L1088.0 1756.6L1089.0 1757.9L1090.0 1759.2L1091.0 1760.4L1092.0 1759.9L1093.0 1759.6L1094.0 1759.5L1095.0 1757.4L1096.0 1757.6L1097.0 1757.5L1098.0 1757.3L1099.0 1757.4L1100.0 1758.7L1101.0 1758.8L1102.0 1759.2L1103.0 1759.1L1104.0 1760.3L1105.0 1760.4L1106.0 1761.6L1107.0 1761.8L1108.0 1763.4L1109.0 1764.8L1111.0 1767.8L1113.0 1770.8L1115.0 1774.2L1117.0 1777.9L1119.0 1781.8L1121.0 1785.8L1123.0 1790.0L1125.0 1794.3L1127.0 1798.8L1129.0 1803.3L1131.0 1807.8L1133.0 1812.3L1135.0 1816.9L1137.0 1821.3L1139.0 1825.6L1141.0 1829.6L1143.0 1833.4L1145.0 1837.0L1147.0 1840.3L1149.0 1843.2L1151.0 1845.7L1153.0 1847.9L1155.0 1849.8L1157.0 1851.4L1159.0 1852.7L1161.0 1853.7L1163.0 1854.2L1165.0 1854.2L1167.0 1853.9L1169.0 1853.1L1171.0 1852.2L1173.0 1850.9L1175.0 1849.2L1177.0 1847.0L1179.0 1844.5L1181.0 1841.9L1183.0 1839.4L1185.0 1836.9L1187.0 1834.3L1189.0 1831.4L1191.0 1827.9L1193.0 1823.9L1195.0 1819.4L1197.0 1814.4L1199.0 1809.1L1201.0 1803.4L1203.0 1797.2L1205.0 1790.5L1207.0 1783.4L1209.0 1775.8L1211.0 1768.2L1213.0 1760.7L1215.0 1753.5L1217.0 1746.7L1219.0 1740.2L1221.0 1733.9L1223.0 1727.8L1225.0 1722.0L1227.0 1716.4L1229.0 1711.0L1231.0 1705.8L1233.0 1700.8L1235.0 1696.0L1237.0 1691.6L1239.0 1687.8L1241.0 1684.5L1243.0 1681.6L1245.0 1679.1L1247.0 1676.8L1249.0 1674.8L1251.0 1673.2L1253.0 1672.1L1255.0 1671.6L1257.0 1671.8L1259.0 1672.5L1261.0 1673.8L1263.0 1675.6L1265.0 1677.8L1267.0 1680.2L1269.0 1682.9L1271.0 1686.1L1273.0 1690.0L1275.0 1694.6L1277.0 1699.7L1279.0 1705.2L1281.0 1710.9L1283.0 1716.6L1285.0 1722.3L1287.0 1728.2L1289.0 1734.2L1291.0 1740.3L1293.0 1746.5L1295.0 1752.8L1297.0 1759.0L1299.0 1765.3L1301.0 1771.6L1303.0 1778.0L1305.0 1784.4L1307.0 1790.9L1309.0 1797.5L1311.0 1804.2L1313.0 1810.9L1315.0 1817.6L1317.0 1824.2L1319.0 1830.5L1321.0 1836.5L1323.0 1842.4L1325.0 1848.3L1327.0 1854.3L1329.0 1860.3L1331.0 1866.4L1333.0 1872.6L1335.0 1878.9L1337.0 1885.3L1339.0 1891.9L1341.0 1898.6L1342.0 1901.9L1343.0 1905.9L1344.0 1910.8L1345.0 1915.1L1346.0 1918.5L1347.0 1921.1L1348.0 1923.9L1349.0 1927.8L1350.0 1931.3L1351.0 1934.3L1352.0 1937.8L1353.0 1944.5L1354.0 1947.5L1355.0 1951.6L1356.0 1954.5L1357.0 1960.2L1358.0 1964.9L1359.0 1969.1L1360.0 1974.5L1361.0 1978.0L1362.0 1981.9L1363.0 1986.0L1364.0 1988.3L1365.0 1992.9L1366.0 1995.3L1367.0 1998.9L1368.0 2001.6L1369.0 2005.2L1370.0 2007.3L1371.0 2009.5L1372.0 2011.6L1373.0 2014.4L1374.0 2019.4L1375.0 2023.2L1376.0 2026.8L1377.0 2028.8L1378.0 2029.1L1379.0 2031.2L1380.0 2035.2L1381.0 2036.5L1382.0 2038.3L1383.0 2041.1L1384.0 2044.7L1385.0 2047.9L1386.0 2050.7L1387.0 2053.6L1388.0 2057.4L1389.0 2061.7L1390.0 2065.0L1391.0 2067.0L1392.0 2071.1L1393.0 2073.9L1394.0 2075.2L1395.0 2077.0L1396.0 2079.4L1397.0 2082.1L1398.0 2083.4L1399.0 2086.2L1400.0 2089.2L1401.0 2091.0L1402.0 2093.6L1403.0 2097.4L1404.0 2100.7L1405.0 2102.7L1406.0 2105.2L1407.0 2104.3L1408.0 2105.7L1409.0 2107.4L1410.0 2109.1L1411.0 2110.3L1412.0 2112.0L1413.0 2114.0L1414.0 2115.0L1415.0 2119.4L1416.0 2123.1L1417.0 2126.5L1418.0 2129.5L1419.0 2133.7L1421.0 2142.1L1422.0 2145.6L1423.0 2148.8L1424.0 2152.1L1425.0 2154.0L1426.0 2158.3L1427.0 2160.0L1428.0 2157.0L1429.0 2163.9L1430.0 2163.5L1431.0 2164.2L1432.0 2156.3L1433.0 2160.1L1434.0 2163.5L1435.0 2161.5L1436.0 2161.8L1437.0 2164.0L1438.0 2162.2L1439.0 2163.1L1440.0 2168.3L1441.0 2164.9L1442.0 2168.5L1443.0 2166.4L1444.0 2165.7L1445.0 2162.3L1446.0 2162.7L1447.0 2170.2L1448.0 2165.3L1449.0 2165.6L1450.0 2169.6L1451.0 2164.4L1452.0 2166.0L1453.0 2163.7L1454.0 2166.0L1455.0 2168.8L1456.0 2164.2L1457.0 2169.9L1458.0 2169.7L1459.0 2169.1L1460.0 2168.1L1461.0 2166.8L1462.0 2168.3L1463.0 2171.0L1464.0 2167.4L1465.0 2172.9L1466.0 2168.9L1467.0 2168.9L1468.0 2168.2L1469.0 2164.8L1470.0 2170.6L1471.0 2170.4L1472.0 2174.5L1473.0 2173.4L1474.0 2169.3L1475.0 2169.4L1476.0 2168.7L1477.0 2170.1L1478.0 2163.5L1479.0 2161.3L1480.0 2161.7L1481.0 2166.2L1482.0 2167.5L1483.0 2161.3L1484.0 2165.7L1485.0 2167.0L1486.0 2166.8L1487.0 2167.6L1488.0 2165.1L1489.0 2168.2L1490.0 2169.6L1491.0 2164.4L1492.0 2170.3L1493.0 2163.7L1494.0 2161.2L1495.0 2163.4L1496.0 2157.5L1497.0 2158.2L1498.0 2156.8L1499.0 2159.8L1500.0 2159.5L1501.0 2160.2L1502.0 2165.0L1503.0 2160.7L1504.0 2159.1L1505.0 2157.2L1506.0 2158.7L1507.0 2156.9L1508.0 2161.7L1509.0 2157.5L1510.0 2158.2L1511.0 2155.2L1512.0 2157.5L1513.0 2155.1L1514.0 2155.9L1515.0 2157.5L1516.0 2160.6L1517.0 2161.3L1518.0 2163.0L1519.0 2165.4L1520.0 2157.0L1521.0 2159.4L1522.0 2156.3L1523.0 2157.8L1524.0 2158.4L1525.0 2158.5L1526.0 2159.1L1527.0 2165.6L1528.0 2162.5L1529.0 2169.0L1530.0 2164.1L1531.0 2159.8L1532.0 2160.5L1533.0 2163.3L1534.0 2165.7L1535.0 2164.9L1536.0 2167.9L1537.0 2166.3L1538.0 2166.5L1539.0 2166.2L1540.0 2166.5L1541.0 2160.8L1542.0 2162.7L1543.0 2163.2L1544.0 2164.2L1545.0 2162.9L1546.0 2170.1L1547.0 2161.2L1548.0 2165.6L1549.0 2164.7L1550.0 2163.9L1551.0 2163.3L1552.0 2168.6L1553.0 2167.5L1554.0 2163.8L1555.0 2163.5L1556.0 2161.1L1557.0 2162.8" stroke="#ff8000" stroke-width="7.6"/>
<path d="M1421.0 2141.8L1422.0 2140.7L1423.0 2152.3L1424.0 2146.9L1425.0 2150.1L1426.0 2155.2L1427.0 2157.6L1428.0 2146.0L1429.0 2168.7L1430.0 2150.4L1431.0 2155.0L1432.0 2154.6L1433.0 2163.8L1434.0 2154.4L1435.0 2155.6L1436.0 2154.0L1437.0 2162.9L1438.0 2165.0L1439.0 2162.8L1440.0 2174.4L1441.0 2156.1L1442.0 2164.0L1443.0 2155.1L1444.0 2161.9L1445.0 2170.9L1446.0 2165.9L1447.0 2167.6L1448.0 2152.8L1449.0 2165.7L1450.0 2153.3L1451.0 2167.9L1452.0 2163.4L1453.0 2168.0L1454.0 2164.6L1455.0 2168.3L1456.0 2168.0L1457.0 2154.2L1458.0 2167.9L1459.0 2181.9L1460.0 2173.5L1461.0 2167.6L1462.0 2169.4L1463.0 2158.6L1464.0 2166.4L1465.0 2167.0L1466.0 2168.6L1467.0 2167.0L1468.0 2171.6L1469.0 2170.3L1470.0 2168.2L1471.0 2167.9L1472.0 2177.9L1473.0 2160.1L1474.0 2168.6L1475.0 2170.2L1476.0 2162.4L1477.0 2166.7L1478.0 2168.2L1479.0 2172.7L1480.0 2167.7L1481.0 2166.9L1482.0 2167.0L1483.0 2166.8L1484.0 2163.5L1485.0 2164.4L1486.0 2163.5L1487.0 2180.2L1488.0 2165.4L1489.0 2165.0L1490.0 2168.9L1491.0 2168.4L1492.0 2162.5L1493.0 2167.0L1494.0 2169.7L1495.0 2155.2L1496.0 2154.4L1497.0 2161.8L1498.0 2151.0L1499.0 2161.5L1500.0 2170.8L1501.0 2170.0L1502.0 2149.2L1503.0 2157.5L1504.0 2163.5L1505.0 2152.4L1506.0 2159.7L1507.0 2166.6L1508.0 2172.1L1509.0 2162.9L1510.0 2160.1L1511.0 2172.1L1512.0 2160.1L1513.0 2157.4L1514.0 2162.0L1515.0 2158.5L1516.0 2151.2L1517.0 2159.4L1518.0 2160.4L1519.0 2148.5L1520.0 2166.2L1521.0 2155.8L1522.0 2161.0L1523.0 2168.8L1524.0 2168.4L1525.0 2155.1L1526.0 2161.9L1527.0 2162.0L1528.0 2168.6L1529.0 2174.7L1530.0 2156.2L1531.0 2164.6L1532.0 2170.3L1533.0 2164.3L1534.0 2163.9L1535.0 2174.2L1536.0 2163.0L1537.0 2168.1L1538.0 2159.9L1539.0 2164.8L1540.0 2151.7L1541.0 2174.1L1542.0 2176.9L1543.0 2163.9L1544.0 2165.9L1545.0 2165.0L1546.0 2180.2L1547.0 2156.7L1548.0 2163.9L1549.0 2164.5L1550.0 2176.5L1551.0 2171.3L1552.0 2166.4L1553.0 2156.0L1554.0 2151.3L1555.0 2159.2L1556.0 2161.3L1557.0 2167.5" stroke="#ff8000" stroke-width="2.6" stroke-linejoin="miter" stroke-miterlimit="6"/>
<path d="M191.0 2174.4L192.0 2174.5L193.0 2174.6L194.0 2174.7L195.0 2174.8L196.0 2174.7L197.0 2174.6L198.0 2174.7L199.0 2175.0L200.0 2175.1L201.0 2175.1L202.0 2175.3L203.0 2175.4L204.0 2175.7L205.0 2175.7L206.0 2175.8L207.0 2175.9L208.0 2176.0L209.0 2176.2L210.0 2176.1L211.0 2176.2L212.0 2176.0L213.0 2176.2L214.0 2175.9L215.0 2176.1L216.0 2176.3L217.0 2176.3L218.0 2176.4L219.0 2176.2L220.0 2176.3L221.0 2176.2L222.0 2176.6L223.0 2176.7L224.0 2177.0L225.0 2177.1L226.0 2177.0L227.0 2177.2L228.0 2177.2L229.0 2177.0L230.0 2176.6L231.0 2176.6L232.0 2176.4L233.0 2176.4L234.0 2176.8L235.0 2177.1L236.0 2177.2L237.0 2177.2L238.0 2176.9L239.0 2176.7L240.0 2177.1L241.0 2177.0L242.0 2177.2L243.0 2177.0L244.0 2176.9L245.0 2176.9L246.0 2176.6L247.0 2176.8L248.0 2177.1L249.0 2177.3L250.0 2177.2L251.0 2176.8L252.0 2176.7L253.0 2176.5L254.0 2176.7L255.0 2176.7L256.0 2176.6L257.0 2176.4L258.0 2176.3L259.0 2175.9L260.0 2175.7L261.0 2175.8L262.0 2175.8L263.0 2176.0L264.0 2176.1L265.0 2176.2L266.0 2176.2L267.0 2175.9L268.0 2175.8L269.0 2175.7L270.0 2175.6L271.0 2175.9L272.0 2175.5L273.0 2175.3L274.0 2174.8L275.0 2174.6L276.0 2174.5L277.0 2174.4L278.0 2174.5L279.0 2174.6L280.0 2174.5L281.0 2174.6L282.0 2174.8L283.0 2175.0L284.0 2174.4L285.0 2174.2L286.0 2173.7L287.0 2173.8L288.0 2173.9L289.0 2173.6L290.0 2173.6L291.0 2173.4L292.0 2173.8L293.0 2173.9L294.0 2173.8L295.0 2173.7L296.0 2173.4L297.0 2173.3L298.0 2173.2L299.0 2172.9L300.0 2172.6L301.0 2172.5L302.0 2172.6L303.0 2172.9L304.0 2173.0L305.0 2173.2L306.0 2173.5L307.0 2173.5L308.0 2173.2L309.0 2172.8L310.0 2172.3L311.0 2172.5L312.0 2172.5L313.0 2172.7L314.0 2172.6L315.0 2172.4L316.0 2172.4L317.0 2172.3L318.0 2172.4L319.0 2172.4L320.0 2172.1L321.0 2172.0L322.0 2171.8L323.0 2171.5L324.0 2171.9L325.0 2172.2L326.0 2172.4L327.0 2172.4L328.0 2172.2L329.0 2172.1L330.0 2172.1L331.0 2172.2L332.0 2172.1L333.0 2172.0L334.0 2171.7L335.0 2171.5L336.0 2171.5L337.0 2171.8L338.0 2171.7L339.0 2171.6L340.0 2171.5L341.0 2171.4L342.0 2171.5L343.0 2171.2L344.0 2171.5L345.0 2171.5L346.0 2171.7L347.0 2171.7L348.0 2171.6L349.0 2171.4L350.0 2171.2L351.0 2171.4L352.0 2171.6L353.0 2171.3L354.0 2171.2L355.0 2171.0L356.0 2170.8L357.0 2171.1L358.0 2171.3L359.0 2171.3L360.0 2171.5L361.0 2171.4L362.0 2171.2L363.0 2170.8L364.0 2170.8L365.0 2170.7L366.0 2170.6L367.0 2170.6L368.0 2170.7L369.0 2171.1L370.0 2170.8L371.0 2170.8L372.0 2170.8L373.0 2171.0L374.0 2171.0L375.0 2170.9L376.0 2170.9L377.0 2171.1L378.0 2171.2L379.0 2171.2L380.0 2170.7L381.0 2170.6L382.0 2170.6L383.0 2170.5L384.0 2170.7L385.0 2170.6L386.0 2170.5L387.0 2170.3L388.0 2170.3L389.0 2170.2L390.0 2170.2L391.0 2170.3L392.0 2170.3L393.0 2170.9L394.0 2171.0L395.0 2170.9L396.0 2170.8L397.0 2170.8L398.0 2170.9L399.0 2170.7L400.0 2170.5L401.0 2170.1L402.0 2170.0L403.0 2170.1L404.0 2170.2L405.0 2170.5L406.0 2170.5L407.0 2170.5L408.0 2170.5L409.0 2170.6L410.0 2170.5L411.0 2170.3L412.0 2170.2L413.0 2170.2L414.0 2170.0L415.0 2170.0L416.0 2170.0L417.0 2170.0L418.0 2170.2L419.0 2170.3L420.0 2170.3L421.0 2170.2L422.0 2170.3L423.0 2170.1L424.0 2170.1L425.0 2170.1L426.0 2170.0L427.0 2169.9L428.0 2169.8L429.0 2169.9L430.0 2169.7L431.0 2169.6L432.0 2169.8L433.0 2169.5L434.0 2169.7L435.0 2169.6L436.0 2169.5L437.0 2169.4L438.0 2169.2L439.0 2169.3L440.0 2169.4L441.0 2169.1L442.0 2168.9L443.0 2168.7L444.0 2168.5L445.0 2168.3L446.0 2168.3L447.0 2168.5L448.0 2168.9L449.0 2168.9L450.0 2168.9L451.0 2168.4L452.0 2168.5L453.0 2168.3L454.0 2168.2L455.0 2167.9L456.0 2167.7L457.0 2167.3L458.0 2167.5L459.0 2167.4L460.0 2167.4L461.0 2167.3L462.0 2167.1L463.0 2166.8L464.0 2166.7L465.0 2166.8L466.0 2166.7L467.0 2166.6L468.0 2166.4L469.0 2166.4L470.0 2166.3L471.0 2166.6L472.0 2166.7L473.0 2166.5L474.0 2166.3L475.0 2166.0L476.0 2166.0L477.0 2166.0L478.0 2166.0L479.0 2165.8L481.0 2165.6L482.0 2165.5L483.0 2165.2L484.0 2165.0L485.0 2165.3L486.0 2165.0L487.0 2165.1L488.0 2165.3L489.0 2164.8L490.0 2165.3L491.0 2165.2L492.0 2165.3L493.0 2164.8L494.0 2165.0L495.0 2164.7L496.0 2164.7L497.0 2164.3L498.0 2164.1L499.0 2163.5L500.0 2164.3L501.0 2164.2L502.0 2164.3L503.0 2163.9L504.0 2164.1L505.0 2164.6L506.0 2164.9L507.0 2164.7L508.0 2164.4L509.0 2163.4L510.0 2163.4L511.0 2163.0L512.0 2163.5L513.0 2164.3L514.0 2164.4L515.0 2164.7L516.0 2164.0L517.0 2164.3L518.0 2164.0L519.0 2164.9L520.0 2165.1L521.0 2165.1L522.0 2164.9L523.0 2164.1L524.0 2163.5L525.0 2163.5L526.0 2163.8L527.0 2164.0L528.0 2163.7L529.0 2163.8L530.0 2163.8L531.0 2163.9L532.0 2164.5L533.0 2164.9L534.0 2165.3L535.0 2165.7L536.0 2165.5L537.0 2165.1L538.0 2164.6L539.0 2164.2L540.0 2164.8L541.0 2164.2L542.0 2164.5L543.0 2164.5L544.0 2165.1L545.0 2165.6L546.0 2165.8L547.0 2166.0L548.0 2166.2L549.0 2165.8L550.0 2165.8L551.0 2165.4L552.0 2165.2L553.0 2165.7L554.0 2165.9L555.0 2166.1L556.0 2165.7L557.0 2165.7L558.0 2165.1L559.0 2165.0L560.0 2165.4L561.0 2165.8L562.0 2165.9L563.0 2166.4L564.0 2166.8L565.0 2166.8L566.0 2167.0L567.0 2167.5L568.0 2168.0L569.0 2167.3L570.0 2166.7L571.0 2166.5L572.0 2166.2L573.0 2166.4L574.0 2166.8L575.0 2166.6L576.0 2167.4L577.0 2168.6L578.0 2169.0L579.0 2169.1L580.0 2169.0L581.0 2168.6L582.0 2168.6L583.0 2168.4L584.0 2168.9L585.0 2168.7L586.0 2168.6L587.0 2169.1L588.0 2168.8L589.0 2169.4L590.0 2169.9L591.0 2169.8L592.0 2170.0L593.0 2170.0L594.0 2170.0L595.0 2169.9L596.0 2169.8L597.0 2169.9L598.0 2169.8L599.0 2170.0L601.0 2169.8L602.0 2169.8L603.0 2170.2L604.0 2170.7L605.0 2170.8L606.0 2170.8L607.0 2169.3L608.0 2169.3L609.0 2169.5L610.0 2169.7L611.0 2170.1L612.0 2171.5L613.0 2170.6L614.0 2169.9L615.0 2169.3L616.0 2169.9L617.0 2170.6L618.0 2169.6L619.0 2170.2L620.0 2169.1L621.0 2169.0L622.0 2169.6L623.0 2169.4L624.0 2169.9L625.0 2170.5L626.0 2169.9L627.0 2169.4L628.0 2169.3L629.0 2170.4L630.0 2171.2L631.0 2170.1L632.0 2169.6L633.0 2170.7L634.0 2171.1L635.0 2170.5L636.0 2170.4L637.0 2169.9L638.0 2169.6L639.0 2171.0L640.0 2170.2L641.0 2169.6L642.0 2168.9L643.0 2169.0L644.0 2170.4L645.0 2170.7L646.0 2170.3L647.0 2170.2L648.0 2169.6L649.0 2169.6L650.0 2169.8L651.0 2169.3L652.0 2169.2L653.0 2170.7L654.0 2170.8L655.0 2172.0L656.0 2172.1L657.0 2170.3L658.0 2171.1L659.0 2171.3L660.0 2172.0L661.0 2170.6L662.0 2170.2L663.0 2169.8L664.0 2171.1L665.0 2171.3L666.0 2171.7L667.0 2171.0L668.0 2171.1L669.0 2170.8L670.0 2170.2L671.0 2170.2L672.0 2171.1L673.0 2171.7L674.0 2171.2L675.0 2170.2L676.0 2170.1L677.0 2169.9L678.0 2170.1L679.0 2170.8L680.0 2170.7L681.0 2171.0L682.0 2169.7L683.0 2169.3L684.0 2169.3L685.0 2170.0L686.0 2170.6L687.0 2170.6L688.0 2170.0L689.0 2168.6L690.0 2169.1L691.0 2168.9L692.0 2169.8L693.0 2169.4L694.0 2169.8L695.0 2168.9L696.0 2168.4L697.0 2168.5L698.0 2168.5L699.0 2167.2L700.0 2167.6L701.0 2167.6L702.0 2167.2L703.0 2167.5L704.0 2167.6L705.0 2167.4L706.0 2168.5L707.0 2168.1L708.0 2167.1L709.0 2167.2L710.0 2168.3L711.0 2167.3L712.0 2167.5L713.0 2167.1L714.0 2166.3L715.0 2164.7L716.0 2165.5L717.0 2165.0L718.0 2165.2L719.0 2165.8L720.0 2164.9L721.0 2163.6L722.0 2163.7L723.0 2163.8L724.0 2164.5L725.0 2163.2L726.0 2162.5L727.0 2161.8L728.0 2162.7L729.0 2163.1L730.0 2162.9L731.0 2162.9L732.0 2161.4L733.0 2160.7L734.0 2160.7L735.0 2161.0L736.0 2162.1L737.0 2161.7L738.0 2161.3L739.0 2159.9L740.0 2157.9L741.0 2156.1L742.0 2155.7L743.0 2156.3L744.0 2155.6L745.0 2155.8L746.0 2155.0L747.0 2155.6L748.0 2154.7L749.0 2154.1L750.0 2153.8L751.0 2152.4L752.0 2151.5L753.0 2150.9L754.0 2150.8L755.0 2149.3L756.0 2149.1L757.0 2147.9L758.0 2147.4L759.0 2147.1L761.0 2146.1L762.0 2145.8L763.0 2145.0L764.0 2144.2L765.0 2143.7L766.0 2143.2L767.0 2141.9L768.0 2140.6L769.0 2140.0L770.0 2142.2L771.0 2140.9L772.0 2139.8L773.0 2138.6L774.0 2138.2L775.0 2138.7L776.0 2138.4L777.0 2137.8L778.0 2136.3L779.0 2136.8L780.0 2136.0L781.0 2135.2L782.0 2134.3L783.0 2132.3L784.0 2130.9L785.0 2129.0L786.0 2130.2L787.0 2128.9L788.0 2129.7L789.0 2130.0L790.0 2130.7L791.0 2128.1L792.0 2127.0L793.0 2123.9L794.0 2124.5L795.0 2124.2L796.0 2124.2L797.0 2125.0L798.0 2122.5L799.0 2121.7L800.0 2121.0L801.0 2122.0L802.0 2121.1L803.0 2119.9L804.0 2119.4L805.0 2118.7L806.0 2117.1L807.0 2115.1L808.0 2115.0L809.0 2115.3L810.0 2115.7L811.0 2114.3L812.0 2113.9L813.0 2111.9L814.0 2112.9L815.0 2112.2L816.0 2110.9L817.0 2110.3L818.0 2108.2L819.0 2108.1L820.0 2109.0L821.0 2109.4L822.0 2109.6L823.0 2107.7L824.0 2105.0L825.0 2104.1L826.0 2103.3L827.0 2104.8L828.0 2103.8L829.0 2103.4L830.0 2102.0L831.0 2100.4L832.0 2101.2L833.0 2100.1L834.0 2100.2L835.0 2100.0L836.0 2100.4L837.0 2101.1L838.0 2100.8L839.0 2099.7L840.0 2097.9L841.0 2096.2L842.0 2096.7L843.0 2096.0L844.0 2095.1L845.0 2095.2L846.0 2095.4L847.0 2094.1L848.0 2094.3L849.0 2095.7L850.0 2096.1L851.0 2096.2L852.0 2094.7L853.0 2094.0L854.0 2091.8L855.0 2090.2L856.0 2089.5L857.0 2089.5L858.0 2088.9L859.0 2089.0L860.0 2088.3L861.0 2086.9L862.0 2087.3L863.0 2087.2L864.0 2087.9L865.0 2085.9L866.0 2084.4L867.0 2082.4L868.0 2081.0L869.0 2079.1L870.0 2077.2L871.0 2075.1L872.0 2074.8L873.0 2073.6L874.0 2072.5L875.0 2072.1L876.0 2070.7L877.0 2070.3L878.0 2071.0L879.0 2070.1L880.0 2067.3L881.0 2066.5L882.0 2063.5L883.0 2063.1L884.0 2062.3L885.0 2061.3L886.0 2058.1L887.0 2057.1L888.0 2055.4L889.0 2053.6L890.0 2052.6L891.0 2051.4L892.0 2050.1L893.0 2047.5L894.0 2046.0L895.0 2045.7L896.0 2044.4L897.0 2042.1L898.0 2039.9L899.0 2037.3L900.0 2035.4L901.0 2032.7L902.0 2029.2L903.0 2026.8L904.0 2025.6L905.0 2024.8L906.0 2025.0L907.0 2023.8L908.0 2021.6L909.0 2018.8L910.0 2016.9L911.0 2014.3L912.0 2010.8L913.0 2010.4L914.0 2008.3L915.0 2006.3L916.0 2002.9L917.0 2001.2L918.0 2000.5L919.0 2000.6L920.0 1997.6L921.0 1996.5L922.0 1993.4L923.0 1993.9L924.0 1993.4L925.0 1991.3L926.0 1989.6L927.0 1988.4L928.0 1986.9L929.0 1985.7L930.0 1983.8L931.0 1980.1L932.0 1977.2L933.0 1973.0L934.0 1970.9L935.0 1968.9L936.0 1968.1L937.0 1965.4L938.0 1962.8L939.0 1959.4L940.0 1957.4L941.0 1955.1L942.0 1952.0L943.0 1949.2L944.0 1946.5L945.0 1944.3L946.0 1940.9L947.0 1938.9L948.0 1936.8L949.0 1935.5L950.0 1932.6L951.0 1929.4L952.0 1926.3L953.0 1924.8L954.0 1921.5L955.0 1919.6L956.0 1916.6L957.0 1916.1L958.0 1913.7L959.0 1911.9L960.0 1909.3L961.0 1906.5L962.0 1904.0L963.0 1900.9L964.0 1896.2L965.0 1892.4L966.0 1889.1L967.0 1886.0L968.0 1882.0L969.0 1879.8L970.0 1877.6L971.0 1877.4L972.0 1875.9L973.0 1873.7L974.0 1870.8L975.0 1867.3L976.0 1867.3L977.0 1865.3L978.0 1862.0L979.0 1859.3L980.0 1856.4L981.0 1854.2L982.0 1851.5L983.0 1848.1L984.0 1845.4L985.0 1841.9L986.0 1840.0L987.0 1837.0L988.0 1833.9L989.0 1832.8L990.0 1828.6L991.0 1824.4L992.0 1821.2L993.0 1818.1L994.0 1815.9L995.0 1813.6L996.0 1810.7L997.0 1808.3L998.0 1807.3L999.0 1806.8L1000.0 1804.0L1001.0 1801.7L1002.0 1798.5L1003.0 1795.4L1004.0 1793.8L1005.0 1792.2L1006.0 1790.7L1007.0 1789.3L1008.0 1787.7L1009.0 1787.3L1010.0 1784.6L1011.0 1783.6L1012.0 1780.8L1013.0 1778.4L1014.0 1775.9L1015.0 1772.1L1016.0 1769.8L1017.0 1769.1L1018.0 1768.2L1019.0 1765.6L1020.0 1764.3L1021.0 1761.7L1022.0 1760.4L1023.0 1758.0L1024.0 1754.5L1025.0 1753.9L1026.0 1751.0L1027.0 1749.6L1028.0 1746.3L1029.0 1742.8L1030.0 1741.3L1031.0 1738.1L1032.0 1737.3L1033.0 1735.9L1034.0 1736.5L1035.0 1736.0L1036.0 1736.2L1037.0 1734.2L1038.0 1731.8L1039.0 1730.1L1040.0 1728.7L1041.0 1726.6L1042.0 1725.9L1043.0 1725.7L1044.0 1723.1L1045.0 1721.4L1046.0 1719.4L1047.0 1718.0L1048.0 1716.0L1049.0 1713.6L1050.0 1711.3L1051.0 1707.6L1052.0 1706.0L1053.0 1704.3L1054.0 1703.2L1055.0 1702.3L1056.0 1701.1L1057.0 1697.8L1058.0 1695.9L1059.0 1693.7L1060.0 1692.4L1061.0 1689.4L1062.0 1686.4L1063.0 1685.8L1064.0 1683.5L1065.0 1681.1L1066.0 1679.4L1067.0 1679.2L1068.0 1678.7L1069.0 1677.0L1070.0 1676.3L1071.0 1675.2L1072.0 1675.2L1073.0 1674.8L1074.0 1674.1L1075.0 1672.7L1076.0 1670.4L1077.0 1669.6L1078.0 1670.9L1079.0 1669.4L1080.0 1667.6L1081.0 1667.2L1082.0 1666.1L1083.0 1666.4L1084.0 1667.9L1085.0 1669.4L1086.0 1669.3L1087.0 1667.7L1088.0 1667.1L1089.0 1668.9L1090.0 1670.4L1091.0 1674.2L1092.0 1675.6L1093.0 1677.4L1094.0 1676.1L1095.0 1676.3L1096.0 1676.2L1097.0 1675.9L1098.0 1676.1L1099.0 1674.5L1100.0 1675.7L1101.0 1675.3L1102.0 1676.8L1103.0 1678.6L1104.0 1678.7L1105.0 1679.6L1106.0 1680.1L1107.0 1680.7L1108.0 1682.5L1109.0 1684.1L1111.0 1687.4L1113.0 1691.0L1115.0 1694.9L1117.0 1699.0L1119.0 1703.5L1121.0 1708.2L1123.0 1713.3L1125.0 1718.4L1127.0 1723.8L1129.0 1729.3L1131.0 1735.0L1133.0 1740.7L1135.0 1746.4L1137.0 1752.1L1139.0 1757.7L1141.0 1763.2L1143.0 1768.7L1145.0 1774.2L1147.0 1779.7L1149.0 1785.1L1151.0 1790.4L1153.0 1795.4L1155.0 1800.1L1157.0 1804.4L1159.0 1808.4L1161.0 1812.0L1163.0 1815.5L1165.0 1818.8L1167.0 1822.1L1169.0 1825.3L1171.0 1828.2L1173.0 1830.9L1175.0 1833.1L1177.0 1834.9L1179.0 1836.2L1181.0 1837.2L1183.0 1837.7L1185.0 1837.6L1187.0 1836.8L1189.0 1835.4L1191.0 1833.5L1193.0 1831.3L1195.0 1828.9L1197.0 1826.3L1199.0 1823.3L1201.0 1819.9L1203.0 1816.3L1205.0 1812.5L1207.0 1808.5L1209.0 1804.3L1211.0 1799.8L1213.0 1795.1L1215.0 1790.3L1217.0 1785.3L1219.0 1780.3L1221.0 1775.3L1223.0 1770.2L1225.0 1765.1L1227.0 1759.9L1229.0 1754.5L1231.0 1748.9L1233.0 1743.4L1235.0 1738.5L1237.0 1734.4L1239.0 1730.9L1241.0 1727.9L1243.0 1725.3L1245.0 1723.1L1247.0 1721.2L1249.0 1719.5L1251.0 1718.0L1253.0 1716.7L1255.0 1715.6L1257.0 1714.8L1259.0 1714.4L1261.0 1714.4L1263.0 1714.8L1265.0 1715.5L1267.0 1716.5L1269.0 1717.7L1271.0 1719.2L1273.0 1721.0L1275.0 1723.3L1277.0 1726.2L1279.0 1729.8L1281.0 1733.9L1283.0 1738.2L1285.0 1742.7L1287.0 1747.3L1289.0 1752.1L1291.0 1757.1L1293.0 1762.3L1295.0 1767.6L1297.0 1772.9L1299.0 1778.2L1301.0 1783.5L1303.0 1789.2L1305.0 1795.5L1307.0 1802.9L1309.0 1811.2L1311.0 1819.7L1312.0 1823.1L1313.0 1826.8L1314.0 1830.5L1315.0 1834.5L1316.0 1839.3L1317.0 1842.5L1318.0 1845.4L1319.0 1850.1L1320.0 1854.2L1321.0 1861.4L1322.0 1867.4L1323.0 1872.1L1324.0 1879.4L1325.0 1886.5L1326.0 1891.7L1327.0 1896.4L1328.0 1900.2L1329.0 1905.3L1330.0 1910.0L1331.0 1914.4L1332.0 1919.5L1333.0 1925.7L1334.0 1928.4L1335.0 1932.0L1336.0 1935.7L1337.0 1938.1L1338.0 1942.7L1339.0 1946.5L1340.0 1950.2L1341.0 1954.6L1342.0 1962.1L1343.0 1967.0L1344.0 1973.4L1345.0 1979.4L1346.0 1986.4L1347.0 1993.5L1348.0 2001.1L1349.0 2006.9L1350.0 2014.2L1351.0 2020.0L1352.0 2025.9L1353.0 2031.3L1354.0 2038.2L1355.0 2045.2L1356.0 2052.6L1357.0 2059.3L1358.0 2066.0L1359.0 2069.5L1360.0 2075.1L1361.0 2081.7L1362.0 2088.4L1363.0 2094.6L1364.0 2099.2L1365.0 2105.2L1366.0 2111.0L1367.0 2116.9L1368.0 2121.9L1369.0 2124.2L1370.0 2127.4L1371.0 2129.0L1372.0 2131.1L1373.0 2133.1L1374.0 2133.8L1375.0 2132.7L1376.0 2132.8L1377.0 2133.4L1378.0 2132.6L1379.0 2133.4L1380.0 2134.7L1381.0 2136.5L1382.0 2139.7L1383.0 2143.6L1384.0 2147.8L1385.0 2152.8L1386.0 2157.9L1387.0 2163.3L1388.0 2168.3L1389.0 2172.7L1390.0 2176.9L1391.0 2177.9L1392.0 2178.1L1393.0 2178.8L1394.0 2175.8L1395.0 2180.1L1396.0 2175.5L1397.0 2174.3L1398.0 2174.6L1399.0 2179.3L1400.0 2175.6L1401.0 2175.5L1402.0 2176.7L1403.0 2179.0L1404.0 2175.2L1405.0 2178.5L1406.0 2177.2L1407.0 2174.6L1408.0 2170.7L1409.0 2174.3L1410.0 2176.7L1411.0 2173.9L1412.0 2180.8L1413.0 2179.3L1414.0 2181.9L1415.0 2178.2L1416.0 2175.8L1417.0 2186.1L1418.0 2188.0L1419.0 2187.4L1420.0 2187.9L1421.0 2180.6L1422.0 2178.5L1423.0 2181.7L1424.0 2180.0L1425.0 2180.4L1426.0 2176.2L1427.0 2178.8L1428.0 2179.4L1429.0 2179.1L1430.0 2184.8L1431.0 2185.0L1432.0 2190.0L1433.0 2191.0L1434.0 2182.1L1435.0 2188.8L1436.0 2184.4L1437.0 2179.5L1438.0 2178.7L1439.0 2180.6L1440.0 2178.0L1441.0 2179.7L1442.0 2186.8L1443.0 2183.3L1444.0 2180.6L1445.0 2182.7L1446.0 2186.0L1447.0 2181.4L1448.0 2184.1L1449.0 2186.0L1450.0 2177.3L1451.0 2176.8L1452.0 2181.5L1453.0 2186.9L1454.0 2186.4L1455.0 2187.7L1456.0 2179.5L1457.0 2183.8L1458.0 2181.7L1459.0 2184.0L1460.0 2185.0L1461.0 2183.9L1462.0 2186.7L1463.0 2187.7L1464.0 2187.5L1465.0 2188.7L1466.0 2190.6L1467.0 2185.1L1468.0 2186.9L1469.0 2183.3L1470.0 2184.7L1471.0 2187.3L1472.0 2187.0L1473.0 2181.9L1474.0 2187.7L1475.0 2186.9L1476.0 2182.4L1477.0 2186.9L1478.0 2183.7L1479.0 2187.0L1480.0 2189.0L1481.0 2186.5L1482.0 2187.2L1483.0 2190.5L1484.0 2188.4L1485.0 2186.4L1486.0 2186.0L1487.0 2186.8L1488.0 2181.8L1489.0 2185.8L1490.0 2185.2L1491.0 2189.9L1492.0 2190.9L1493.0 2189.2L1494.0 2190.2L1495.0 2180.7L1496.0 2185.4L1497.0 2187.7L1498.0 2189.9L1499.0 2186.1L1500.0 2180.6L1501.0 2187.0L1502.0 2180.9L1503.0 2180.7L1504.0 2182.7L1505.0 2182.2L1506.0 2185.1L1507.0 2179.5L1508.0 2178.5L1509.0 2177.7L1510.0 2179.6L1511.0 2179.7L1512.0 2182.2L1513.0 2183.3L1514.0 2183.4L1515.0 2186.0L1516.0 2185.2L1517.0 2192.8L1518.0 2190.6L1519.0 2188.3L1520.0 2183.0L1521.0 2187.1L1522.0 2183.3L1523.0 2184.1L1524.0 2187.3L1525.0 2185.8L1526.0 2180.9L1527.0 2179.2L1528.0 2183.4L1529.0 2183.5L1530.0 2186.5L1531.0 2183.8L1532.0 2188.9L1533.0 2186.4L1534.0 2193.1L1535.0 2183.8L1536.0 2188.5L1537.0 2193.6L1538.0 2195.2L1539.0 2196.2L1540.0 2197.2L1541.0 2198.3L1542.0 2197.4L1543.0 2201.2L1544.0 2202.5L1545.0 2206.7L1546.0 2207.5L1547.0 2212.6L1548.0 2212.2L1549.0 2211.6L1550.0 2213.5L1551.0 2216.6L1552.0 2223.9L1553.0 2223.8L1554.0 2222.7L1555.0 2223.8L1556.0 2224.4L1557.0 2221.6" stroke="#ff0000" stroke-width="7.4"/>
<path d="M1386.0 2157.8L1387.0 2162.1L1388.0 2159.9L1389.0 2171.2L1390.0 2171.6L1391.0 2165.4L1392.0 2175.9L1393.0 2195.1L1394.0 2183.9L1395.0 2192.0L1396.0 2184.8L1397.0 2177.7L1398.0 2189.1L1399.0 2160.4L1400.0 2174.0L1401.0 2189.9L1402.0 2166.5L1403.0 2182.6L1404.0 2174.3L1405.0 2177.5L1406.0 2166.0L1407.0 2169.2L1408.0 2169.8L1409.0 2177.5L1410.0 2174.8L1411.0 2194.1L1412.0 2187.9L1413.0 2185.4L1414.0 2172.2L1415.0 2179.5L1416.0 2186.8L1417.0 2174.3L1418.0 2186.6L1419.0 2200.6L1420.0 2190.8L1421.0 2180.8L1422.0 2180.2L1423.0 2182.4L1424.0 2164.3L1425.0 2163.7L1426.0 2164.5L1427.0 2184.9L1428.0 2189.3L1429.0 2184.3L1430.0 2185.3L1431.0 2184.0L1432.0 2180.2L1433.0 2173.1L1434.0 2167.6L1435.0 2184.7L1436.0 2182.7L1437.0 2182.2L1438.0 2182.6L1439.0 2182.8L1440.0 2185.0L1441.0 2188.1L1442.0 2178.7L1443.0 2173.3L1444.0 2168.4L1445.0 2201.4L1446.0 2182.4L1447.0 2175.8L1448.0 2199.1L1449.0 2199.2L1450.0 2165.0L1451.0 2196.0L1452.0 2182.8L1453.0 2178.7L1454.0 2170.8L1455.0 2170.3L1456.0 2185.4L1457.0 2185.9L1458.0 2200.9L1459.0 2171.6L1460.0 2200.4L1461.0 2173.7L1462.0 2198.7L1463.0 2200.7L1464.0 2193.1L1465.0 2193.7L1466.0 2184.0L1467.0 2202.3L1468.0 2177.1L1469.0 2186.2L1470.0 2184.6L1471.0 2182.5L1472.0 2194.5L1473.0 2185.1L1474.0 2176.2L1475.0 2185.6L1476.0 2184.7L1477.0 2197.5L1478.0 2170.6L1479.0 2175.6L1480.0 2185.6L1481.0 2181.2L1482.0 2181.0L1483.0 2203.1L1484.0 2192.7L1485.0 2186.5L1486.0 2188.1L1487.0 2184.6L1488.0 2195.0L1489.0 2191.4L1490.0 2190.4L1491.0 2186.0L1492.0 2184.9L1493.0 2175.1L1494.0 2192.1L1495.0 2192.6L1496.0 2165.9L1497.0 2179.5L1498.0 2202.8L1499.0 2182.1L1500.0 2182.5L1501.0 2203.8L1502.0 2193.4L1503.0 2203.0L1504.0 2184.3L1505.0 2179.0L1506.0 2190.8L1507.0 2181.8L1508.0 2184.2L1509.0 2197.0L1510.0 2183.9L1511.0 2200.9L1512.0 2175.2L1513.0 2177.2L1514.0 2188.9L1515.0 2190.0L1516.0 2197.8L1517.0 2193.7L1518.0 2184.7L1519.0 2188.8L1520.0 2191.6L1521.0 2189.5L1522.0 2175.5L1523.0 2186.5L1524.0 2186.9L1525.0 2200.8L1526.0 2186.5L1527.0 2187.9L1528.0 2171.9L1529.0 2188.3L1530.0 2195.3L1531.0 2187.9L1532.0 2188.1L1533.0 2188.9L1534.0 2179.6L1535.0 2186.6L1536.0 2200.5L1537.0 2202.4L1538.0 2191.8L1539.0 2206.3L1540.0 2185.2L1541.0 2189.1L1542.0 2187.3L1543.0 2199.5L1544.0 2184.7L1545.0 2190.3L1546.0 2194.5L1547.0 2198.1L1548.0 2208.1L1549.0 2197.8L1550.0 2214.1L1551.0 2219.6L1552.0 2233.7L1553.0 2229.7L1554.0 2211.6L1555.0 2233.5L1556.0 2233.1L1557.0 2222.5" stroke="#ff0000" stroke-width="2.6" stroke-linejoin="miter" stroke-miterlimit="6"/>
</g>
<line x1="1256.2" y1="1373.2" x2="1256.2" y2="1433.9" stroke="#000" stroke-width="6.3"/>
<line x1="1085" y1="1590.7" x2="1085" y2="1653.5" stroke="#000" stroke-width="6.0"/>
<line x1="1001.4" y1="1694" x2="1001.4" y2="1756.5" stroke="#000" stroke-width="8.6"/>
<line x1="825.8" y1="2015.3" x2="825.8" y2="2077.8" stroke="#000" stroke-width="6.9"/>
<line x1="1506.4" y1="2076" x2="1506.4" y2="2138.6" stroke="#000" stroke-width="7.9"/>
<line x1="1263.3" y1="1444" x2="1331.2" y2="1408.2" stroke="#000" stroke-width="1.6"/>
<line x1="1272.9" y1="1465" x2="1328.4" y2="1434.4" stroke="#000" stroke-width="1.6"/>
<line x1="1257.6" y1="1528.2" x2="1338.9" y2="1493.8" stroke="#000" stroke-width="1.6"/>
<text transform="translate(99.35 2129.0) scale(0.9698 1)" font-size="50.14" font-weight="normal" text-anchor="start" stroke="#000" stroke-width="2.0" stroke-linejoin="round">0.0</text>
<text transform="translate(99.35 1916.4) scale(0.972 1)" font-size="50.14" font-weight="normal" text-anchor="start" stroke="#000" stroke-width="2.0" stroke-linejoin="round">0.1</text>
<text transform="translate(99.34 1703.1) scale(0.9772 1)" font-size="50.14" font-weight="normal" text-anchor="start" stroke="#000" stroke-width="2.0" stroke-linejoin="round">0.2</text>
<text transform="translate(99.35 1490.2) scale(0.9735 1)" font-size="50.14" font-weight="normal" text-anchor="start" stroke="#000" stroke-width="2.0" stroke-linejoin="round">0.3</text>
<text transform="translate(99.37 1276.3) scale(0.9624 1)" font-size="50.14" font-weight="normal" text-anchor="start" stroke="#000" stroke-width="2.0" stroke-linejoin="round">0.4</text>
<text transform="translate(145.3 2292.4) scale(0.9693 1)" font-size="49.58" font-weight="normal" text-anchor="start" stroke="#000" stroke-width="2.0" stroke-linejoin="round">2000</text>
<text transform="translate(417.45 2292.4) scale(0.954 1)" font-size="49.58" font-weight="normal" text-anchor="start" stroke="#000" stroke-width="2.0" stroke-linejoin="round">1800</text>
<text transform="translate(688.45 2292.4) scale(0.954 1)" font-size="49.58" font-weight="normal" text-anchor="start" stroke="#000" stroke-width="2.0" stroke-linejoin="round">1600</text>
<text transform="translate(959.45 2292.4) scale(0.954 1)" font-size="49.58" font-weight="normal" text-anchor="start" stroke="#000" stroke-width="2.0" stroke-linejoin="round">1400</text>
<text transform="translate(1230.45 2292.4) scale(0.954 1)" font-size="49.58" font-weight="normal" text-anchor="start" stroke="#000" stroke-width="2.0" stroke-linejoin="round">1200</text>
<text transform="translate(1501.45 2292.4) scale(0.954 1)" font-size="49.58" font-weight="normal" text-anchor="start" stroke="#000" stroke-width="2.0" stroke-linejoin="round">1000</text>
<text transform="translate(256.02 1346.9) scale(0.9678 1)" font-size="120.43" font-weight="bold" text-anchor="start" stroke="#000" stroke-width="1.6" stroke-linejoin="round">B</text>
<text transform="translate(1207.19 1349.0) scale(0.8797 1)" font-size="55.49" font-weight="normal" text-anchor="start" stroke="#000" stroke-width="0.3" stroke-linejoin="round">1218</text>
<text transform="translate(1035.06 1563.91) scale(0.9357 1)" font-size="53.94" font-weight="normal" text-anchor="start" stroke="#000" stroke-width="0.3" stroke-linejoin="round">1350</text>
<text transform="translate(936.38 1669.31) scale(0.9028 1)" font-size="54.23" font-weight="normal" text-anchor="start" stroke="#000" stroke-width="0.3" stroke-linejoin="round">1405</text>
<text transform="translate(767.99 1990.3) scale(0.8875 1)" font-size="55.0" font-weight="normal" text-anchor="start" stroke="#000" stroke-width="0.3" stroke-linejoin="round">1545</text>
<text transform="translate(1441.77 2064.3) scale(0.8893 1)" font-size="55.21" font-weight="normal" text-anchor="start" stroke="#000" stroke-width="0.3" stroke-linejoin="round">1030</text>
<text transform="translate(1336.02 1395.76)" font-size="50.5" font-weight="normal" text-anchor="start" stroke="#000" stroke-width="0.3" stroke-linejoin="round">g</text>
<text transform="translate(1340.05 1465.46)" font-size="50.5" font-weight="normal" text-anchor="start" stroke="#000" stroke-width="0.3" stroke-linejoin="round">f</text>
<text transform="translate(1340.39 1518.28)" font-size="50.5" font-weight="normal" text-anchor="start" stroke="#000" stroke-width="0.3" stroke-linejoin="round">e</text>
<text transform="translate(1240.97 1836.05)" font-size="50.5" font-weight="normal" text-anchor="start" stroke="#000" stroke-width="0.3" stroke-linejoin="round">d</text>
<text transform="translate(1241.22 1995.23)" font-size="50.5" font-weight="normal" text-anchor="start" stroke="#000" stroke-width="0.3" stroke-linejoin="round">c</text>
<text transform="translate(1241.36 2066.95)" font-size="50.5" font-weight="normal" text-anchor="start" stroke="#000" stroke-width="0.3" stroke-linejoin="round">b</text>
<text transform="translate(1237.7 2153.98)" font-size="50.5" font-weight="normal" text-anchor="start" stroke="#000" stroke-width="0.3" stroke-linejoin="round">a</text>
<text transform="translate(1076.56 1879.11)" font-size="50.5" font-weight="normal" text-anchor="start" stroke="#000" stroke-width="0.3" stroke-linejoin="round">h</text>
<text transform="translate(1078.44 1794.06)" font-size="50.5" font-weight="normal" text-anchor="start" stroke="#000" stroke-width="0.3" stroke-linejoin="round">i</text>
<text transform="translate(1077.22 1718.25)" font-size="50.5" font-weight="normal" text-anchor="start" stroke="#000" stroke-width="0.3" stroke-linejoin="round">j</text>
<text transform="translate(667.05 2378.90) scale(0.9759 1)" font-size="50.89" stroke="#000" stroke-width="1.4" stroke-linejoin="round">Wavenumber (cm<tspan font-size="30.53" dy="-25.44" stroke-width="0.9">-1</tspan><tspan dy="25.44">)</tspan></text>
<text transform="translate(78.10 1921.36) rotate(-90) scale(1.0218 1)" font-size="50.28" word-spacing="-3.20" stroke="#000" stroke-width="1.4" stroke-linejoin="round">Absorbance <tspan letter-spacing="-1.1">(a.u.)</tspan></text>
</g>
</svg>
</body>
</html>
